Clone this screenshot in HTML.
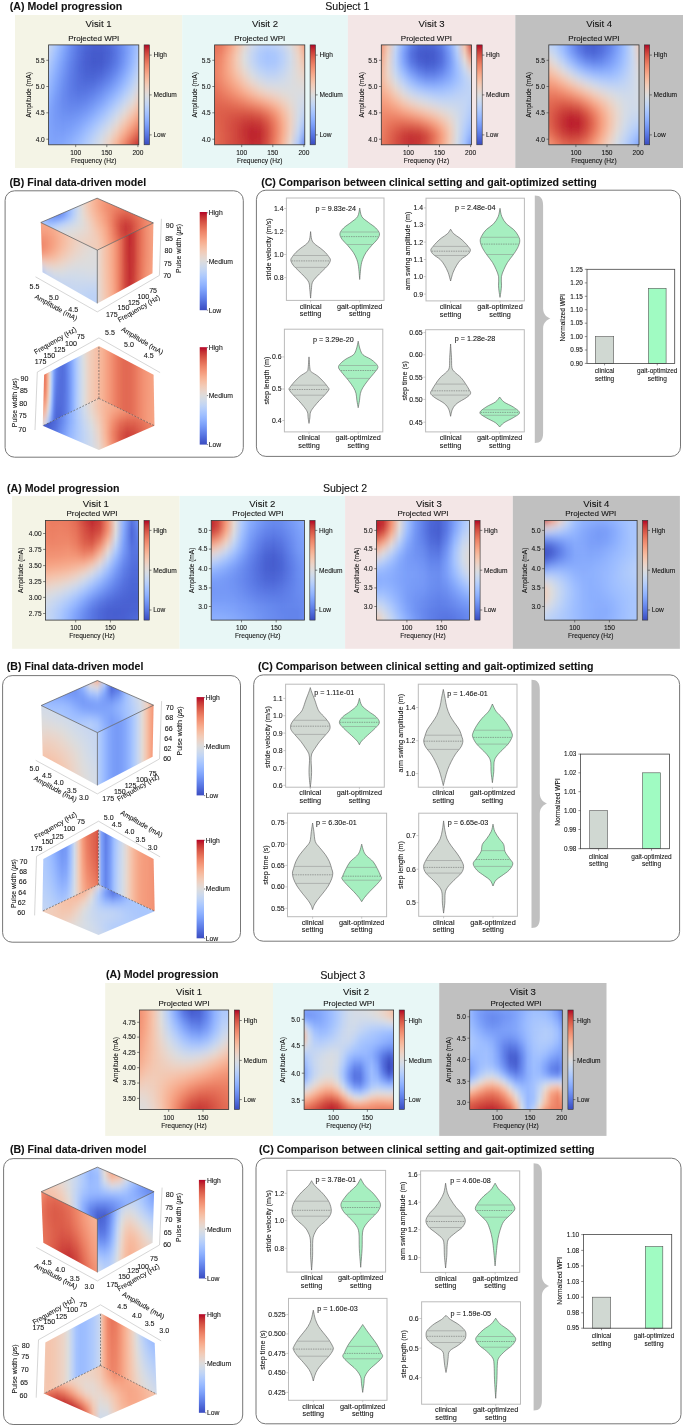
<!DOCTYPE html>
<html><head><meta charset="utf-8"><style>html,body{margin:0;padding:0;background:#fff;width:685px;height:1427px;overflow:hidden}svg{display:block;filter:blur(0.3px)}text{fill:#111;stroke:#111;stroke-width:0.08px}</style></head>
<body><svg width="685" height="1427" viewBox="0 0 685 1427" font-family='"Liberation Sans", sans-serif'>
<defs><clipPath id="c1"><rect x="48.6" y="44.9" width="90.2" height="99.9"/></clipPath><filter id="f2" x="-5%" y="-20%" width="110%" height="140%"><feGaussianBlur stdDeviation="0 4.16"/></filter><linearGradient id="l3"><stop offset="0" stop-color="#cfdaea"/><stop offset=".083" stop-color="#afcafc"/><stop offset=".167" stop-color="#8db0fe"/><stop offset=".25" stop-color="#6e90f2"/><stop offset=".333" stop-color="#5977e3"/><stop offset=".417" stop-color="#4e68d8"/><stop offset=".5" stop-color="#4961d2"/><stop offset=".583" stop-color="#4961d2"/><stop offset=".667" stop-color="#4f69d9"/><stop offset=".75" stop-color="#5e7de7"/><stop offset=".833" stop-color="#7597f6"/><stop offset=".917" stop-color="#90b2fe"/><stop offset="1" stop-color="#afcafc"/></linearGradient><linearGradient id="l4"><stop offset="0" stop-color="#cfdaea"/><stop offset=".083" stop-color="#afcafc"/><stop offset=".167" stop-color="#8db0fe"/><stop offset=".25" stop-color="#6e90f2"/><stop offset=".333" stop-color="#5977e3"/><stop offset=".417" stop-color="#4e68d8"/><stop offset=".5" stop-color="#4961d2"/><stop offset=".583" stop-color="#4961d2"/><stop offset=".667" stop-color="#4f69d9"/><stop offset=".75" stop-color="#5e7de7"/><stop offset=".833" stop-color="#7597f6"/><stop offset=".917" stop-color="#90b2fe"/><stop offset="1" stop-color="#afcafc"/></linearGradient><linearGradient id="l5"><stop offset="0" stop-color="#c4d5f3"/><stop offset=".083" stop-color="#a2c1ff"/><stop offset=".167" stop-color="#82a6fb"/><stop offset=".25" stop-color="#688aef"/><stop offset=".333" stop-color="#5572df"/><stop offset=".417" stop-color="#4961d2"/><stop offset=".5" stop-color="#445acc"/><stop offset=".583" stop-color="#445acc"/><stop offset=".667" stop-color="#4a63d3"/><stop offset=".75" stop-color="#5977e3"/><stop offset=".833" stop-color="#7093f3"/><stop offset=".917" stop-color="#8fb1fe"/><stop offset="1" stop-color="#b2ccfb"/></linearGradient><linearGradient id="l6"><stop offset="0" stop-color="#bad0f8"/><stop offset=".083" stop-color="#98b9ff"/><stop offset=".167" stop-color="#7b9ff9"/><stop offset=".25" stop-color="#6384eb"/><stop offset=".333" stop-color="#536edd"/><stop offset=".417" stop-color="#485fd1"/><stop offset=".5" stop-color="#4358cb"/><stop offset=".583" stop-color="#445acc"/><stop offset=".667" stop-color="#4c66d6"/><stop offset=".75" stop-color="#5b7ae5"/><stop offset=".833" stop-color="#7597f6"/><stop offset=".917" stop-color="#94b6ff"/><stop offset="1" stop-color="#bad0f8"/></linearGradient><linearGradient id="l7"><stop offset="0" stop-color="#afcafc"/><stop offset=".083" stop-color="#90b2fe"/><stop offset=".167" stop-color="#7699f6"/><stop offset=".25" stop-color="#6180e9"/><stop offset=".333" stop-color="#516ddb"/><stop offset=".417" stop-color="#4961d2"/><stop offset=".5" stop-color="#465ecf"/><stop offset=".583" stop-color="#4961d2"/><stop offset=".667" stop-color="#5470de"/><stop offset=".75" stop-color="#6485ec"/><stop offset=".833" stop-color="#7ea1fa"/><stop offset=".917" stop-color="#9ebeff"/><stop offset="1" stop-color="#c4d5f3"/></linearGradient><linearGradient id="l8"><stop offset="0" stop-color="#a5c3fe"/><stop offset=".083" stop-color="#88abfd"/><stop offset=".167" stop-color="#7093f3"/><stop offset=".25" stop-color="#5e7de7"/><stop offset=".333" stop-color="#536edd"/><stop offset=".417" stop-color="#4c66d6"/><stop offset=".5" stop-color="#4c66d6"/><stop offset=".583" stop-color="#536edd"/><stop offset=".667" stop-color="#5f7fe8"/><stop offset=".75" stop-color="#7396f5"/><stop offset=".833" stop-color="#8db0fe"/><stop offset=".917" stop-color="#adc9fd"/><stop offset="1" stop-color="#cfdaea"/></linearGradient><linearGradient id="l9"><stop offset="0" stop-color="#9dbdff"/><stop offset=".083" stop-color="#82a6fb"/><stop offset=".167" stop-color="#6c8ff1"/><stop offset=".25" stop-color="#5d7ce6"/><stop offset=".333" stop-color="#5470de"/><stop offset=".417" stop-color="#536edd"/><stop offset=".5" stop-color="#5673e0"/><stop offset=".583" stop-color="#6180e9"/><stop offset=".667" stop-color="#6f92f3"/><stop offset=".75" stop-color="#84a7fc"/><stop offset=".833" stop-color="#9ebeff"/><stop offset=".917" stop-color="#bcd2f7"/><stop offset="1" stop-color="#dcdddd"/></linearGradient><linearGradient id="l10"><stop offset="0" stop-color="#94b6ff"/><stop offset=".083" stop-color="#7b9ff9"/><stop offset=".167" stop-color="#6a8bef"/><stop offset=".25" stop-color="#5e7de7"/><stop offset=".333" stop-color="#5977e3"/><stop offset=".417" stop-color="#5b7ae5"/><stop offset=".5" stop-color="#6384eb"/><stop offset=".583" stop-color="#7093f3"/><stop offset=".667" stop-color="#82a6fb"/><stop offset=".75" stop-color="#98b9ff"/><stop offset=".833" stop-color="#b3cdfb"/><stop offset=".917" stop-color="#cedaeb"/><stop offset="1" stop-color="#e9d5cb"/></linearGradient><linearGradient id="l11"><stop offset="0" stop-color="#8caffe"/><stop offset=".083" stop-color="#779af7"/><stop offset=".167" stop-color="#6a8bef"/><stop offset=".25" stop-color="#6384eb"/><stop offset=".333" stop-color="#6282ea"/><stop offset=".417" stop-color="#6788ee"/><stop offset=".5" stop-color="#7295f4"/><stop offset=".583" stop-color="#81a4fb"/><stop offset=".667" stop-color="#97b8ff"/><stop offset=".75" stop-color="#afcafc"/><stop offset=".833" stop-color="#c9d7f0"/><stop offset=".917" stop-color="#e0dbd8"/><stop offset="1" stop-color="#f3c8b2"/></linearGradient><linearGradient id="l12"><stop offset="0" stop-color="#85a8fc"/><stop offset=".083" stop-color="#7699f6"/><stop offset=".167" stop-color="#6c8ff1"/><stop offset=".25" stop-color="#6a8bef"/><stop offset=".333" stop-color="#6c8ff1"/><stop offset=".417" stop-color="#7597f6"/><stop offset=".5" stop-color="#82a6fb"/><stop offset=".583" stop-color="#96b7ff"/><stop offset=".667" stop-color="#adc9fd"/><stop offset=".75" stop-color="#c5d6f2"/><stop offset=".833" stop-color="#dddcdc"/><stop offset=".917" stop-color="#f0cdbb"/><stop offset="1" stop-color="#f7b396"/></linearGradient><linearGradient id="l13"><stop offset="0" stop-color="#82a6fb"/><stop offset=".083" stop-color="#779af7"/><stop offset=".167" stop-color="#7295f4"/><stop offset=".25" stop-color="#7396f5"/><stop offset=".333" stop-color="#799cf8"/><stop offset=".417" stop-color="#85a8fc"/><stop offset=".5" stop-color="#96b7ff"/><stop offset=".583" stop-color="#aac7fd"/><stop offset=".667" stop-color="#c1d4f4"/><stop offset=".75" stop-color="#d9dce1"/><stop offset=".833" stop-color="#eed0c0"/><stop offset=".917" stop-color="#f7b89c"/><stop offset="1" stop-color="#f39778"/></linearGradient><linearGradient id="l14"><stop offset="0" stop-color="#82a6fb"/><stop offset=".083" stop-color="#7a9df8"/><stop offset=".167" stop-color="#779af7"/><stop offset=".25" stop-color="#7b9ff9"/><stop offset=".333" stop-color="#85a8fc"/><stop offset=".417" stop-color="#96b7ff"/><stop offset=".5" stop-color="#a9c6fd"/><stop offset=".583" stop-color="#bfd3f6"/><stop offset=".667" stop-color="#d5dbe5"/><stop offset=".75" stop-color="#ead4c8"/><stop offset=".833" stop-color="#f6bda2"/><stop offset=".917" stop-color="#f59c7d"/><stop offset="1" stop-color="#e8765c"/></linearGradient><linearGradient id="l15"><stop offset="0" stop-color="#82a6fb"/><stop offset=".083" stop-color="#7da0f9"/><stop offset=".167" stop-color="#7ea1fa"/><stop offset=".25" stop-color="#85a8fc"/><stop offset=".333" stop-color="#92b4fe"/><stop offset=".417" stop-color="#a5c3fe"/><stop offset=".5" stop-color="#bad0f8"/><stop offset=".583" stop-color="#cfdaea"/><stop offset=".667" stop-color="#e4d9d2"/><stop offset=".75" stop-color="#f4c5ad"/><stop offset=".833" stop-color="#f6a385"/><stop offset=".917" stop-color="#e97a5f"/><stop offset="1" stop-color="#d55042"/></linearGradient><linearGradient id="l16"><stop offset="0" stop-color="#82a6fb"/><stop offset=".083" stop-color="#81a4fb"/><stop offset=".167" stop-color="#85a8fc"/><stop offset=".25" stop-color="#90b2fe"/><stop offset=".333" stop-color="#9ebeff"/><stop offset=".417" stop-color="#b1cbfc"/><stop offset=".5" stop-color="#c6d6f1"/><stop offset=".583" stop-color="#dbdcde"/><stop offset=".667" stop-color="#efcfbf"/><stop offset=".75" stop-color="#f7b194"/><stop offset=".833" stop-color="#ee8468"/><stop offset=".917" stop-color="#d65244"/><stop offset="1" stop-color="#be242e"/></linearGradient><linearGradient id="l17"><stop offset="0" stop-color="#82a6fb"/><stop offset=".083" stop-color="#81a4fb"/><stop offset=".167" stop-color="#85a8fc"/><stop offset=".25" stop-color="#90b2fe"/><stop offset=".333" stop-color="#9ebeff"/><stop offset=".417" stop-color="#b1cbfc"/><stop offset=".5" stop-color="#c6d6f1"/><stop offset=".583" stop-color="#dbdcde"/><stop offset=".667" stop-color="#efcfbf"/><stop offset=".75" stop-color="#f7b194"/><stop offset=".833" stop-color="#ee8468"/><stop offset=".917" stop-color="#d65244"/><stop offset="1" stop-color="#be242e"/></linearGradient><linearGradient id="cb18" x1="0" y1="0" x2="0" y2="1"><stop offset="0" stop-color="#b40426"/><stop offset="0.05" stop-color="#c53334"/><stop offset="0.1" stop-color="#d65244"/><stop offset="0.15" stop-color="#e36c55"/><stop offset="0.2" stop-color="#ee8468"/><stop offset="0.25" stop-color="#f4987a"/><stop offset="0.3" stop-color="#f7ac8e"/><stop offset="0.35" stop-color="#f6bda2"/><stop offset="0.4" stop-color="#f2cbb7"/><stop offset="0.45" stop-color="#e9d5cb"/><stop offset="0.5" stop-color="#dddcdc"/><stop offset="0.55" stop-color="#cfdaea"/><stop offset="0.6" stop-color="#c0d4f5"/><stop offset="0.65" stop-color="#afcafc"/><stop offset="0.7" stop-color="#9ebeff"/><stop offset="0.75" stop-color="#8db0fe"/><stop offset="0.8" stop-color="#7b9ff9"/><stop offset="0.85" stop-color="#6a8bef"/><stop offset="0.9" stop-color="#5977e3"/><stop offset="0.95" stop-color="#4961d2"/><stop offset="1" stop-color="#3b4cc0"/></linearGradient><clipPath id="c19"><rect x="214.6" y="44.9" width="90.2" height="99.9"/></clipPath><filter id="f20" x="-5%" y="-20%" width="110%" height="140%"><feGaussianBlur stdDeviation="0 4.16"/></filter><linearGradient id="l21"><stop offset="0" stop-color="#e36c55"/><stop offset=".083" stop-color="#e97a5f"/><stop offset=".167" stop-color="#f4987a"/><stop offset=".25" stop-color="#f7bca1"/><stop offset=".333" stop-color="#e9d5cb"/><stop offset=".417" stop-color="#d2dbe8"/><stop offset=".5" stop-color="#c0d4f5"/><stop offset=".583" stop-color="#bbd1f8"/><stop offset=".667" stop-color="#c0d4f5"/><stop offset=".75" stop-color="#cbd8ee"/><stop offset=".833" stop-color="#dddcdc"/><stop offset=".917" stop-color="#f2cbb7"/><stop offset="1" stop-color="#f4987a"/></linearGradient><linearGradient id="l22"><stop offset="0" stop-color="#e36c55"/><stop offset=".083" stop-color="#e97a5f"/><stop offset=".167" stop-color="#f4987a"/><stop offset=".25" stop-color="#f7bca1"/><stop offset=".333" stop-color="#e9d5cb"/><stop offset=".417" stop-color="#d2dbe8"/><stop offset=".5" stop-color="#c0d4f5"/><stop offset=".583" stop-color="#bbd1f8"/><stop offset=".667" stop-color="#c0d4f5"/><stop offset=".75" stop-color="#cbd8ee"/><stop offset=".833" stop-color="#dddcdc"/><stop offset=".917" stop-color="#f2cbb7"/><stop offset="1" stop-color="#f4987a"/></linearGradient><linearGradient id="l23"><stop offset="0" stop-color="#e8765c"/><stop offset=".083" stop-color="#ee8468"/><stop offset=".167" stop-color="#f7a688"/><stop offset=".25" stop-color="#f3c8b2"/><stop offset=".333" stop-color="#dddcdc"/><stop offset=".417" stop-color="#c4d5f3"/><stop offset=".5" stop-color="#afcafc"/><stop offset=".583" stop-color="#a6c4fe"/><stop offset=".667" stop-color="#aac7fd"/><stop offset=".75" stop-color="#bad0f8"/><stop offset=".833" stop-color="#d1dae9"/><stop offset=".917" stop-color="#ecd3c5"/><stop offset="1" stop-color="#f7ac8e"/></linearGradient><linearGradient id="l24"><stop offset="0" stop-color="#ea7b60"/><stop offset=".083" stop-color="#f18d6f"/><stop offset=".167" stop-color="#f7ac8e"/><stop offset=".25" stop-color="#f2cbb7"/><stop offset=".333" stop-color="#dcdddd"/><stop offset=".417" stop-color="#c4d5f3"/><stop offset=".5" stop-color="#afcafc"/><stop offset=".583" stop-color="#a6c4fe"/><stop offset=".667" stop-color="#a9c6fd"/><stop offset=".75" stop-color="#b9d0f9"/><stop offset=".833" stop-color="#cfdaea"/><stop offset=".917" stop-color="#e8d6cc"/><stop offset="1" stop-color="#f6bda2"/></linearGradient><linearGradient id="l25"><stop offset="0" stop-color="#eb7d62"/><stop offset=".083" stop-color="#f29072"/><stop offset=".167" stop-color="#f7ac8e"/><stop offset=".25" stop-color="#f3c7b1"/><stop offset=".333" stop-color="#e4d9d2"/><stop offset=".417" stop-color="#cedaeb"/><stop offset=".5" stop-color="#bcd2f7"/><stop offset=".583" stop-color="#b3cdfb"/><stop offset=".667" stop-color="#b5cdfa"/><stop offset=".75" stop-color="#c1d4f4"/><stop offset=".833" stop-color="#d3dbe7"/><stop offset=".917" stop-color="#e5d8d1"/><stop offset="1" stop-color="#f1ccb8"/></linearGradient><linearGradient id="l26"><stop offset="0" stop-color="#ea7b60"/><stop offset=".083" stop-color="#f18f71"/><stop offset=".167" stop-color="#f6a586"/><stop offset=".25" stop-color="#f7bca1"/><stop offset=".333" stop-color="#efcfbf"/><stop offset=".417" stop-color="#dedcdb"/><stop offset=".5" stop-color="#cfdaea"/><stop offset=".583" stop-color="#c6d6f1"/><stop offset=".667" stop-color="#c6d6f1"/><stop offset=".75" stop-color="#cdd9ec"/><stop offset=".833" stop-color="#d7dce3"/><stop offset=".917" stop-color="#e1dad6"/><stop offset="1" stop-color="#e9d5cb"/></linearGradient><linearGradient id="l27"><stop offset="0" stop-color="#e7745b"/><stop offset=".083" stop-color="#ee8468"/><stop offset=".167" stop-color="#f39778"/><stop offset=".25" stop-color="#f7aa8c"/><stop offset=".333" stop-color="#f6bfa6"/><stop offset=".417" stop-color="#efcfbf"/><stop offset=".5" stop-color="#e3d9d3"/><stop offset=".583" stop-color="#dadce0"/><stop offset=".667" stop-color="#d7dce3"/><stop offset=".75" stop-color="#d7dce3"/><stop offset=".833" stop-color="#d9dce1"/><stop offset=".917" stop-color="#dddcdc"/><stop offset="1" stop-color="#e0dbd8"/></linearGradient><linearGradient id="l28"><stop offset="0" stop-color="#e36c55"/><stop offset=".083" stop-color="#e8765c"/><stop offset=".167" stop-color="#ee8468"/><stop offset=".25" stop-color="#f39475"/><stop offset=".333" stop-color="#f6a586"/><stop offset=".417" stop-color="#f7b79b"/><stop offset=".5" stop-color="#f4c6af"/><stop offset=".583" stop-color="#efcfbf"/><stop offset=".667" stop-color="#e9d5cb"/><stop offset=".75" stop-color="#e2dad5"/><stop offset=".833" stop-color="#dddcdc"/><stop offset=".917" stop-color="#d9dce1"/><stop offset="1" stop-color="#d7dce3"/></linearGradient><linearGradient id="l29"><stop offset="0" stop-color="#e0654f"/><stop offset=".083" stop-color="#e26952"/><stop offset=".167" stop-color="#e46e56"/><stop offset=".25" stop-color="#e8765c"/><stop offset=".333" stop-color="#ec8165"/><stop offset=".417" stop-color="#f18f71"/><stop offset=".5" stop-color="#f59d7e"/><stop offset=".583" stop-color="#f7ad90"/><stop offset=".667" stop-color="#f6bea4"/><stop offset=".75" stop-color="#f0cdbb"/><stop offset=".833" stop-color="#e4d9d2"/><stop offset=".917" stop-color="#d7dce3"/><stop offset="1" stop-color="#cdd9ec"/></linearGradient><linearGradient id="l30"><stop offset="0" stop-color="#df634e"/><stop offset=".083" stop-color="#dd5f4b"/><stop offset=".167" stop-color="#dc5d4a"/><stop offset=".25" stop-color="#dc5d4a"/><stop offset=".333" stop-color="#dc5d4a"/><stop offset=".417" stop-color="#de614d"/><stop offset=".5" stop-color="#e36c55"/><stop offset=".583" stop-color="#ec8165"/><stop offset=".667" stop-color="#f59d7e"/><stop offset=".75" stop-color="#f7bca1"/><stop offset=".833" stop-color="#ebd3c6"/><stop offset=".917" stop-color="#d5dbe5"/><stop offset="1" stop-color="#c0d4f5"/></linearGradient><linearGradient id="l31"><stop offset="0" stop-color="#df634e"/><stop offset=".083" stop-color="#dc5d4a"/><stop offset=".167" stop-color="#d75445"/><stop offset=".25" stop-color="#d24b40"/><stop offset=".333" stop-color="#cd423b"/><stop offset=".417" stop-color="#cb3e38"/><stop offset=".5" stop-color="#cf453c"/><stop offset=".583" stop-color="#dd5f4b"/><stop offset=".667" stop-color="#ee8468"/><stop offset=".75" stop-color="#f7af91"/><stop offset=".833" stop-color="#efcfbf"/><stop offset=".917" stop-color="#d2dbe8"/><stop offset="1" stop-color="#aec9fc"/></linearGradient><linearGradient id="l32"><stop offset="0" stop-color="#e16751"/><stop offset=".083" stop-color="#dd5f4b"/><stop offset=".167" stop-color="#d65244"/><stop offset=".25" stop-color="#cf453c"/><stop offset=".333" stop-color="#c53334"/><stop offset=".417" stop-color="#c0282f"/><stop offset=".5" stop-color="#c32e31"/><stop offset=".583" stop-color="#d44e41"/><stop offset=".667" stop-color="#ea7b60"/><stop offset=".75" stop-color="#f7a98b"/><stop offset=".833" stop-color="#efcfbf"/><stop offset=".917" stop-color="#cbd8ee"/><stop offset="1" stop-color="#97b8ff"/></linearGradient><linearGradient id="l33"><stop offset="0" stop-color="#e36c55"/><stop offset=".083" stop-color="#de614d"/><stop offset=".167" stop-color="#d75445"/><stop offset=".25" stop-color="#cf453c"/><stop offset=".333" stop-color="#c53334"/><stop offset=".417" stop-color="#bd1f2d"/><stop offset=".5" stop-color="#c0282f"/><stop offset=".583" stop-color="#d24b40"/><stop offset=".667" stop-color="#ea7b60"/><stop offset=".75" stop-color="#f7ac8e"/><stop offset=".833" stop-color="#ebd3c6"/><stop offset=".917" stop-color="#bfd3f6"/><stop offset="1" stop-color="#7a9df8"/></linearGradient><linearGradient id="l34"><stop offset="0" stop-color="#e57058"/><stop offset=".083" stop-color="#de614d"/><stop offset=".167" stop-color="#d65244"/><stop offset=".25" stop-color="#d0473d"/><stop offset=".333" stop-color="#ca3b37"/><stop offset=".417" stop-color="#c32e31"/><stop offset=".5" stop-color="#c53334"/><stop offset=".583" stop-color="#d75445"/><stop offset=".667" stop-color="#ee8468"/><stop offset=".75" stop-color="#f7b599"/><stop offset=".833" stop-color="#e2dad5"/><stop offset=".917" stop-color="#a9c6fd"/><stop offset="1" stop-color="#5977e3"/></linearGradient><linearGradient id="l35"><stop offset="0" stop-color="#e57058"/><stop offset=".083" stop-color="#de614d"/><stop offset=".167" stop-color="#d65244"/><stop offset=".25" stop-color="#d0473d"/><stop offset=".333" stop-color="#ca3b37"/><stop offset=".417" stop-color="#c32e31"/><stop offset=".5" stop-color="#c53334"/><stop offset=".583" stop-color="#d75445"/><stop offset=".667" stop-color="#ee8468"/><stop offset=".75" stop-color="#f7b599"/><stop offset=".833" stop-color="#e2dad5"/><stop offset=".917" stop-color="#a9c6fd"/><stop offset="1" stop-color="#5977e3"/></linearGradient><linearGradient id="cb36" x1="0" y1="0" x2="0" y2="1"><stop offset="0" stop-color="#b40426"/><stop offset="0.05" stop-color="#c53334"/><stop offset="0.1" stop-color="#d65244"/><stop offset="0.15" stop-color="#e36c55"/><stop offset="0.2" stop-color="#ee8468"/><stop offset="0.25" stop-color="#f4987a"/><stop offset="0.3" stop-color="#f7ac8e"/><stop offset="0.35" stop-color="#f6bda2"/><stop offset="0.4" stop-color="#f2cbb7"/><stop offset="0.45" stop-color="#e9d5cb"/><stop offset="0.5" stop-color="#dddcdc"/><stop offset="0.55" stop-color="#cfdaea"/><stop offset="0.6" stop-color="#c0d4f5"/><stop offset="0.65" stop-color="#afcafc"/><stop offset="0.7" stop-color="#9ebeff"/><stop offset="0.75" stop-color="#8db0fe"/><stop offset="0.8" stop-color="#7b9ff9"/><stop offset="0.85" stop-color="#6a8bef"/><stop offset="0.9" stop-color="#5977e3"/><stop offset="0.95" stop-color="#4961d2"/><stop offset="1" stop-color="#3b4cc0"/></linearGradient><clipPath id="c37"><rect x="381.3" y="44.9" width="90.2" height="99.9"/></clipPath><filter id="f38" x="-5%" y="-20%" width="110%" height="140%"><feGaussianBlur stdDeviation="0 4.16"/></filter><linearGradient id="l39"><stop offset="0" stop-color="#f18d6f"/><stop offset=".083" stop-color="#f2c9b4"/><stop offset=".167" stop-color="#c6d6f1"/><stop offset=".25" stop-color="#8db0fe"/><stop offset=".333" stop-color="#6384eb"/><stop offset=".417" stop-color="#506bda"/><stop offset=".5" stop-color="#4c66d6"/><stop offset=".583" stop-color="#506bda"/><stop offset=".667" stop-color="#5f7fe8"/><stop offset=".75" stop-color="#85a8fc"/><stop offset=".833" stop-color="#c0d4f5"/><stop offset=".917" stop-color="#f5c0a7"/><stop offset="1" stop-color="#c53334"/></linearGradient><linearGradient id="l40"><stop offset="0" stop-color="#f18d6f"/><stop offset=".083" stop-color="#f2c9b4"/><stop offset=".167" stop-color="#c6d6f1"/><stop offset=".25" stop-color="#8db0fe"/><stop offset=".333" stop-color="#6384eb"/><stop offset=".417" stop-color="#506bda"/><stop offset=".5" stop-color="#4c66d6"/><stop offset=".583" stop-color="#506bda"/><stop offset=".667" stop-color="#5f7fe8"/><stop offset=".75" stop-color="#85a8fc"/><stop offset=".833" stop-color="#c0d4f5"/><stop offset=".917" stop-color="#f5c0a7"/><stop offset="1" stop-color="#c53334"/></linearGradient><linearGradient id="l41"><stop offset="0" stop-color="#f4987a"/><stop offset=".083" stop-color="#efcfbf"/><stop offset=".167" stop-color="#bbd1f8"/><stop offset=".25" stop-color="#7ea1fa"/><stop offset=".333" stop-color="#5470de"/><stop offset=".417" stop-color="#445acc"/><stop offset=".5" stop-color="#4257c9"/><stop offset=".583" stop-color="#445acc"/><stop offset=".667" stop-color="#536edd"/><stop offset=".75" stop-color="#7699f6"/><stop offset=".833" stop-color="#b2ccfb"/><stop offset=".917" stop-color="#f0cdbb"/><stop offset="1" stop-color="#e0654f"/></linearGradient><linearGradient id="l42"><stop offset="0" stop-color="#f6a586"/><stop offset=".083" stop-color="#ead4c8"/><stop offset=".167" stop-color="#bad0f8"/><stop offset=".25" stop-color="#81a4fb"/><stop offset=".333" stop-color="#5977e3"/><stop offset=".417" stop-color="#485fd1"/><stop offset=".5" stop-color="#4358cb"/><stop offset=".583" stop-color="#455cce"/><stop offset=".667" stop-color="#536edd"/><stop offset=".75" stop-color="#7295f4"/><stop offset=".833" stop-color="#a5c3fe"/><stop offset=".917" stop-color="#dedcdb"/><stop offset="1" stop-color="#f6a586"/></linearGradient><linearGradient id="l43"><stop offset="0" stop-color="#f7af91"/><stop offset=".083" stop-color="#e9d5cb"/><stop offset=".167" stop-color="#c0d4f5"/><stop offset=".25" stop-color="#93b5fe"/><stop offset=".333" stop-color="#6e90f2"/><stop offset=".417" stop-color="#5977e3"/><stop offset=".5" stop-color="#506bda"/><stop offset=".583" stop-color="#516ddb"/><stop offset=".667" stop-color="#5e7de7"/><stop offset=".75" stop-color="#799cf8"/><stop offset=".833" stop-color="#9ebeff"/><stop offset=".917" stop-color="#c7d7f0"/><stop offset="1" stop-color="#ecd3c5"/></linearGradient><linearGradient id="l44"><stop offset="0" stop-color="#f7b396"/><stop offset=".083" stop-color="#ecd3c5"/><stop offset=".167" stop-color="#cfdaea"/><stop offset=".25" stop-color="#adc9fd"/><stop offset=".333" stop-color="#8db0fe"/><stop offset=".417" stop-color="#7699f6"/><stop offset=".5" stop-color="#6a8bef"/><stop offset=".583" stop-color="#6a8bef"/><stop offset=".667" stop-color="#7597f6"/><stop offset=".75" stop-color="#86a9fc"/><stop offset=".833" stop-color="#9ebeff"/><stop offset=".917" stop-color="#b9d0f9"/><stop offset="1" stop-color="#cfdaea"/></linearGradient><linearGradient id="l45"><stop offset="0" stop-color="#f7af91"/><stop offset=".083" stop-color="#f3c7b1"/><stop offset=".167" stop-color="#e2dad5"/><stop offset=".25" stop-color="#c9d7f0"/><stop offset=".333" stop-color="#aec9fc"/><stop offset=".417" stop-color="#9bbcff"/><stop offset=".5" stop-color="#90b2fe"/><stop offset=".583" stop-color="#8db0fe"/><stop offset=".667" stop-color="#92b4fe"/><stop offset=".75" stop-color="#9bbcff"/><stop offset=".833" stop-color="#aac7fd"/><stop offset=".917" stop-color="#b9d0f9"/><stop offset="1" stop-color="#c3d5f4"/></linearGradient><linearGradient id="l46"><stop offset="0" stop-color="#f6a586"/><stop offset=".083" stop-color="#f7b599"/><stop offset=".167" stop-color="#f2cbb7"/><stop offset=".25" stop-color="#e1dad6"/><stop offset=".333" stop-color="#cfdaea"/><stop offset=".417" stop-color="#c3d5f4"/><stop offset=".5" stop-color="#bad0f8"/><stop offset=".583" stop-color="#b2ccfb"/><stop offset=".667" stop-color="#afcafc"/><stop offset=".75" stop-color="#b3cdfb"/><stop offset=".833" stop-color="#bad0f8"/><stop offset=".917" stop-color="#bfd3f6"/><stop offset="1" stop-color="#c0d4f5"/></linearGradient><linearGradient id="l47"><stop offset="0" stop-color="#f4987a"/><stop offset=".083" stop-color="#f6a283"/><stop offset=".167" stop-color="#f7b497"/><stop offset=".25" stop-color="#f4c6af"/><stop offset=".333" stop-color="#ebd3c6"/><stop offset=".417" stop-color="#e2dad5"/><stop offset=".5" stop-color="#d9dce1"/><stop offset=".583" stop-color="#d1dae9"/><stop offset=".667" stop-color="#cad8ef"/><stop offset=".75" stop-color="#c7d7f0"/><stop offset=".833" stop-color="#c6d6f1"/><stop offset=".917" stop-color="#c3d5f4"/><stop offset="1" stop-color="#bad0f8"/></linearGradient><linearGradient id="l48"><stop offset="0" stop-color="#f18d6f"/><stop offset=".083" stop-color="#f29072"/><stop offset=".167" stop-color="#f4987a"/><stop offset=".25" stop-color="#f7a688"/><stop offset=".333" stop-color="#f7b396"/><stop offset=".417" stop-color="#f5c0a7"/><stop offset=".5" stop-color="#f2cbb7"/><stop offset=".583" stop-color="#ebd3c6"/><stop offset=".667" stop-color="#e2dad5"/><stop offset=".75" stop-color="#d9dce1"/><stop offset=".833" stop-color="#cfdaea"/><stop offset=".917" stop-color="#c3d5f4"/><stop offset="1" stop-color="#afcafc"/></linearGradient><linearGradient id="l49"><stop offset="0" stop-color="#ee8669"/><stop offset=".083" stop-color="#ec7f63"/><stop offset=".167" stop-color="#ea7b60"/><stop offset=".25" stop-color="#eb7d62"/><stop offset=".333" stop-color="#ee8468"/><stop offset=".417" stop-color="#f29072"/><stop offset=".5" stop-color="#f6a283"/><stop offset=".583" stop-color="#f7b497"/><stop offset=".667" stop-color="#f3c7b1"/><stop offset=".75" stop-color="#e8d6cc"/><stop offset=".833" stop-color="#d5dbe5"/><stop offset=".917" stop-color="#bed2f6"/><stop offset="1" stop-color="#a5c3fe"/></linearGradient><linearGradient id="l50"><stop offset="0" stop-color="#ee8468"/><stop offset=".083" stop-color="#e67259"/><stop offset=".167" stop-color="#df634e"/><stop offset=".25" stop-color="#d85646"/><stop offset=".333" stop-color="#d65244"/><stop offset=".417" stop-color="#d95847"/><stop offset=".5" stop-color="#e36c55"/><stop offset=".583" stop-color="#f08a6c"/><stop offset=".667" stop-color="#f7ac8e"/><stop offset=".75" stop-color="#f1ccb8"/><stop offset=".833" stop-color="#d7dce3"/><stop offset=".917" stop-color="#b6cefa"/><stop offset="1" stop-color="#97b8ff"/></linearGradient><linearGradient id="l51"><stop offset="0" stop-color="#ec8165"/><stop offset=".083" stop-color="#e36b54"/><stop offset=".167" stop-color="#d65244"/><stop offset=".25" stop-color="#ca3b37"/><stop offset=".333" stop-color="#c32e31"/><stop offset=".417" stop-color="#c43032"/><stop offset=".5" stop-color="#d0473d"/><stop offset=".583" stop-color="#e36c55"/><stop offset=".667" stop-color="#f59c7d"/><stop offset=".75" stop-color="#f3c7b1"/><stop offset=".833" stop-color="#d7dce3"/><stop offset=".917" stop-color="#adc9fd"/><stop offset="1" stop-color="#85a8fc"/></linearGradient><linearGradient id="l52"><stop offset="0" stop-color="#ea7b60"/><stop offset=".083" stop-color="#e26952"/><stop offset=".167" stop-color="#d65244"/><stop offset=".25" stop-color="#cc403a"/><stop offset=".333" stop-color="#c53334"/><stop offset=".417" stop-color="#ca3b37"/><stop offset=".5" stop-color="#d65244"/><stop offset=".583" stop-color="#e97a5f"/><stop offset=".667" stop-color="#f6a586"/><stop offset=".75" stop-color="#f1ccb8"/><stop offset=".833" stop-color="#d2dbe8"/><stop offset=".917" stop-color="#a2c1ff"/><stop offset="1" stop-color="#6a8bef"/></linearGradient><linearGradient id="l53"><stop offset="0" stop-color="#ea7b60"/><stop offset=".083" stop-color="#e26952"/><stop offset=".167" stop-color="#d65244"/><stop offset=".25" stop-color="#cc403a"/><stop offset=".333" stop-color="#c53334"/><stop offset=".417" stop-color="#ca3b37"/><stop offset=".5" stop-color="#d65244"/><stop offset=".583" stop-color="#e97a5f"/><stop offset=".667" stop-color="#f6a586"/><stop offset=".75" stop-color="#f1ccb8"/><stop offset=".833" stop-color="#d2dbe8"/><stop offset=".917" stop-color="#a2c1ff"/><stop offset="1" stop-color="#6a8bef"/></linearGradient><linearGradient id="cb54" x1="0" y1="0" x2="0" y2="1"><stop offset="0" stop-color="#b40426"/><stop offset="0.05" stop-color="#c53334"/><stop offset="0.1" stop-color="#d65244"/><stop offset="0.15" stop-color="#e36c55"/><stop offset="0.2" stop-color="#ee8468"/><stop offset="0.25" stop-color="#f4987a"/><stop offset="0.3" stop-color="#f7ac8e"/><stop offset="0.35" stop-color="#f6bda2"/><stop offset="0.4" stop-color="#f2cbb7"/><stop offset="0.45" stop-color="#e9d5cb"/><stop offset="0.5" stop-color="#dddcdc"/><stop offset="0.55" stop-color="#cfdaea"/><stop offset="0.6" stop-color="#c0d4f5"/><stop offset="0.65" stop-color="#afcafc"/><stop offset="0.7" stop-color="#9ebeff"/><stop offset="0.75" stop-color="#8db0fe"/><stop offset="0.8" stop-color="#7b9ff9"/><stop offset="0.85" stop-color="#6a8bef"/><stop offset="0.9" stop-color="#5977e3"/><stop offset="0.95" stop-color="#4961d2"/><stop offset="1" stop-color="#3b4cc0"/></linearGradient><clipPath id="c55"><rect x="548.8" y="44.9" width="90.2" height="99.9"/></clipPath><filter id="f56" x="-5%" y="-20%" width="110%" height="140%"><feGaussianBlur stdDeviation="0 4.16"/></filter><linearGradient id="l57"><stop offset="0" stop-color="#c0d4f5"/><stop offset=".083" stop-color="#b3cdfb"/><stop offset=".167" stop-color="#97b8ff"/><stop offset=".25" stop-color="#7597f6"/><stop offset=".333" stop-color="#5977e3"/><stop offset=".417" stop-color="#4b64d5"/><stop offset=".5" stop-color="#4961d2"/><stop offset=".583" stop-color="#506bda"/><stop offset=".667" stop-color="#5f7fe8"/><stop offset=".75" stop-color="#7a9df8"/><stop offset=".833" stop-color="#9ebeff"/><stop offset=".917" stop-color="#cbd8ee"/><stop offset="1" stop-color="#f2cbb7"/></linearGradient><linearGradient id="l58"><stop offset="0" stop-color="#c0d4f5"/><stop offset=".083" stop-color="#b3cdfb"/><stop offset=".167" stop-color="#97b8ff"/><stop offset=".25" stop-color="#7597f6"/><stop offset=".333" stop-color="#5977e3"/><stop offset=".417" stop-color="#4b64d5"/><stop offset=".5" stop-color="#4961d2"/><stop offset=".583" stop-color="#506bda"/><stop offset=".667" stop-color="#5f7fe8"/><stop offset=".75" stop-color="#7a9df8"/><stop offset=".833" stop-color="#9ebeff"/><stop offset=".917" stop-color="#cbd8ee"/><stop offset="1" stop-color="#f2cbb7"/></linearGradient><linearGradient id="l59"><stop offset="0" stop-color="#d6dce4"/><stop offset=".083" stop-color="#c0d4f5"/><stop offset=".167" stop-color="#a1c0ff"/><stop offset=".25" stop-color="#7da0f9"/><stop offset=".333" stop-color="#6180e9"/><stop offset=".417" stop-color="#4f69d9"/><stop offset=".5" stop-color="#4b64d5"/><stop offset=".583" stop-color="#5470de"/><stop offset=".667" stop-color="#6687ed"/><stop offset=".75" stop-color="#80a3fa"/><stop offset=".833" stop-color="#9fbfff"/><stop offset=".917" stop-color="#c7d7f0"/><stop offset="1" stop-color="#eed0c0"/></linearGradient><linearGradient id="l60"><stop offset="0" stop-color="#e9d5cb"/><stop offset=".083" stop-color="#d6dce4"/><stop offset=".167" stop-color="#bad0f8"/><stop offset=".25" stop-color="#98b9ff"/><stop offset=".333" stop-color="#7b9ff9"/><stop offset=".417" stop-color="#6788ee"/><stop offset=".5" stop-color="#5f7fe8"/><stop offset=".583" stop-color="#6485ec"/><stop offset=".667" stop-color="#7597f6"/><stop offset=".75" stop-color="#89acfd"/><stop offset=".833" stop-color="#a5c3fe"/><stop offset=".917" stop-color="#c6d6f1"/><stop offset="1" stop-color="#e9d5cb"/></linearGradient><linearGradient id="l61"><stop offset="0" stop-color="#f5c4ac"/><stop offset=".083" stop-color="#edd2c3"/><stop offset=".167" stop-color="#d9dce1"/><stop offset=".25" stop-color="#bfd3f6"/><stop offset=".333" stop-color="#a3c2fe"/><stop offset=".417" stop-color="#8fb1fe"/><stop offset=".5" stop-color="#84a7fc"/><stop offset=".583" stop-color="#82a6fb"/><stop offset=".667" stop-color="#89acfd"/><stop offset=".75" stop-color="#98b9ff"/><stop offset=".833" stop-color="#aec9fc"/><stop offset=".917" stop-color="#c9d7f0"/><stop offset="1" stop-color="#e2dad5"/></linearGradient><linearGradient id="l62"><stop offset="0" stop-color="#f7ac8e"/><stop offset=".083" stop-color="#f7b99e"/><stop offset=".167" stop-color="#f2cbb7"/><stop offset=".25" stop-color="#e3d9d3"/><stop offset=".333" stop-color="#cfdaea"/><stop offset=".417" stop-color="#bed2f6"/><stop offset=".5" stop-color="#afcafc"/><stop offset=".583" stop-color="#a7c5fe"/><stop offset=".667" stop-color="#a5c3fe"/><stop offset=".75" stop-color="#abc8fd"/><stop offset=".833" stop-color="#bad0f8"/><stop offset=".917" stop-color="#cbd8ee"/><stop offset="1" stop-color="#dddcdc"/></linearGradient><linearGradient id="l63"><stop offset="0" stop-color="#f29274"/><stop offset=".083" stop-color="#f49a7b"/><stop offset=".167" stop-color="#f7aa8c"/><stop offset=".25" stop-color="#f6bda2"/><stop offset=".333" stop-color="#f0cdbb"/><stop offset=".417" stop-color="#e4d9d2"/><stop offset=".5" stop-color="#d7dce3"/><stop offset=".583" stop-color="#cbd8ee"/><stop offset=".667" stop-color="#c4d5f3"/><stop offset=".75" stop-color="#c1d4f4"/><stop offset=".833" stop-color="#c5d6f2"/><stop offset=".917" stop-color="#cdd9ec"/><stop offset="1" stop-color="#d9dce1"/></linearGradient><linearGradient id="l64"><stop offset="0" stop-color="#ea7b60"/><stop offset=".083" stop-color="#ea7b60"/><stop offset=".167" stop-color="#ee8468"/><stop offset=".25" stop-color="#f29274"/><stop offset=".333" stop-color="#f6a586"/><stop offset=".417" stop-color="#f7b99e"/><stop offset=".5" stop-color="#f2cbb7"/><stop offset=".583" stop-color="#e8d6cc"/><stop offset=".667" stop-color="#dddcdc"/><stop offset=".75" stop-color="#d4dbe6"/><stop offset=".833" stop-color="#cfdaea"/><stop offset=".917" stop-color="#cfdaea"/><stop offset="1" stop-color="#d7dce3"/></linearGradient><linearGradient id="l65"><stop offset="0" stop-color="#e36c55"/><stop offset=".083" stop-color="#e0654f"/><stop offset=".167" stop-color="#dd5f4b"/><stop offset=".25" stop-color="#df634e"/><stop offset=".333" stop-color="#e57058"/><stop offset=".417" stop-color="#f08b6e"/><stop offset=".5" stop-color="#f7a889"/><stop offset=".583" stop-color="#f6bfa6"/><stop offset=".667" stop-color="#edd1c2"/><stop offset=".75" stop-color="#e0dbd8"/><stop offset=".833" stop-color="#d5dbe5"/><stop offset=".917" stop-color="#d1dae9"/><stop offset="1" stop-color="#d5dbe5"/></linearGradient><linearGradient id="l66"><stop offset="0" stop-color="#e16751"/><stop offset=".083" stop-color="#d75445"/><stop offset=".167" stop-color="#cc403a"/><stop offset=".25" stop-color="#c83836"/><stop offset=".333" stop-color="#cc403a"/><stop offset=".417" stop-color="#dd5f4b"/><stop offset=".5" stop-color="#ee8468"/><stop offset=".583" stop-color="#f7a98b"/><stop offset=".667" stop-color="#f4c6af"/><stop offset=".75" stop-color="#e7d7ce"/><stop offset=".833" stop-color="#d7dce3"/><stop offset=".917" stop-color="#cedaeb"/><stop offset="1" stop-color="#cfdaea"/></linearGradient><linearGradient id="l67"><stop offset="0" stop-color="#e16751"/><stop offset=".083" stop-color="#d24b40"/><stop offset=".167" stop-color="#c43032"/><stop offset=".25" stop-color="#bb1b2c"/><stop offset=".333" stop-color="#be242e"/><stop offset=".417" stop-color="#cf453c"/><stop offset=".5" stop-color="#e57058"/><stop offset=".583" stop-color="#f59d7e"/><stop offset=".667" stop-color="#f5c0a7"/><stop offset=".75" stop-color="#e8d6cc"/><stop offset=".833" stop-color="#d5dbe5"/><stop offset=".917" stop-color="#c7d7f0"/><stop offset="1" stop-color="#c3d5f4"/></linearGradient><linearGradient id="l68"><stop offset="0" stop-color="#e36c55"/><stop offset=".083" stop-color="#d55042"/><stop offset=".167" stop-color="#c53334"/><stop offset=".25" stop-color="#bd1f2d"/><stop offset=".333" stop-color="#be242e"/><stop offset=".417" stop-color="#d0473d"/><stop offset=".5" stop-color="#e57058"/><stop offset=".583" stop-color="#f59f80"/><stop offset=".667" stop-color="#f5c2aa"/><stop offset=".75" stop-color="#e5d8d1"/><stop offset=".833" stop-color="#cfdaea"/><stop offset=".917" stop-color="#bcd2f7"/><stop offset="1" stop-color="#afcafc"/></linearGradient><linearGradient id="l69"><stop offset="0" stop-color="#ec7f63"/><stop offset=".083" stop-color="#df634e"/><stop offset=".167" stop-color="#d1493f"/><stop offset=".25" stop-color="#ca3b37"/><stop offset=".333" stop-color="#cc403a"/><stop offset=".417" stop-color="#da5a49"/><stop offset=".5" stop-color="#ed8366"/><stop offset=".583" stop-color="#f7aa8c"/><stop offset=".667" stop-color="#f2cbb7"/><stop offset=".75" stop-color="#dddcdc"/><stop offset=".833" stop-color="#c6d6f1"/><stop offset=".917" stop-color="#adc9fd"/><stop offset="1" stop-color="#97b8ff"/></linearGradient><linearGradient id="l70"><stop offset="0" stop-color="#f59d7e"/><stop offset=".083" stop-color="#ed8366"/><stop offset=".167" stop-color="#e36c55"/><stop offset=".25" stop-color="#df634e"/><stop offset=".333" stop-color="#e16751"/><stop offset=".417" stop-color="#eb7d62"/><stop offset=".5" stop-color="#f59d7e"/><stop offset=".583" stop-color="#f6bea4"/><stop offset=".667" stop-color="#e9d5cb"/><stop offset=".75" stop-color="#d3dbe7"/><stop offset=".833" stop-color="#bad0f8"/><stop offset=".917" stop-color="#9dbdff"/><stop offset="1" stop-color="#7b9ff9"/></linearGradient><linearGradient id="l71"><stop offset="0" stop-color="#f59d7e"/><stop offset=".083" stop-color="#ed8366"/><stop offset=".167" stop-color="#e36c55"/><stop offset=".25" stop-color="#df634e"/><stop offset=".333" stop-color="#e16751"/><stop offset=".417" stop-color="#eb7d62"/><stop offset=".5" stop-color="#f59d7e"/><stop offset=".583" stop-color="#f6bea4"/><stop offset=".667" stop-color="#e9d5cb"/><stop offset=".75" stop-color="#d3dbe7"/><stop offset=".833" stop-color="#bad0f8"/><stop offset=".917" stop-color="#9dbdff"/><stop offset="1" stop-color="#7b9ff9"/></linearGradient><linearGradient id="cb72" x1="0" y1="0" x2="0" y2="1"><stop offset="0" stop-color="#b40426"/><stop offset="0.05" stop-color="#c53334"/><stop offset="0.1" stop-color="#d65244"/><stop offset="0.15" stop-color="#e36c55"/><stop offset="0.2" stop-color="#ee8468"/><stop offset="0.25" stop-color="#f4987a"/><stop offset="0.3" stop-color="#f7ac8e"/><stop offset="0.35" stop-color="#f6bda2"/><stop offset="0.4" stop-color="#f2cbb7"/><stop offset="0.45" stop-color="#e9d5cb"/><stop offset="0.5" stop-color="#dddcdc"/><stop offset="0.55" stop-color="#cfdaea"/><stop offset="0.6" stop-color="#c0d4f5"/><stop offset="0.65" stop-color="#afcafc"/><stop offset="0.7" stop-color="#9ebeff"/><stop offset="0.75" stop-color="#8db0fe"/><stop offset="0.8" stop-color="#7b9ff9"/><stop offset="0.85" stop-color="#6a8bef"/><stop offset="0.9" stop-color="#5977e3"/><stop offset="0.95" stop-color="#4961d2"/><stop offset="1" stop-color="#3b4cc0"/></linearGradient><clipPath id="c73"><polygon points="40.8,222.5 97.1,198.2 153.4,222.9 97.3,250.1"/></clipPath><filter id="f74" x="-5%" y="-20%" width="110%" height="140%"><feGaussianBlur stdDeviation="0 2.16"/></filter><linearGradient id="l75"><stop offset="0" stop-color="#cfdaea"/><stop offset=".042" stop-color="#cbd8ee"/><stop offset=".083" stop-color="#c0d4f5"/><stop offset=".125" stop-color="#b5cdfa"/><stop offset=".167" stop-color="#afcafc"/><stop offset=".208" stop-color="#b5cdfa"/><stop offset=".25" stop-color="#c0d4f5"/><stop offset=".292" stop-color="#cedaeb"/><stop offset=".333" stop-color="#dddcdc"/><stop offset=".375" stop-color="#e9d5cb"/><stop offset=".417" stop-color="#f2cbb7"/><stop offset=".458" stop-color="#f7bca1"/><stop offset=".5" stop-color="#f7ac8e"/><stop offset=".542" stop-color="#f5a081"/><stop offset=".583" stop-color="#f4987a"/><stop offset=".625" stop-color="#f29274"/><stop offset=".667" stop-color="#f18d6f"/><stop offset=".708" stop-color="#ef886b"/><stop offset=".75" stop-color="#ee8468"/><stop offset=".792" stop-color="#ed8366"/><stop offset=".833" stop-color="#ee8468"/><stop offset=".875" stop-color="#ee8468"/><stop offset=".917" stop-color="#ee8468"/><stop offset=".958" stop-color="#ee8468"/><stop offset="1" stop-color="#ee8468"/></linearGradient><linearGradient id="l76"><stop offset="0" stop-color="#cfdaea"/><stop offset=".042" stop-color="#cbd8ee"/><stop offset=".083" stop-color="#c0d4f5"/><stop offset=".125" stop-color="#b5cdfa"/><stop offset=".167" stop-color="#afcafc"/><stop offset=".208" stop-color="#b5cdfa"/><stop offset=".25" stop-color="#c0d4f5"/><stop offset=".292" stop-color="#cedaeb"/><stop offset=".333" stop-color="#dddcdc"/><stop offset=".375" stop-color="#e9d5cb"/><stop offset=".417" stop-color="#f2cbb7"/><stop offset=".458" stop-color="#f7bca1"/><stop offset=".5" stop-color="#f7ac8e"/><stop offset=".542" stop-color="#f5a081"/><stop offset=".583" stop-color="#f4987a"/><stop offset=".625" stop-color="#f29274"/><stop offset=".667" stop-color="#f18d6f"/><stop offset=".708" stop-color="#ef886b"/><stop offset=".75" stop-color="#ee8468"/><stop offset=".792" stop-color="#ed8366"/><stop offset=".833" stop-color="#ee8468"/><stop offset=".875" stop-color="#ee8468"/><stop offset=".917" stop-color="#ee8468"/><stop offset=".958" stop-color="#ee8468"/><stop offset="1" stop-color="#ee8468"/></linearGradient><linearGradient id="l77"><stop offset="0" stop-color="#cad8ef"/><stop offset=".042" stop-color="#c6d6f1"/><stop offset=".083" stop-color="#b6cefa"/><stop offset=".125" stop-color="#a2c1ff"/><stop offset=".167" stop-color="#97b8ff"/><stop offset=".208" stop-color="#9fbfff"/><stop offset=".25" stop-color="#afcafc"/><stop offset=".292" stop-color="#c3d5f4"/><stop offset=".333" stop-color="#d4dbe6"/><stop offset=".375" stop-color="#e6d7cf"/><stop offset=".417" stop-color="#f2cab5"/><stop offset=".458" stop-color="#f7ba9f"/><stop offset=".5" stop-color="#f7aa8c"/><stop offset=".542" stop-color="#f59d7e"/><stop offset=".583" stop-color="#f39475"/><stop offset=".625" stop-color="#f18d6f"/><stop offset=".667" stop-color="#f08b6e"/><stop offset=".708" stop-color="#ef886b"/><stop offset=".75" stop-color="#ed8366"/><stop offset=".792" stop-color="#ec8165"/><stop offset=".833" stop-color="#ec8165"/><stop offset=".875" stop-color="#ec8165"/><stop offset=".917" stop-color="#ee8468"/><stop offset=".958" stop-color="#ee8468"/><stop offset="1" stop-color="#ed8366"/></linearGradient><linearGradient id="l78"><stop offset="0" stop-color="#c0d4f5"/><stop offset=".042" stop-color="#b6cefa"/><stop offset=".083" stop-color="#9ebeff"/><stop offset=".125" stop-color="#86a9fc"/><stop offset=".167" stop-color="#7b9ff9"/><stop offset=".208" stop-color="#86a9fc"/><stop offset=".25" stop-color="#9ebeff"/><stop offset=".292" stop-color="#b7cff9"/><stop offset=".333" stop-color="#cfdaea"/><stop offset=".375" stop-color="#e4d9d2"/><stop offset=".417" stop-color="#f2cbb7"/><stop offset=".458" stop-color="#f7bca1"/><stop offset=".5" stop-color="#f7ac8e"/><stop offset=".542" stop-color="#f59d7e"/><stop offset=".583" stop-color="#f29072"/><stop offset=".625" stop-color="#f08a6c"/><stop offset=".667" stop-color="#ee8468"/><stop offset=".708" stop-color="#ec7f63"/><stop offset=".75" stop-color="#ea7b60"/><stop offset=".792" stop-color="#e97a5f"/><stop offset=".833" stop-color="#ea7b60"/><stop offset=".875" stop-color="#ec7f63"/><stop offset=".917" stop-color="#ee8468"/><stop offset=".958" stop-color="#ee8669"/><stop offset="1" stop-color="#ee8468"/></linearGradient><linearGradient id="l79"><stop offset="0" stop-color="#b5cdfa"/><stop offset=".042" stop-color="#a2c1ff"/><stop offset=".083" stop-color="#86a9fc"/><stop offset=".125" stop-color="#6f92f3"/><stop offset=".167" stop-color="#6788ee"/><stop offset=".208" stop-color="#7699f6"/><stop offset=".25" stop-color="#93b5fe"/><stop offset=".292" stop-color="#b2ccfb"/><stop offset=".333" stop-color="#cdd9ec"/><stop offset=".375" stop-color="#e3d9d3"/><stop offset=".417" stop-color="#f1cdba"/><stop offset=".458" stop-color="#f6bea4"/><stop offset=".5" stop-color="#f7af91"/><stop offset=".542" stop-color="#f5a081"/><stop offset=".583" stop-color="#f29274"/><stop offset=".625" stop-color="#ee8669"/><stop offset=".667" stop-color="#e97a5f"/><stop offset=".708" stop-color="#e67259"/><stop offset=".75" stop-color="#e36c55"/><stop offset=".792" stop-color="#e46e56"/><stop offset=".833" stop-color="#e7745b"/><stop offset=".875" stop-color="#ea7b60"/><stop offset=".917" stop-color="#ee8468"/><stop offset=".958" stop-color="#ef886b"/><stop offset="1" stop-color="#ef886b"/></linearGradient><linearGradient id="l80"><stop offset="0" stop-color="#afcafc"/><stop offset=".042" stop-color="#94b6ff"/><stop offset=".083" stop-color="#7b9ff9"/><stop offset=".125" stop-color="#6b8df0"/><stop offset=".167" stop-color="#6a8bef"/><stop offset=".208" stop-color="#7a9df8"/><stop offset=".25" stop-color="#97b8ff"/><stop offset=".292" stop-color="#b6cefa"/><stop offset=".333" stop-color="#cfdaea"/><stop offset=".375" stop-color="#e2dad5"/><stop offset=".417" stop-color="#efcfbf"/><stop offset=".458" stop-color="#f5c1a9"/><stop offset=".5" stop-color="#f7b396"/><stop offset=".542" stop-color="#f6a586"/><stop offset=".583" stop-color="#f39577"/><stop offset=".625" stop-color="#ed8366"/><stop offset=".667" stop-color="#e57058"/><stop offset=".708" stop-color="#df634e"/><stop offset=".75" stop-color="#dc5d4a"/><stop offset=".792" stop-color="#de614d"/><stop offset=".833" stop-color="#e36c55"/><stop offset=".875" stop-color="#e97a5f"/><stop offset=".917" stop-color="#ee8468"/><stop offset=".958" stop-color="#f08b6e"/><stop offset="1" stop-color="#f18d6f"/></linearGradient><linearGradient id="l81"><stop offset="0" stop-color="#b3cdfb"/><stop offset=".042" stop-color="#97b8ff"/><stop offset=".083" stop-color="#85a8fc"/><stop offset=".125" stop-color="#81a4fb"/><stop offset=".167" stop-color="#88abfd"/><stop offset=".208" stop-color="#98b9ff"/><stop offset=".25" stop-color="#adc9fd"/><stop offset=".292" stop-color="#c1d4f4"/><stop offset=".333" stop-color="#d3dbe7"/><stop offset=".375" stop-color="#e0dbd8"/><stop offset=".417" stop-color="#ecd3c5"/><stop offset=".458" stop-color="#f3c7b1"/><stop offset=".5" stop-color="#f7b89c"/><stop offset=".542" stop-color="#f7a98b"/><stop offset=".583" stop-color="#f4987a"/><stop offset=".625" stop-color="#ed8366"/><stop offset=".667" stop-color="#e36b54"/><stop offset=".708" stop-color="#d85646"/><stop offset=".75" stop-color="#d44e41"/><stop offset=".792" stop-color="#d75445"/><stop offset=".833" stop-color="#e0654f"/><stop offset=".875" stop-color="#e7745b"/><stop offset=".917" stop-color="#ee8468"/><stop offset=".958" stop-color="#f18f71"/><stop offset="1" stop-color="#f29274"/></linearGradient><linearGradient id="l82"><stop offset="0" stop-color="#c0d4f5"/><stop offset=".042" stop-color="#a6c4fe"/><stop offset=".083" stop-color="#9ebeff"/><stop offset=".125" stop-color="#a3c2fe"/><stop offset=".167" stop-color="#afcafc"/><stop offset=".208" stop-color="#bbd1f8"/><stop offset=".25" stop-color="#c6d6f1"/><stop offset=".292" stop-color="#cfdaea"/><stop offset=".333" stop-color="#d7dce3"/><stop offset=".375" stop-color="#dfdbd9"/><stop offset=".417" stop-color="#e9d5cb"/><stop offset=".458" stop-color="#f2cbb7"/><stop offset=".5" stop-color="#f6bda2"/><stop offset=".542" stop-color="#f7af91"/><stop offset=".583" stop-color="#f59d7e"/><stop offset=".625" stop-color="#ee8468"/><stop offset=".667" stop-color="#e16751"/><stop offset=".708" stop-color="#d44e41"/><stop offset=".75" stop-color="#cc403a"/><stop offset=".792" stop-color="#d1493f"/><stop offset=".833" stop-color="#dc5d4a"/><stop offset=".875" stop-color="#e67259"/><stop offset=".917" stop-color="#ee8468"/><stop offset=".958" stop-color="#f29072"/><stop offset="1" stop-color="#f39577"/></linearGradient><linearGradient id="l83"><stop offset="0" stop-color="#cfdaea"/><stop offset=".042" stop-color="#bcd2f7"/><stop offset=".083" stop-color="#b9d0f9"/><stop offset=".125" stop-color="#c0d4f5"/><stop offset=".167" stop-color="#c9d7f0"/><stop offset=".208" stop-color="#cfdaea"/><stop offset=".25" stop-color="#d5dbe5"/><stop offset=".292" stop-color="#d9dce1"/><stop offset=".333" stop-color="#dddcdc"/><stop offset=".375" stop-color="#e1dad6"/><stop offset=".417" stop-color="#e8d6cc"/><stop offset=".458" stop-color="#f0cdbb"/><stop offset=".5" stop-color="#f5c1a9"/><stop offset=".542" stop-color="#f7b497"/><stop offset=".583" stop-color="#f6a283"/><stop offset=".625" stop-color="#ef886b"/><stop offset=".667" stop-color="#e26952"/><stop offset=".708" stop-color="#d1493f"/><stop offset=".75" stop-color="#c83836"/><stop offset=".792" stop-color="#cd423b"/><stop offset=".833" stop-color="#da5a49"/><stop offset=".875" stop-color="#e57058"/><stop offset=".917" stop-color="#ee8468"/><stop offset=".958" stop-color="#f29072"/><stop offset="1" stop-color="#f39577"/></linearGradient><linearGradient id="l84"><stop offset="0" stop-color="#dddcdc"/><stop offset=".042" stop-color="#d2dbe8"/><stop offset=".083" stop-color="#cfdaea"/><stop offset=".125" stop-color="#d3dbe7"/><stop offset=".167" stop-color="#d7dce3"/><stop offset=".208" stop-color="#dadce0"/><stop offset=".25" stop-color="#dddcdc"/><stop offset=".292" stop-color="#dfdbd9"/><stop offset=".333" stop-color="#e2dad5"/><stop offset=".375" stop-color="#e5d8d1"/><stop offset=".417" stop-color="#e9d5cb"/><stop offset=".458" stop-color="#efcfbf"/><stop offset=".5" stop-color="#f4c6af"/><stop offset=".542" stop-color="#f7b89c"/><stop offset=".583" stop-color="#f6a586"/><stop offset=".625" stop-color="#f08b6e"/><stop offset=".667" stop-color="#e36c55"/><stop offset=".708" stop-color="#d44e41"/><stop offset=".75" stop-color="#ca3b37"/><stop offset=".792" stop-color="#cf453c"/><stop offset=".833" stop-color="#dc5d4a"/><stop offset=".875" stop-color="#e67259"/><stop offset=".917" stop-color="#ee8468"/><stop offset=".958" stop-color="#f18f71"/><stop offset="1" stop-color="#f39577"/></linearGradient><linearGradient id="l85"><stop offset="0" stop-color="#e4d9d2"/><stop offset=".042" stop-color="#dfdbd9"/><stop offset=".083" stop-color="#dedcdb"/><stop offset=".125" stop-color="#e0dbd8"/><stop offset=".167" stop-color="#e1dad6"/><stop offset=".208" stop-color="#e2dad5"/><stop offset=".25" stop-color="#e3d9d3"/><stop offset=".292" stop-color="#e4d9d2"/><stop offset=".333" stop-color="#e6d7cf"/><stop offset=".375" stop-color="#e8d6cc"/><stop offset=".417" stop-color="#ebd3c6"/><stop offset=".458" stop-color="#efcfbf"/><stop offset=".5" stop-color="#f2c9b4"/><stop offset=".542" stop-color="#f7bca1"/><stop offset=".583" stop-color="#f7a98b"/><stop offset=".625" stop-color="#f29072"/><stop offset=".667" stop-color="#e7745b"/><stop offset=".708" stop-color="#d85646"/><stop offset=".75" stop-color="#cf453c"/><stop offset=".792" stop-color="#d55042"/><stop offset=".833" stop-color="#e0654f"/><stop offset=".875" stop-color="#e8765c"/><stop offset=".917" stop-color="#ee8468"/><stop offset=".958" stop-color="#f18d6f"/><stop offset="1" stop-color="#f39577"/></linearGradient><linearGradient id="l86"><stop offset="0" stop-color="#e9d5cb"/><stop offset=".042" stop-color="#e9d5cb"/><stop offset=".083" stop-color="#e9d5cb"/><stop offset=".125" stop-color="#e9d5cb"/><stop offset=".167" stop-color="#e9d5cb"/><stop offset=".208" stop-color="#e9d5cb"/><stop offset=".25" stop-color="#e9d5cb"/><stop offset=".292" stop-color="#e9d5cb"/><stop offset=".333" stop-color="#e9d5cb"/><stop offset=".375" stop-color="#ebd3c6"/><stop offset=".417" stop-color="#edd2c3"/><stop offset=".458" stop-color="#efcfbf"/><stop offset=".5" stop-color="#f2cbb7"/><stop offset=".542" stop-color="#f6bfa6"/><stop offset=".583" stop-color="#f7ac8e"/><stop offset=".625" stop-color="#f39577"/><stop offset=".667" stop-color="#ea7b60"/><stop offset=".708" stop-color="#de614d"/><stop offset=".75" stop-color="#d65244"/><stop offset=".792" stop-color="#da5a49"/><stop offset=".833" stop-color="#e36c55"/><stop offset=".875" stop-color="#e97a5f"/><stop offset=".917" stop-color="#ee8468"/><stop offset=".958" stop-color="#f18d6f"/><stop offset="1" stop-color="#f39577"/></linearGradient><linearGradient id="l87"><stop offset="0" stop-color="#edd2c3"/><stop offset=".042" stop-color="#efcfbf"/><stop offset=".083" stop-color="#efcfbf"/><stop offset=".125" stop-color="#efcfbf"/><stop offset=".167" stop-color="#eed0c0"/><stop offset=".208" stop-color="#eed0c0"/><stop offset=".25" stop-color="#eed0c0"/><stop offset=".292" stop-color="#edd2c3"/><stop offset=".333" stop-color="#ecd3c5"/><stop offset=".375" stop-color="#edd2c3"/><stop offset=".417" stop-color="#efcfbf"/><stop offset=".458" stop-color="#efcebd"/><stop offset=".5" stop-color="#f1ccb8"/><stop offset=".542" stop-color="#f5c1a9"/><stop offset=".583" stop-color="#f7b093"/><stop offset=".625" stop-color="#f49a7b"/><stop offset=".667" stop-color="#ec8165"/><stop offset=".708" stop-color="#e26952"/><stop offset=".75" stop-color="#dc5d4a"/><stop offset=".792" stop-color="#df634e"/><stop offset=".833" stop-color="#e57058"/><stop offset=".875" stop-color="#ea7b60"/><stop offset=".917" stop-color="#ee8468"/><stop offset=".958" stop-color="#f08b6e"/><stop offset="1" stop-color="#f39577"/></linearGradient><linearGradient id="l88"><stop offset="0" stop-color="#f2cbb7"/><stop offset=".042" stop-color="#f2cbb7"/><stop offset=".083" stop-color="#f2cbb7"/><stop offset=".125" stop-color="#f2cbb7"/><stop offset=".167" stop-color="#f2cbb7"/><stop offset=".208" stop-color="#f2cab5"/><stop offset=".25" stop-color="#f2cbb7"/><stop offset=".292" stop-color="#f1cdba"/><stop offset=".333" stop-color="#efcfbf"/><stop offset=".375" stop-color="#eed0c0"/><stop offset=".417" stop-color="#efcfbf"/><stop offset=".458" stop-color="#efcebd"/><stop offset=".5" stop-color="#f2cbb7"/><stop offset=".542" stop-color="#f5c2aa"/><stop offset=".583" stop-color="#f7b396"/><stop offset=".625" stop-color="#f59d7e"/><stop offset=".667" stop-color="#ee8468"/><stop offset=".708" stop-color="#e36b54"/><stop offset=".75" stop-color="#dc5d4a"/><stop offset=".792" stop-color="#de614d"/><stop offset=".833" stop-color="#e36c55"/><stop offset=".875" stop-color="#e97a5f"/><stop offset=".917" stop-color="#ee8468"/><stop offset=".958" stop-color="#f18d6f"/><stop offset="1" stop-color="#f39577"/></linearGradient><linearGradient id="l89"><stop offset="0" stop-color="#f2cbb7"/><stop offset=".042" stop-color="#f2cbb7"/><stop offset=".083" stop-color="#f2cbb7"/><stop offset=".125" stop-color="#f2cbb7"/><stop offset=".167" stop-color="#f2cbb7"/><stop offset=".208" stop-color="#f2cab5"/><stop offset=".25" stop-color="#f2cbb7"/><stop offset=".292" stop-color="#f1cdba"/><stop offset=".333" stop-color="#efcfbf"/><stop offset=".375" stop-color="#eed0c0"/><stop offset=".417" stop-color="#efcfbf"/><stop offset=".458" stop-color="#efcebd"/><stop offset=".5" stop-color="#f2cbb7"/><stop offset=".542" stop-color="#f5c2aa"/><stop offset=".583" stop-color="#f7b396"/><stop offset=".625" stop-color="#f59d7e"/><stop offset=".667" stop-color="#ee8468"/><stop offset=".708" stop-color="#e36b54"/><stop offset=".75" stop-color="#dc5d4a"/><stop offset=".792" stop-color="#de614d"/><stop offset=".833" stop-color="#e36c55"/><stop offset=".875" stop-color="#e97a5f"/><stop offset=".917" stop-color="#ee8468"/><stop offset=".958" stop-color="#f18d6f"/><stop offset="1" stop-color="#f39577"/></linearGradient><clipPath id="c90"><polygon points="40.8,222.5 97.3,250.1 97.3,303.4 42.5,272.2"/></clipPath><filter id="f91" x="-5%" y="-20%" width="110%" height="140%"><feGaussianBlur stdDeviation="0 4.04"/></filter><linearGradient id="l92"><stop offset="0" stop-color="#f6a586"/><stop offset=".125" stop-color="#f7a98b"/><stop offset=".25" stop-color="#f7b396"/><stop offset=".375" stop-color="#f5c0a7"/><stop offset=".5" stop-color="#f2cbb7"/><stop offset=".625" stop-color="#edd2c3"/><stop offset=".75" stop-color="#e9d5cb"/><stop offset=".875" stop-color="#e8d6cc"/><stop offset="1" stop-color="#e9d5cb"/></linearGradient><linearGradient id="l93"><stop offset="0" stop-color="#f6a586"/><stop offset=".125" stop-color="#f7a98b"/><stop offset=".25" stop-color="#f7b396"/><stop offset=".375" stop-color="#f5c0a7"/><stop offset=".5" stop-color="#f2cbb7"/><stop offset=".625" stop-color="#edd2c3"/><stop offset=".75" stop-color="#e9d5cb"/><stop offset=".875" stop-color="#e8d6cc"/><stop offset="1" stop-color="#e9d5cb"/></linearGradient><linearGradient id="l94"><stop offset="0" stop-color="#f6a385"/><stop offset=".125" stop-color="#f6a283"/><stop offset=".25" stop-color="#f7ac8e"/><stop offset=".375" stop-color="#f7ba9f"/><stop offset=".5" stop-color="#f3c7b1"/><stop offset=".625" stop-color="#efcfbf"/><stop offset=".75" stop-color="#ead4c8"/><stop offset=".875" stop-color="#e7d7ce"/><stop offset="1" stop-color="#e5d8d1"/></linearGradient><linearGradient id="l95"><stop offset="0" stop-color="#f18d6f"/><stop offset=".125" stop-color="#f39577"/><stop offset=".25" stop-color="#f6a586"/><stop offset=".375" stop-color="#f7b79b"/><stop offset=".5" stop-color="#f4c6af"/><stop offset=".625" stop-color="#efcfbf"/><stop offset=".75" stop-color="#e9d5cb"/><stop offset=".875" stop-color="#e4d9d2"/><stop offset="1" stop-color="#e2dad5"/></linearGradient><linearGradient id="l96"><stop offset="0" stop-color="#eb7d62"/><stop offset=".125" stop-color="#f29072"/><stop offset=".25" stop-color="#f6a586"/><stop offset=".375" stop-color="#f7b99e"/><stop offset=".5" stop-color="#f3c8b2"/><stop offset=".625" stop-color="#edd2c3"/><stop offset=".75" stop-color="#e6d7cf"/><stop offset=".875" stop-color="#e1dad6"/><stop offset="1" stop-color="#dfdbd9"/></linearGradient><linearGradient id="l97"><stop offset="0" stop-color="#f4987a"/><stop offset=".125" stop-color="#f6a385"/><stop offset=".25" stop-color="#f7b396"/><stop offset=".375" stop-color="#f5c4ac"/><stop offset=".5" stop-color="#efcfbf"/><stop offset=".625" stop-color="#e8d6cc"/><stop offset=".75" stop-color="#e2dad5"/><stop offset=".875" stop-color="#dedcdb"/><stop offset="1" stop-color="#dcdddd"/></linearGradient><linearGradient id="l98"><stop offset="0" stop-color="#ead5c9"/><stop offset=".125" stop-color="#f2cbb7"/><stop offset=".25" stop-color="#f1ccb8"/><stop offset=".375" stop-color="#ecd3c5"/><stop offset=".5" stop-color="#e5d8d1"/><stop offset=".625" stop-color="#dfdbd9"/><stop offset=".75" stop-color="#dddcdc"/><stop offset=".875" stop-color="#dcdddd"/><stop offset="1" stop-color="#dbdcde"/></linearGradient><linearGradient id="l99"><stop offset="0" stop-color="#afcafc"/><stop offset=".125" stop-color="#d3dbe7"/><stop offset=".25" stop-color="#dcdddd"/><stop offset=".375" stop-color="#dcdddd"/><stop offset=".5" stop-color="#d7dce3"/><stop offset=".625" stop-color="#d6dce4"/><stop offset=".75" stop-color="#d7dce3"/><stop offset=".875" stop-color="#d9dce1"/><stop offset="1" stop-color="#d7dce3"/></linearGradient><linearGradient id="l100"><stop offset="0" stop-color="#97b8ff"/><stop offset=".125" stop-color="#b9d0f9"/><stop offset=".25" stop-color="#c9d7f0"/><stop offset=".375" stop-color="#cdd9ec"/><stop offset=".5" stop-color="#cdd9ec"/><stop offset=".625" stop-color="#cedaeb"/><stop offset=".75" stop-color="#cfdaea"/><stop offset=".875" stop-color="#d1dae9"/><stop offset="1" stop-color="#cfdaea"/></linearGradient><linearGradient id="l101"><stop offset="0" stop-color="#9ebeff"/><stop offset=".125" stop-color="#aec9fc"/><stop offset=".25" stop-color="#bad0f8"/><stop offset=".375" stop-color="#c1d4f4"/><stop offset=".5" stop-color="#c6d6f1"/><stop offset=".625" stop-color="#c7d7f0"/><stop offset=".75" stop-color="#c6d6f1"/><stop offset=".875" stop-color="#c5d6f2"/><stop offset="1" stop-color="#c6d6f1"/></linearGradient><linearGradient id="l102"><stop offset="0" stop-color="#aac7fd"/><stop offset=".125" stop-color="#aac7fd"/><stop offset=".25" stop-color="#b2ccfb"/><stop offset=".375" stop-color="#bbd1f8"/><stop offset=".5" stop-color="#c3d5f4"/><stop offset=".625" stop-color="#c3d5f4"/><stop offset=".75" stop-color="#c0d4f5"/><stop offset=".875" stop-color="#bcd2f7"/><stop offset="1" stop-color="#bed2f6"/></linearGradient><linearGradient id="l103"><stop offset="0" stop-color="#9ebeff"/><stop offset=".125" stop-color="#a6c4fe"/><stop offset=".25" stop-color="#afcafc"/><stop offset=".375" stop-color="#bad0f8"/><stop offset=".5" stop-color="#c0d4f5"/><stop offset=".625" stop-color="#c1d4f4"/><stop offset=".75" stop-color="#c0d4f5"/><stop offset=".875" stop-color="#bcd2f7"/><stop offset="1" stop-color="#bad0f8"/></linearGradient><linearGradient id="l104"><stop offset="0" stop-color="#9ebeff"/><stop offset=".125" stop-color="#a6c4fe"/><stop offset=".25" stop-color="#afcafc"/><stop offset=".375" stop-color="#bad0f8"/><stop offset=".5" stop-color="#c0d4f5"/><stop offset=".625" stop-color="#c1d4f4"/><stop offset=".75" stop-color="#c0d4f5"/><stop offset=".875" stop-color="#bcd2f7"/><stop offset="1" stop-color="#bad0f8"/></linearGradient><clipPath id="c105"><polygon points="97.3,250.1 153.4,222.9 152.5,273.2 97.3,303.4"/></clipPath><filter id="f106" x="-5%" y="-20%" width="110%" height="140%"><feGaussianBlur stdDeviation="0 8.05"/></filter><linearGradient id="l107"><stop offset="0" stop-color="#dddcdc"/><stop offset=".071" stop-color="#ecd3c5"/><stop offset=".143" stop-color="#f4c6af"/><stop offset=".214" stop-color="#f7b79b"/><stop offset=".286" stop-color="#f6a586"/><stop offset=".357" stop-color="#f18d6f"/><stop offset=".429" stop-color="#e36c55"/><stop offset=".5" stop-color="#d0473d"/><stop offset=".571" stop-color="#c32e31"/><stop offset=".643" stop-color="#cb3e38"/><stop offset=".714" stop-color="#dc5d4a"/><stop offset=".786" stop-color="#e9785d"/><stop offset=".857" stop-color="#f18d6f"/><stop offset=".929" stop-color="#f59c7d"/><stop offset="1" stop-color="#f6a586"/></linearGradient><linearGradient id="l108"><stop offset="0" stop-color="#dddcdc"/><stop offset=".071" stop-color="#ecd3c5"/><stop offset=".143" stop-color="#f4c6af"/><stop offset=".214" stop-color="#f7b79b"/><stop offset=".286" stop-color="#f6a586"/><stop offset=".357" stop-color="#f18d6f"/><stop offset=".429" stop-color="#e36c55"/><stop offset=".5" stop-color="#d0473d"/><stop offset=".571" stop-color="#c32e31"/><stop offset=".643" stop-color="#cb3e38"/><stop offset=".714" stop-color="#dc5d4a"/><stop offset=".786" stop-color="#e9785d"/><stop offset=".857" stop-color="#f18d6f"/><stop offset=".929" stop-color="#f59c7d"/><stop offset="1" stop-color="#f6a586"/></linearGradient><linearGradient id="l109"><stop offset="0" stop-color="#dddcdc"/><stop offset=".071" stop-color="#edd2c3"/><stop offset=".143" stop-color="#f4c5ad"/><stop offset=".214" stop-color="#f7b79b"/><stop offset=".286" stop-color="#f6a586"/><stop offset=".357" stop-color="#f08b6e"/><stop offset=".429" stop-color="#e36c55"/><stop offset=".5" stop-color="#cf453c"/><stop offset=".571" stop-color="#c12b30"/><stop offset=".643" stop-color="#ca3b37"/><stop offset=".714" stop-color="#dc5d4a"/><stop offset=".786" stop-color="#e8765c"/><stop offset=".857" stop-color="#f08b6e"/><stop offset=".929" stop-color="#f49a7b"/><stop offset="1" stop-color="#f6a586"/></linearGradient><linearGradient id="l110"><stop offset="0" stop-color="#dddcdc"/><stop offset=".071" stop-color="#edd2c3"/><stop offset=".143" stop-color="#f4c5ad"/><stop offset=".214" stop-color="#f7b79b"/><stop offset=".286" stop-color="#f6a586"/><stop offset=".357" stop-color="#f18d6f"/><stop offset=".429" stop-color="#e36c55"/><stop offset=".5" stop-color="#cf453c"/><stop offset=".571" stop-color="#c32e31"/><stop offset=".643" stop-color="#ca3b37"/><stop offset=".714" stop-color="#dc5d4a"/><stop offset=".786" stop-color="#e9785d"/><stop offset=".857" stop-color="#f08b6e"/><stop offset=".929" stop-color="#f49a7b"/><stop offset="1" stop-color="#f6a586"/></linearGradient><linearGradient id="l111"><stop offset="0" stop-color="#dcdddd"/><stop offset=".071" stop-color="#ecd3c5"/><stop offset=".143" stop-color="#f4c6af"/><stop offset=".214" stop-color="#f7b89c"/><stop offset=".286" stop-color="#f7a688"/><stop offset=".357" stop-color="#f18d6f"/><stop offset=".429" stop-color="#e36c55"/><stop offset=".5" stop-color="#d0473d"/><stop offset=".571" stop-color="#c32e31"/><stop offset=".643" stop-color="#cb3e38"/><stop offset=".714" stop-color="#dd5f4b"/><stop offset=".786" stop-color="#e97a5f"/><stop offset=".857" stop-color="#f18f71"/><stop offset=".929" stop-color="#f59d7e"/><stop offset="1" stop-color="#f7a688"/></linearGradient><linearGradient id="l112"><stop offset="0" stop-color="#dadce0"/><stop offset=".071" stop-color="#ead4c8"/><stop offset=".143" stop-color="#f3c8b2"/><stop offset=".214" stop-color="#f7ba9f"/><stop offset=".286" stop-color="#f7a98b"/><stop offset=".357" stop-color="#f18f71"/><stop offset=".429" stop-color="#e36c55"/><stop offset=".5" stop-color="#d0473d"/><stop offset=".571" stop-color="#c43032"/><stop offset=".643" stop-color="#cd423b"/><stop offset=".714" stop-color="#df634e"/><stop offset=".786" stop-color="#eb7d62"/><stop offset=".857" stop-color="#f39475"/><stop offset=".929" stop-color="#f5a081"/><stop offset="1" stop-color="#f7a98b"/></linearGradient><linearGradient id="l113"><stop offset="0" stop-color="#d7dce3"/><stop offset=".071" stop-color="#e9d5cb"/><stop offset=".143" stop-color="#f2cbb7"/><stop offset=".214" stop-color="#f6bea4"/><stop offset=".286" stop-color="#f7ac8e"/><stop offset=".357" stop-color="#f29072"/><stop offset=".429" stop-color="#e36c55"/><stop offset=".5" stop-color="#d0473d"/><stop offset=".571" stop-color="#c53334"/><stop offset=".643" stop-color="#d0473d"/><stop offset=".714" stop-color="#e16751"/><stop offset=".786" stop-color="#ee8468"/><stop offset=".857" stop-color="#f4987a"/><stop offset=".929" stop-color="#f7a688"/><stop offset="1" stop-color="#f7ac8e"/></linearGradient><linearGradient id="l114"><stop offset="0" stop-color="#d7dce3"/><stop offset=".071" stop-color="#e9d5cb"/><stop offset=".143" stop-color="#f2cbb7"/><stop offset=".214" stop-color="#f6bea4"/><stop offset=".286" stop-color="#f7ac8e"/><stop offset=".357" stop-color="#f29072"/><stop offset=".429" stop-color="#e36c55"/><stop offset=".5" stop-color="#d0473d"/><stop offset=".571" stop-color="#c53334"/><stop offset=".643" stop-color="#d0473d"/><stop offset=".714" stop-color="#e16751"/><stop offset=".786" stop-color="#ee8468"/><stop offset=".857" stop-color="#f4987a"/><stop offset=".929" stop-color="#f7a688"/><stop offset="1" stop-color="#f7ac8e"/></linearGradient><clipPath id="c115"><polygon points="98.9,346.1 44.1,374.7 42.7,425.8 98.9,398.4"/></clipPath><filter id="f116" x="-5%" y="-20%" width="110%" height="140%"><feGaussianBlur stdDeviation="0 6.64"/></filter><linearGradient id="l117"><stop offset="0" stop-color="#f6bda2"/><stop offset=".036" stop-color="#f08b6e"/><stop offset=".071" stop-color="#f49a7b"/><stop offset=".107" stop-color="#f4c6af"/><stop offset=".143" stop-color="#cfdaea"/><stop offset=".179" stop-color="#9fbfff"/><stop offset=".214" stop-color="#7b9ff9"/><stop offset=".25" stop-color="#688aef"/><stop offset=".286" stop-color="#5f7fe8"/><stop offset=".321" stop-color="#5a78e4"/><stop offset=".357" stop-color="#5977e3"/><stop offset=".393" stop-color="#5f7fe8"/><stop offset=".429" stop-color="#6a8bef"/><stop offset=".464" stop-color="#7597f6"/><stop offset=".5" stop-color="#82a6fb"/><stop offset=".536" stop-color="#93b5fe"/><stop offset=".571" stop-color="#a5c3fe"/><stop offset=".607" stop-color="#b7cff9"/><stop offset=".643" stop-color="#c6d6f1"/><stop offset=".679" stop-color="#d3dbe7"/><stop offset=".714" stop-color="#dcdddd"/><stop offset=".75" stop-color="#e5d8d1"/><stop offset=".786" stop-color="#ebd3c6"/><stop offset=".821" stop-color="#efcfbf"/><stop offset=".857" stop-color="#f2cbb7"/><stop offset=".893" stop-color="#f3c7b1"/><stop offset=".929" stop-color="#f5c2aa"/><stop offset=".964" stop-color="#f6bfa6"/><stop offset="1" stop-color="#f7ba9f"/></linearGradient><linearGradient id="l118"><stop offset="0" stop-color="#f6bda2"/><stop offset=".036" stop-color="#f08b6e"/><stop offset=".071" stop-color="#f49a7b"/><stop offset=".107" stop-color="#f4c6af"/><stop offset=".143" stop-color="#cfdaea"/><stop offset=".179" stop-color="#9fbfff"/><stop offset=".214" stop-color="#7b9ff9"/><stop offset=".25" stop-color="#688aef"/><stop offset=".286" stop-color="#5f7fe8"/><stop offset=".321" stop-color="#5a78e4"/><stop offset=".357" stop-color="#5977e3"/><stop offset=".393" stop-color="#5f7fe8"/><stop offset=".429" stop-color="#6a8bef"/><stop offset=".464" stop-color="#7597f6"/><stop offset=".5" stop-color="#82a6fb"/><stop offset=".536" stop-color="#93b5fe"/><stop offset=".571" stop-color="#a5c3fe"/><stop offset=".607" stop-color="#b7cff9"/><stop offset=".643" stop-color="#c6d6f1"/><stop offset=".679" stop-color="#d3dbe7"/><stop offset=".714" stop-color="#dcdddd"/><stop offset=".75" stop-color="#e5d8d1"/><stop offset=".786" stop-color="#ebd3c6"/><stop offset=".821" stop-color="#efcfbf"/><stop offset=".857" stop-color="#f2cbb7"/><stop offset=".893" stop-color="#f3c7b1"/><stop offset=".929" stop-color="#f5c2aa"/><stop offset=".964" stop-color="#f6bfa6"/><stop offset="1" stop-color="#f7ba9f"/></linearGradient><linearGradient id="l119"><stop offset="0" stop-color="#f7b497"/><stop offset=".036" stop-color="#ed8366"/><stop offset=".071" stop-color="#f18f71"/><stop offset=".107" stop-color="#f6bea4"/><stop offset=".143" stop-color="#d8dce2"/><stop offset=".179" stop-color="#a7c5fe"/><stop offset=".214" stop-color="#7ea1fa"/><stop offset=".25" stop-color="#6788ee"/><stop offset=".286" stop-color="#5b7ae5"/><stop offset=".321" stop-color="#5673e0"/><stop offset=".357" stop-color="#5470de"/><stop offset=".393" stop-color="#5977e3"/><stop offset=".429" stop-color="#6384eb"/><stop offset=".464" stop-color="#6f92f3"/><stop offset=".5" stop-color="#7da0f9"/><stop offset=".536" stop-color="#8fb1fe"/><stop offset=".571" stop-color="#a1c0ff"/><stop offset=".607" stop-color="#b2ccfb"/><stop offset=".643" stop-color="#c1d4f4"/><stop offset=".679" stop-color="#cedaeb"/><stop offset=".714" stop-color="#d9dce1"/><stop offset=".75" stop-color="#e2dad5"/><stop offset=".786" stop-color="#ead5c9"/><stop offset=".821" stop-color="#efcfbf"/><stop offset=".857" stop-color="#f2cbb7"/><stop offset=".893" stop-color="#f3c7b1"/><stop offset=".929" stop-color="#f5c2aa"/><stop offset=".964" stop-color="#f6bfa6"/><stop offset="1" stop-color="#f7ba9f"/></linearGradient><linearGradient id="l120"><stop offset="0" stop-color="#f7ac8e"/><stop offset=".036" stop-color="#e9785d"/><stop offset=".071" stop-color="#ee8468"/><stop offset=".107" stop-color="#f7b599"/><stop offset=".143" stop-color="#dddcdc"/><stop offset=".179" stop-color="#a9c6fd"/><stop offset=".214" stop-color="#7b9ff9"/><stop offset=".25" stop-color="#6384eb"/><stop offset=".286" stop-color="#5977e3"/><stop offset=".321" stop-color="#5470de"/><stop offset=".357" stop-color="#536edd"/><stop offset=".393" stop-color="#5673e0"/><stop offset=".429" stop-color="#5f7fe8"/><stop offset=".464" stop-color="#6c8ff1"/><stop offset=".5" stop-color="#7b9ff9"/><stop offset=".536" stop-color="#8caffe"/><stop offset=".571" stop-color="#9ebeff"/><stop offset=".607" stop-color="#b1cbfc"/><stop offset=".643" stop-color="#c0d4f5"/><stop offset=".679" stop-color="#cdd9ec"/><stop offset=".714" stop-color="#d7dce3"/><stop offset=".75" stop-color="#e1dad6"/><stop offset=".786" stop-color="#e9d5cb"/><stop offset=".821" stop-color="#eed0c0"/><stop offset=".857" stop-color="#f2cbb7"/><stop offset=".893" stop-color="#f3c7b1"/><stop offset=".929" stop-color="#f5c2aa"/><stop offset=".964" stop-color="#f6bfa6"/><stop offset="1" stop-color="#f7ba9f"/></linearGradient><linearGradient id="l121"><stop offset="0" stop-color="#f7aa8c"/><stop offset=".036" stop-color="#e9785d"/><stop offset=".071" stop-color="#ee8468"/><stop offset=".107" stop-color="#f7b79b"/><stop offset=".143" stop-color="#dbdcde"/><stop offset=".179" stop-color="#a3c2fe"/><stop offset=".214" stop-color="#7396f5"/><stop offset=".25" stop-color="#5d7ce6"/><stop offset=".286" stop-color="#5673e0"/><stop offset=".321" stop-color="#536edd"/><stop offset=".357" stop-color="#536edd"/><stop offset=".393" stop-color="#5673e0"/><stop offset=".429" stop-color="#5f7fe8"/><stop offset=".464" stop-color="#6b8df0"/><stop offset=".5" stop-color="#7a9df8"/><stop offset=".536" stop-color="#8caffe"/><stop offset=".571" stop-color="#9ebeff"/><stop offset=".607" stop-color="#afcafc"/><stop offset=".643" stop-color="#c0d4f5"/><stop offset=".679" stop-color="#ccd9ed"/><stop offset=".714" stop-color="#d7dce3"/><stop offset=".75" stop-color="#e0dbd8"/><stop offset=".786" stop-color="#e9d5cb"/><stop offset=".821" stop-color="#eed0c0"/><stop offset=".857" stop-color="#f2cbb7"/><stop offset=".893" stop-color="#f3c7b1"/><stop offset=".929" stop-color="#f5c2aa"/><stop offset=".964" stop-color="#f6bfa6"/><stop offset="1" stop-color="#f7ba9f"/></linearGradient><linearGradient id="l122"><stop offset="0" stop-color="#f7b396"/><stop offset=".036" stop-color="#f08b6e"/><stop offset=".071" stop-color="#f4987a"/><stop offset=".107" stop-color="#f4c5ad"/><stop offset=".143" stop-color="#cfdaea"/><stop offset=".179" stop-color="#97b8ff"/><stop offset=".214" stop-color="#6a8bef"/><stop offset=".25" stop-color="#5673e0"/><stop offset=".286" stop-color="#536edd"/><stop offset=".321" stop-color="#516ddb"/><stop offset=".357" stop-color="#536edd"/><stop offset=".393" stop-color="#5875e1"/><stop offset=".429" stop-color="#5f7fe8"/><stop offset=".464" stop-color="#6b8df0"/><stop offset=".5" stop-color="#7b9ff9"/><stop offset=".536" stop-color="#8caffe"/><stop offset=".571" stop-color="#9ebeff"/><stop offset=".607" stop-color="#b1cbfc"/><stop offset=".643" stop-color="#c0d4f5"/><stop offset=".679" stop-color="#cdd9ec"/><stop offset=".714" stop-color="#d7dce3"/><stop offset=".75" stop-color="#e1dad6"/><stop offset=".786" stop-color="#e9d5cb"/><stop offset=".821" stop-color="#eed0c0"/><stop offset=".857" stop-color="#f2cbb7"/><stop offset=".893" stop-color="#f3c7b1"/><stop offset=".929" stop-color="#f5c2aa"/><stop offset=".964" stop-color="#f6bfa6"/><stop offset="1" stop-color="#f7ba9f"/></linearGradient><linearGradient id="l123"><stop offset="0" stop-color="#f3c7b1"/><stop offset=".036" stop-color="#f7b599"/><stop offset=".071" stop-color="#f5c4ac"/><stop offset=".107" stop-color="#dedcdb"/><stop offset=".143" stop-color="#b2ccfb"/><stop offset=".179" stop-color="#81a4fb"/><stop offset=".214" stop-color="#5e7de7"/><stop offset=".25" stop-color="#506bda"/><stop offset=".286" stop-color="#4f69d9"/><stop offset=".321" stop-color="#4f69d9"/><stop offset=".357" stop-color="#536edd"/><stop offset=".393" stop-color="#5875e1"/><stop offset=".429" stop-color="#6180e9"/><stop offset=".464" stop-color="#6c8ff1"/><stop offset=".5" stop-color="#7b9ff9"/><stop offset=".536" stop-color="#8caffe"/><stop offset=".571" stop-color="#9fbfff"/><stop offset=".607" stop-color="#b1cbfc"/><stop offset=".643" stop-color="#c0d4f5"/><stop offset=".679" stop-color="#cdd9ec"/><stop offset=".714" stop-color="#d8dce2"/><stop offset=".75" stop-color="#e1dad6"/><stop offset=".786" stop-color="#e9d5cb"/><stop offset=".821" stop-color="#efcfbf"/><stop offset=".857" stop-color="#f2cbb7"/><stop offset=".893" stop-color="#f3c7b1"/><stop offset=".929" stop-color="#f5c2aa"/><stop offset=".964" stop-color="#f6bfa6"/><stop offset="1" stop-color="#f7ba9f"/></linearGradient><linearGradient id="l124"><stop offset="0" stop-color="#dddcdc"/><stop offset=".036" stop-color="#d6dce4"/><stop offset=".071" stop-color="#c0d4f5"/><stop offset=".107" stop-color="#9ebeff"/><stop offset=".143" stop-color="#7b9ff9"/><stop offset=".179" stop-color="#6282ea"/><stop offset=".214" stop-color="#536edd"/><stop offset=".25" stop-color="#4b64d5"/><stop offset=".286" stop-color="#4961d2"/><stop offset=".321" stop-color="#4b64d5"/><stop offset=".357" stop-color="#4f69d9"/><stop offset=".393" stop-color="#5673e0"/><stop offset=".429" stop-color="#5f7fe8"/><stop offset=".464" stop-color="#6c8ff1"/><stop offset=".5" stop-color="#7b9ff9"/><stop offset=".536" stop-color="#8caffe"/><stop offset=".571" stop-color="#9ebeff"/><stop offset=".607" stop-color="#b1cbfc"/><stop offset=".643" stop-color="#c0d4f5"/><stop offset=".679" stop-color="#cdd9ec"/><stop offset=".714" stop-color="#d7dce3"/><stop offset=".75" stop-color="#e1dad6"/><stop offset=".786" stop-color="#e9d5cb"/><stop offset=".821" stop-color="#eed0c0"/><stop offset=".857" stop-color="#f2cbb7"/><stop offset=".893" stop-color="#f3c7b1"/><stop offset=".929" stop-color="#f5c2aa"/><stop offset=".964" stop-color="#f6bfa6"/><stop offset="1" stop-color="#f7ba9f"/></linearGradient><linearGradient id="l125"><stop offset="0" stop-color="#dddcdc"/><stop offset=".036" stop-color="#d6dce4"/><stop offset=".071" stop-color="#c0d4f5"/><stop offset=".107" stop-color="#9ebeff"/><stop offset=".143" stop-color="#7b9ff9"/><stop offset=".179" stop-color="#6282ea"/><stop offset=".214" stop-color="#536edd"/><stop offset=".25" stop-color="#4b64d5"/><stop offset=".286" stop-color="#4961d2"/><stop offset=".321" stop-color="#4b64d5"/><stop offset=".357" stop-color="#4f69d9"/><stop offset=".393" stop-color="#5673e0"/><stop offset=".429" stop-color="#5f7fe8"/><stop offset=".464" stop-color="#6c8ff1"/><stop offset=".5" stop-color="#7b9ff9"/><stop offset=".536" stop-color="#8caffe"/><stop offset=".571" stop-color="#9ebeff"/><stop offset=".607" stop-color="#b1cbfc"/><stop offset=".643" stop-color="#c0d4f5"/><stop offset=".679" stop-color="#cdd9ec"/><stop offset=".714" stop-color="#d7dce3"/><stop offset=".75" stop-color="#e1dad6"/><stop offset=".786" stop-color="#e9d5cb"/><stop offset=".821" stop-color="#eed0c0"/><stop offset=".857" stop-color="#f2cbb7"/><stop offset=".893" stop-color="#f3c7b1"/><stop offset=".929" stop-color="#f5c2aa"/><stop offset=".964" stop-color="#f6bfa6"/><stop offset="1" stop-color="#f7ba9f"/></linearGradient><clipPath id="c126"><polygon points="98.9,346.1 98.9,398.4 154.5,425.8 153.6,374.7"/></clipPath><filter id="f127" x="-5%" y="-20%" width="110%" height="140%"><feGaussianBlur stdDeviation="0 7.97"/></filter><linearGradient id="l128"><stop offset="0" stop-color="#f6bda2"/><stop offset=".071" stop-color="#f7b396"/><stop offset=".143" stop-color="#f6a586"/><stop offset=".214" stop-color="#f39577"/><stop offset=".286" stop-color="#ee8468"/><stop offset=".357" stop-color="#e8765c"/><stop offset=".429" stop-color="#e36c55"/><stop offset=".5" stop-color="#e26952"/><stop offset=".571" stop-color="#e36c55"/><stop offset=".643" stop-color="#e8765c"/><stop offset=".714" stop-color="#ee8468"/><stop offset=".786" stop-color="#f29072"/><stop offset=".857" stop-color="#f49a7b"/><stop offset=".929" stop-color="#f5a081"/><stop offset="1" stop-color="#f6a586"/></linearGradient><linearGradient id="l129"><stop offset="0" stop-color="#f6bda2"/><stop offset=".071" stop-color="#f7b396"/><stop offset=".143" stop-color="#f6a586"/><stop offset=".214" stop-color="#f39577"/><stop offset=".286" stop-color="#ee8468"/><stop offset=".357" stop-color="#e8765c"/><stop offset=".429" stop-color="#e36c55"/><stop offset=".5" stop-color="#e26952"/><stop offset=".571" stop-color="#e36c55"/><stop offset=".643" stop-color="#e8765c"/><stop offset=".714" stop-color="#ee8468"/><stop offset=".786" stop-color="#f29072"/><stop offset=".857" stop-color="#f49a7b"/><stop offset=".929" stop-color="#f5a081"/><stop offset="1" stop-color="#f6a586"/></linearGradient><linearGradient id="l130"><stop offset="0" stop-color="#f6bda2"/><stop offset=".071" stop-color="#f7b396"/><stop offset=".143" stop-color="#f6a586"/><stop offset=".214" stop-color="#f39577"/><stop offset=".286" stop-color="#ee8468"/><stop offset=".357" stop-color="#e8765c"/><stop offset=".429" stop-color="#e36c55"/><stop offset=".5" stop-color="#e26952"/><stop offset=".571" stop-color="#e36c55"/><stop offset=".643" stop-color="#e8765c"/><stop offset=".714" stop-color="#ee8468"/><stop offset=".786" stop-color="#f29072"/><stop offset=".857" stop-color="#f4987a"/><stop offset=".929" stop-color="#f5a081"/><stop offset="1" stop-color="#f6a586"/></linearGradient><linearGradient id="l131"><stop offset="0" stop-color="#f6bda2"/><stop offset=".071" stop-color="#f7b396"/><stop offset=".143" stop-color="#f6a586"/><stop offset=".214" stop-color="#f39577"/><stop offset=".286" stop-color="#ee8468"/><stop offset=".357" stop-color="#e8765c"/><stop offset=".429" stop-color="#e36c55"/><stop offset=".5" stop-color="#e26952"/><stop offset=".571" stop-color="#e36c55"/><stop offset=".643" stop-color="#e8765c"/><stop offset=".714" stop-color="#ee8468"/><stop offset=".786" stop-color="#f29072"/><stop offset=".857" stop-color="#f4987a"/><stop offset=".929" stop-color="#f5a081"/><stop offset="1" stop-color="#f6a586"/></linearGradient><linearGradient id="l132"><stop offset="0" stop-color="#f6bda2"/><stop offset=".071" stop-color="#f7b396"/><stop offset=".143" stop-color="#f6a586"/><stop offset=".214" stop-color="#f39577"/><stop offset=".286" stop-color="#ee8468"/><stop offset=".357" stop-color="#e8765c"/><stop offset=".429" stop-color="#e36c55"/><stop offset=".5" stop-color="#e26952"/><stop offset=".571" stop-color="#e36c55"/><stop offset=".643" stop-color="#e8765c"/><stop offset=".714" stop-color="#ee8468"/><stop offset=".786" stop-color="#f29072"/><stop offset=".857" stop-color="#f4987a"/><stop offset=".929" stop-color="#f5a081"/><stop offset="1" stop-color="#f6a586"/></linearGradient><linearGradient id="l133"><stop offset="0" stop-color="#f6bda2"/><stop offset=".071" stop-color="#f7b396"/><stop offset=".143" stop-color="#f6a586"/><stop offset=".214" stop-color="#f39577"/><stop offset=".286" stop-color="#ee8468"/><stop offset=".357" stop-color="#e8765c"/><stop offset=".429" stop-color="#e36c55"/><stop offset=".5" stop-color="#e26952"/><stop offset=".571" stop-color="#e36c55"/><stop offset=".643" stop-color="#e8765c"/><stop offset=".714" stop-color="#ee8468"/><stop offset=".786" stop-color="#f29072"/><stop offset=".857" stop-color="#f49a7b"/><stop offset=".929" stop-color="#f5a081"/><stop offset="1" stop-color="#f6a586"/></linearGradient><linearGradient id="l134"><stop offset="0" stop-color="#f6bda2"/><stop offset=".071" stop-color="#f7b396"/><stop offset=".143" stop-color="#f6a586"/><stop offset=".214" stop-color="#f39577"/><stop offset=".286" stop-color="#ee8468"/><stop offset=".357" stop-color="#e8765c"/><stop offset=".429" stop-color="#e36c55"/><stop offset=".5" stop-color="#e26952"/><stop offset=".571" stop-color="#e36c55"/><stop offset=".643" stop-color="#e8765c"/><stop offset=".714" stop-color="#ee8468"/><stop offset=".786" stop-color="#f29072"/><stop offset=".857" stop-color="#f49a7b"/><stop offset=".929" stop-color="#f5a081"/><stop offset="1" stop-color="#f6a586"/></linearGradient><linearGradient id="l135"><stop offset="0" stop-color="#f6bda2"/><stop offset=".071" stop-color="#f7b396"/><stop offset=".143" stop-color="#f6a586"/><stop offset=".214" stop-color="#f39577"/><stop offset=".286" stop-color="#ee8468"/><stop offset=".357" stop-color="#e8765c"/><stop offset=".429" stop-color="#e36c55"/><stop offset=".5" stop-color="#e26952"/><stop offset=".571" stop-color="#e36c55"/><stop offset=".643" stop-color="#e8765c"/><stop offset=".714" stop-color="#ee8468"/><stop offset=".786" stop-color="#f29072"/><stop offset=".857" stop-color="#f49a7b"/><stop offset=".929" stop-color="#f5a081"/><stop offset="1" stop-color="#f6a586"/></linearGradient><clipPath id="c136"><polygon points="98.9,398.4 42.7,425.8 98.9,450 154.5,425.8"/></clipPath><filter id="f137" x="-5%" y="-20%" width="110%" height="140%"><feGaussianBlur stdDeviation="0 3.23"/></filter><linearGradient id="l138"><stop offset="0" stop-color="#5977e3"/><stop offset=".062" stop-color="#516ddb"/><stop offset=".125" stop-color="#5977e3"/><stop offset=".188" stop-color="#6e90f2"/><stop offset=".25" stop-color="#8db0fe"/><stop offset=".312" stop-color="#afcafc"/><stop offset=".375" stop-color="#cfdaea"/><stop offset=".438" stop-color="#e8d6cc"/><stop offset=".5" stop-color="#f4c6af"/><stop offset=".562" stop-color="#f7b79b"/><stop offset=".625" stop-color="#f7ac8e"/><stop offset=".688" stop-color="#f7a889"/><stop offset=".75" stop-color="#f6a586"/><stop offset=".812" stop-color="#f6a586"/><stop offset=".875" stop-color="#f6a586"/><stop offset=".938" stop-color="#f6a586"/><stop offset="1" stop-color="#f6a586"/></linearGradient><linearGradient id="l139"><stop offset="0" stop-color="#5977e3"/><stop offset=".062" stop-color="#516ddb"/><stop offset=".125" stop-color="#5977e3"/><stop offset=".188" stop-color="#6e90f2"/><stop offset=".25" stop-color="#8db0fe"/><stop offset=".312" stop-color="#afcafc"/><stop offset=".375" stop-color="#cfdaea"/><stop offset=".438" stop-color="#e8d6cc"/><stop offset=".5" stop-color="#f4c6af"/><stop offset=".562" stop-color="#f7b79b"/><stop offset=".625" stop-color="#f7ac8e"/><stop offset=".688" stop-color="#f7a889"/><stop offset=".75" stop-color="#f6a586"/><stop offset=".812" stop-color="#f6a586"/><stop offset=".875" stop-color="#f6a586"/><stop offset=".938" stop-color="#f6a586"/><stop offset="1" stop-color="#f6a586"/></linearGradient><linearGradient id="l140"><stop offset="0" stop-color="#5977e3"/><stop offset=".062" stop-color="#4e68d8"/><stop offset=".125" stop-color="#5572df"/><stop offset=".188" stop-color="#6c8ff1"/><stop offset=".25" stop-color="#8db0fe"/><stop offset=".312" stop-color="#b1cbfc"/><stop offset=".375" stop-color="#d1dae9"/><stop offset=".438" stop-color="#ead5c9"/><stop offset=".5" stop-color="#f5c2aa"/><stop offset=".562" stop-color="#f7b599"/><stop offset=".625" stop-color="#f7ad90"/><stop offset=".688" stop-color="#f6a586"/><stop offset=".75" stop-color="#f59d7e"/><stop offset=".812" stop-color="#f59c7d"/><stop offset=".875" stop-color="#f59c7d"/><stop offset=".938" stop-color="#f59d7e"/><stop offset="1" stop-color="#f59f80"/></linearGradient><linearGradient id="l141"><stop offset="0" stop-color="#536edd"/><stop offset=".062" stop-color="#4961d2"/><stop offset=".125" stop-color="#536edd"/><stop offset=".188" stop-color="#6b8df0"/><stop offset=".25" stop-color="#8db0fe"/><stop offset=".312" stop-color="#afcafc"/><stop offset=".375" stop-color="#cfdaea"/><stop offset=".438" stop-color="#e7d7ce"/><stop offset=".5" stop-color="#f4c6af"/><stop offset=".562" stop-color="#f7b497"/><stop offset=".625" stop-color="#f6a586"/><stop offset=".688" stop-color="#f39778"/><stop offset=".75" stop-color="#f18d6f"/><stop offset=".812" stop-color="#f08a6c"/><stop offset=".875" stop-color="#f18d6f"/><stop offset=".938" stop-color="#f29274"/><stop offset="1" stop-color="#f49a7b"/></linearGradient><linearGradient id="l142"><stop offset="0" stop-color="#4c66d6"/><stop offset=".062" stop-color="#455cce"/><stop offset=".125" stop-color="#516ddb"/><stop offset=".188" stop-color="#6a8bef"/><stop offset=".25" stop-color="#8caffe"/><stop offset=".312" stop-color="#aec9fc"/><stop offset=".375" stop-color="#cbd8ee"/><stop offset=".438" stop-color="#e2dad5"/><stop offset=".5" stop-color="#f2cbb7"/><stop offset=".562" stop-color="#f7b396"/><stop offset=".625" stop-color="#f4987a"/><stop offset=".688" stop-color="#ed8366"/><stop offset=".75" stop-color="#e8765c"/><stop offset=".812" stop-color="#e7745b"/><stop offset=".875" stop-color="#ea7b60"/><stop offset=".938" stop-color="#ef886b"/><stop offset="1" stop-color="#f29274"/></linearGradient><linearGradient id="l143"><stop offset="0" stop-color="#4961d2"/><stop offset=".062" stop-color="#455cce"/><stop offset=".125" stop-color="#536edd"/><stop offset=".188" stop-color="#6c8ff1"/><stop offset=".25" stop-color="#8db0fe"/><stop offset=".312" stop-color="#abc8fd"/><stop offset=".375" stop-color="#c6d6f1"/><stop offset=".438" stop-color="#dbdcde"/><stop offset=".5" stop-color="#efcfbf"/><stop offset=".562" stop-color="#f7b396"/><stop offset=".625" stop-color="#f18d6f"/><stop offset=".688" stop-color="#e36c55"/><stop offset=".75" stop-color="#dc5d4a"/><stop offset=".812" stop-color="#dd5f4b"/><stop offset=".875" stop-color="#e36c55"/><stop offset=".938" stop-color="#eb7d62"/><stop offset="1" stop-color="#f18d6f"/></linearGradient><linearGradient id="l144"><stop offset="0" stop-color="#4e68d8"/><stop offset=".062" stop-color="#4961d2"/><stop offset=".125" stop-color="#5875e1"/><stop offset=".188" stop-color="#7295f4"/><stop offset=".25" stop-color="#92b4fe"/><stop offset=".312" stop-color="#abc8fd"/><stop offset=".375" stop-color="#c3d5f4"/><stop offset=".438" stop-color="#d6dce4"/><stop offset=".5" stop-color="#ecd3c5"/><stop offset=".562" stop-color="#f7b396"/><stop offset=".625" stop-color="#ee8468"/><stop offset=".688" stop-color="#dd5f4b"/><stop offset=".75" stop-color="#d1493f"/><stop offset=".812" stop-color="#d55042"/><stop offset=".875" stop-color="#df634e"/><stop offset=".938" stop-color="#e9785d"/><stop offset="1" stop-color="#ef886b"/></linearGradient><linearGradient id="l145"><stop offset="0" stop-color="#5977e3"/><stop offset=".062" stop-color="#516ddb"/><stop offset=".125" stop-color="#5f7fe8"/><stop offset=".188" stop-color="#7a9df8"/><stop offset=".25" stop-color="#97b8ff"/><stop offset=".312" stop-color="#aec9fc"/><stop offset=".375" stop-color="#c0d4f5"/><stop offset=".438" stop-color="#d3dbe7"/><stop offset=".5" stop-color="#e9d5cb"/><stop offset=".562" stop-color="#f7b599"/><stop offset=".625" stop-color="#ee8468"/><stop offset=".688" stop-color="#d95847"/><stop offset=".75" stop-color="#cc403a"/><stop offset=".812" stop-color="#d0473d"/><stop offset=".875" stop-color="#dc5d4a"/><stop offset=".938" stop-color="#e8765c"/><stop offset="1" stop-color="#ee8468"/></linearGradient><linearGradient id="l146"><stop offset="0" stop-color="#688aef"/><stop offset=".062" stop-color="#6180e9"/><stop offset=".125" stop-color="#6b8df0"/><stop offset=".188" stop-color="#82a6fb"/><stop offset=".25" stop-color="#9dbdff"/><stop offset=".312" stop-color="#b1cbfc"/><stop offset=".375" stop-color="#c1d4f4"/><stop offset=".438" stop-color="#d1dae9"/><stop offset=".5" stop-color="#e6d7cf"/><stop offset=".562" stop-color="#f7ba9f"/><stop offset=".625" stop-color="#f08b6e"/><stop offset=".688" stop-color="#dc5d4a"/><stop offset=".75" stop-color="#cd423b"/><stop offset=".812" stop-color="#d0473d"/><stop offset=".875" stop-color="#dc5d4a"/><stop offset=".938" stop-color="#e7745b"/><stop offset="1" stop-color="#ed8366"/></linearGradient><linearGradient id="l147"><stop offset="0" stop-color="#7b9ff9"/><stop offset=".062" stop-color="#7597f6"/><stop offset=".125" stop-color="#7b9ff9"/><stop offset=".188" stop-color="#89acfd"/><stop offset=".25" stop-color="#9ebeff"/><stop offset=".312" stop-color="#b5cdfa"/><stop offset=".375" stop-color="#c6d6f1"/><stop offset=".438" stop-color="#d2dbe8"/><stop offset=".5" stop-color="#e2dad5"/><stop offset=".562" stop-color="#f5c4ac"/><stop offset=".625" stop-color="#f49a7b"/><stop offset=".688" stop-color="#e46e56"/><stop offset=".75" stop-color="#d65244"/><stop offset=".812" stop-color="#d44e41"/><stop offset=".875" stop-color="#dc5d4a"/><stop offset=".938" stop-color="#e67259"/><stop offset="1" stop-color="#ee8468"/></linearGradient><linearGradient id="l148"><stop offset="0" stop-color="#7b9ff9"/><stop offset=".062" stop-color="#7597f6"/><stop offset=".125" stop-color="#7b9ff9"/><stop offset=".188" stop-color="#89acfd"/><stop offset=".25" stop-color="#9ebeff"/><stop offset=".312" stop-color="#b5cdfa"/><stop offset=".375" stop-color="#c6d6f1"/><stop offset=".438" stop-color="#d2dbe8"/><stop offset=".5" stop-color="#e2dad5"/><stop offset=".562" stop-color="#f5c4ac"/><stop offset=".625" stop-color="#f49a7b"/><stop offset=".688" stop-color="#e46e56"/><stop offset=".75" stop-color="#d65244"/><stop offset=".812" stop-color="#d44e41"/><stop offset=".875" stop-color="#dc5d4a"/><stop offset=".938" stop-color="#e67259"/><stop offset="1" stop-color="#ee8468"/></linearGradient><linearGradient id="cb149" x1="0" y1="0" x2="0" y2="1"><stop offset="0" stop-color="#b40426"/><stop offset="0.05" stop-color="#c53334"/><stop offset="0.1" stop-color="#d65244"/><stop offset="0.15" stop-color="#e36c55"/><stop offset="0.2" stop-color="#ee8468"/><stop offset="0.25" stop-color="#f4987a"/><stop offset="0.3" stop-color="#f7ac8e"/><stop offset="0.35" stop-color="#f6bda2"/><stop offset="0.4" stop-color="#f2cbb7"/><stop offset="0.45" stop-color="#e9d5cb"/><stop offset="0.5" stop-color="#dddcdc"/><stop offset="0.55" stop-color="#cfdaea"/><stop offset="0.6" stop-color="#c0d4f5"/><stop offset="0.65" stop-color="#afcafc"/><stop offset="0.7" stop-color="#9ebeff"/><stop offset="0.75" stop-color="#8db0fe"/><stop offset="0.8" stop-color="#7b9ff9"/><stop offset="0.85" stop-color="#6a8bef"/><stop offset="0.9" stop-color="#5977e3"/><stop offset="0.95" stop-color="#4961d2"/><stop offset="1" stop-color="#3b4cc0"/></linearGradient><linearGradient id="cb150" x1="0" y1="0" x2="0" y2="1"><stop offset="0" stop-color="#b40426"/><stop offset="0.05" stop-color="#c53334"/><stop offset="0.1" stop-color="#d65244"/><stop offset="0.15" stop-color="#e36c55"/><stop offset="0.2" stop-color="#ee8468"/><stop offset="0.25" stop-color="#f4987a"/><stop offset="0.3" stop-color="#f7ac8e"/><stop offset="0.35" stop-color="#f6bda2"/><stop offset="0.4" stop-color="#f2cbb7"/><stop offset="0.45" stop-color="#e9d5cb"/><stop offset="0.5" stop-color="#dddcdc"/><stop offset="0.55" stop-color="#cfdaea"/><stop offset="0.6" stop-color="#c0d4f5"/><stop offset="0.65" stop-color="#afcafc"/><stop offset="0.7" stop-color="#9ebeff"/><stop offset="0.75" stop-color="#8db0fe"/><stop offset="0.8" stop-color="#7b9ff9"/><stop offset="0.85" stop-color="#6a8bef"/><stop offset="0.9" stop-color="#5977e3"/><stop offset="0.95" stop-color="#4961d2"/><stop offset="1" stop-color="#3b4cc0"/></linearGradient><clipPath id="c151"><rect x="45.4" y="520.4" width="93.2" height="99.7"/></clipPath><filter id="f152" x="-5%" y="-20%" width="110%" height="140%"><feGaussianBlur stdDeviation="0 4.15"/></filter><linearGradient id="l153"><stop offset="0" stop-color="#ee8468"/><stop offset=".083" stop-color="#ea7b60"/><stop offset=".167" stop-color="#ea7b60"/><stop offset=".25" stop-color="#e9785d"/><stop offset=".333" stop-color="#e16751"/><stop offset=".417" stop-color="#cd423b"/><stop offset=".5" stop-color="#be242e"/><stop offset=".583" stop-color="#cc403a"/><stop offset=".667" stop-color="#f18d6f"/><stop offset=".75" stop-color="#e2dad5"/><stop offset=".833" stop-color="#8db0fe"/><stop offset=".917" stop-color="#5875e1"/><stop offset="1" stop-color="#7597f6"/></linearGradient><linearGradient id="l154"><stop offset="0" stop-color="#ee8468"/><stop offset=".083" stop-color="#ea7b60"/><stop offset=".167" stop-color="#ea7b60"/><stop offset=".25" stop-color="#e9785d"/><stop offset=".333" stop-color="#e16751"/><stop offset=".417" stop-color="#cd423b"/><stop offset=".5" stop-color="#be242e"/><stop offset=".583" stop-color="#cc403a"/><stop offset=".667" stop-color="#f18d6f"/><stop offset=".75" stop-color="#e2dad5"/><stop offset=".833" stop-color="#8db0fe"/><stop offset=".917" stop-color="#5875e1"/><stop offset="1" stop-color="#7597f6"/></linearGradient><linearGradient id="l155"><stop offset="0" stop-color="#ed8366"/><stop offset=".083" stop-color="#ec7f63"/><stop offset=".167" stop-color="#ec8165"/><stop offset=".25" stop-color="#eb7d62"/><stop offset=".333" stop-color="#e57058"/><stop offset=".417" stop-color="#d65244"/><stop offset=".5" stop-color="#c83836"/><stop offset=".583" stop-color="#d0473d"/><stop offset=".667" stop-color="#f08b6e"/><stop offset=".75" stop-color="#e1dad6"/><stop offset=".833" stop-color="#88abfd"/><stop offset=".917" stop-color="#4f69d9"/><stop offset="1" stop-color="#6b8df0"/></linearGradient><linearGradient id="l156"><stop offset="0" stop-color="#ee8468"/><stop offset=".083" stop-color="#ec8165"/><stop offset=".167" stop-color="#ee8468"/><stop offset=".25" stop-color="#ed8366"/><stop offset=".333" stop-color="#e8765c"/><stop offset=".417" stop-color="#d95847"/><stop offset=".5" stop-color="#d0473d"/><stop offset=".583" stop-color="#de614d"/><stop offset=".667" stop-color="#f6a586"/><stop offset=".75" stop-color="#d6dce4"/><stop offset=".833" stop-color="#82a6fb"/><stop offset=".917" stop-color="#4f69d9"/><stop offset="1" stop-color="#6384eb"/></linearGradient><linearGradient id="l157"><stop offset="0" stop-color="#f08a6c"/><stop offset=".083" stop-color="#ee8669"/><stop offset=".167" stop-color="#ef886b"/><stop offset=".25" stop-color="#f08a6c"/><stop offset=".333" stop-color="#eb7d62"/><stop offset=".417" stop-color="#e0654f"/><stop offset=".5" stop-color="#dc5d4a"/><stop offset=".583" stop-color="#ef886b"/><stop offset=".667" stop-color="#f3c7b1"/><stop offset=".75" stop-color="#c0d4f5"/><stop offset=".833" stop-color="#7b9ff9"/><stop offset=".917" stop-color="#5470de"/><stop offset="1" stop-color="#5b7ae5"/></linearGradient><linearGradient id="l158"><stop offset="0" stop-color="#f29072"/><stop offset=".083" stop-color="#f18f71"/><stop offset=".167" stop-color="#f29072"/><stop offset=".25" stop-color="#f39475"/><stop offset=".333" stop-color="#f18d6f"/><stop offset=".417" stop-color="#eb7d62"/><stop offset=".5" stop-color="#ee8468"/><stop offset=".583" stop-color="#f7b396"/><stop offset=".667" stop-color="#dddcdc"/><stop offset=".75" stop-color="#a6c4fe"/><stop offset=".833" stop-color="#7597f6"/><stop offset=".917" stop-color="#5875e1"/><stop offset="1" stop-color="#5673e0"/></linearGradient><linearGradient id="l159"><stop offset="0" stop-color="#f59c7d"/><stop offset=".083" stop-color="#f59c7d"/><stop offset=".167" stop-color="#f59f80"/><stop offset=".25" stop-color="#f6a283"/><stop offset=".333" stop-color="#f6a586"/><stop offset=".417" stop-color="#f7a688"/><stop offset=".5" stop-color="#f7b89c"/><stop offset=".583" stop-color="#e8d6cc"/><stop offset=".667" stop-color="#bed2f6"/><stop offset=".75" stop-color="#8db0fe"/><stop offset=".833" stop-color="#6a8bef"/><stop offset=".917" stop-color="#5572df"/><stop offset="1" stop-color="#516ddb"/></linearGradient><linearGradient id="l160"><stop offset="0" stop-color="#f7ac8e"/><stop offset=".083" stop-color="#f7b093"/><stop offset=".167" stop-color="#f7b396"/><stop offset=".25" stop-color="#f7b89c"/><stop offset=".333" stop-color="#f5c0a7"/><stop offset=".417" stop-color="#f1ccb8"/><stop offset=".5" stop-color="#e2dad5"/><stop offset=".583" stop-color="#c5d6f2"/><stop offset=".667" stop-color="#9ebeff"/><stop offset=".75" stop-color="#7a9df8"/><stop offset=".833" stop-color="#5f7fe8"/><stop offset=".917" stop-color="#516ddb"/><stop offset="1" stop-color="#4f69d9"/></linearGradient><linearGradient id="l161"><stop offset="0" stop-color="#f5c1a9"/><stop offset=".083" stop-color="#f4c6af"/><stop offset=".167" stop-color="#f2cab5"/><stop offset=".25" stop-color="#efcfbf"/><stop offset=".333" stop-color="#e7d7ce"/><stop offset=".417" stop-color="#d7dce3"/><stop offset=".5" stop-color="#c0d4f5"/><stop offset=".583" stop-color="#a3c2fe"/><stop offset=".667" stop-color="#85a8fc"/><stop offset=".75" stop-color="#6b8df0"/><stop offset=".833" stop-color="#5977e3"/><stop offset=".917" stop-color="#4e68d8"/><stop offset="1" stop-color="#4e68d8"/></linearGradient><linearGradient id="l162"><stop offset="0" stop-color="#ebd3c6"/><stop offset=".083" stop-color="#e7d7ce"/><stop offset=".167" stop-color="#e2dad5"/><stop offset=".25" stop-color="#d9dce1"/><stop offset=".333" stop-color="#ccd9ed"/><stop offset=".417" stop-color="#b7cff9"/><stop offset=".5" stop-color="#9ebeff"/><stop offset=".583" stop-color="#86a9fc"/><stop offset=".667" stop-color="#7093f3"/><stop offset=".75" stop-color="#5f7fe8"/><stop offset=".833" stop-color="#536edd"/><stop offset=".917" stop-color="#4c66d6"/><stop offset="1" stop-color="#4c66d6"/></linearGradient><linearGradient id="l163"><stop offset="0" stop-color="#dddcdc"/><stop offset=".083" stop-color="#d6dce4"/><stop offset=".167" stop-color="#cdd9ec"/><stop offset=".25" stop-color="#c0d4f5"/><stop offset=".333" stop-color="#aec9fc"/><stop offset=".417" stop-color="#97b8ff"/><stop offset=".5" stop-color="#80a3fa"/><stop offset=".583" stop-color="#6c8ff1"/><stop offset=".667" stop-color="#5e7de7"/><stop offset=".75" stop-color="#5470de"/><stop offset=".833" stop-color="#4e68d8"/><stop offset=".917" stop-color="#4a63d3"/><stop offset="1" stop-color="#4a63d3"/></linearGradient><linearGradient id="l164"><stop offset="0" stop-color="#d2dbe8"/><stop offset=".083" stop-color="#c7d7f0"/><stop offset=".167" stop-color="#bad0f8"/><stop offset=".25" stop-color="#a9c6fd"/><stop offset=".333" stop-color="#94b6ff"/><stop offset=".417" stop-color="#7b9ff9"/><stop offset=".5" stop-color="#6687ed"/><stop offset=".583" stop-color="#5875e1"/><stop offset=".667" stop-color="#4f69d9"/><stop offset=".75" stop-color="#4b64d5"/><stop offset=".833" stop-color="#4961d2"/><stop offset=".917" stop-color="#4961d2"/><stop offset="1" stop-color="#4961d2"/></linearGradient><linearGradient id="l165"><stop offset="0" stop-color="#cbd8ee"/><stop offset=".083" stop-color="#bed2f6"/><stop offset=".167" stop-color="#adc9fd"/><stop offset=".25" stop-color="#98b9ff"/><stop offset=".333" stop-color="#81a4fb"/><stop offset=".417" stop-color="#6b8df0"/><stop offset=".5" stop-color="#5977e3"/><stop offset=".583" stop-color="#4e68d8"/><stop offset=".667" stop-color="#485fd1"/><stop offset=".75" stop-color="#465ecf"/><stop offset=".833" stop-color="#485fd1"/><stop offset=".917" stop-color="#4a63d3"/><stop offset="1" stop-color="#4b64d5"/></linearGradient><linearGradient id="l166"><stop offset="0" stop-color="#cad8ef"/><stop offset=".083" stop-color="#bcd2f7"/><stop offset=".167" stop-color="#a9c6fd"/><stop offset=".25" stop-color="#92b4fe"/><stop offset=".333" stop-color="#7b9ff9"/><stop offset=".417" stop-color="#6788ee"/><stop offset=".5" stop-color="#5977e3"/><stop offset=".583" stop-color="#4f69d9"/><stop offset=".667" stop-color="#4961d2"/><stop offset=".75" stop-color="#485fd1"/><stop offset=".833" stop-color="#4961d2"/><stop offset=".917" stop-color="#4e68d8"/><stop offset="1" stop-color="#536edd"/></linearGradient><linearGradient id="l167"><stop offset="0" stop-color="#cad8ef"/><stop offset=".083" stop-color="#bcd2f7"/><stop offset=".167" stop-color="#a9c6fd"/><stop offset=".25" stop-color="#92b4fe"/><stop offset=".333" stop-color="#7b9ff9"/><stop offset=".417" stop-color="#6788ee"/><stop offset=".5" stop-color="#5977e3"/><stop offset=".583" stop-color="#4f69d9"/><stop offset=".667" stop-color="#4961d2"/><stop offset=".75" stop-color="#485fd1"/><stop offset=".833" stop-color="#4961d2"/><stop offset=".917" stop-color="#4e68d8"/><stop offset="1" stop-color="#536edd"/></linearGradient><linearGradient id="cb168" x1="0" y1="0" x2="0" y2="1"><stop offset="0" stop-color="#b40426"/><stop offset="0.05" stop-color="#c53334"/><stop offset="0.1" stop-color="#d65244"/><stop offset="0.15" stop-color="#e36c55"/><stop offset="0.2" stop-color="#ee8468"/><stop offset="0.25" stop-color="#f4987a"/><stop offset="0.3" stop-color="#f7ac8e"/><stop offset="0.35" stop-color="#f6bda2"/><stop offset="0.4" stop-color="#f2cbb7"/><stop offset="0.45" stop-color="#e9d5cb"/><stop offset="0.5" stop-color="#dddcdc"/><stop offset="0.55" stop-color="#cfdaea"/><stop offset="0.6" stop-color="#c0d4f5"/><stop offset="0.65" stop-color="#afcafc"/><stop offset="0.7" stop-color="#9ebeff"/><stop offset="0.75" stop-color="#8db0fe"/><stop offset="0.8" stop-color="#7b9ff9"/><stop offset="0.85" stop-color="#6a8bef"/><stop offset="0.9" stop-color="#5977e3"/><stop offset="0.95" stop-color="#4961d2"/><stop offset="1" stop-color="#3b4cc0"/></linearGradient><clipPath id="c169"><rect x="211.2" y="520.4" width="93.2" height="99.7"/></clipPath><filter id="f170" x="-5%" y="-20%" width="110%" height="140%"><feGaussianBlur stdDeviation="0 4.15"/></filter><linearGradient id="l171"><stop offset="0" stop-color="#be242e"/><stop offset=".083" stop-color="#d0473d"/><stop offset=".167" stop-color="#f4987a"/><stop offset=".25" stop-color="#e6d7cf"/><stop offset=".333" stop-color="#afcafc"/><stop offset=".417" stop-color="#8caffe"/><stop offset=".5" stop-color="#7b9ff9"/><stop offset=".583" stop-color="#6f92f3"/><stop offset=".667" stop-color="#6a8bef"/><stop offset=".75" stop-color="#6b8df0"/><stop offset=".833" stop-color="#7597f6"/><stop offset=".917" stop-color="#80a3fa"/><stop offset="1" stop-color="#8db0fe"/></linearGradient><linearGradient id="l172"><stop offset="0" stop-color="#be242e"/><stop offset=".083" stop-color="#d0473d"/><stop offset=".167" stop-color="#f4987a"/><stop offset=".25" stop-color="#e6d7cf"/><stop offset=".333" stop-color="#afcafc"/><stop offset=".417" stop-color="#8caffe"/><stop offset=".5" stop-color="#7b9ff9"/><stop offset=".583" stop-color="#6f92f3"/><stop offset=".667" stop-color="#6a8bef"/><stop offset=".75" stop-color="#6b8df0"/><stop offset=".833" stop-color="#7597f6"/><stop offset=".917" stop-color="#80a3fa"/><stop offset="1" stop-color="#8db0fe"/></linearGradient><linearGradient id="l173"><stop offset="0" stop-color="#bd1f2d"/><stop offset=".083" stop-color="#d24b40"/><stop offset=".167" stop-color="#f5a081"/><stop offset=".25" stop-color="#e1dad6"/><stop offset=".333" stop-color="#a9c6fd"/><stop offset=".417" stop-color="#85a8fc"/><stop offset=".5" stop-color="#7396f5"/><stop offset=".583" stop-color="#6788ee"/><stop offset=".667" stop-color="#6282ea"/><stop offset=".75" stop-color="#6687ed"/><stop offset=".833" stop-color="#6f92f3"/><stop offset=".917" stop-color="#7b9ff9"/><stop offset="1" stop-color="#86a9fc"/></linearGradient><linearGradient id="l174"><stop offset="0" stop-color="#dc5d4a"/><stop offset=".083" stop-color="#ec8165"/><stop offset=".167" stop-color="#f6bda2"/><stop offset=".25" stop-color="#d3dbe7"/><stop offset=".333" stop-color="#9ebeff"/><stop offset=".417" stop-color="#7b9ff9"/><stop offset=".5" stop-color="#6a8bef"/><stop offset=".583" stop-color="#5e7de7"/><stop offset=".667" stop-color="#5977e3"/><stop offset=".75" stop-color="#5e7de7"/><stop offset=".833" stop-color="#6a8bef"/><stop offset=".917" stop-color="#779af7"/><stop offset="1" stop-color="#82a6fb"/></linearGradient><linearGradient id="l175"><stop offset="0" stop-color="#f6a385"/><stop offset=".083" stop-color="#f6bda2"/><stop offset=".167" stop-color="#e4d9d2"/><stop offset=".25" stop-color="#bcd2f7"/><stop offset=".333" stop-color="#92b4fe"/><stop offset=".417" stop-color="#7396f5"/><stop offset=".5" stop-color="#6180e9"/><stop offset=".583" stop-color="#5470de"/><stop offset=".667" stop-color="#506bda"/><stop offset=".75" stop-color="#5673e0"/><stop offset=".833" stop-color="#6485ec"/><stop offset=".917" stop-color="#7597f6"/><stop offset="1" stop-color="#7ea1fa"/></linearGradient><linearGradient id="l176"><stop offset="0" stop-color="#e9d5cb"/><stop offset=".083" stop-color="#d9dce1"/><stop offset=".167" stop-color="#c0d4f5"/><stop offset=".25" stop-color="#a1c0ff"/><stop offset=".333" stop-color="#82a6fb"/><stop offset=".417" stop-color="#6a8bef"/><stop offset=".5" stop-color="#5977e3"/><stop offset=".583" stop-color="#4c66d6"/><stop offset=".667" stop-color="#4961d2"/><stop offset=".75" stop-color="#506bda"/><stop offset=".833" stop-color="#5f7fe8"/><stop offset=".917" stop-color="#7093f3"/><stop offset="1" stop-color="#7b9ff9"/></linearGradient><linearGradient id="l177"><stop offset="0" stop-color="#bfd3f6"/><stop offset=".083" stop-color="#afcafc"/><stop offset=".167" stop-color="#9bbcff"/><stop offset=".25" stop-color="#88abfd"/><stop offset=".333" stop-color="#7396f5"/><stop offset=".417" stop-color="#6282ea"/><stop offset=".5" stop-color="#5470de"/><stop offset=".583" stop-color="#4961d2"/><stop offset=".667" stop-color="#455cce"/><stop offset=".75" stop-color="#4c66d6"/><stop offset=".833" stop-color="#5b7ae5"/><stop offset=".917" stop-color="#6b8df0"/><stop offset="1" stop-color="#779af7"/></linearGradient><linearGradient id="l178"><stop offset="0" stop-color="#97b8ff"/><stop offset=".083" stop-color="#8db0fe"/><stop offset=".167" stop-color="#82a6fb"/><stop offset=".25" stop-color="#7699f6"/><stop offset=".333" stop-color="#6a8bef"/><stop offset=".417" stop-color="#5e7de7"/><stop offset=".5" stop-color="#536edd"/><stop offset=".583" stop-color="#4961d2"/><stop offset=".667" stop-color="#465ecf"/><stop offset=".75" stop-color="#4c66d6"/><stop offset=".833" stop-color="#5977e3"/><stop offset=".917" stop-color="#688aef"/><stop offset="1" stop-color="#7597f6"/></linearGradient><linearGradient id="l179"><stop offset="0" stop-color="#7ea1fa"/><stop offset=".083" stop-color="#7b9ff9"/><stop offset=".167" stop-color="#7699f6"/><stop offset=".25" stop-color="#6f92f3"/><stop offset=".333" stop-color="#6788ee"/><stop offset=".417" stop-color="#5e7de7"/><stop offset=".5" stop-color="#5470de"/><stop offset=".583" stop-color="#4c66d6"/><stop offset=".667" stop-color="#4b64d5"/><stop offset=".75" stop-color="#506bda"/><stop offset=".833" stop-color="#5b7ae5"/><stop offset=".917" stop-color="#688aef"/><stop offset="1" stop-color="#7295f4"/></linearGradient><linearGradient id="l180"><stop offset="0" stop-color="#7597f6"/><stop offset=".083" stop-color="#7699f6"/><stop offset=".167" stop-color="#7597f6"/><stop offset=".25" stop-color="#7093f3"/><stop offset=".333" stop-color="#6a8bef"/><stop offset=".417" stop-color="#6180e9"/><stop offset=".5" stop-color="#5977e3"/><stop offset=".583" stop-color="#5470de"/><stop offset=".667" stop-color="#536edd"/><stop offset=".75" stop-color="#5875e1"/><stop offset=".833" stop-color="#5f7fe8"/><stop offset=".917" stop-color="#688aef"/><stop offset="1" stop-color="#7093f3"/></linearGradient><linearGradient id="l181"><stop offset="0" stop-color="#7597f6"/><stop offset=".083" stop-color="#7699f6"/><stop offset=".167" stop-color="#7699f6"/><stop offset=".25" stop-color="#7396f5"/><stop offset=".333" stop-color="#6e90f2"/><stop offset=".417" stop-color="#6788ee"/><stop offset=".5" stop-color="#6180e9"/><stop offset=".583" stop-color="#5d7ce6"/><stop offset=".667" stop-color="#5b7ae5"/><stop offset=".75" stop-color="#5d7ce6"/><stop offset=".833" stop-color="#6282ea"/><stop offset=".917" stop-color="#688aef"/><stop offset="1" stop-color="#6e90f2"/></linearGradient><linearGradient id="l182"><stop offset="0" stop-color="#7b9ff9"/><stop offset=".083" stop-color="#7b9ff9"/><stop offset=".167" stop-color="#7b9ff9"/><stop offset=".25" stop-color="#799cf8"/><stop offset=".333" stop-color="#7597f6"/><stop offset=".417" stop-color="#6f92f3"/><stop offset=".5" stop-color="#6a8bef"/><stop offset=".583" stop-color="#6687ed"/><stop offset=".667" stop-color="#6384eb"/><stop offset=".75" stop-color="#6282ea"/><stop offset=".833" stop-color="#6384eb"/><stop offset=".917" stop-color="#6687ed"/><stop offset="1" stop-color="#6a8bef"/></linearGradient><linearGradient id="l183"><stop offset="0" stop-color="#85a8fc"/><stop offset=".083" stop-color="#85a8fc"/><stop offset=".167" stop-color="#82a6fb"/><stop offset=".25" stop-color="#80a3fa"/><stop offset=".333" stop-color="#7a9df8"/><stop offset=".417" stop-color="#7699f6"/><stop offset=".5" stop-color="#7093f3"/><stop offset=".583" stop-color="#6c8ff1"/><stop offset=".667" stop-color="#688aef"/><stop offset=".75" stop-color="#6485ec"/><stop offset=".833" stop-color="#6384eb"/><stop offset=".917" stop-color="#6384eb"/><stop offset="1" stop-color="#688aef"/></linearGradient><linearGradient id="l184"><stop offset="0" stop-color="#8db0fe"/><stop offset=".083" stop-color="#8fb1fe"/><stop offset=".167" stop-color="#8db0fe"/><stop offset=".25" stop-color="#88abfd"/><stop offset=".333" stop-color="#82a6fb"/><stop offset=".417" stop-color="#7b9ff9"/><stop offset=".5" stop-color="#7597f6"/><stop offset=".583" stop-color="#6e90f2"/><stop offset=".667" stop-color="#6a8bef"/><stop offset=".75" stop-color="#6687ed"/><stop offset=".833" stop-color="#6384eb"/><stop offset=".917" stop-color="#6384eb"/><stop offset="1" stop-color="#6a8bef"/></linearGradient><linearGradient id="l185"><stop offset="0" stop-color="#8db0fe"/><stop offset=".083" stop-color="#8fb1fe"/><stop offset=".167" stop-color="#8db0fe"/><stop offset=".25" stop-color="#88abfd"/><stop offset=".333" stop-color="#82a6fb"/><stop offset=".417" stop-color="#7b9ff9"/><stop offset=".5" stop-color="#7597f6"/><stop offset=".583" stop-color="#6e90f2"/><stop offset=".667" stop-color="#6a8bef"/><stop offset=".75" stop-color="#6687ed"/><stop offset=".833" stop-color="#6384eb"/><stop offset=".917" stop-color="#6384eb"/><stop offset="1" stop-color="#6a8bef"/></linearGradient><linearGradient id="cb186" x1="0" y1="0" x2="0" y2="1"><stop offset="0" stop-color="#b40426"/><stop offset="0.05" stop-color="#c53334"/><stop offset="0.1" stop-color="#d65244"/><stop offset="0.15" stop-color="#e36c55"/><stop offset="0.2" stop-color="#ee8468"/><stop offset="0.25" stop-color="#f4987a"/><stop offset="0.3" stop-color="#f7ac8e"/><stop offset="0.35" stop-color="#f6bda2"/><stop offset="0.4" stop-color="#f2cbb7"/><stop offset="0.45" stop-color="#e9d5cb"/><stop offset="0.5" stop-color="#dddcdc"/><stop offset="0.55" stop-color="#cfdaea"/><stop offset="0.6" stop-color="#c0d4f5"/><stop offset="0.65" stop-color="#afcafc"/><stop offset="0.7" stop-color="#9ebeff"/><stop offset="0.75" stop-color="#8db0fe"/><stop offset="0.8" stop-color="#7b9ff9"/><stop offset="0.85" stop-color="#6a8bef"/><stop offset="0.9" stop-color="#5977e3"/><stop offset="0.95" stop-color="#4961d2"/><stop offset="1" stop-color="#3b4cc0"/></linearGradient><clipPath id="c187"><rect x="376.6" y="520.4" width="92.8" height="99.7"/></clipPath><filter id="f188" x="-5%" y="-20%" width="110%" height="140%"><feGaussianBlur stdDeviation="0 4.15"/></filter><linearGradient id="l189"><stop offset="0" stop-color="#be242e"/><stop offset=".083" stop-color="#c43032"/><stop offset=".167" stop-color="#f18d6f"/><stop offset=".25" stop-color="#e6d7cf"/><stop offset=".333" stop-color="#a5c3fe"/><stop offset=".417" stop-color="#779af7"/><stop offset=".5" stop-color="#5f7fe8"/><stop offset=".583" stop-color="#4e68d8"/><stop offset=".667" stop-color="#4961d2"/><stop offset=".75" stop-color="#5a78e4"/><stop offset=".833" stop-color="#7b9ff9"/><stop offset=".917" stop-color="#a2c1ff"/><stop offset="1" stop-color="#c0d4f5"/></linearGradient><linearGradient id="l190"><stop offset="0" stop-color="#be242e"/><stop offset=".083" stop-color="#c43032"/><stop offset=".167" stop-color="#f18d6f"/><stop offset=".25" stop-color="#e6d7cf"/><stop offset=".333" stop-color="#a5c3fe"/><stop offset=".417" stop-color="#779af7"/><stop offset=".5" stop-color="#5f7fe8"/><stop offset=".583" stop-color="#4e68d8"/><stop offset=".667" stop-color="#4961d2"/><stop offset=".75" stop-color="#5a78e4"/><stop offset=".833" stop-color="#7b9ff9"/><stop offset=".917" stop-color="#a2c1ff"/><stop offset="1" stop-color="#c0d4f5"/></linearGradient><linearGradient id="l191"><stop offset="0" stop-color="#b40426"/><stop offset=".083" stop-color="#c83836"/><stop offset=".167" stop-color="#f39778"/><stop offset=".25" stop-color="#e0dbd8"/><stop offset=".333" stop-color="#a1c0ff"/><stop offset=".417" stop-color="#7699f6"/><stop offset=".5" stop-color="#5e7de7"/><stop offset=".583" stop-color="#4b64d5"/><stop offset=".667" stop-color="#465ecf"/><stop offset=".75" stop-color="#5a78e4"/><stop offset=".833" stop-color="#80a3fa"/><stop offset=".917" stop-color="#a9c6fd"/><stop offset="1" stop-color="#c5d6f2"/></linearGradient><linearGradient id="l192"><stop offset="0" stop-color="#d0473d"/><stop offset=".083" stop-color="#e8765c"/><stop offset=".167" stop-color="#f6bda2"/><stop offset=".25" stop-color="#cdd9ec"/><stop offset=".333" stop-color="#94b6ff"/><stop offset=".417" stop-color="#7295f4"/><stop offset=".5" stop-color="#5f7fe8"/><stop offset=".583" stop-color="#4e68d8"/><stop offset=".667" stop-color="#4961d2"/><stop offset=".75" stop-color="#6180e9"/><stop offset=".833" stop-color="#8db0fe"/><stop offset=".917" stop-color="#b9d0f9"/><stop offset="1" stop-color="#cfdaea"/></linearGradient><linearGradient id="l193"><stop offset="0" stop-color="#f18f71"/><stop offset=".083" stop-color="#f7b89c"/><stop offset=".167" stop-color="#dfdbd9"/><stop offset=".25" stop-color="#afcafc"/><stop offset=".333" stop-color="#85a8fc"/><stop offset=".417" stop-color="#7093f3"/><stop offset=".5" stop-color="#6485ec"/><stop offset=".583" stop-color="#5470de"/><stop offset=".667" stop-color="#506bda"/><stop offset=".75" stop-color="#6b8df0"/><stop offset=".833" stop-color="#9bbcff"/><stop offset=".917" stop-color="#c7d7f0"/><stop offset="1" stop-color="#dadce0"/></linearGradient><linearGradient id="l194"><stop offset="0" stop-color="#f2cbb7"/><stop offset=".083" stop-color="#dcdddd"/><stop offset=".167" stop-color="#bad0f8"/><stop offset=".25" stop-color="#94b6ff"/><stop offset=".333" stop-color="#7b9ff9"/><stop offset=".417" stop-color="#7093f3"/><stop offset=".5" stop-color="#6a8bef"/><stop offset=".583" stop-color="#5b7ae5"/><stop offset=".667" stop-color="#5977e3"/><stop offset=".75" stop-color="#7597f6"/><stop offset=".833" stop-color="#a5c3fe"/><stop offset=".917" stop-color="#cfdaea"/><stop offset="1" stop-color="#e2dad5"/></linearGradient><linearGradient id="l195"><stop offset="0" stop-color="#c9d7f0"/><stop offset=".083" stop-color="#b5cdfa"/><stop offset=".167" stop-color="#9dbdff"/><stop offset=".25" stop-color="#86a9fc"/><stop offset=".333" stop-color="#799cf8"/><stop offset=".417" stop-color="#7597f6"/><stop offset=".5" stop-color="#6f92f3"/><stop offset=".583" stop-color="#6485ec"/><stop offset=".667" stop-color="#6384eb"/><stop offset=".75" stop-color="#7b9ff9"/><stop offset=".833" stop-color="#a6c4fe"/><stop offset=".917" stop-color="#cedaeb"/><stop offset="1" stop-color="#e3d9d3"/></linearGradient><linearGradient id="l196"><stop offset="0" stop-color="#9ebeff"/><stop offset=".083" stop-color="#97b8ff"/><stop offset=".167" stop-color="#8db0fe"/><stop offset=".25" stop-color="#82a6fb"/><stop offset=".333" stop-color="#7b9ff9"/><stop offset=".417" stop-color="#799cf8"/><stop offset=".5" stop-color="#7597f6"/><stop offset=".583" stop-color="#6b8df0"/><stop offset=".667" stop-color="#6a8bef"/><stop offset=".75" stop-color="#7da0f9"/><stop offset=".833" stop-color="#9ebeff"/><stop offset=".917" stop-color="#c3d5f4"/><stop offset="1" stop-color="#dddcdc"/></linearGradient><linearGradient id="l197"><stop offset="0" stop-color="#89acfd"/><stop offset=".083" stop-color="#8caffe"/><stop offset=".167" stop-color="#88abfd"/><stop offset=".25" stop-color="#81a4fb"/><stop offset=".333" stop-color="#7b9ff9"/><stop offset=".417" stop-color="#799cf8"/><stop offset=".5" stop-color="#7699f6"/><stop offset=".583" stop-color="#6e90f2"/><stop offset=".667" stop-color="#6b8df0"/><stop offset=".75" stop-color="#799cf8"/><stop offset=".833" stop-color="#92b4fe"/><stop offset=".917" stop-color="#afcafc"/><stop offset="1" stop-color="#cbd8ee"/></linearGradient><linearGradient id="l198"><stop offset="0" stop-color="#8db0fe"/><stop offset=".083" stop-color="#92b4fe"/><stop offset=".167" stop-color="#8db0fe"/><stop offset=".25" stop-color="#84a7fc"/><stop offset=".333" stop-color="#7b9ff9"/><stop offset=".417" stop-color="#779af7"/><stop offset=".5" stop-color="#7597f6"/><stop offset=".583" stop-color="#6c8ff1"/><stop offset=".667" stop-color="#6a8bef"/><stop offset=".75" stop-color="#7093f3"/><stop offset=".833" stop-color="#82a6fb"/><stop offset=".917" stop-color="#98b9ff"/><stop offset="1" stop-color="#afcafc"/></linearGradient><linearGradient id="l199"><stop offset="0" stop-color="#a5c3fe"/><stop offset=".083" stop-color="#a3c2fe"/><stop offset=".167" stop-color="#97b8ff"/><stop offset=".25" stop-color="#88abfd"/><stop offset=".333" stop-color="#7a9df8"/><stop offset=".417" stop-color="#7396f5"/><stop offset=".5" stop-color="#6f92f3"/><stop offset=".583" stop-color="#688aef"/><stop offset=".667" stop-color="#6485ec"/><stop offset=".75" stop-color="#6a8bef"/><stop offset=".833" stop-color="#7597f6"/><stop offset=".917" stop-color="#84a7fc"/><stop offset="1" stop-color="#93b5fe"/></linearGradient><linearGradient id="l200"><stop offset="0" stop-color="#c6d6f1"/><stop offset=".083" stop-color="#bad0f8"/><stop offset=".167" stop-color="#a5c3fe"/><stop offset=".25" stop-color="#8fb1fe"/><stop offset=".333" stop-color="#7b9ff9"/><stop offset=".417" stop-color="#7093f3"/><stop offset=".5" stop-color="#6a8bef"/><stop offset=".583" stop-color="#6384eb"/><stop offset=".667" stop-color="#5f7fe8"/><stop offset=".75" stop-color="#6282ea"/><stop offset=".833" stop-color="#6a8bef"/><stop offset=".917" stop-color="#7396f5"/><stop offset="1" stop-color="#7b9ff9"/></linearGradient><linearGradient id="l201"><stop offset="0" stop-color="#e4d9d2"/><stop offset=".083" stop-color="#d1dae9"/><stop offset=".167" stop-color="#b6cefa"/><stop offset=".25" stop-color="#98b9ff"/><stop offset=".333" stop-color="#81a4fb"/><stop offset=".417" stop-color="#7093f3"/><stop offset=".5" stop-color="#6788ee"/><stop offset=".583" stop-color="#5f7fe8"/><stop offset=".667" stop-color="#5b7ae5"/><stop offset=".75" stop-color="#5b7ae5"/><stop offset=".833" stop-color="#6180e9"/><stop offset=".917" stop-color="#6788ee"/><stop offset="1" stop-color="#6c8ff1"/></linearGradient><linearGradient id="l202"><stop offset="0" stop-color="#f4c6af"/><stop offset=".083" stop-color="#e2dad5"/><stop offset=".167" stop-color="#c6d6f1"/><stop offset=".25" stop-color="#a7c5fe"/><stop offset=".333" stop-color="#8db0fe"/><stop offset=".417" stop-color="#799cf8"/><stop offset=".5" stop-color="#6a8bef"/><stop offset=".583" stop-color="#5f7fe8"/><stop offset=".667" stop-color="#5977e3"/><stop offset=".75" stop-color="#5673e0"/><stop offset=".833" stop-color="#5977e3"/><stop offset=".917" stop-color="#5f7fe8"/><stop offset="1" stop-color="#6a8bef"/></linearGradient><linearGradient id="l203"><stop offset="0" stop-color="#f4c6af"/><stop offset=".083" stop-color="#e2dad5"/><stop offset=".167" stop-color="#c6d6f1"/><stop offset=".25" stop-color="#a7c5fe"/><stop offset=".333" stop-color="#8db0fe"/><stop offset=".417" stop-color="#799cf8"/><stop offset=".5" stop-color="#6a8bef"/><stop offset=".583" stop-color="#5f7fe8"/><stop offset=".667" stop-color="#5977e3"/><stop offset=".75" stop-color="#5673e0"/><stop offset=".833" stop-color="#5977e3"/><stop offset=".917" stop-color="#5f7fe8"/><stop offset="1" stop-color="#6a8bef"/></linearGradient><linearGradient id="cb204" x1="0" y1="0" x2="0" y2="1"><stop offset="0" stop-color="#b40426"/><stop offset="0.05" stop-color="#c53334"/><stop offset="0.1" stop-color="#d65244"/><stop offset="0.15" stop-color="#e36c55"/><stop offset="0.2" stop-color="#ee8468"/><stop offset="0.25" stop-color="#f4987a"/><stop offset="0.3" stop-color="#f7ac8e"/><stop offset="0.35" stop-color="#f6bda2"/><stop offset="0.4" stop-color="#f2cbb7"/><stop offset="0.45" stop-color="#e9d5cb"/><stop offset="0.5" stop-color="#dddcdc"/><stop offset="0.55" stop-color="#cfdaea"/><stop offset="0.6" stop-color="#c0d4f5"/><stop offset="0.65" stop-color="#afcafc"/><stop offset="0.7" stop-color="#9ebeff"/><stop offset="0.75" stop-color="#8db0fe"/><stop offset="0.8" stop-color="#7b9ff9"/><stop offset="0.85" stop-color="#6a8bef"/><stop offset="0.9" stop-color="#5977e3"/><stop offset="0.95" stop-color="#4961d2"/><stop offset="1" stop-color="#3b4cc0"/></linearGradient><clipPath id="c205"><rect x="544.4" y="520.4" width="92.7" height="99.7"/></clipPath><filter id="f206" x="-5%" y="-20%" width="110%" height="140%"><feGaussianBlur stdDeviation="0 4.15"/></filter><linearGradient id="l207"><stop offset="0" stop-color="#be242e"/><stop offset=".083" stop-color="#f08a6c"/><stop offset=".167" stop-color="#f2cbb7"/><stop offset=".25" stop-color="#cbd8ee"/><stop offset=".333" stop-color="#a5c3fe"/><stop offset=".417" stop-color="#93b5fe"/><stop offset=".5" stop-color="#8db0fe"/><stop offset=".583" stop-color="#8badfd"/><stop offset=".667" stop-color="#8db0fe"/><stop offset=".75" stop-color="#94b6ff"/><stop offset=".833" stop-color="#9ebeff"/><stop offset=".917" stop-color="#a6c4fe"/><stop offset="1" stop-color="#a9c6fd"/></linearGradient><linearGradient id="l208"><stop offset="0" stop-color="#be242e"/><stop offset=".083" stop-color="#f08a6c"/><stop offset=".167" stop-color="#f2cbb7"/><stop offset=".25" stop-color="#cbd8ee"/><stop offset=".333" stop-color="#a5c3fe"/><stop offset=".417" stop-color="#93b5fe"/><stop offset=".5" stop-color="#8db0fe"/><stop offset=".583" stop-color="#8badfd"/><stop offset=".667" stop-color="#8db0fe"/><stop offset=".75" stop-color="#94b6ff"/><stop offset=".833" stop-color="#9ebeff"/><stop offset=".917" stop-color="#a6c4fe"/><stop offset="1" stop-color="#a9c6fd"/></linearGradient><linearGradient id="l209"><stop offset="0" stop-color="#e3d9d3"/><stop offset=".083" stop-color="#d8dce2"/><stop offset=".167" stop-color="#c5d6f2"/><stop offset=".25" stop-color="#aec9fc"/><stop offset=".333" stop-color="#98b9ff"/><stop offset=".417" stop-color="#89acfd"/><stop offset=".5" stop-color="#80a3fa"/><stop offset=".583" stop-color="#7a9df8"/><stop offset=".667" stop-color="#7da0f9"/><stop offset=".75" stop-color="#88abfd"/><stop offset=".833" stop-color="#98b9ff"/><stop offset=".917" stop-color="#a6c4fe"/><stop offset="1" stop-color="#a9c6fd"/></linearGradient><linearGradient id="l210"><stop offset="0" stop-color="#82a6fb"/><stop offset=".083" stop-color="#88abfd"/><stop offset=".167" stop-color="#8db0fe"/><stop offset=".25" stop-color="#8fb1fe"/><stop offset=".333" stop-color="#8db0fe"/><stop offset=".417" stop-color="#84a7fc"/><stop offset=".5" stop-color="#7b9ff9"/><stop offset=".583" stop-color="#779af7"/><stop offset=".667" stop-color="#7b9ff9"/><stop offset=".75" stop-color="#88abfd"/><stop offset=".833" stop-color="#97b8ff"/><stop offset=".917" stop-color="#a5c3fe"/><stop offset="1" stop-color="#a9c6fd"/></linearGradient><linearGradient id="l211"><stop offset="0" stop-color="#4961d2"/><stop offset=".083" stop-color="#516ddb"/><stop offset=".167" stop-color="#6384eb"/><stop offset=".25" stop-color="#799cf8"/><stop offset=".333" stop-color="#85a8fc"/><stop offset=".417" stop-color="#84a7fc"/><stop offset=".5" stop-color="#7da0f9"/><stop offset=".583" stop-color="#7da0f9"/><stop offset=".667" stop-color="#82a6fb"/><stop offset=".75" stop-color="#8db0fe"/><stop offset=".833" stop-color="#9abbff"/><stop offset=".917" stop-color="#a5c3fe"/><stop offset="1" stop-color="#abc8fd"/></linearGradient><linearGradient id="l212"><stop offset="0" stop-color="#3b4cc0"/><stop offset=".083" stop-color="#445acc"/><stop offset=".167" stop-color="#5977e3"/><stop offset=".25" stop-color="#7093f3"/><stop offset=".333" stop-color="#82a6fb"/><stop offset=".417" stop-color="#85a8fc"/><stop offset=".5" stop-color="#82a6fb"/><stop offset=".583" stop-color="#85a8fc"/><stop offset=".667" stop-color="#8db0fe"/><stop offset=".75" stop-color="#96b7ff"/><stop offset=".833" stop-color="#9ebeff"/><stop offset=".917" stop-color="#a7c5fe"/><stop offset="1" stop-color="#afcafc"/></linearGradient><linearGradient id="l213"><stop offset="0" stop-color="#4e68d8"/><stop offset=".083" stop-color="#5f7fe8"/><stop offset=".167" stop-color="#7093f3"/><stop offset=".25" stop-color="#7da0f9"/><stop offset=".333" stop-color="#85a8fc"/><stop offset=".417" stop-color="#88abfd"/><stop offset=".5" stop-color="#88abfd"/><stop offset=".583" stop-color="#8caffe"/><stop offset=".667" stop-color="#93b5fe"/><stop offset=".75" stop-color="#9bbcff"/><stop offset=".833" stop-color="#a5c3fe"/><stop offset=".917" stop-color="#adc9fd"/><stop offset="1" stop-color="#b6cefa"/></linearGradient><linearGradient id="l214"><stop offset="0" stop-color="#82a6fb"/><stop offset=".083" stop-color="#94b6ff"/><stop offset=".167" stop-color="#97b8ff"/><stop offset=".25" stop-color="#93b5fe"/><stop offset=".333" stop-color="#8db0fe"/><stop offset=".417" stop-color="#8badfd"/><stop offset=".5" stop-color="#8db0fe"/><stop offset=".583" stop-color="#92b4fe"/><stop offset=".667" stop-color="#97b8ff"/><stop offset=".75" stop-color="#9fbfff"/><stop offset=".833" stop-color="#a9c6fd"/><stop offset=".917" stop-color="#b2ccfb"/><stop offset="1" stop-color="#bad0f8"/></linearGradient><linearGradient id="l215"><stop offset="0" stop-color="#c7d7f0"/><stop offset=".083" stop-color="#c4d5f3"/><stop offset=".167" stop-color="#b6cefa"/><stop offset=".25" stop-color="#a6c4fe"/><stop offset=".333" stop-color="#97b8ff"/><stop offset=".417" stop-color="#8fb1fe"/><stop offset=".5" stop-color="#8db0fe"/><stop offset=".583" stop-color="#92b4fe"/><stop offset=".667" stop-color="#98b9ff"/><stop offset=".75" stop-color="#a1c0ff"/><stop offset=".833" stop-color="#a9c6fd"/><stop offset=".917" stop-color="#afcafc"/><stop offset="1" stop-color="#b6cefa"/></linearGradient><linearGradient id="l216"><stop offset="0" stop-color="#efcfbf"/><stop offset=".083" stop-color="#dcdddd"/><stop offset=".167" stop-color="#c6d6f1"/><stop offset=".25" stop-color="#b1cbfc"/><stop offset=".333" stop-color="#9ebeff"/><stop offset=".417" stop-color="#92b4fe"/><stop offset=".5" stop-color="#8db0fe"/><stop offset=".583" stop-color="#90b2fe"/><stop offset=".667" stop-color="#97b8ff"/><stop offset=".75" stop-color="#9fbfff"/><stop offset=".833" stop-color="#a5c3fe"/><stop offset=".917" stop-color="#abc8fd"/><stop offset="1" stop-color="#afcafc"/></linearGradient><linearGradient id="l217"><stop offset="0" stop-color="#f3c8b2"/><stop offset=".083" stop-color="#dfdbd9"/><stop offset=".167" stop-color="#c7d7f0"/><stop offset=".25" stop-color="#b2ccfb"/><stop offset=".333" stop-color="#a1c0ff"/><stop offset=".417" stop-color="#93b5fe"/><stop offset=".5" stop-color="#8caffe"/><stop offset=".583" stop-color="#8db0fe"/><stop offset=".667" stop-color="#93b5fe"/><stop offset=".75" stop-color="#9abbff"/><stop offset=".833" stop-color="#a2c1ff"/><stop offset=".917" stop-color="#a7c5fe"/><stop offset="1" stop-color="#abc8fd"/></linearGradient><linearGradient id="l218"><stop offset="0" stop-color="#e9d5cb"/><stop offset=".083" stop-color="#d5dbe5"/><stop offset=".167" stop-color="#c0d4f5"/><stop offset=".25" stop-color="#adc9fd"/><stop offset=".333" stop-color="#9ebeff"/><stop offset=".417" stop-color="#93b5fe"/><stop offset=".5" stop-color="#8db0fe"/><stop offset=".583" stop-color="#8badfd"/><stop offset=".667" stop-color="#8db0fe"/><stop offset=".75" stop-color="#94b6ff"/><stop offset=".833" stop-color="#9ebeff"/><stop offset=".917" stop-color="#a6c4fe"/><stop offset="1" stop-color="#a9c6fd"/></linearGradient><linearGradient id="l219"><stop offset="0" stop-color="#d2dbe8"/><stop offset=".083" stop-color="#c4d5f3"/><stop offset=".167" stop-color="#b6cefa"/><stop offset=".25" stop-color="#a9c6fd"/><stop offset=".333" stop-color="#9dbdff"/><stop offset=".417" stop-color="#93b5fe"/><stop offset=".5" stop-color="#8db0fe"/><stop offset=".583" stop-color="#89acfd"/><stop offset=".667" stop-color="#89acfd"/><stop offset=".75" stop-color="#92b4fe"/><stop offset=".833" stop-color="#9dbdff"/><stop offset=".917" stop-color="#a6c4fe"/><stop offset="1" stop-color="#a9c6fd"/></linearGradient><linearGradient id="l220"><stop offset="0" stop-color="#c0d4f5"/><stop offset=".083" stop-color="#b7cff9"/><stop offset=".167" stop-color="#afcafc"/><stop offset=".25" stop-color="#a7c5fe"/><stop offset=".333" stop-color="#9ebeff"/><stop offset=".417" stop-color="#94b6ff"/><stop offset=".5" stop-color="#8db0fe"/><stop offset=".583" stop-color="#89acfd"/><stop offset=".667" stop-color="#8db0fe"/><stop offset=".75" stop-color="#94b6ff"/><stop offset=".833" stop-color="#9ebeff"/><stop offset=".917" stop-color="#a6c4fe"/><stop offset="1" stop-color="#a9c6fd"/></linearGradient><linearGradient id="l221"><stop offset="0" stop-color="#c0d4f5"/><stop offset=".083" stop-color="#b7cff9"/><stop offset=".167" stop-color="#afcafc"/><stop offset=".25" stop-color="#a7c5fe"/><stop offset=".333" stop-color="#9ebeff"/><stop offset=".417" stop-color="#94b6ff"/><stop offset=".5" stop-color="#8db0fe"/><stop offset=".583" stop-color="#89acfd"/><stop offset=".667" stop-color="#8db0fe"/><stop offset=".75" stop-color="#94b6ff"/><stop offset=".833" stop-color="#9ebeff"/><stop offset=".917" stop-color="#a6c4fe"/><stop offset="1" stop-color="#a9c6fd"/></linearGradient><linearGradient id="cb222" x1="0" y1="0" x2="0" y2="1"><stop offset="0" stop-color="#b40426"/><stop offset="0.05" stop-color="#c53334"/><stop offset="0.1" stop-color="#d65244"/><stop offset="0.15" stop-color="#e36c55"/><stop offset="0.2" stop-color="#ee8468"/><stop offset="0.25" stop-color="#f4987a"/><stop offset="0.3" stop-color="#f7ac8e"/><stop offset="0.35" stop-color="#f6bda2"/><stop offset="0.4" stop-color="#f2cbb7"/><stop offset="0.45" stop-color="#e9d5cb"/><stop offset="0.5" stop-color="#dddcdc"/><stop offset="0.55" stop-color="#cfdaea"/><stop offset="0.6" stop-color="#c0d4f5"/><stop offset="0.65" stop-color="#afcafc"/><stop offset="0.7" stop-color="#9ebeff"/><stop offset="0.75" stop-color="#8db0fe"/><stop offset="0.8" stop-color="#7b9ff9"/><stop offset="0.85" stop-color="#6a8bef"/><stop offset="0.9" stop-color="#5977e3"/><stop offset="0.95" stop-color="#4961d2"/><stop offset="1" stop-color="#3b4cc0"/></linearGradient><clipPath id="c223"><polygon points="41.2,705.5 97.4,680.5 153.6,705.2 97.4,732.6"/></clipPath><filter id="f224" x="-5%" y="-20%" width="110%" height="140%"><feGaussianBlur stdDeviation="0 3.26"/></filter><linearGradient id="l225"><stop offset="0" stop-color="#9ebeff"/><stop offset=".062" stop-color="#97b8ff"/><stop offset=".125" stop-color="#8db0fe"/><stop offset=".188" stop-color="#82a6fb"/><stop offset=".25" stop-color="#7b9ff9"/><stop offset=".312" stop-color="#81a4fb"/><stop offset=".375" stop-color="#afcafc"/><stop offset=".438" stop-color="#f3c7b1"/><stop offset=".5" stop-color="#f6a586"/><stop offset=".562" stop-color="#ccd9ed"/><stop offset=".625" stop-color="#5f7fe8"/><stop offset=".688" stop-color="#5f7fe8"/><stop offset=".75" stop-color="#9ebeff"/><stop offset=".812" stop-color="#cedaeb"/><stop offset=".875" stop-color="#e9d5cb"/><stop offset=".938" stop-color="#f5c0a7"/><stop offset="1" stop-color="#f4987a"/></linearGradient><linearGradient id="l226"><stop offset="0" stop-color="#9ebeff"/><stop offset=".062" stop-color="#97b8ff"/><stop offset=".125" stop-color="#8db0fe"/><stop offset=".188" stop-color="#82a6fb"/><stop offset=".25" stop-color="#7b9ff9"/><stop offset=".312" stop-color="#81a4fb"/><stop offset=".375" stop-color="#afcafc"/><stop offset=".438" stop-color="#f3c7b1"/><stop offset=".5" stop-color="#f6a586"/><stop offset=".562" stop-color="#ccd9ed"/><stop offset=".625" stop-color="#5f7fe8"/><stop offset=".688" stop-color="#5f7fe8"/><stop offset=".75" stop-color="#9ebeff"/><stop offset=".812" stop-color="#cedaeb"/><stop offset=".875" stop-color="#e9d5cb"/><stop offset=".938" stop-color="#f5c0a7"/><stop offset="1" stop-color="#f4987a"/></linearGradient><linearGradient id="l227"><stop offset="0" stop-color="#96b7ff"/><stop offset=".062" stop-color="#8caffe"/><stop offset=".125" stop-color="#7ea1fa"/><stop offset=".188" stop-color="#7396f5"/><stop offset=".25" stop-color="#6c8ff1"/><stop offset=".312" stop-color="#7396f5"/><stop offset=".375" stop-color="#96b7ff"/><stop offset=".438" stop-color="#d2dbe8"/><stop offset=".5" stop-color="#e0dbd8"/><stop offset=".562" stop-color="#9dbdff"/><stop offset=".625" stop-color="#4f69d9"/><stop offset=".688" stop-color="#5b7ae5"/><stop offset=".75" stop-color="#9bbcff"/><stop offset=".812" stop-color="#cbd8ee"/><stop offset=".875" stop-color="#e4d9d2"/><stop offset=".938" stop-color="#f4c6af"/><stop offset="1" stop-color="#f59d7e"/></linearGradient><linearGradient id="l228"><stop offset="0" stop-color="#97b8ff"/><stop offset=".062" stop-color="#8caffe"/><stop offset=".125" stop-color="#82a6fb"/><stop offset=".188" stop-color="#7a9df8"/><stop offset=".25" stop-color="#7597f6"/><stop offset=".312" stop-color="#7396f5"/><stop offset=".375" stop-color="#82a6fb"/><stop offset=".438" stop-color="#a5c3fe"/><stop offset=".5" stop-color="#afcafc"/><stop offset=".562" stop-color="#82a6fb"/><stop offset=".625" stop-color="#5977e3"/><stop offset=".688" stop-color="#6b8df0"/><stop offset=".75" stop-color="#9ebeff"/><stop offset=".812" stop-color="#c4d5f3"/><stop offset=".875" stop-color="#dcdddd"/><stop offset=".938" stop-color="#f2cbb7"/><stop offset="1" stop-color="#f4987a"/></linearGradient><linearGradient id="l229"><stop offset="0" stop-color="#9ebeff"/><stop offset=".062" stop-color="#94b6ff"/><stop offset=".125" stop-color="#8fb1fe"/><stop offset=".188" stop-color="#8caffe"/><stop offset=".25" stop-color="#85a8fc"/><stop offset=".312" stop-color="#7b9ff9"/><stop offset=".375" stop-color="#779af7"/><stop offset=".438" stop-color="#82a6fb"/><stop offset=".5" stop-color="#89acfd"/><stop offset=".562" stop-color="#7a9df8"/><stop offset=".625" stop-color="#6f92f3"/><stop offset=".688" stop-color="#82a6fb"/><stop offset=".75" stop-color="#a3c2fe"/><stop offset=".812" stop-color="#bed2f6"/><stop offset=".875" stop-color="#d5dbe5"/><stop offset=".938" stop-color="#efcebd"/><stop offset="1" stop-color="#f29274"/></linearGradient><linearGradient id="l230"><stop offset="0" stop-color="#a5c3fe"/><stop offset=".062" stop-color="#9fbfff"/><stop offset=".125" stop-color="#9ebeff"/><stop offset=".188" stop-color="#9ebeff"/><stop offset=".25" stop-color="#97b8ff"/><stop offset=".312" stop-color="#88abfd"/><stop offset=".375" stop-color="#7b9ff9"/><stop offset=".438" stop-color="#799cf8"/><stop offset=".5" stop-color="#7b9ff9"/><stop offset=".562" stop-color="#7da0f9"/><stop offset=".625" stop-color="#82a6fb"/><stop offset=".688" stop-color="#92b4fe"/><stop offset=".75" stop-color="#a5c3fe"/><stop offset=".812" stop-color="#b9d0f9"/><stop offset=".875" stop-color="#cfdaea"/><stop offset=".938" stop-color="#eed0c0"/><stop offset="1" stop-color="#f18d6f"/></linearGradient><linearGradient id="l231"><stop offset="0" stop-color="#abc8fd"/><stop offset=".062" stop-color="#a9c6fd"/><stop offset=".125" stop-color="#a9c6fd"/><stop offset=".188" stop-color="#a6c4fe"/><stop offset=".25" stop-color="#a1c0ff"/><stop offset=".312" stop-color="#97b8ff"/><stop offset=".375" stop-color="#8db0fe"/><stop offset=".438" stop-color="#89acfd"/><stop offset=".5" stop-color="#86a9fc"/><stop offset=".562" stop-color="#82a6fb"/><stop offset=".625" stop-color="#82a6fb"/><stop offset=".688" stop-color="#90b2fe"/><stop offset=".75" stop-color="#a3c2fe"/><stop offset=".812" stop-color="#b6cefa"/><stop offset=".875" stop-color="#cdd9ec"/><stop offset=".938" stop-color="#edd1c2"/><stop offset="1" stop-color="#f08b6e"/></linearGradient><linearGradient id="l232"><stop offset="0" stop-color="#afcafc"/><stop offset=".062" stop-color="#b2ccfb"/><stop offset=".125" stop-color="#afcafc"/><stop offset=".188" stop-color="#aac7fd"/><stop offset=".25" stop-color="#a5c3fe"/><stop offset=".312" stop-color="#a3c2fe"/><stop offset=".375" stop-color="#a5c3fe"/><stop offset=".438" stop-color="#a6c4fe"/><stop offset=".5" stop-color="#9ebeff"/><stop offset=".562" stop-color="#89acfd"/><stop offset=".625" stop-color="#7b9ff9"/><stop offset=".688" stop-color="#86a9fc"/><stop offset=".75" stop-color="#9ebeff"/><stop offset=".812" stop-color="#b6cefa"/><stop offset=".875" stop-color="#cfdaea"/><stop offset=".938" stop-color="#eed0c0"/><stop offset="1" stop-color="#f18d6f"/></linearGradient><linearGradient id="l233"><stop offset="0" stop-color="#b6cefa"/><stop offset=".062" stop-color="#bad0f8"/><stop offset=".125" stop-color="#b6cefa"/><stop offset=".188" stop-color="#afcafc"/><stop offset=".25" stop-color="#abc8fd"/><stop offset=".312" stop-color="#aec9fc"/><stop offset=".375" stop-color="#b5cdfa"/><stop offset=".438" stop-color="#b9d0f9"/><stop offset=".5" stop-color="#aec9fc"/><stop offset=".562" stop-color="#90b2fe"/><stop offset=".625" stop-color="#7a9df8"/><stop offset=".688" stop-color="#81a4fb"/><stop offset=".75" stop-color="#9bbcff"/><stop offset=".812" stop-color="#b5cdfa"/><stop offset=".875" stop-color="#d1dae9"/><stop offset=".938" stop-color="#efcebd"/><stop offset="1" stop-color="#f18f71"/></linearGradient><linearGradient id="l234"><stop offset="0" stop-color="#c0d4f5"/><stop offset=".062" stop-color="#c1d4f4"/><stop offset=".125" stop-color="#c0d4f5"/><stop offset=".188" stop-color="#bed2f6"/><stop offset=".25" stop-color="#bad0f8"/><stop offset=".312" stop-color="#b5cdfa"/><stop offset=".375" stop-color="#afcafc"/><stop offset=".438" stop-color="#adc9fd"/><stop offset=".5" stop-color="#a5c3fe"/><stop offset=".562" stop-color="#97b8ff"/><stop offset=".625" stop-color="#8caffe"/><stop offset=".688" stop-color="#90b2fe"/><stop offset=".75" stop-color="#9ebeff"/><stop offset=".812" stop-color="#b3cdfb"/><stop offset=".875" stop-color="#cfdaea"/><stop offset=".938" stop-color="#efcebd"/><stop offset="1" stop-color="#f18d6f"/></linearGradient><linearGradient id="l235"><stop offset="0" stop-color="#c0d4f5"/><stop offset=".062" stop-color="#c1d4f4"/><stop offset=".125" stop-color="#c0d4f5"/><stop offset=".188" stop-color="#bed2f6"/><stop offset=".25" stop-color="#bad0f8"/><stop offset=".312" stop-color="#b5cdfa"/><stop offset=".375" stop-color="#afcafc"/><stop offset=".438" stop-color="#adc9fd"/><stop offset=".5" stop-color="#a5c3fe"/><stop offset=".562" stop-color="#97b8ff"/><stop offset=".625" stop-color="#8caffe"/><stop offset=".688" stop-color="#90b2fe"/><stop offset=".75" stop-color="#9ebeff"/><stop offset=".812" stop-color="#b3cdfb"/><stop offset=".875" stop-color="#cfdaea"/><stop offset=".938" stop-color="#efcebd"/><stop offset="1" stop-color="#f18d6f"/></linearGradient><clipPath id="c236"><polygon points="41.2,705.5 97.4,732.6 97.4,785.4 42.7,755.7"/></clipPath><filter id="f237" x="-5%" y="-20%" width="110%" height="140%"><feGaussianBlur stdDeviation="0 3.99"/></filter><linearGradient id="l238"><stop offset="0" stop-color="#cfdaea"/><stop offset=".125" stop-color="#d1dae9"/><stop offset=".25" stop-color="#cfdaea"/><stop offset=".375" stop-color="#cbd8ee"/><stop offset=".5" stop-color="#c6d6f1"/><stop offset=".625" stop-color="#c3d5f4"/><stop offset=".75" stop-color="#c0d4f5"/><stop offset=".875" stop-color="#bfd3f6"/><stop offset="1" stop-color="#c0d4f5"/></linearGradient><linearGradient id="l239"><stop offset="0" stop-color="#cfdaea"/><stop offset=".125" stop-color="#d1dae9"/><stop offset=".25" stop-color="#cfdaea"/><stop offset=".375" stop-color="#cbd8ee"/><stop offset=".5" stop-color="#c6d6f1"/><stop offset=".625" stop-color="#c3d5f4"/><stop offset=".75" stop-color="#c0d4f5"/><stop offset=".875" stop-color="#bfd3f6"/><stop offset="1" stop-color="#c0d4f5"/></linearGradient><linearGradient id="l240"><stop offset="0" stop-color="#d7dce3"/><stop offset=".125" stop-color="#d4dbe6"/><stop offset=".25" stop-color="#d1dae9"/><stop offset=".375" stop-color="#cdd9ec"/><stop offset=".5" stop-color="#cad8ef"/><stop offset=".625" stop-color="#c6d6f1"/><stop offset=".75" stop-color="#c3d5f4"/><stop offset=".875" stop-color="#c0d4f5"/><stop offset="1" stop-color="#bed2f6"/></linearGradient><linearGradient id="l241"><stop offset="0" stop-color="#dddcdc"/><stop offset=".125" stop-color="#dadce0"/><stop offset=".25" stop-color="#d7dce3"/><stop offset=".375" stop-color="#d4dbe6"/><stop offset=".5" stop-color="#cfdaea"/><stop offset=".625" stop-color="#cbd8ee"/><stop offset=".75" stop-color="#c6d6f1"/><stop offset=".875" stop-color="#c3d5f4"/><stop offset="1" stop-color="#c0d4f5"/></linearGradient><linearGradient id="l242"><stop offset="0" stop-color="#e2dad5"/><stop offset=".125" stop-color="#e3d9d3"/><stop offset=".25" stop-color="#e0dbd8"/><stop offset=".375" stop-color="#dcdddd"/><stop offset=".5" stop-color="#d6dce4"/><stop offset=".625" stop-color="#cfdaea"/><stop offset=".75" stop-color="#cbd8ee"/><stop offset=".875" stop-color="#c6d6f1"/><stop offset="1" stop-color="#c4d5f3"/></linearGradient><linearGradient id="l243"><stop offset="0" stop-color="#e9d5cb"/><stop offset=".125" stop-color="#ebd3c6"/><stop offset=".25" stop-color="#e9d5cb"/><stop offset=".375" stop-color="#e4d9d2"/><stop offset=".5" stop-color="#dcdddd"/><stop offset=".625" stop-color="#d6dce4"/><stop offset=".75" stop-color="#cfdaea"/><stop offset=".875" stop-color="#cad8ef"/><stop offset="1" stop-color="#c6d6f1"/></linearGradient><linearGradient id="l244"><stop offset="0" stop-color="#f0cdbb"/><stop offset=".125" stop-color="#f0cdbb"/><stop offset=".25" stop-color="#eed0c0"/><stop offset=".375" stop-color="#ead5c9"/><stop offset=".5" stop-color="#e3d9d3"/><stop offset=".625" stop-color="#dbdcde"/><stop offset=".75" stop-color="#d4dbe6"/><stop offset=".875" stop-color="#ccd9ed"/><stop offset="1" stop-color="#c6d6f1"/></linearGradient><linearGradient id="l245"><stop offset="0" stop-color="#f4c6af"/><stop offset=".125" stop-color="#f3c7b1"/><stop offset=".25" stop-color="#f2cbb7"/><stop offset=".375" stop-color="#efcfbf"/><stop offset=".5" stop-color="#e9d5cb"/><stop offset=".625" stop-color="#e1dad6"/><stop offset=".75" stop-color="#d7dce3"/><stop offset=".875" stop-color="#cedaeb"/><stop offset="1" stop-color="#c6d6f1"/></linearGradient><linearGradient id="l246"><stop offset="0" stop-color="#f6bfa6"/><stop offset=".125" stop-color="#f6bfa6"/><stop offset=".25" stop-color="#f5c4ac"/><stop offset=".375" stop-color="#f2cbb7"/><stop offset=".5" stop-color="#edd2c3"/><stop offset=".625" stop-color="#e4d9d2"/><stop offset=".75" stop-color="#dadce0"/><stop offset=".875" stop-color="#d2dbe8"/><stop offset="1" stop-color="#cad8ef"/></linearGradient><linearGradient id="l247"><stop offset="0" stop-color="#f6bda2"/><stop offset=".125" stop-color="#f7b99e"/><stop offset=".25" stop-color="#f6bda2"/><stop offset=".375" stop-color="#f4c6af"/><stop offset=".5" stop-color="#efcfbf"/><stop offset=".625" stop-color="#e6d7cf"/><stop offset=".75" stop-color="#dddcdc"/><stop offset=".875" stop-color="#d5dbe5"/><stop offset="1" stop-color="#cfdaea"/></linearGradient><linearGradient id="l248"><stop offset="0" stop-color="#f6bda2"/><stop offset=".125" stop-color="#f7b79b"/><stop offset=".25" stop-color="#f7b99e"/><stop offset=".375" stop-color="#f5c2aa"/><stop offset=".5" stop-color="#f1cdba"/><stop offset=".625" stop-color="#e9d5cb"/><stop offset=".75" stop-color="#dfdbd9"/><stop offset=".875" stop-color="#d7dce3"/><stop offset="1" stop-color="#d2dbe8"/></linearGradient><linearGradient id="l249"><stop offset="0" stop-color="#f6bda2"/><stop offset=".125" stop-color="#f7ba9f"/><stop offset=".25" stop-color="#f6bda2"/><stop offset=".375" stop-color="#f5c2aa"/><stop offset=".5" stop-color="#f2cbb7"/><stop offset=".625" stop-color="#ebd3c6"/><stop offset=".75" stop-color="#e2dad5"/><stop offset=".875" stop-color="#d8dce2"/><stop offset="1" stop-color="#cfdaea"/></linearGradient><linearGradient id="l250"><stop offset="0" stop-color="#f6bda2"/><stop offset=".125" stop-color="#f7ba9f"/><stop offset=".25" stop-color="#f6bda2"/><stop offset=".375" stop-color="#f5c2aa"/><stop offset=".5" stop-color="#f2cbb7"/><stop offset=".625" stop-color="#ebd3c6"/><stop offset=".75" stop-color="#e2dad5"/><stop offset=".875" stop-color="#d8dce2"/><stop offset="1" stop-color="#cfdaea"/></linearGradient><clipPath id="c251"><polygon points="97.4,732.6 153.6,705.2 152.6,756.7 97.4,785.4"/></clipPath><filter id="f252" x="-5%" y="-20%" width="110%" height="140%"><feGaussianBlur stdDeviation="0 8.02"/></filter><linearGradient id="l253"><stop offset="0" stop-color="#bad0f8"/><stop offset=".071" stop-color="#aac7fd"/><stop offset=".143" stop-color="#97b8ff"/><stop offset=".214" stop-color="#86a9fc"/><stop offset=".286" stop-color="#7b9ff9"/><stop offset=".357" stop-color="#779af7"/><stop offset=".429" stop-color="#7b9ff9"/><stop offset=".5" stop-color="#86a9fc"/><stop offset=".571" stop-color="#97b8ff"/><stop offset=".643" stop-color="#adc9fd"/><stop offset=".714" stop-color="#c6d6f1"/><stop offset=".786" stop-color="#e1dad6"/><stop offset=".857" stop-color="#f4c6af"/><stop offset=".929" stop-color="#f7a889"/><stop offset="1" stop-color="#f18d6f"/></linearGradient><linearGradient id="l254"><stop offset="0" stop-color="#bad0f8"/><stop offset=".071" stop-color="#aac7fd"/><stop offset=".143" stop-color="#97b8ff"/><stop offset=".214" stop-color="#86a9fc"/><stop offset=".286" stop-color="#7b9ff9"/><stop offset=".357" stop-color="#779af7"/><stop offset=".429" stop-color="#7b9ff9"/><stop offset=".5" stop-color="#86a9fc"/><stop offset=".571" stop-color="#97b8ff"/><stop offset=".643" stop-color="#adc9fd"/><stop offset=".714" stop-color="#c6d6f1"/><stop offset=".786" stop-color="#e1dad6"/><stop offset=".857" stop-color="#f4c6af"/><stop offset=".929" stop-color="#f7a889"/><stop offset="1" stop-color="#f18d6f"/></linearGradient><linearGradient id="l255"><stop offset="0" stop-color="#bad0f8"/><stop offset=".071" stop-color="#aac7fd"/><stop offset=".143" stop-color="#97b8ff"/><stop offset=".214" stop-color="#86a9fc"/><stop offset=".286" stop-color="#7b9ff9"/><stop offset=".357" stop-color="#779af7"/><stop offset=".429" stop-color="#7b9ff9"/><stop offset=".5" stop-color="#86a9fc"/><stop offset=".571" stop-color="#97b8ff"/><stop offset=".643" stop-color="#adc9fd"/><stop offset=".714" stop-color="#c6d6f1"/><stop offset=".786" stop-color="#e1dad6"/><stop offset=".857" stop-color="#f4c6af"/><stop offset=".929" stop-color="#f7a889"/><stop offset="1" stop-color="#f18d6f"/></linearGradient><linearGradient id="l256"><stop offset="0" stop-color="#bad0f8"/><stop offset=".071" stop-color="#aac7fd"/><stop offset=".143" stop-color="#97b8ff"/><stop offset=".214" stop-color="#86a9fc"/><stop offset=".286" stop-color="#7b9ff9"/><stop offset=".357" stop-color="#779af7"/><stop offset=".429" stop-color="#7b9ff9"/><stop offset=".5" stop-color="#86a9fc"/><stop offset=".571" stop-color="#97b8ff"/><stop offset=".643" stop-color="#adc9fd"/><stop offset=".714" stop-color="#c6d6f1"/><stop offset=".786" stop-color="#e1dad6"/><stop offset=".857" stop-color="#f4c6af"/><stop offset=".929" stop-color="#f7a889"/><stop offset="1" stop-color="#f18d6f"/></linearGradient><linearGradient id="l257"><stop offset="0" stop-color="#bad0f8"/><stop offset=".071" stop-color="#aac7fd"/><stop offset=".143" stop-color="#97b8ff"/><stop offset=".214" stop-color="#86a9fc"/><stop offset=".286" stop-color="#7b9ff9"/><stop offset=".357" stop-color="#779af7"/><stop offset=".429" stop-color="#7b9ff9"/><stop offset=".5" stop-color="#86a9fc"/><stop offset=".571" stop-color="#97b8ff"/><stop offset=".643" stop-color="#adc9fd"/><stop offset=".714" stop-color="#c6d6f1"/><stop offset=".786" stop-color="#e1dad6"/><stop offset=".857" stop-color="#f4c6af"/><stop offset=".929" stop-color="#f7a889"/><stop offset="1" stop-color="#f18d6f"/></linearGradient><linearGradient id="l258"><stop offset="0" stop-color="#bad0f8"/><stop offset=".071" stop-color="#aac7fd"/><stop offset=".143" stop-color="#97b8ff"/><stop offset=".214" stop-color="#86a9fc"/><stop offset=".286" stop-color="#7b9ff9"/><stop offset=".357" stop-color="#779af7"/><stop offset=".429" stop-color="#7b9ff9"/><stop offset=".5" stop-color="#86a9fc"/><stop offset=".571" stop-color="#97b8ff"/><stop offset=".643" stop-color="#adc9fd"/><stop offset=".714" stop-color="#c6d6f1"/><stop offset=".786" stop-color="#e1dad6"/><stop offset=".857" stop-color="#f4c6af"/><stop offset=".929" stop-color="#f7a889"/><stop offset="1" stop-color="#f18d6f"/></linearGradient><linearGradient id="l259"><stop offset="0" stop-color="#bad0f8"/><stop offset=".071" stop-color="#aac7fd"/><stop offset=".143" stop-color="#97b8ff"/><stop offset=".214" stop-color="#86a9fc"/><stop offset=".286" stop-color="#7b9ff9"/><stop offset=".357" stop-color="#779af7"/><stop offset=".429" stop-color="#7b9ff9"/><stop offset=".5" stop-color="#86a9fc"/><stop offset=".571" stop-color="#97b8ff"/><stop offset=".643" stop-color="#adc9fd"/><stop offset=".714" stop-color="#c6d6f1"/><stop offset=".786" stop-color="#e1dad6"/><stop offset=".857" stop-color="#f4c6af"/><stop offset=".929" stop-color="#f7a889"/><stop offset="1" stop-color="#f18d6f"/></linearGradient><linearGradient id="l260"><stop offset="0" stop-color="#bad0f8"/><stop offset=".071" stop-color="#aac7fd"/><stop offset=".143" stop-color="#97b8ff"/><stop offset=".214" stop-color="#86a9fc"/><stop offset=".286" stop-color="#7b9ff9"/><stop offset=".357" stop-color="#779af7"/><stop offset=".429" stop-color="#7b9ff9"/><stop offset=".5" stop-color="#86a9fc"/><stop offset=".571" stop-color="#97b8ff"/><stop offset=".643" stop-color="#adc9fd"/><stop offset=".714" stop-color="#c6d6f1"/><stop offset=".786" stop-color="#e1dad6"/><stop offset=".857" stop-color="#f4c6af"/><stop offset=".929" stop-color="#f7a889"/><stop offset="1" stop-color="#f18d6f"/></linearGradient><clipPath id="c261"><polygon points="98.5,829.4 43.3,859 42.3,911.2 98.5,884.6"/></clipPath><filter id="f262" x="-5%" y="-20%" width="110%" height="140%"><feGaussianBlur stdDeviation="0 8.18"/></filter><linearGradient id="l263"><stop offset="0" stop-color="#afcafc"/><stop offset=".071" stop-color="#abc8fd"/><stop offset=".143" stop-color="#9ebeff"/><stop offset=".214" stop-color="#8caffe"/><stop offset=".286" stop-color="#7b9ff9"/><stop offset=".357" stop-color="#7295f4"/><stop offset=".429" stop-color="#7b9ff9"/><stop offset=".5" stop-color="#9ebeff"/><stop offset=".571" stop-color="#cfdaea"/><stop offset=".643" stop-color="#f3c7b1"/><stop offset=".714" stop-color="#f49a7b"/><stop offset=".786" stop-color="#e97a5f"/><stop offset=".857" stop-color="#e36c55"/><stop offset=".929" stop-color="#de614d"/><stop offset="1" stop-color="#d0473d"/></linearGradient><linearGradient id="l264"><stop offset="0" stop-color="#afcafc"/><stop offset=".071" stop-color="#abc8fd"/><stop offset=".143" stop-color="#9ebeff"/><stop offset=".214" stop-color="#8caffe"/><stop offset=".286" stop-color="#7b9ff9"/><stop offset=".357" stop-color="#7295f4"/><stop offset=".429" stop-color="#7b9ff9"/><stop offset=".5" stop-color="#9ebeff"/><stop offset=".571" stop-color="#cfdaea"/><stop offset=".643" stop-color="#f3c7b1"/><stop offset=".714" stop-color="#f49a7b"/><stop offset=".786" stop-color="#e97a5f"/><stop offset=".857" stop-color="#e36c55"/><stop offset=".929" stop-color="#de614d"/><stop offset="1" stop-color="#d0473d"/></linearGradient><linearGradient id="l265"><stop offset="0" stop-color="#adc9fd"/><stop offset=".071" stop-color="#aac7fd"/><stop offset=".143" stop-color="#9fbfff"/><stop offset=".214" stop-color="#8db0fe"/><stop offset=".286" stop-color="#7da0f9"/><stop offset=".357" stop-color="#7093f3"/><stop offset=".429" stop-color="#779af7"/><stop offset=".5" stop-color="#9bbcff"/><stop offset=".571" stop-color="#cdd9ec"/><stop offset=".643" stop-color="#f2c9b4"/><stop offset=".714" stop-color="#f59c7d"/><stop offset=".786" stop-color="#eb7d62"/><stop offset=".857" stop-color="#e36c55"/><stop offset=".929" stop-color="#dd5f4b"/><stop offset="1" stop-color="#cc403a"/></linearGradient><linearGradient id="l266"><stop offset="0" stop-color="#aec9fc"/><stop offset=".071" stop-color="#abc8fd"/><stop offset=".143" stop-color="#a2c1ff"/><stop offset=".214" stop-color="#94b6ff"/><stop offset=".286" stop-color="#84a7fc"/><stop offset=".357" stop-color="#779af7"/><stop offset=".429" stop-color="#7da0f9"/><stop offset=".5" stop-color="#9ebeff"/><stop offset=".571" stop-color="#cedaeb"/><stop offset=".643" stop-color="#f2cab5"/><stop offset=".714" stop-color="#f6a283"/><stop offset=".786" stop-color="#ee8468"/><stop offset=".857" stop-color="#e7745b"/><stop offset=".929" stop-color="#e16751"/><stop offset="1" stop-color="#d1493f"/></linearGradient><linearGradient id="l267"><stop offset="0" stop-color="#b2ccfb"/><stop offset=".071" stop-color="#b1cbfc"/><stop offset=".143" stop-color="#a9c6fd"/><stop offset=".214" stop-color="#9ebeff"/><stop offset=".286" stop-color="#90b2fe"/><stop offset=".357" stop-color="#85a8fc"/><stop offset=".429" stop-color="#8badfd"/><stop offset=".5" stop-color="#a7c5fe"/><stop offset=".571" stop-color="#d1dae9"/><stop offset=".643" stop-color="#f1ccb8"/><stop offset=".714" stop-color="#f7a98b"/><stop offset=".786" stop-color="#f29072"/><stop offset=".857" stop-color="#ed8366"/><stop offset=".929" stop-color="#e8765c"/><stop offset="1" stop-color="#dd5f4b"/></linearGradient><linearGradient id="l268"><stop offset="0" stop-color="#bbd1f8"/><stop offset=".071" stop-color="#b9d0f9"/><stop offset=".143" stop-color="#b3cdfb"/><stop offset=".214" stop-color="#abc8fd"/><stop offset=".286" stop-color="#a2c1ff"/><stop offset=".357" stop-color="#9dbdff"/><stop offset=".429" stop-color="#a2c1ff"/><stop offset=".5" stop-color="#b7cff9"/><stop offset=".571" stop-color="#d6dce4"/><stop offset=".643" stop-color="#f0cdbb"/><stop offset=".714" stop-color="#f7b396"/><stop offset=".786" stop-color="#f59f80"/><stop offset=".857" stop-color="#f39577"/><stop offset=".929" stop-color="#f18f71"/><stop offset="1" stop-color="#ec7f63"/></linearGradient><linearGradient id="l269"><stop offset="0" stop-color="#c6d6f1"/><stop offset=".071" stop-color="#c4d5f3"/><stop offset=".143" stop-color="#c0d4f5"/><stop offset=".214" stop-color="#bcd2f7"/><stop offset=".286" stop-color="#bad0f8"/><stop offset=".357" stop-color="#bad0f8"/><stop offset=".429" stop-color="#c0d4f5"/><stop offset=".5" stop-color="#ccd9ed"/><stop offset=".571" stop-color="#dddcdc"/><stop offset=".643" stop-color="#efcfbf"/><stop offset=".714" stop-color="#f6bda2"/><stop offset=".786" stop-color="#f7b194"/><stop offset=".857" stop-color="#f7ac8e"/><stop offset=".929" stop-color="#f7aa8c"/><stop offset="1" stop-color="#f6a586"/></linearGradient><linearGradient id="l270"><stop offset="0" stop-color="#c6d6f1"/><stop offset=".071" stop-color="#c4d5f3"/><stop offset=".143" stop-color="#c0d4f5"/><stop offset=".214" stop-color="#bcd2f7"/><stop offset=".286" stop-color="#bad0f8"/><stop offset=".357" stop-color="#bad0f8"/><stop offset=".429" stop-color="#c0d4f5"/><stop offset=".5" stop-color="#ccd9ed"/><stop offset=".571" stop-color="#dddcdc"/><stop offset=".643" stop-color="#efcfbf"/><stop offset=".714" stop-color="#f6bda2"/><stop offset=".786" stop-color="#f7b194"/><stop offset=".857" stop-color="#f7ac8e"/><stop offset=".929" stop-color="#f7aa8c"/><stop offset="1" stop-color="#f6a586"/></linearGradient><clipPath id="c271"><polygon points="98.5,829.4 98.5,884.6 154.7,911.2 153.6,859"/></clipPath><filter id="f272" x="-5%" y="-20%" width="110%" height="140%"><feGaussianBlur stdDeviation="0 8.18"/></filter><linearGradient id="l273"><stop offset="0" stop-color="#e9d5cb"/><stop offset=".071" stop-color="#7da0f9"/><stop offset=".143" stop-color="#5f7fe8"/><stop offset=".214" stop-color="#7699f6"/><stop offset=".286" stop-color="#9ebeff"/><stop offset=".357" stop-color="#bad0f8"/><stop offset=".429" stop-color="#cfdaea"/><stop offset=".5" stop-color="#e5d8d1"/><stop offset=".571" stop-color="#f4c6af"/><stop offset=".643" stop-color="#f7b396"/><stop offset=".714" stop-color="#f6a586"/><stop offset=".786" stop-color="#f59d7e"/><stop offset=".857" stop-color="#f49a7b"/><stop offset=".929" stop-color="#f39577"/><stop offset="1" stop-color="#f18d6f"/></linearGradient><linearGradient id="l274"><stop offset="0" stop-color="#e9d5cb"/><stop offset=".071" stop-color="#7da0f9"/><stop offset=".143" stop-color="#5f7fe8"/><stop offset=".214" stop-color="#7699f6"/><stop offset=".286" stop-color="#9ebeff"/><stop offset=".357" stop-color="#bad0f8"/><stop offset=".429" stop-color="#cfdaea"/><stop offset=".5" stop-color="#e5d8d1"/><stop offset=".571" stop-color="#f4c6af"/><stop offset=".643" stop-color="#f7b396"/><stop offset=".714" stop-color="#f6a586"/><stop offset=".786" stop-color="#f59d7e"/><stop offset=".857" stop-color="#f49a7b"/><stop offset=".929" stop-color="#f39577"/><stop offset="1" stop-color="#f18d6f"/></linearGradient><linearGradient id="l275"><stop offset="0" stop-color="#e9d5cb"/><stop offset=".071" stop-color="#7ea1fa"/><stop offset=".143" stop-color="#6180e9"/><stop offset=".214" stop-color="#779af7"/><stop offset=".286" stop-color="#9fbfff"/><stop offset=".357" stop-color="#bbd1f8"/><stop offset=".429" stop-color="#d1dae9"/><stop offset=".5" stop-color="#e6d7cf"/><stop offset=".571" stop-color="#f4c6af"/><stop offset=".643" stop-color="#f7b396"/><stop offset=".714" stop-color="#f6a586"/><stop offset=".786" stop-color="#f59d7e"/><stop offset=".857" stop-color="#f49a7b"/><stop offset=".929" stop-color="#f39577"/><stop offset="1" stop-color="#f18d6f"/></linearGradient><linearGradient id="l276"><stop offset="0" stop-color="#e9d5cb"/><stop offset=".071" stop-color="#80a3fa"/><stop offset=".143" stop-color="#6282ea"/><stop offset=".214" stop-color="#799cf8"/><stop offset=".286" stop-color="#a1c0ff"/><stop offset=".357" stop-color="#bed2f6"/><stop offset=".429" stop-color="#d2dbe8"/><stop offset=".5" stop-color="#e6d7cf"/><stop offset=".571" stop-color="#f4c6af"/><stop offset=".643" stop-color="#f7b396"/><stop offset=".714" stop-color="#f6a586"/><stop offset=".786" stop-color="#f59d7e"/><stop offset=".857" stop-color="#f49a7b"/><stop offset=".929" stop-color="#f39577"/><stop offset="1" stop-color="#f18d6f"/></linearGradient><linearGradient id="l277"><stop offset="0" stop-color="#e9d5cb"/><stop offset=".071" stop-color="#81a4fb"/><stop offset=".143" stop-color="#6384eb"/><stop offset=".214" stop-color="#7a9df8"/><stop offset=".286" stop-color="#a2c1ff"/><stop offset=".357" stop-color="#bfd3f6"/><stop offset=".429" stop-color="#d3dbe7"/><stop offset=".5" stop-color="#e7d7ce"/><stop offset=".571" stop-color="#f4c6af"/><stop offset=".643" stop-color="#f7b396"/><stop offset=".714" stop-color="#f6a586"/><stop offset=".786" stop-color="#f59d7e"/><stop offset=".857" stop-color="#f49a7b"/><stop offset=".929" stop-color="#f39577"/><stop offset="1" stop-color="#f18d6f"/></linearGradient><linearGradient id="l278"><stop offset="0" stop-color="#e9d5cb"/><stop offset=".071" stop-color="#81a4fb"/><stop offset=".143" stop-color="#6485ec"/><stop offset=".214" stop-color="#7b9ff9"/><stop offset=".286" stop-color="#a3c2fe"/><stop offset=".357" stop-color="#c0d4f5"/><stop offset=".429" stop-color="#d4dbe6"/><stop offset=".5" stop-color="#e8d6cc"/><stop offset=".571" stop-color="#f4c6af"/><stop offset=".643" stop-color="#f7b396"/><stop offset=".714" stop-color="#f6a586"/><stop offset=".786" stop-color="#f59d7e"/><stop offset=".857" stop-color="#f4987a"/><stop offset=".929" stop-color="#f39577"/><stop offset="1" stop-color="#f18d6f"/></linearGradient><linearGradient id="l279"><stop offset="0" stop-color="#e9d5cb"/><stop offset=".071" stop-color="#82a6fb"/><stop offset=".143" stop-color="#6687ed"/><stop offset=".214" stop-color="#7da0f9"/><stop offset=".286" stop-color="#a5c3fe"/><stop offset=".357" stop-color="#c1d4f4"/><stop offset=".429" stop-color="#d5dbe5"/><stop offset=".5" stop-color="#e8d6cc"/><stop offset=".571" stop-color="#f4c6af"/><stop offset=".643" stop-color="#f7b396"/><stop offset=".714" stop-color="#f6a586"/><stop offset=".786" stop-color="#f59d7e"/><stop offset=".857" stop-color="#f49a7b"/><stop offset=".929" stop-color="#f39577"/><stop offset="1" stop-color="#f18d6f"/></linearGradient><linearGradient id="l280"><stop offset="0" stop-color="#e9d5cb"/><stop offset=".071" stop-color="#82a6fb"/><stop offset=".143" stop-color="#6687ed"/><stop offset=".214" stop-color="#7da0f9"/><stop offset=".286" stop-color="#a5c3fe"/><stop offset=".357" stop-color="#c1d4f4"/><stop offset=".429" stop-color="#d5dbe5"/><stop offset=".5" stop-color="#e8d6cc"/><stop offset=".571" stop-color="#f4c6af"/><stop offset=".643" stop-color="#f7b396"/><stop offset=".714" stop-color="#f6a586"/><stop offset=".786" stop-color="#f59d7e"/><stop offset=".857" stop-color="#f49a7b"/><stop offset=".929" stop-color="#f39577"/><stop offset="1" stop-color="#f18d6f"/></linearGradient><clipPath id="c281"><polygon points="98.5,884.6 42.3,911.2 98.5,935.1 154.7,911.2"/></clipPath><filter id="f282" x="-5%" y="-20%" width="110%" height="140%"><feGaussianBlur stdDeviation="0 3.16"/></filter><linearGradient id="l283"><stop offset="0" stop-color="#f2cbb7"/><stop offset=".062" stop-color="#f2cab5"/><stop offset=".125" stop-color="#f4c6af"/><stop offset=".188" stop-color="#f6bea4"/><stop offset=".25" stop-color="#f7b396"/><stop offset=".312" stop-color="#f7a98b"/><stop offset=".375" stop-color="#f6a586"/><stop offset=".438" stop-color="#f7b396"/><stop offset=".5" stop-color="#e9d5cb"/><stop offset=".562" stop-color="#a6c4fe"/><stop offset=".625" stop-color="#6a8bef"/><stop offset=".688" stop-color="#7093f3"/><stop offset=".75" stop-color="#97b8ff"/><stop offset=".812" stop-color="#b1cbfc"/><stop offset=".875" stop-color="#bad0f8"/><stop offset=".938" stop-color="#bcd2f7"/><stop offset="1" stop-color="#c0d4f5"/></linearGradient><linearGradient id="l284"><stop offset="0" stop-color="#f2cbb7"/><stop offset=".062" stop-color="#f2cab5"/><stop offset=".125" stop-color="#f4c6af"/><stop offset=".188" stop-color="#f6bea4"/><stop offset=".25" stop-color="#f7b396"/><stop offset=".312" stop-color="#f7a98b"/><stop offset=".375" stop-color="#f6a586"/><stop offset=".438" stop-color="#f7b396"/><stop offset=".5" stop-color="#e9d5cb"/><stop offset=".562" stop-color="#a6c4fe"/><stop offset=".625" stop-color="#6a8bef"/><stop offset=".688" stop-color="#7093f3"/><stop offset=".75" stop-color="#97b8ff"/><stop offset=".812" stop-color="#b1cbfc"/><stop offset=".875" stop-color="#bad0f8"/><stop offset=".938" stop-color="#bcd2f7"/><stop offset="1" stop-color="#c0d4f5"/></linearGradient><linearGradient id="l285"><stop offset="0" stop-color="#f2cbb7"/><stop offset=".062" stop-color="#f4c6af"/><stop offset=".125" stop-color="#f5c4ac"/><stop offset=".188" stop-color="#f5c0a7"/><stop offset=".25" stop-color="#f7b99e"/><stop offset=".312" stop-color="#f7af91"/><stop offset=".375" stop-color="#f7b396"/><stop offset=".438" stop-color="#eed0c0"/><stop offset=".5" stop-color="#bfd3f6"/><stop offset=".562" stop-color="#799cf8"/><stop offset=".625" stop-color="#536edd"/><stop offset=".688" stop-color="#6485ec"/><stop offset=".75" stop-color="#90b2fe"/><stop offset=".812" stop-color="#adc9fd"/><stop offset=".875" stop-color="#b9d0f9"/><stop offset=".938" stop-color="#bcd2f7"/><stop offset="1" stop-color="#bfd3f6"/></linearGradient><linearGradient id="l286"><stop offset="0" stop-color="#f2cbb7"/><stop offset=".062" stop-color="#f2c9b4"/><stop offset=".125" stop-color="#f4c6af"/><stop offset=".188" stop-color="#f5c1a9"/><stop offset=".25" stop-color="#f6bda2"/><stop offset=".312" stop-color="#f7ba9f"/><stop offset=".375" stop-color="#f4c6af"/><stop offset=".438" stop-color="#dedcdb"/><stop offset=".5" stop-color="#afcafc"/><stop offset=".562" stop-color="#80a3fa"/><stop offset=".625" stop-color="#6a8bef"/><stop offset=".688" stop-color="#799cf8"/><stop offset=".75" stop-color="#97b8ff"/><stop offset=".812" stop-color="#aac7fd"/><stop offset=".875" stop-color="#b3cdfb"/><stop offset=".938" stop-color="#b6cefa"/><stop offset="1" stop-color="#bad0f8"/></linearGradient><linearGradient id="l287"><stop offset="0" stop-color="#f2cbb7"/><stop offset=".062" stop-color="#f1cdba"/><stop offset=".125" stop-color="#f2c9b4"/><stop offset=".188" stop-color="#f5c2aa"/><stop offset=".25" stop-color="#f5c0a7"/><stop offset=".312" stop-color="#f3c7b1"/><stop offset=".375" stop-color="#ead5c9"/><stop offset=".438" stop-color="#d2dbe8"/><stop offset=".5" stop-color="#b5cdfa"/><stop offset=".562" stop-color="#9fbfff"/><stop offset=".625" stop-color="#96b7ff"/><stop offset=".688" stop-color="#9bbcff"/><stop offset=".75" stop-color="#a5c3fe"/><stop offset=".812" stop-color="#aac7fd"/><stop offset=".875" stop-color="#adc9fd"/><stop offset=".938" stop-color="#aec9fc"/><stop offset="1" stop-color="#b3cdfb"/></linearGradient><linearGradient id="l288"><stop offset="0" stop-color="#f2cbb7"/><stop offset=".062" stop-color="#efcfbf"/><stop offset=".125" stop-color="#f2cbb7"/><stop offset=".188" stop-color="#f4c5ad"/><stop offset=".25" stop-color="#f4c6af"/><stop offset=".312" stop-color="#edd1c2"/><stop offset=".375" stop-color="#dddcdc"/><stop offset=".438" stop-color="#ccd9ed"/><stop offset=".5" stop-color="#c0d4f5"/><stop offset=".562" stop-color="#bbd1f8"/><stop offset=".625" stop-color="#bad0f8"/><stop offset=".688" stop-color="#b5cdfa"/><stop offset=".75" stop-color="#afcafc"/><stop offset=".812" stop-color="#abc8fd"/><stop offset=".875" stop-color="#a9c6fd"/><stop offset=".938" stop-color="#aac7fd"/><stop offset="1" stop-color="#afcafc"/></linearGradient><linearGradient id="l289"><stop offset="0" stop-color="#f2cbb7"/><stop offset=".062" stop-color="#f1cdba"/><stop offset=".125" stop-color="#f2cbb7"/><stop offset=".188" stop-color="#f2cab5"/><stop offset=".25" stop-color="#f0cdbb"/><stop offset=".312" stop-color="#e6d7cf"/><stop offset=".375" stop-color="#d7dce3"/><stop offset=".438" stop-color="#ccd9ed"/><stop offset=".5" stop-color="#c5d6f2"/><stop offset=".562" stop-color="#c4d5f3"/><stop offset=".625" stop-color="#c1d4f4"/><stop offset=".688" stop-color="#bbd1f8"/><stop offset=".75" stop-color="#b3cdfb"/><stop offset=".812" stop-color="#aec9fc"/><stop offset=".875" stop-color="#aac7fd"/><stop offset=".938" stop-color="#abc8fd"/><stop offset="1" stop-color="#aec9fc"/></linearGradient><linearGradient id="l290"><stop offset="0" stop-color="#f2cbb7"/><stop offset=".062" stop-color="#f2c9b4"/><stop offset=".125" stop-color="#f2cbb7"/><stop offset=".188" stop-color="#efcfbf"/><stop offset=".25" stop-color="#e9d5cb"/><stop offset=".312" stop-color="#e0dbd8"/><stop offset=".375" stop-color="#d7dce3"/><stop offset=".438" stop-color="#cedaeb"/><stop offset=".5" stop-color="#c6d6f1"/><stop offset=".562" stop-color="#bfd3f6"/><stop offset=".625" stop-color="#bad0f8"/><stop offset=".688" stop-color="#b6cefa"/><stop offset=".75" stop-color="#b3cdfb"/><stop offset=".812" stop-color="#b1cbfc"/><stop offset=".875" stop-color="#afcafc"/><stop offset=".938" stop-color="#afcafc"/><stop offset="1" stop-color="#afcafc"/></linearGradient><linearGradient id="l291"><stop offset="0" stop-color="#f1ccb8"/><stop offset=".062" stop-color="#f2c9b4"/><stop offset=".125" stop-color="#f0cdbb"/><stop offset=".188" stop-color="#ead5c9"/><stop offset=".25" stop-color="#e1dad6"/><stop offset=".312" stop-color="#dbdcde"/><stop offset=".375" stop-color="#d7dce3"/><stop offset=".438" stop-color="#d2dbe8"/><stop offset=".5" stop-color="#c9d7f0"/><stop offset=".562" stop-color="#bcd2f7"/><stop offset=".625" stop-color="#b3cdfb"/><stop offset=".688" stop-color="#b2ccfb"/><stop offset=".75" stop-color="#b3cdfb"/><stop offset=".812" stop-color="#b5cdfa"/><stop offset=".875" stop-color="#b3cdfb"/><stop offset=".938" stop-color="#b2ccfb"/><stop offset="1" stop-color="#b2ccfb"/></linearGradient><linearGradient id="l292"><stop offset="0" stop-color="#efcfbf"/><stop offset=".062" stop-color="#edd2c3"/><stop offset=".125" stop-color="#e9d5cb"/><stop offset=".188" stop-color="#e3d9d3"/><stop offset=".25" stop-color="#dddcdc"/><stop offset=".312" stop-color="#d6dce4"/><stop offset=".375" stop-color="#d2dbe8"/><stop offset=".438" stop-color="#d1dae9"/><stop offset=".5" stop-color="#cfdaea"/><stop offset=".562" stop-color="#c9d7f0"/><stop offset=".625" stop-color="#c0d4f5"/><stop offset=".688" stop-color="#bcd2f7"/><stop offset=".75" stop-color="#bad0f8"/><stop offset=".812" stop-color="#b6cefa"/><stop offset=".875" stop-color="#b3cdfb"/><stop offset=".938" stop-color="#b1cbfc"/><stop offset="1" stop-color="#b3cdfb"/></linearGradient><linearGradient id="l293"><stop offset="0" stop-color="#efcfbf"/><stop offset=".062" stop-color="#edd2c3"/><stop offset=".125" stop-color="#e9d5cb"/><stop offset=".188" stop-color="#e3d9d3"/><stop offset=".25" stop-color="#dddcdc"/><stop offset=".312" stop-color="#d6dce4"/><stop offset=".375" stop-color="#d2dbe8"/><stop offset=".438" stop-color="#d1dae9"/><stop offset=".5" stop-color="#cfdaea"/><stop offset=".562" stop-color="#c9d7f0"/><stop offset=".625" stop-color="#c0d4f5"/><stop offset=".688" stop-color="#bcd2f7"/><stop offset=".75" stop-color="#bad0f8"/><stop offset=".812" stop-color="#b6cefa"/><stop offset=".875" stop-color="#b3cdfb"/><stop offset=".938" stop-color="#b1cbfc"/><stop offset="1" stop-color="#b3cdfb"/></linearGradient><linearGradient id="cb294" x1="0" y1="0" x2="0" y2="1"><stop offset="0" stop-color="#b40426"/><stop offset="0.05" stop-color="#c53334"/><stop offset="0.1" stop-color="#d65244"/><stop offset="0.15" stop-color="#e36c55"/><stop offset="0.2" stop-color="#ee8468"/><stop offset="0.25" stop-color="#f4987a"/><stop offset="0.3" stop-color="#f7ac8e"/><stop offset="0.35" stop-color="#f6bda2"/><stop offset="0.4" stop-color="#f2cbb7"/><stop offset="0.45" stop-color="#e9d5cb"/><stop offset="0.5" stop-color="#dddcdc"/><stop offset="0.55" stop-color="#cfdaea"/><stop offset="0.6" stop-color="#c0d4f5"/><stop offset="0.65" stop-color="#afcafc"/><stop offset="0.7" stop-color="#9ebeff"/><stop offset="0.75" stop-color="#8db0fe"/><stop offset="0.8" stop-color="#7b9ff9"/><stop offset="0.85" stop-color="#6a8bef"/><stop offset="0.9" stop-color="#5977e3"/><stop offset="0.95" stop-color="#4961d2"/><stop offset="1" stop-color="#3b4cc0"/></linearGradient><linearGradient id="cb295" x1="0" y1="0" x2="0" y2="1"><stop offset="0" stop-color="#b40426"/><stop offset="0.05" stop-color="#c53334"/><stop offset="0.1" stop-color="#d65244"/><stop offset="0.15" stop-color="#e36c55"/><stop offset="0.2" stop-color="#ee8468"/><stop offset="0.25" stop-color="#f4987a"/><stop offset="0.3" stop-color="#f7ac8e"/><stop offset="0.35" stop-color="#f6bda2"/><stop offset="0.4" stop-color="#f2cbb7"/><stop offset="0.45" stop-color="#e9d5cb"/><stop offset="0.5" stop-color="#dddcdc"/><stop offset="0.55" stop-color="#cfdaea"/><stop offset="0.6" stop-color="#c0d4f5"/><stop offset="0.65" stop-color="#afcafc"/><stop offset="0.7" stop-color="#9ebeff"/><stop offset="0.75" stop-color="#8db0fe"/><stop offset="0.8" stop-color="#7b9ff9"/><stop offset="0.85" stop-color="#6a8bef"/><stop offset="0.9" stop-color="#5977e3"/><stop offset="0.95" stop-color="#4961d2"/><stop offset="1" stop-color="#3b4cc0"/></linearGradient><clipPath id="c296"><rect x="139.4" y="1010" width="89.3" height="99.5"/></clipPath><filter id="f297" x="-5%" y="-20%" width="110%" height="140%"><feGaussianBlur stdDeviation="0 4.15"/></filter><linearGradient id="l298"><stop offset="0" stop-color="#f18d6f"/><stop offset=".083" stop-color="#f7a688"/><stop offset=".167" stop-color="#f4c6af"/><stop offset=".25" stop-color="#dbdcde"/><stop offset=".333" stop-color="#afcafc"/><stop offset=".417" stop-color="#7b9ff9"/><stop offset=".5" stop-color="#536edd"/><stop offset=".583" stop-color="#4358cb"/><stop offset=".667" stop-color="#4961d2"/><stop offset=".75" stop-color="#6687ed"/><stop offset=".833" stop-color="#8db0fe"/><stop offset=".917" stop-color="#abc8fd"/><stop offset="1" stop-color="#afcafc"/></linearGradient><linearGradient id="l299"><stop offset="0" stop-color="#f18d6f"/><stop offset=".083" stop-color="#f7a688"/><stop offset=".167" stop-color="#f4c6af"/><stop offset=".25" stop-color="#dbdcde"/><stop offset=".333" stop-color="#afcafc"/><stop offset=".417" stop-color="#7b9ff9"/><stop offset=".5" stop-color="#536edd"/><stop offset=".583" stop-color="#4358cb"/><stop offset=".667" stop-color="#4961d2"/><stop offset=".75" stop-color="#6687ed"/><stop offset=".833" stop-color="#8db0fe"/><stop offset=".917" stop-color="#abc8fd"/><stop offset="1" stop-color="#afcafc"/></linearGradient><linearGradient id="l300"><stop offset="0" stop-color="#f08a6c"/><stop offset=".083" stop-color="#f6a586"/><stop offset=".167" stop-color="#f4c6af"/><stop offset=".25" stop-color="#dcdddd"/><stop offset=".333" stop-color="#b6cefa"/><stop offset=".417" stop-color="#89acfd"/><stop offset=".5" stop-color="#6485ec"/><stop offset=".583" stop-color="#4f69d9"/><stop offset=".667" stop-color="#4f69d9"/><stop offset=".75" stop-color="#6788ee"/><stop offset=".833" stop-color="#8fb1fe"/><stop offset=".917" stop-color="#afcafc"/><stop offset="1" stop-color="#b7cff9"/></linearGradient><linearGradient id="l301"><stop offset="0" stop-color="#f18d6f"/><stop offset=".083" stop-color="#f7a889"/><stop offset=".167" stop-color="#f4c6af"/><stop offset=".25" stop-color="#e0dbd8"/><stop offset=".333" stop-color="#c0d4f5"/><stop offset=".417" stop-color="#9dbdff"/><stop offset=".5" stop-color="#7b9ff9"/><stop offset=".583" stop-color="#6485ec"/><stop offset=".667" stop-color="#5f7fe8"/><stop offset=".75" stop-color="#7597f6"/><stop offset=".833" stop-color="#97b8ff"/><stop offset=".917" stop-color="#b9d0f9"/><stop offset="1" stop-color="#c6d6f1"/></linearGradient><linearGradient id="l302"><stop offset="0" stop-color="#f39475"/><stop offset=".083" stop-color="#f7ac8e"/><stop offset=".167" stop-color="#f4c6af"/><stop offset=".25" stop-color="#e4d9d2"/><stop offset=".333" stop-color="#ccd9ed"/><stop offset=".417" stop-color="#b1cbfc"/><stop offset=".5" stop-color="#96b7ff"/><stop offset=".583" stop-color="#81a4fb"/><stop offset=".667" stop-color="#7b9ff9"/><stop offset=".75" stop-color="#8badfd"/><stop offset=".833" stop-color="#a7c5fe"/><stop offset=".917" stop-color="#c5d6f2"/><stop offset="1" stop-color="#d8dce2"/></linearGradient><linearGradient id="l303"><stop offset="0" stop-color="#f4987a"/><stop offset=".083" stop-color="#f7b194"/><stop offset=".167" stop-color="#f4c6af"/><stop offset=".25" stop-color="#e9d5cb"/><stop offset=".333" stop-color="#d7dce3"/><stop offset=".417" stop-color="#c4d5f3"/><stop offset=".5" stop-color="#afcafc"/><stop offset=".583" stop-color="#a1c0ff"/><stop offset=".667" stop-color="#9ebeff"/><stop offset=".75" stop-color="#aac7fd"/><stop offset=".833" stop-color="#c0d4f5"/><stop offset=".917" stop-color="#d7dce3"/><stop offset="1" stop-color="#e9d5cb"/></linearGradient><linearGradient id="l304"><stop offset="0" stop-color="#f59f80"/><stop offset=".083" stop-color="#f7b497"/><stop offset=".167" stop-color="#f4c5ad"/><stop offset=".25" stop-color="#edd2c3"/><stop offset=".333" stop-color="#e1dad6"/><stop offset=".417" stop-color="#d4dbe6"/><stop offset=".5" stop-color="#c7d7f0"/><stop offset=".583" stop-color="#c1d4f4"/><stop offset=".667" stop-color="#c4d5f3"/><stop offset=".75" stop-color="#cdd9ec"/><stop offset=".833" stop-color="#dcdddd"/><stop offset=".917" stop-color="#ebd3c6"/><stop offset="1" stop-color="#f3c7b1"/></linearGradient><linearGradient id="l305"><stop offset="0" stop-color="#f6a586"/><stop offset=".083" stop-color="#f7b89c"/><stop offset=".167" stop-color="#f4c6af"/><stop offset=".25" stop-color="#efcebd"/><stop offset=".333" stop-color="#e9d5cb"/><stop offset=".417" stop-color="#e1dad6"/><stop offset=".5" stop-color="#dddcdc"/><stop offset=".583" stop-color="#dddcdc"/><stop offset=".667" stop-color="#e2dad5"/><stop offset=".75" stop-color="#ead4c8"/><stop offset=".833" stop-color="#f2cbb7"/><stop offset=".917" stop-color="#f6bfa6"/><stop offset="1" stop-color="#f7b396"/></linearGradient><linearGradient id="l306"><stop offset="0" stop-color="#f7b093"/><stop offset=".083" stop-color="#f6bfa6"/><stop offset=".167" stop-color="#f3c8b2"/><stop offset=".25" stop-color="#f1ccb8"/><stop offset=".333" stop-color="#efcebd"/><stop offset=".417" stop-color="#eed0c0"/><stop offset=".5" stop-color="#eed0c0"/><stop offset=".583" stop-color="#f0cdbb"/><stop offset=".667" stop-color="#f3c7b1"/><stop offset=".75" stop-color="#f6bea4"/><stop offset=".833" stop-color="#f7b396"/><stop offset=".917" stop-color="#f7a889"/><stop offset="1" stop-color="#f59f80"/></linearGradient><linearGradient id="l307"><stop offset="0" stop-color="#f6bda2"/><stop offset=".083" stop-color="#f3c8b2"/><stop offset=".167" stop-color="#f2cbb7"/><stop offset=".25" stop-color="#f2c9b4"/><stop offset=".333" stop-color="#f4c6af"/><stop offset=".417" stop-color="#f5c1a9"/><stop offset=".5" stop-color="#f6bda2"/><stop offset=".583" stop-color="#f7b599"/><stop offset=".667" stop-color="#f7ac8e"/><stop offset=".75" stop-color="#f6a385"/><stop offset=".833" stop-color="#f4987a"/><stop offset=".917" stop-color="#f29274"/><stop offset="1" stop-color="#f18d6f"/></linearGradient><linearGradient id="l308"><stop offset="0" stop-color="#f2cbb7"/><stop offset=".083" stop-color="#efcfbf"/><stop offset=".167" stop-color="#f1cdba"/><stop offset=".25" stop-color="#f4c6af"/><stop offset=".333" stop-color="#f7bca1"/><stop offset=".417" stop-color="#f7b194"/><stop offset=".5" stop-color="#f7a688"/><stop offset=".583" stop-color="#f4987a"/><stop offset=".667" stop-color="#f18d6f"/><stop offset=".75" stop-color="#ee8468"/><stop offset=".833" stop-color="#ec8165"/><stop offset=".917" stop-color="#ec8165"/><stop offset="1" stop-color="#ec8165"/></linearGradient><linearGradient id="l309"><stop offset="0" stop-color="#e9d5cb"/><stop offset=".083" stop-color="#ead5c9"/><stop offset=".167" stop-color="#efcfbf"/><stop offset=".25" stop-color="#f5c4ac"/><stop offset=".333" stop-color="#f7b396"/><stop offset=".417" stop-color="#f5a081"/><stop offset=".5" stop-color="#f18d6f"/><stop offset=".583" stop-color="#e97a5f"/><stop offset=".667" stop-color="#e36c55"/><stop offset=".75" stop-color="#e26952"/><stop offset=".833" stop-color="#e36c55"/><stop offset=".917" stop-color="#e7745b"/><stop offset="1" stop-color="#ea7b60"/></linearGradient><linearGradient id="l310"><stop offset="0" stop-color="#e0dbd8"/><stop offset=".083" stop-color="#e3d9d3"/><stop offset=".167" stop-color="#edd2c3"/><stop offset=".25" stop-color="#f5c4ac"/><stop offset=".333" stop-color="#f7ad90"/><stop offset=".417" stop-color="#f29274"/><stop offset=".5" stop-color="#e7745b"/><stop offset=".583" stop-color="#da5a49"/><stop offset=".667" stop-color="#d44e41"/><stop offset=".75" stop-color="#d55042"/><stop offset=".833" stop-color="#dc5d4a"/><stop offset=".917" stop-color="#e36b54"/><stop offset="1" stop-color="#e8765c"/></linearGradient><linearGradient id="l311"><stop offset="0" stop-color="#dddcdc"/><stop offset=".083" stop-color="#dfdbd9"/><stop offset=".167" stop-color="#e9d5cb"/><stop offset=".25" stop-color="#f3c7b1"/><stop offset=".333" stop-color="#f7ac8e"/><stop offset=".417" stop-color="#ee8669"/><stop offset=".5" stop-color="#dc5d4a"/><stop offset=".583" stop-color="#cc403a"/><stop offset=".667" stop-color="#c53334"/><stop offset=".75" stop-color="#cb3e38"/><stop offset=".833" stop-color="#d65244"/><stop offset=".917" stop-color="#e0654f"/><stop offset="1" stop-color="#e36c55"/></linearGradient><linearGradient id="l312"><stop offset="0" stop-color="#dddcdc"/><stop offset=".083" stop-color="#dfdbd9"/><stop offset=".167" stop-color="#e9d5cb"/><stop offset=".25" stop-color="#f3c7b1"/><stop offset=".333" stop-color="#f7ac8e"/><stop offset=".417" stop-color="#ee8669"/><stop offset=".5" stop-color="#dc5d4a"/><stop offset=".583" stop-color="#cc403a"/><stop offset=".667" stop-color="#c53334"/><stop offset=".75" stop-color="#cb3e38"/><stop offset=".833" stop-color="#d65244"/><stop offset=".917" stop-color="#e0654f"/><stop offset="1" stop-color="#e36c55"/></linearGradient><linearGradient id="cb313" x1="0" y1="0" x2="0" y2="1"><stop offset="0" stop-color="#b40426"/><stop offset="0.05" stop-color="#c53334"/><stop offset="0.1" stop-color="#d65244"/><stop offset="0.15" stop-color="#e36c55"/><stop offset="0.2" stop-color="#ee8468"/><stop offset="0.25" stop-color="#f4987a"/><stop offset="0.3" stop-color="#f7ac8e"/><stop offset="0.35" stop-color="#f6bda2"/><stop offset="0.4" stop-color="#f2cbb7"/><stop offset="0.45" stop-color="#e9d5cb"/><stop offset="0.5" stop-color="#dddcdc"/><stop offset="0.55" stop-color="#cfdaea"/><stop offset="0.6" stop-color="#c0d4f5"/><stop offset="0.65" stop-color="#afcafc"/><stop offset="0.7" stop-color="#9ebeff"/><stop offset="0.75" stop-color="#8db0fe"/><stop offset="0.8" stop-color="#7b9ff9"/><stop offset="0.85" stop-color="#6a8bef"/><stop offset="0.9" stop-color="#5977e3"/><stop offset="0.95" stop-color="#4961d2"/><stop offset="1" stop-color="#3b4cc0"/></linearGradient><clipPath id="c314"><rect x="304.1" y="1010" width="89.5" height="99.5"/></clipPath><filter id="f315" x="-5%" y="-20%" width="110%" height="140%"><feGaussianBlur stdDeviation="0 2.76"/></filter><linearGradient id="l316"><stop offset="0" stop-color="#82a6fb"/><stop offset=".062" stop-color="#81a4fb"/><stop offset=".125" stop-color="#82a6fb"/><stop offset=".188" stop-color="#86a9fc"/><stop offset=".25" stop-color="#90b2fe"/><stop offset=".312" stop-color="#9ebeff"/><stop offset=".375" stop-color="#afcafc"/><stop offset=".438" stop-color="#c1d4f4"/><stop offset=".5" stop-color="#cfdaea"/><stop offset=".562" stop-color="#d5dbe5"/><stop offset=".625" stop-color="#d7dce3"/><stop offset=".688" stop-color="#d9dce1"/><stop offset=".75" stop-color="#dddcdc"/><stop offset=".812" stop-color="#e2dad5"/><stop offset=".875" stop-color="#e9d5cb"/><stop offset=".938" stop-color="#f0cdbb"/><stop offset="1" stop-color="#f5c0a7"/></linearGradient><linearGradient id="l317"><stop offset="0" stop-color="#82a6fb"/><stop offset=".062" stop-color="#81a4fb"/><stop offset=".125" stop-color="#82a6fb"/><stop offset=".188" stop-color="#86a9fc"/><stop offset=".25" stop-color="#90b2fe"/><stop offset=".312" stop-color="#9ebeff"/><stop offset=".375" stop-color="#afcafc"/><stop offset=".438" stop-color="#c1d4f4"/><stop offset=".5" stop-color="#cfdaea"/><stop offset=".562" stop-color="#d5dbe5"/><stop offset=".625" stop-color="#d7dce3"/><stop offset=".688" stop-color="#d9dce1"/><stop offset=".75" stop-color="#dddcdc"/><stop offset=".812" stop-color="#e2dad5"/><stop offset=".875" stop-color="#e9d5cb"/><stop offset=".938" stop-color="#f0cdbb"/><stop offset="1" stop-color="#f5c0a7"/></linearGradient><linearGradient id="l318"><stop offset="0" stop-color="#7699f6"/><stop offset=".062" stop-color="#7597f6"/><stop offset=".125" stop-color="#7a9df8"/><stop offset=".188" stop-color="#82a6fb"/><stop offset=".25" stop-color="#8fb1fe"/><stop offset=".312" stop-color="#9dbdff"/><stop offset=".375" stop-color="#aec9fc"/><stop offset=".438" stop-color="#c1d4f4"/><stop offset=".5" stop-color="#cedaeb"/><stop offset=".562" stop-color="#d3dbe7"/><stop offset=".625" stop-color="#d4dbe6"/><stop offset=".688" stop-color="#d6dce4"/><stop offset=".75" stop-color="#dadce0"/><stop offset=".812" stop-color="#e0dbd8"/><stop offset=".875" stop-color="#e8d6cc"/><stop offset=".938" stop-color="#f0cdbb"/><stop offset="1" stop-color="#f6bea4"/></linearGradient><linearGradient id="l319"><stop offset="0" stop-color="#9ebeff"/><stop offset=".062" stop-color="#89acfd"/><stop offset=".125" stop-color="#82a6fb"/><stop offset=".188" stop-color="#85a8fc"/><stop offset=".25" stop-color="#90b2fe"/><stop offset=".312" stop-color="#9ebeff"/><stop offset=".375" stop-color="#afcafc"/><stop offset=".438" stop-color="#c3d5f4"/><stop offset=".5" stop-color="#cfdaea"/><stop offset=".562" stop-color="#d2dbe8"/><stop offset=".625" stop-color="#cfdaea"/><stop offset=".688" stop-color="#cedaeb"/><stop offset=".75" stop-color="#cfdaea"/><stop offset=".812" stop-color="#d2dbe8"/><stop offset=".875" stop-color="#d7dce3"/><stop offset=".938" stop-color="#dfdbd9"/><stop offset="1" stop-color="#e9d5cb"/></linearGradient><linearGradient id="l320"><stop offset="0" stop-color="#d6dce4"/><stop offset=".062" stop-color="#abc8fd"/><stop offset=".125" stop-color="#93b5fe"/><stop offset=".188" stop-color="#8fb1fe"/><stop offset=".25" stop-color="#96b7ff"/><stop offset=".312" stop-color="#a3c2fe"/><stop offset=".375" stop-color="#b3cdfb"/><stop offset=".438" stop-color="#c5d6f2"/><stop offset=".5" stop-color="#cfdaea"/><stop offset=".562" stop-color="#cfdaea"/><stop offset=".625" stop-color="#c9d7f0"/><stop offset=".688" stop-color="#c3d5f4"/><stop offset=".75" stop-color="#bfd3f6"/><stop offset=".812" stop-color="#bed2f6"/><stop offset=".875" stop-color="#bed2f6"/><stop offset=".938" stop-color="#c0d4f5"/><stop offset="1" stop-color="#c4d5f3"/></linearGradient><linearGradient id="l321"><stop offset="0" stop-color="#f4c6af"/><stop offset=".062" stop-color="#c7d7f0"/><stop offset=".125" stop-color="#a5c3fe"/><stop offset=".188" stop-color="#9abbff"/><stop offset=".25" stop-color="#9ebeff"/><stop offset=".312" stop-color="#aac7fd"/><stop offset=".375" stop-color="#bad0f8"/><stop offset=".438" stop-color="#c9d7f0"/><stop offset=".5" stop-color="#cfdaea"/><stop offset=".562" stop-color="#cbd8ee"/><stop offset=".625" stop-color="#c0d4f5"/><stop offset=".688" stop-color="#b7cff9"/><stop offset=".75" stop-color="#afcafc"/><stop offset=".812" stop-color="#aac7fd"/><stop offset=".875" stop-color="#a5c3fe"/><stop offset=".938" stop-color="#a2c1ff"/><stop offset="1" stop-color="#9ebeff"/></linearGradient><linearGradient id="l322"><stop offset="0" stop-color="#f7ba9f"/><stop offset=".062" stop-color="#d1dae9"/><stop offset=".125" stop-color="#b1cbfc"/><stop offset=".188" stop-color="#a7c5fe"/><stop offset=".25" stop-color="#abc8fd"/><stop offset=".312" stop-color="#b5cdfa"/><stop offset=".375" stop-color="#c0d4f5"/><stop offset=".438" stop-color="#cad8ef"/><stop offset=".5" stop-color="#cdd9ec"/><stop offset=".562" stop-color="#c3d5f4"/><stop offset=".625" stop-color="#b3cdfb"/><stop offset=".688" stop-color="#abc8fd"/><stop offset=".75" stop-color="#a6c4fe"/><stop offset=".812" stop-color="#9fbfff"/><stop offset=".875" stop-color="#98b9ff"/><stop offset=".938" stop-color="#92b4fe"/><stop offset="1" stop-color="#8caffe"/></linearGradient><linearGradient id="l323"><stop offset="0" stop-color="#f2cbb7"/><stop offset=".062" stop-color="#cfdaea"/><stop offset=".125" stop-color="#bad0f8"/><stop offset=".188" stop-color="#b5cdfa"/><stop offset=".25" stop-color="#bad0f8"/><stop offset=".312" stop-color="#c0d4f5"/><stop offset=".375" stop-color="#c6d6f1"/><stop offset=".438" stop-color="#cad8ef"/><stop offset=".5" stop-color="#c6d6f1"/><stop offset=".562" stop-color="#b9d0f9"/><stop offset=".625" stop-color="#a9c6fd"/><stop offset=".688" stop-color="#a2c1ff"/><stop offset=".75" stop-color="#9ebeff"/><stop offset=".812" stop-color="#97b8ff"/><stop offset=".875" stop-color="#8db0fe"/><stop offset=".938" stop-color="#85a8fc"/><stop offset="1" stop-color="#82a6fb"/></linearGradient><linearGradient id="l324"><stop offset="0" stop-color="#d7dce3"/><stop offset=".062" stop-color="#c7d7f0"/><stop offset=".125" stop-color="#c1d4f4"/><stop offset=".188" stop-color="#c3d5f4"/><stop offset=".25" stop-color="#c7d7f0"/><stop offset=".312" stop-color="#cdd9ec"/><stop offset=".375" stop-color="#cdd9ec"/><stop offset=".438" stop-color="#c6d6f1"/><stop offset=".5" stop-color="#bad0f8"/><stop offset=".562" stop-color="#abc8fd"/><stop offset=".625" stop-color="#a2c1ff"/><stop offset=".688" stop-color="#9bbcff"/><stop offset=".75" stop-color="#94b6ff"/><stop offset=".812" stop-color="#85a8fc"/><stop offset=".875" stop-color="#7699f6"/><stop offset=".938" stop-color="#6c8ff1"/><stop offset="1" stop-color="#6e90f2"/></linearGradient><linearGradient id="l325"><stop offset="0" stop-color="#b3cdfb"/><stop offset=".062" stop-color="#bed2f6"/><stop offset=".125" stop-color="#c6d6f1"/><stop offset=".188" stop-color="#ccd9ed"/><stop offset=".25" stop-color="#d2dbe8"/><stop offset=".312" stop-color="#d6dce4"/><stop offset=".375" stop-color="#d2dbe8"/><stop offset=".438" stop-color="#c0d4f5"/><stop offset=".5" stop-color="#a9c6fd"/><stop offset=".562" stop-color="#9bbcff"/><stop offset=".625" stop-color="#97b8ff"/><stop offset=".688" stop-color="#96b7ff"/><stop offset=".75" stop-color="#8caffe"/><stop offset=".812" stop-color="#779af7"/><stop offset=".875" stop-color="#5f7fe8"/><stop offset=".938" stop-color="#516ddb"/><stop offset="1" stop-color="#5977e3"/></linearGradient><linearGradient id="l326"><stop offset="0" stop-color="#9bbcff"/><stop offset=".062" stop-color="#b7cff9"/><stop offset=".125" stop-color="#c7d7f0"/><stop offset=".188" stop-color="#d1dae9"/><stop offset=".25" stop-color="#d7dce3"/><stop offset=".312" stop-color="#d9dce1"/><stop offset=".375" stop-color="#d2dbe8"/><stop offset=".438" stop-color="#b9d0f9"/><stop offset=".5" stop-color="#98b9ff"/><stop offset=".562" stop-color="#85a8fc"/><stop offset=".625" stop-color="#84a7fc"/><stop offset=".688" stop-color="#8db0fe"/><stop offset=".75" stop-color="#90b2fe"/><stop offset=".812" stop-color="#7699f6"/><stop offset=".875" stop-color="#5470de"/><stop offset=".938" stop-color="#4055c8"/><stop offset="1" stop-color="#4c66d6"/></linearGradient><linearGradient id="l327"><stop offset="0" stop-color="#8db0fe"/><stop offset=".062" stop-color="#b1cbfc"/><stop offset=".125" stop-color="#c6d6f1"/><stop offset=".188" stop-color="#d2dbe8"/><stop offset=".25" stop-color="#d7dce3"/><stop offset=".312" stop-color="#d9dce1"/><stop offset=".375" stop-color="#cfdaea"/><stop offset=".438" stop-color="#b1cbfc"/><stop offset=".5" stop-color="#89acfd"/><stop offset=".562" stop-color="#6e90f2"/><stop offset=".625" stop-color="#6c8ff1"/><stop offset=".688" stop-color="#86a9fc"/><stop offset=".75" stop-color="#97b8ff"/><stop offset=".812" stop-color="#7ea1fa"/><stop offset=".875" stop-color="#536edd"/><stop offset=".938" stop-color="#3b4cc0"/><stop offset="1" stop-color="#4961d2"/></linearGradient><linearGradient id="l328"><stop offset="0" stop-color="#7da0f9"/><stop offset=".062" stop-color="#a9c6fd"/><stop offset=".125" stop-color="#c4d5f3"/><stop offset=".188" stop-color="#d1dae9"/><stop offset=".25" stop-color="#d7dce3"/><stop offset=".312" stop-color="#d8dce2"/><stop offset=".375" stop-color="#ccd9ed"/><stop offset=".438" stop-color="#a7c5fe"/><stop offset=".5" stop-color="#7a9df8"/><stop offset=".562" stop-color="#5d7ce6"/><stop offset=".625" stop-color="#5f7fe8"/><stop offset=".688" stop-color="#82a6fb"/><stop offset=".75" stop-color="#9dbdff"/><stop offset=".812" stop-color="#86a9fc"/><stop offset=".875" stop-color="#5977e3"/><stop offset=".938" stop-color="#3c4ec2"/><stop offset="1" stop-color="#4e68d8"/></linearGradient><linearGradient id="l329"><stop offset="0" stop-color="#7b9ff9"/><stop offset=".062" stop-color="#aac7fd"/><stop offset=".125" stop-color="#c6d6f1"/><stop offset=".188" stop-color="#d6dce4"/><stop offset=".25" stop-color="#dddcdc"/><stop offset=".312" stop-color="#dddcdc"/><stop offset=".375" stop-color="#cfdaea"/><stop offset=".438" stop-color="#a6c4fe"/><stop offset=".5" stop-color="#7597f6"/><stop offset=".562" stop-color="#5673e0"/><stop offset=".625" stop-color="#5977e3"/><stop offset=".688" stop-color="#7ea1fa"/><stop offset=".75" stop-color="#9ebeff"/><stop offset=".812" stop-color="#90b2fe"/><stop offset=".875" stop-color="#6a8bef"/><stop offset=".938" stop-color="#4f69d9"/><stop offset="1" stop-color="#5f7fe8"/></linearGradient><linearGradient id="l330"><stop offset="0" stop-color="#96b7ff"/><stop offset=".062" stop-color="#bbd1f8"/><stop offset=".125" stop-color="#d5dbe5"/><stop offset=".188" stop-color="#e4d9d2"/><stop offset=".25" stop-color="#ebd3c6"/><stop offset=".312" stop-color="#ead4c8"/><stop offset=".375" stop-color="#dbdcde"/><stop offset=".438" stop-color="#b3cdfb"/><stop offset=".5" stop-color="#80a3fa"/><stop offset=".562" stop-color="#5e7de7"/><stop offset=".625" stop-color="#5d7ce6"/><stop offset=".688" stop-color="#80a3fa"/><stop offset=".75" stop-color="#a1c0ff"/><stop offset=".812" stop-color="#9fbfff"/><stop offset=".875" stop-color="#88abfd"/><stop offset=".938" stop-color="#7597f6"/><stop offset="1" stop-color="#82a6fb"/></linearGradient><linearGradient id="l331"><stop offset="0" stop-color="#c0d4f5"/><stop offset=".062" stop-color="#d6dce4"/><stop offset=".125" stop-color="#e9d5cb"/><stop offset=".188" stop-color="#f3c8b2"/><stop offset=".25" stop-color="#f6bda2"/><stop offset=".312" stop-color="#f6bea4"/><stop offset=".375" stop-color="#efcfbf"/><stop offset=".438" stop-color="#cedaeb"/><stop offset=".5" stop-color="#9ebeff"/><stop offset=".562" stop-color="#7a9df8"/><stop offset=".625" stop-color="#7597f6"/><stop offset=".688" stop-color="#90b2fe"/><stop offset=".75" stop-color="#afcafc"/><stop offset=".812" stop-color="#b7cff9"/><stop offset=".875" stop-color="#afcafc"/><stop offset=".938" stop-color="#a7c5fe"/><stop offset="1" stop-color="#afcafc"/></linearGradient><linearGradient id="l332"><stop offset="0" stop-color="#e4d9d2"/><stop offset=".062" stop-color="#efcfbf"/><stop offset=".125" stop-color="#f6bda2"/><stop offset=".188" stop-color="#f7a889"/><stop offset=".25" stop-color="#f4987a"/><stop offset=".312" stop-color="#f39778"/><stop offset=".375" stop-color="#f7ad90"/><stop offset=".438" stop-color="#eed0c0"/><stop offset=".5" stop-color="#ccd9ed"/><stop offset=".562" stop-color="#adc9fd"/><stop offset=".625" stop-color="#a5c3fe"/><stop offset=".688" stop-color="#bad0f8"/><stop offset=".75" stop-color="#d2dbe8"/><stop offset=".812" stop-color="#dadce0"/><stop offset=".875" stop-color="#d8dce2"/><stop offset=".938" stop-color="#d6dce4"/><stop offset="1" stop-color="#dadce0"/></linearGradient><linearGradient id="l333"><stop offset="0" stop-color="#f6bda2"/><stop offset=".062" stop-color="#f7af91"/><stop offset=".125" stop-color="#f4987a"/><stop offset=".188" stop-color="#ec8165"/><stop offset=".25" stop-color="#e36c55"/><stop offset=".312" stop-color="#e16751"/><stop offset=".375" stop-color="#ea7b60"/><stop offset=".438" stop-color="#f7a688"/><stop offset=".5" stop-color="#f2cbb7"/><stop offset=".562" stop-color="#e2dad5"/><stop offset=".625" stop-color="#dcdddd"/><stop offset=".688" stop-color="#e8d6cc"/><stop offset=".75" stop-color="#f2cbb7"/><stop offset=".812" stop-color="#f4c5ad"/><stop offset=".875" stop-color="#f4c6af"/><stop offset=".938" stop-color="#f3c8b2"/><stop offset="1" stop-color="#f4c6af"/></linearGradient><linearGradient id="l334"><stop offset="0" stop-color="#f39577"/><stop offset=".062" stop-color="#ef886b"/><stop offset=".125" stop-color="#e67259"/><stop offset=".188" stop-color="#da5a49"/><stop offset=".25" stop-color="#cf453c"/><stop offset=".312" stop-color="#c83836"/><stop offset=".375" stop-color="#d0473d"/><stop offset=".438" stop-color="#e67259"/><stop offset=".5" stop-color="#f49a7b"/><stop offset=".562" stop-color="#f7b093"/><stop offset=".625" stop-color="#f7b599"/><stop offset=".688" stop-color="#f7ad90"/><stop offset=".75" stop-color="#f6a283"/><stop offset=".812" stop-color="#f59d7e"/><stop offset=".875" stop-color="#f59d7e"/><stop offset=".938" stop-color="#f6a283"/><stop offset="1" stop-color="#f6a283"/></linearGradient><linearGradient id="l335"><stop offset="0" stop-color="#e36c55"/><stop offset=".062" stop-color="#df634e"/><stop offset=".125" stop-color="#d65244"/><stop offset=".188" stop-color="#cc403a"/><stop offset=".25" stop-color="#c32e31"/><stop offset=".312" stop-color="#bd1f2d"/><stop offset=".375" stop-color="#c32e31"/><stop offset=".438" stop-color="#d44e41"/><stop offset=".5" stop-color="#e36c55"/><stop offset=".562" stop-color="#eb7d62"/><stop offset=".625" stop-color="#ee8468"/><stop offset=".688" stop-color="#ee8669"/><stop offset=".75" stop-color="#ee8468"/><stop offset=".812" stop-color="#ec7f63"/><stop offset=".875" stop-color="#ea7b60"/><stop offset=".938" stop-color="#ea7b60"/><stop offset="1" stop-color="#ee8468"/></linearGradient><linearGradient id="l336"><stop offset="0" stop-color="#e36c55"/><stop offset=".062" stop-color="#df634e"/><stop offset=".125" stop-color="#d65244"/><stop offset=".188" stop-color="#cc403a"/><stop offset=".25" stop-color="#c32e31"/><stop offset=".312" stop-color="#bd1f2d"/><stop offset=".375" stop-color="#c32e31"/><stop offset=".438" stop-color="#d44e41"/><stop offset=".5" stop-color="#e36c55"/><stop offset=".562" stop-color="#eb7d62"/><stop offset=".625" stop-color="#ee8468"/><stop offset=".688" stop-color="#ee8669"/><stop offset=".75" stop-color="#ee8468"/><stop offset=".812" stop-color="#ec7f63"/><stop offset=".875" stop-color="#ea7b60"/><stop offset=".938" stop-color="#ea7b60"/><stop offset="1" stop-color="#ee8468"/></linearGradient><linearGradient id="cb337" x1="0" y1="0" x2="0" y2="1"><stop offset="0" stop-color="#b40426"/><stop offset="0.05" stop-color="#c53334"/><stop offset="0.1" stop-color="#d65244"/><stop offset="0.15" stop-color="#e36c55"/><stop offset="0.2" stop-color="#ee8468"/><stop offset="0.25" stop-color="#f4987a"/><stop offset="0.3" stop-color="#f7ac8e"/><stop offset="0.35" stop-color="#f6bda2"/><stop offset="0.4" stop-color="#f2cbb7"/><stop offset="0.45" stop-color="#e9d5cb"/><stop offset="0.5" stop-color="#dddcdc"/><stop offset="0.55" stop-color="#cfdaea"/><stop offset="0.6" stop-color="#c0d4f5"/><stop offset="0.65" stop-color="#afcafc"/><stop offset="0.7" stop-color="#9ebeff"/><stop offset="0.75" stop-color="#8db0fe"/><stop offset="0.8" stop-color="#7b9ff9"/><stop offset="0.85" stop-color="#6a8bef"/><stop offset="0.9" stop-color="#5977e3"/><stop offset="0.95" stop-color="#4961d2"/><stop offset="1" stop-color="#3b4cc0"/></linearGradient><clipPath id="c338"><rect x="469.7" y="1010" width="92.6" height="99.5"/></clipPath><filter id="f339" x="-5%" y="-20%" width="110%" height="140%"><feGaussianBlur stdDeviation="0 2.76"/></filter><linearGradient id="l340"><stop offset="0" stop-color="#9ebeff"/><stop offset=".062" stop-color="#88abfd"/><stop offset=".125" stop-color="#7b9ff9"/><stop offset=".188" stop-color="#7597f6"/><stop offset=".25" stop-color="#7597f6"/><stop offset=".312" stop-color="#779af7"/><stop offset=".375" stop-color="#7b9ff9"/><stop offset=".438" stop-color="#7da0f9"/><stop offset=".5" stop-color="#82a6fb"/><stop offset=".562" stop-color="#8caffe"/><stop offset=".625" stop-color="#97b8ff"/><stop offset=".688" stop-color="#9ebeff"/><stop offset=".75" stop-color="#9ebeff"/><stop offset=".812" stop-color="#9abbff"/><stop offset=".875" stop-color="#8db0fe"/><stop offset=".938" stop-color="#779af7"/><stop offset="1" stop-color="#5977e3"/></linearGradient><linearGradient id="l341"><stop offset="0" stop-color="#9ebeff"/><stop offset=".062" stop-color="#88abfd"/><stop offset=".125" stop-color="#7b9ff9"/><stop offset=".188" stop-color="#7597f6"/><stop offset=".25" stop-color="#7597f6"/><stop offset=".312" stop-color="#779af7"/><stop offset=".375" stop-color="#7b9ff9"/><stop offset=".438" stop-color="#7da0f9"/><stop offset=".5" stop-color="#82a6fb"/><stop offset=".562" stop-color="#8caffe"/><stop offset=".625" stop-color="#97b8ff"/><stop offset=".688" stop-color="#9ebeff"/><stop offset=".75" stop-color="#9ebeff"/><stop offset=".812" stop-color="#9abbff"/><stop offset=".875" stop-color="#8db0fe"/><stop offset=".938" stop-color="#779af7"/><stop offset="1" stop-color="#5977e3"/></linearGradient><linearGradient id="l342"><stop offset="0" stop-color="#9dbdff"/><stop offset=".062" stop-color="#88abfd"/><stop offset=".125" stop-color="#779af7"/><stop offset=".188" stop-color="#6e90f2"/><stop offset=".25" stop-color="#6a8bef"/><stop offset=".312" stop-color="#6c8ff1"/><stop offset=".375" stop-color="#7295f4"/><stop offset=".438" stop-color="#779af7"/><stop offset=".5" stop-color="#80a3fa"/><stop offset=".562" stop-color="#8db0fe"/><stop offset=".625" stop-color="#9bbcff"/><stop offset=".688" stop-color="#a3c2fe"/><stop offset=".75" stop-color="#a3c2fe"/><stop offset=".812" stop-color="#9fbfff"/><stop offset=".875" stop-color="#93b5fe"/><stop offset=".938" stop-color="#7ea1fa"/><stop offset="1" stop-color="#5e7de7"/></linearGradient><linearGradient id="l343"><stop offset="0" stop-color="#9ebeff"/><stop offset=".062" stop-color="#8caffe"/><stop offset=".125" stop-color="#7b9ff9"/><stop offset=".188" stop-color="#6f92f3"/><stop offset=".25" stop-color="#6a8bef"/><stop offset=".312" stop-color="#6c8ff1"/><stop offset=".375" stop-color="#7597f6"/><stop offset=".438" stop-color="#7a9df8"/><stop offset=".5" stop-color="#82a6fb"/><stop offset=".562" stop-color="#90b2fe"/><stop offset=".625" stop-color="#9ebeff"/><stop offset=".688" stop-color="#a6c4fe"/><stop offset=".75" stop-color="#a9c6fd"/><stop offset=".812" stop-color="#a7c5fe"/><stop offset=".875" stop-color="#9ebeff"/><stop offset=".938" stop-color="#8badfd"/><stop offset="1" stop-color="#6a8bef"/></linearGradient><linearGradient id="l344"><stop offset="0" stop-color="#a3c2fe"/><stop offset=".062" stop-color="#93b5fe"/><stop offset=".125" stop-color="#82a6fb"/><stop offset=".188" stop-color="#7699f6"/><stop offset=".25" stop-color="#7093f3"/><stop offset=".312" stop-color="#7396f5"/><stop offset=".375" stop-color="#7a9df8"/><stop offset=".438" stop-color="#7ea1fa"/><stop offset=".5" stop-color="#84a7fc"/><stop offset=".562" stop-color="#92b4fe"/><stop offset=".625" stop-color="#9fbfff"/><stop offset=".688" stop-color="#a9c6fd"/><stop offset=".75" stop-color="#adc9fd"/><stop offset=".812" stop-color="#aec9fc"/><stop offset=".875" stop-color="#a9c6fd"/><stop offset=".938" stop-color="#98b9ff"/><stop offset="1" stop-color="#779af7"/></linearGradient><linearGradient id="l345"><stop offset="0" stop-color="#a9c6fd"/><stop offset=".062" stop-color="#9abbff"/><stop offset=".125" stop-color="#8db0fe"/><stop offset=".188" stop-color="#81a4fb"/><stop offset=".25" stop-color="#7b9ff9"/><stop offset=".312" stop-color="#7a9df8"/><stop offset=".375" stop-color="#7b9ff9"/><stop offset=".438" stop-color="#7da0f9"/><stop offset=".5" stop-color="#82a6fb"/><stop offset=".562" stop-color="#8fb1fe"/><stop offset=".625" stop-color="#9ebeff"/><stop offset=".688" stop-color="#a9c6fd"/><stop offset=".75" stop-color="#afcafc"/><stop offset=".812" stop-color="#b3cdfb"/><stop offset=".875" stop-color="#afcafc"/><stop offset=".938" stop-color="#a1c0ff"/><stop offset="1" stop-color="#82a6fb"/></linearGradient><linearGradient id="l346"><stop offset="0" stop-color="#aec9fc"/><stop offset=".062" stop-color="#a2c1ff"/><stop offset=".125" stop-color="#97b8ff"/><stop offset=".188" stop-color="#8db0fe"/><stop offset=".25" stop-color="#85a8fc"/><stop offset=".312" stop-color="#7b9ff9"/><stop offset=".375" stop-color="#7597f6"/><stop offset=".438" stop-color="#7295f4"/><stop offset=".5" stop-color="#799cf8"/><stop offset=".562" stop-color="#89acfd"/><stop offset=".625" stop-color="#9bbcff"/><stop offset=".688" stop-color="#a9c6fd"/><stop offset=".75" stop-color="#b1cbfc"/><stop offset=".812" stop-color="#b3cdfb"/><stop offset=".875" stop-color="#afcafc"/><stop offset=".938" stop-color="#a1c0ff"/><stop offset="1" stop-color="#85a8fc"/></linearGradient><linearGradient id="l347"><stop offset="0" stop-color="#afcafc"/><stop offset=".062" stop-color="#a5c3fe"/><stop offset=".125" stop-color="#9ebeff"/><stop offset=".188" stop-color="#98b9ff"/><stop offset=".25" stop-color="#8db0fe"/><stop offset=".312" stop-color="#7a9df8"/><stop offset=".375" stop-color="#6a8bef"/><stop offset=".438" stop-color="#6384eb"/><stop offset=".5" stop-color="#6a8bef"/><stop offset=".562" stop-color="#7ea1fa"/><stop offset=".625" stop-color="#97b8ff"/><stop offset=".688" stop-color="#a7c5fe"/><stop offset=".75" stop-color="#afcafc"/><stop offset=".812" stop-color="#afcafc"/><stop offset=".875" stop-color="#a9c6fd"/><stop offset=".938" stop-color="#9abbff"/><stop offset="1" stop-color="#82a6fb"/></linearGradient><linearGradient id="l348"><stop offset="0" stop-color="#aac7fd"/><stop offset=".062" stop-color="#a2c1ff"/><stop offset=".125" stop-color="#9fbfff"/><stop offset=".188" stop-color="#9ebeff"/><stop offset=".25" stop-color="#93b5fe"/><stop offset=".312" stop-color="#7b9ff9"/><stop offset=".375" stop-color="#6282ea"/><stop offset=".438" stop-color="#5572df"/><stop offset=".5" stop-color="#5977e3"/><stop offset=".562" stop-color="#7295f4"/><stop offset=".625" stop-color="#92b4fe"/><stop offset=".688" stop-color="#a5c3fe"/><stop offset=".75" stop-color="#abc8fd"/><stop offset=".812" stop-color="#a7c5fe"/><stop offset=".875" stop-color="#9dbdff"/><stop offset=".938" stop-color="#8db0fe"/><stop offset="1" stop-color="#7ea1fa"/></linearGradient><linearGradient id="l349"><stop offset="0" stop-color="#9ebeff"/><stop offset=".062" stop-color="#9bbcff"/><stop offset=".125" stop-color="#9ebeff"/><stop offset=".188" stop-color="#a1c0ff"/><stop offset=".25" stop-color="#97b8ff"/><stop offset=".312" stop-color="#7ea1fa"/><stop offset=".375" stop-color="#5f7fe8"/><stop offset=".438" stop-color="#4b64d5"/><stop offset=".5" stop-color="#4c66d6"/><stop offset=".562" stop-color="#688aef"/><stop offset=".625" stop-color="#8caffe"/><stop offset=".688" stop-color="#a2c1ff"/><stop offset=".75" stop-color="#a5c3fe"/><stop offset=".812" stop-color="#9dbdff"/><stop offset=".875" stop-color="#8caffe"/><stop offset=".938" stop-color="#80a3fa"/><stop offset="1" stop-color="#7b9ff9"/></linearGradient><linearGradient id="l350"><stop offset="0" stop-color="#8caffe"/><stop offset=".062" stop-color="#94b6ff"/><stop offset=".125" stop-color="#9ebeff"/><stop offset=".188" stop-color="#a1c0ff"/><stop offset=".25" stop-color="#98b9ff"/><stop offset=".312" stop-color="#81a4fb"/><stop offset=".375" stop-color="#6282ea"/><stop offset=".438" stop-color="#4961d2"/><stop offset=".5" stop-color="#465ecf"/><stop offset=".562" stop-color="#6485ec"/><stop offset=".625" stop-color="#8caffe"/><stop offset=".688" stop-color="#9fbfff"/><stop offset=".75" stop-color="#9ebeff"/><stop offset=".812" stop-color="#8db0fe"/><stop offset=".875" stop-color="#7a9df8"/><stop offset=".938" stop-color="#6f92f3"/><stop offset="1" stop-color="#779af7"/></linearGradient><linearGradient id="l351"><stop offset="0" stop-color="#7b9ff9"/><stop offset=".062" stop-color="#8fb1fe"/><stop offset=".125" stop-color="#9ebeff"/><stop offset=".188" stop-color="#a5c3fe"/><stop offset=".25" stop-color="#9ebeff"/><stop offset=".312" stop-color="#88abfd"/><stop offset=".375" stop-color="#6a8bef"/><stop offset=".438" stop-color="#4f69d9"/><stop offset=".5" stop-color="#4961d2"/><stop offset=".562" stop-color="#6687ed"/><stop offset=".625" stop-color="#8caffe"/><stop offset=".688" stop-color="#9ebeff"/><stop offset=".75" stop-color="#97b8ff"/><stop offset=".812" stop-color="#81a4fb"/><stop offset=".875" stop-color="#6a8bef"/><stop offset=".938" stop-color="#6180e9"/><stop offset="1" stop-color="#7597f6"/></linearGradient><linearGradient id="l352"><stop offset="0" stop-color="#7597f6"/><stop offset=".062" stop-color="#8db0fe"/><stop offset=".125" stop-color="#a5c3fe"/><stop offset=".188" stop-color="#b2ccfb"/><stop offset=".25" stop-color="#b1cbfc"/><stop offset=".312" stop-color="#9dbdff"/><stop offset=".375" stop-color="#7b9ff9"/><stop offset=".438" stop-color="#5e7de7"/><stop offset=".5" stop-color="#5470de"/><stop offset=".562" stop-color="#6a8bef"/><stop offset=".625" stop-color="#8caffe"/><stop offset=".688" stop-color="#9dbdff"/><stop offset=".75" stop-color="#97b8ff"/><stop offset=".812" stop-color="#7ea1fa"/><stop offset=".875" stop-color="#6384eb"/><stop offset=".938" stop-color="#5a78e4"/><stop offset="1" stop-color="#7699f6"/></linearGradient><linearGradient id="l353"><stop offset="0" stop-color="#82a6fb"/><stop offset=".062" stop-color="#9ebeff"/><stop offset=".125" stop-color="#bad0f8"/><stop offset=".188" stop-color="#ccd9ed"/><stop offset=".25" stop-color="#cfdaea"/><stop offset=".312" stop-color="#bfd3f6"/><stop offset=".375" stop-color="#9ebeff"/><stop offset=".438" stop-color="#7b9ff9"/><stop offset=".5" stop-color="#6a8bef"/><stop offset=".562" stop-color="#7597f6"/><stop offset=".625" stop-color="#8caffe"/><stop offset=".688" stop-color="#9ebeff"/><stop offset=".75" stop-color="#9ebeff"/><stop offset=".812" stop-color="#8fb1fe"/><stop offset=".875" stop-color="#7b9ff9"/><stop offset=".938" stop-color="#7597f6"/><stop offset="1" stop-color="#8caffe"/></linearGradient><linearGradient id="l354"><stop offset="0" stop-color="#abc8fd"/><stop offset=".062" stop-color="#c6d6f1"/><stop offset=".125" stop-color="#dedcdb"/><stop offset=".188" stop-color="#edd2c3"/><stop offset=".25" stop-color="#efcebd"/><stop offset=".312" stop-color="#e7d7ce"/><stop offset=".375" stop-color="#cedaeb"/><stop offset=".438" stop-color="#a9c6fd"/><stop offset=".5" stop-color="#8badfd"/><stop offset=".562" stop-color="#85a8fc"/><stop offset=".625" stop-color="#92b4fe"/><stop offset=".688" stop-color="#a2c1ff"/><stop offset=".75" stop-color="#afcafc"/><stop offset=".812" stop-color="#b9d0f9"/><stop offset=".875" stop-color="#bed2f6"/><stop offset=".938" stop-color="#bfd3f6"/><stop offset="1" stop-color="#bed2f6"/></linearGradient><linearGradient id="l355"><stop offset="0" stop-color="#dddcdc"/><stop offset=".062" stop-color="#eed0c0"/><stop offset=".125" stop-color="#f6bda2"/><stop offset=".188" stop-color="#f7aa8c"/><stop offset=".25" stop-color="#f6a586"/><stop offset=".312" stop-color="#f7b194"/><stop offset=".375" stop-color="#f2cbb7"/><stop offset=".438" stop-color="#d5dbe5"/><stop offset=".5" stop-color="#afcafc"/><stop offset=".562" stop-color="#9abbff"/><stop offset=".625" stop-color="#97b8ff"/><stop offset=".688" stop-color="#a5c3fe"/><stop offset=".75" stop-color="#c0d4f5"/><stop offset=".812" stop-color="#dedcdb"/><stop offset=".875" stop-color="#f2cbb7"/><stop offset=".938" stop-color="#f5c2aa"/><stop offset="1" stop-color="#e9d5cb"/></linearGradient><linearGradient id="l356"><stop offset="0" stop-color="#f7bca1"/><stop offset=".062" stop-color="#f7a889"/><stop offset=".125" stop-color="#f29274"/><stop offset=".188" stop-color="#ec8165"/><stop offset=".25" stop-color="#ea7b60"/><stop offset=".312" stop-color="#ef886b"/><stop offset=".375" stop-color="#f7a688"/><stop offset=".438" stop-color="#f1cdba"/><stop offset=".5" stop-color="#d1dae9"/><stop offset=".562" stop-color="#abc8fd"/><stop offset=".625" stop-color="#98b9ff"/><stop offset=".688" stop-color="#a5c3fe"/><stop offset=".75" stop-color="#c9d7f0"/><stop offset=".812" stop-color="#efcfbf"/><stop offset=".875" stop-color="#f7a889"/><stop offset=".938" stop-color="#f39577"/><stop offset="1" stop-color="#f7ba9f"/></linearGradient><linearGradient id="l357"><stop offset="0" stop-color="#f18d6f"/><stop offset=".062" stop-color="#eb7d62"/><stop offset=".125" stop-color="#e36c55"/><stop offset=".188" stop-color="#de614d"/><stop offset=".25" stop-color="#dc5d4a"/><stop offset=".312" stop-color="#e26952"/><stop offset=".375" stop-color="#ee8468"/><stop offset=".438" stop-color="#f7ad90"/><stop offset=".5" stop-color="#e9d5cb"/><stop offset=".562" stop-color="#bad0f8"/><stop offset=".625" stop-color="#97b8ff"/><stop offset=".688" stop-color="#a3c2fe"/><stop offset=".75" stop-color="#cfdaea"/><stop offset=".812" stop-color="#f3c7b1"/><stop offset=".875" stop-color="#f4987a"/><stop offset=".938" stop-color="#ed8366"/><stop offset="1" stop-color="#f6a586"/></linearGradient><linearGradient id="l358"><stop offset="0" stop-color="#e0654f"/><stop offset=".062" stop-color="#d95847"/><stop offset=".125" stop-color="#d44e41"/><stop offset=".188" stop-color="#cf453c"/><stop offset=".25" stop-color="#cd423b"/><stop offset=".312" stop-color="#d44e41"/><stop offset=".375" stop-color="#e16751"/><stop offset=".438" stop-color="#f08b6e"/><stop offset=".5" stop-color="#f5c0a7"/><stop offset=".562" stop-color="#c7d7f0"/><stop offset=".625" stop-color="#98b9ff"/><stop offset=".688" stop-color="#aac7fd"/><stop offset=".75" stop-color="#dcdddd"/><stop offset=".812" stop-color="#f7bca1"/><stop offset=".875" stop-color="#f39475"/><stop offset=".938" stop-color="#ec8165"/><stop offset="1" stop-color="#f29274"/></linearGradient><linearGradient id="l359"><stop offset="0" stop-color="#d65244"/><stop offset=".062" stop-color="#cf453c"/><stop offset=".125" stop-color="#c53334"/><stop offset=".188" stop-color="#c0282f"/><stop offset=".25" stop-color="#be242e"/><stop offset=".312" stop-color="#c53334"/><stop offset=".375" stop-color="#d0473d"/><stop offset=".438" stop-color="#e0654f"/><stop offset=".5" stop-color="#f6a586"/><stop offset=".562" stop-color="#d4dbe6"/><stop offset=".625" stop-color="#9ebeff"/><stop offset=".688" stop-color="#bed2f6"/><stop offset=".75" stop-color="#f2cbb7"/><stop offset=".812" stop-color="#f59d7e"/><stop offset=".875" stop-color="#ee8468"/><stop offset=".938" stop-color="#eb7d62"/><stop offset="1" stop-color="#ea7b60"/></linearGradient><linearGradient id="l360"><stop offset="0" stop-color="#d65244"/><stop offset=".062" stop-color="#cf453c"/><stop offset=".125" stop-color="#c53334"/><stop offset=".188" stop-color="#c0282f"/><stop offset=".25" stop-color="#be242e"/><stop offset=".312" stop-color="#c53334"/><stop offset=".375" stop-color="#d0473d"/><stop offset=".438" stop-color="#e0654f"/><stop offset=".5" stop-color="#f6a586"/><stop offset=".562" stop-color="#d4dbe6"/><stop offset=".625" stop-color="#9ebeff"/><stop offset=".688" stop-color="#bed2f6"/><stop offset=".75" stop-color="#f2cbb7"/><stop offset=".812" stop-color="#f59d7e"/><stop offset=".875" stop-color="#ee8468"/><stop offset=".938" stop-color="#eb7d62"/><stop offset="1" stop-color="#ea7b60"/></linearGradient><linearGradient id="cb361" x1="0" y1="0" x2="0" y2="1"><stop offset="0" stop-color="#b40426"/><stop offset="0.05" stop-color="#c53334"/><stop offset="0.1" stop-color="#d65244"/><stop offset="0.15" stop-color="#e36c55"/><stop offset="0.2" stop-color="#ee8468"/><stop offset="0.25" stop-color="#f4987a"/><stop offset="0.3" stop-color="#f7ac8e"/><stop offset="0.35" stop-color="#f6bda2"/><stop offset="0.4" stop-color="#f2cbb7"/><stop offset="0.45" stop-color="#e9d5cb"/><stop offset="0.5" stop-color="#dddcdc"/><stop offset="0.55" stop-color="#cfdaea"/><stop offset="0.6" stop-color="#c0d4f5"/><stop offset="0.65" stop-color="#afcafc"/><stop offset="0.7" stop-color="#9ebeff"/><stop offset="0.75" stop-color="#8db0fe"/><stop offset="0.8" stop-color="#7b9ff9"/><stop offset="0.85" stop-color="#6a8bef"/><stop offset="0.9" stop-color="#5977e3"/><stop offset="0.95" stop-color="#4961d2"/><stop offset="1" stop-color="#3b4cc0"/></linearGradient><clipPath id="c362"><polygon points="41.2,1191.7 97.4,1167.2 154.1,1191.7 97.4,1219.3"/></clipPath><filter id="f363" x="-5%" y="-20%" width="110%" height="140%"><feGaussianBlur stdDeviation="0 3.26"/></filter><linearGradient id="l364"><stop offset="0" stop-color="#e9d5cb"/><stop offset=".062" stop-color="#e5d8d1"/><stop offset=".125" stop-color="#dddcdc"/><stop offset=".188" stop-color="#d2dbe8"/><stop offset=".25" stop-color="#c6d6f1"/><stop offset=".312" stop-color="#bcd2f7"/><stop offset=".375" stop-color="#afcafc"/><stop offset=".438" stop-color="#a1c0ff"/><stop offset=".5" stop-color="#afcafc"/><stop offset=".562" stop-color="#e4d9d2"/><stop offset=".625" stop-color="#f7ac8e"/><stop offset=".688" stop-color="#f7aa8c"/><stop offset=".75" stop-color="#f2cbb7"/><stop offset=".812" stop-color="#d5dbe5"/><stop offset=".875" stop-color="#afcafc"/><stop offset=".938" stop-color="#8fb1fe"/><stop offset="1" stop-color="#7b9ff9"/></linearGradient><linearGradient id="l365"><stop offset="0" stop-color="#e9d5cb"/><stop offset=".062" stop-color="#e5d8d1"/><stop offset=".125" stop-color="#dddcdc"/><stop offset=".188" stop-color="#d2dbe8"/><stop offset=".25" stop-color="#c6d6f1"/><stop offset=".312" stop-color="#bcd2f7"/><stop offset=".375" stop-color="#afcafc"/><stop offset=".438" stop-color="#a1c0ff"/><stop offset=".5" stop-color="#afcafc"/><stop offset=".562" stop-color="#e4d9d2"/><stop offset=".625" stop-color="#f7ac8e"/><stop offset=".688" stop-color="#f7aa8c"/><stop offset=".75" stop-color="#f2cbb7"/><stop offset=".812" stop-color="#d5dbe5"/><stop offset=".875" stop-color="#afcafc"/><stop offset=".938" stop-color="#8fb1fe"/><stop offset="1" stop-color="#7b9ff9"/></linearGradient><linearGradient id="l366"><stop offset="0" stop-color="#efcebd"/><stop offset=".062" stop-color="#e8d6cc"/><stop offset=".125" stop-color="#e1dad6"/><stop offset=".188" stop-color="#dadce0"/><stop offset=".25" stop-color="#d2dbe8"/><stop offset=".312" stop-color="#c5d6f2"/><stop offset=".375" stop-color="#afcafc"/><stop offset=".438" stop-color="#94b6ff"/><stop offset=".5" stop-color="#9fbfff"/><stop offset=".562" stop-color="#e2dad5"/><stop offset=".625" stop-color="#f7a688"/><stop offset=".688" stop-color="#f7b194"/><stop offset=".75" stop-color="#e5d8d1"/><stop offset=".812" stop-color="#c0d4f5"/><stop offset=".875" stop-color="#a1c0ff"/><stop offset=".938" stop-color="#86a9fc"/><stop offset="1" stop-color="#7295f4"/></linearGradient><linearGradient id="l367"><stop offset="0" stop-color="#f2cbb7"/><stop offset=".062" stop-color="#eed0c0"/><stop offset=".125" stop-color="#e9d5cb"/><stop offset=".188" stop-color="#e2dad5"/><stop offset=".25" stop-color="#d7dce3"/><stop offset=".312" stop-color="#c7d7f0"/><stop offset=".375" stop-color="#afcafc"/><stop offset=".438" stop-color="#97b8ff"/><stop offset=".5" stop-color="#9ebeff"/><stop offset=".562" stop-color="#d5dbe5"/><stop offset=".625" stop-color="#f4c6af"/><stop offset=".688" stop-color="#efcebd"/><stop offset=".75" stop-color="#cfdaea"/><stop offset=".812" stop-color="#aac7fd"/><stop offset=".875" stop-color="#8caffe"/><stop offset=".938" stop-color="#799cf8"/><stop offset="1" stop-color="#6a8bef"/></linearGradient><linearGradient id="l368"><stop offset="0" stop-color="#f2c9b4"/><stop offset=".062" stop-color="#f2c9b4"/><stop offset=".125" stop-color="#f0cdbb"/><stop offset=".188" stop-color="#e9d5cb"/><stop offset=".25" stop-color="#dadce0"/><stop offset=".312" stop-color="#c5d6f2"/><stop offset=".375" stop-color="#adc9fd"/><stop offset=".438" stop-color="#9bbcff"/><stop offset=".5" stop-color="#9fbfff"/><stop offset=".562" stop-color="#bed2f6"/><stop offset=".625" stop-color="#d5dbe5"/><stop offset=".688" stop-color="#cedaeb"/><stop offset=".75" stop-color="#b5cdfa"/><stop offset=".812" stop-color="#97b8ff"/><stop offset=".875" stop-color="#7ea1fa"/><stop offset=".938" stop-color="#6c8ff1"/><stop offset="1" stop-color="#6687ed"/></linearGradient><linearGradient id="l369"><stop offset="0" stop-color="#f4c6af"/><stop offset=".062" stop-color="#f5c1a9"/><stop offset=".125" stop-color="#f4c6af"/><stop offset=".188" stop-color="#eed0c0"/><stop offset=".25" stop-color="#dddcdc"/><stop offset=".312" stop-color="#c1d4f4"/><stop offset=".375" stop-color="#a5c3fe"/><stop offset=".438" stop-color="#97b8ff"/><stop offset=".5" stop-color="#97b8ff"/><stop offset=".562" stop-color="#9ebeff"/><stop offset=".625" stop-color="#a5c3fe"/><stop offset=".688" stop-color="#a6c4fe"/><stop offset=".75" stop-color="#9ebeff"/><stop offset=".812" stop-color="#8db0fe"/><stop offset=".875" stop-color="#7b9ff9"/><stop offset=".938" stop-color="#6c8ff1"/><stop offset="1" stop-color="#6a8bef"/></linearGradient><linearGradient id="l370"><stop offset="0" stop-color="#f6bea4"/><stop offset=".062" stop-color="#f6bea4"/><stop offset=".125" stop-color="#f5c0a7"/><stop offset=".188" stop-color="#f2cbb7"/><stop offset=".25" stop-color="#e2dad5"/><stop offset=".312" stop-color="#bfd3f6"/><stop offset=".375" stop-color="#98b9ff"/><stop offset=".438" stop-color="#84a7fc"/><stop offset=".5" stop-color="#7ea1fa"/><stop offset=".562" stop-color="#7da0f9"/><stop offset=".625" stop-color="#80a3fa"/><stop offset=".688" stop-color="#89acfd"/><stop offset=".75" stop-color="#92b4fe"/><stop offset=".812" stop-color="#90b2fe"/><stop offset=".875" stop-color="#89acfd"/><stop offset=".938" stop-color="#7ea1fa"/><stop offset="1" stop-color="#7597f6"/></linearGradient><linearGradient id="l371"><stop offset="0" stop-color="#f7b396"/><stop offset=".062" stop-color="#f7bca1"/><stop offset=".125" stop-color="#f6bda2"/><stop offset=".188" stop-color="#f5c4ac"/><stop offset=".25" stop-color="#e9d5cb"/><stop offset=".312" stop-color="#c1d4f4"/><stop offset=".375" stop-color="#8caffe"/><stop offset=".438" stop-color="#6c8ff1"/><stop offset=".5" stop-color="#5f7fe8"/><stop offset=".562" stop-color="#5f7fe8"/><stop offset=".625" stop-color="#6a8bef"/><stop offset=".688" stop-color="#7a9df8"/><stop offset=".75" stop-color="#8caffe"/><stop offset=".812" stop-color="#9abbff"/><stop offset=".875" stop-color="#9ebeff"/><stop offset=".938" stop-color="#97b8ff"/><stop offset="1" stop-color="#82a6fb"/></linearGradient><linearGradient id="l372"><stop offset="0" stop-color="#f7a98b"/><stop offset=".062" stop-color="#f7b79b"/><stop offset=".125" stop-color="#f7b89c"/><stop offset=".188" stop-color="#f6bda2"/><stop offset=".25" stop-color="#efcfbf"/><stop offset=".312" stop-color="#c7d7f0"/><stop offset=".375" stop-color="#8caffe"/><stop offset=".438" stop-color="#5e7de7"/><stop offset=".5" stop-color="#4a63d3"/><stop offset=".562" stop-color="#4b64d5"/><stop offset=".625" stop-color="#5d7ce6"/><stop offset=".688" stop-color="#7699f6"/><stop offset=".75" stop-color="#90b2fe"/><stop offset=".812" stop-color="#a3c2fe"/><stop offset=".875" stop-color="#abc8fd"/><stop offset=".938" stop-color="#a6c4fe"/><stop offset="1" stop-color="#8caffe"/></linearGradient><linearGradient id="l373"><stop offset="0" stop-color="#f6a586"/><stop offset=".062" stop-color="#f7aa8c"/><stop offset=".125" stop-color="#f7ac8e"/><stop offset=".188" stop-color="#f7b599"/><stop offset=".25" stop-color="#f2cbb7"/><stop offset=".312" stop-color="#d3dbe7"/><stop offset=".375" stop-color="#9ebeff"/><stop offset=".438" stop-color="#6a8bef"/><stop offset=".5" stop-color="#4961d2"/><stop offset=".562" stop-color="#4358cb"/><stop offset=".625" stop-color="#536edd"/><stop offset=".688" stop-color="#7597f6"/><stop offset=".75" stop-color="#97b8ff"/><stop offset=".812" stop-color="#a6c4fe"/><stop offset=".875" stop-color="#a5c3fe"/><stop offset=".938" stop-color="#9abbff"/><stop offset="1" stop-color="#8db0fe"/></linearGradient><linearGradient id="l374"><stop offset="0" stop-color="#f6a586"/><stop offset=".062" stop-color="#f7aa8c"/><stop offset=".125" stop-color="#f7ac8e"/><stop offset=".188" stop-color="#f7b599"/><stop offset=".25" stop-color="#f2cbb7"/><stop offset=".312" stop-color="#d3dbe7"/><stop offset=".375" stop-color="#9ebeff"/><stop offset=".438" stop-color="#6a8bef"/><stop offset=".5" stop-color="#4961d2"/><stop offset=".562" stop-color="#4358cb"/><stop offset=".625" stop-color="#536edd"/><stop offset=".688" stop-color="#7597f6"/><stop offset=".75" stop-color="#97b8ff"/><stop offset=".812" stop-color="#a6c4fe"/><stop offset=".875" stop-color="#a5c3fe"/><stop offset=".938" stop-color="#9abbff"/><stop offset="1" stop-color="#8db0fe"/></linearGradient><clipPath id="c375"><polygon points="41.2,1191.7 97.4,1219.3 97.4,1272.4 43.3,1242.8"/></clipPath><filter id="f376" x="-5%" y="-20%" width="110%" height="140%"><feGaussianBlur stdDeviation="0 4.04"/></filter><linearGradient id="l377"><stop offset="0" stop-color="#f39577"/><stop offset=".125" stop-color="#eb7d62"/><stop offset=".25" stop-color="#ea7b60"/><stop offset=".375" stop-color="#ee8669"/><stop offset=".5" stop-color="#f39577"/><stop offset=".625" stop-color="#f6a283"/><stop offset=".75" stop-color="#f7ac8e"/><stop offset=".875" stop-color="#f7b599"/><stop offset="1" stop-color="#f5c0a7"/></linearGradient><linearGradient id="l378"><stop offset="0" stop-color="#f39577"/><stop offset=".125" stop-color="#eb7d62"/><stop offset=".25" stop-color="#ea7b60"/><stop offset=".375" stop-color="#ee8669"/><stop offset=".5" stop-color="#f39577"/><stop offset=".625" stop-color="#f6a283"/><stop offset=".75" stop-color="#f7ac8e"/><stop offset=".875" stop-color="#f7b599"/><stop offset="1" stop-color="#f5c0a7"/></linearGradient><linearGradient id="l379"><stop offset="0" stop-color="#ee8468"/><stop offset=".125" stop-color="#e36c55"/><stop offset=".25" stop-color="#e16751"/><stop offset=".375" stop-color="#e46e56"/><stop offset=".5" stop-color="#eb7d62"/><stop offset=".625" stop-color="#f29072"/><stop offset=".75" stop-color="#f6a385"/><stop offset=".875" stop-color="#f7b194"/><stop offset="1" stop-color="#f6bda2"/></linearGradient><linearGradient id="l380"><stop offset="0" stop-color="#ea7b60"/><stop offset=".125" stop-color="#e0654f"/><stop offset=".25" stop-color="#dc5d4a"/><stop offset=".375" stop-color="#df634e"/><stop offset=".5" stop-color="#e57058"/><stop offset=".625" stop-color="#ee8669"/><stop offset=".75" stop-color="#f59d7e"/><stop offset=".875" stop-color="#f7af91"/><stop offset="1" stop-color="#f7ba9f"/></linearGradient><linearGradient id="l381"><stop offset="0" stop-color="#e8765c"/><stop offset=".125" stop-color="#e0654f"/><stop offset=".25" stop-color="#da5a49"/><stop offset=".375" stop-color="#dd5f4b"/><stop offset=".5" stop-color="#e36c55"/><stop offset=".625" stop-color="#ed8366"/><stop offset=".75" stop-color="#f49a7b"/><stop offset=".875" stop-color="#f7ac8e"/><stop offset="1" stop-color="#f7b79b"/></linearGradient><linearGradient id="l382"><stop offset="0" stop-color="#e8765c"/><stop offset=".125" stop-color="#e16751"/><stop offset=".25" stop-color="#dc5d4a"/><stop offset=".375" stop-color="#dc5d4a"/><stop offset=".5" stop-color="#e16751"/><stop offset=".625" stop-color="#eb7d62"/><stop offset=".75" stop-color="#f39577"/><stop offset=".875" stop-color="#f7a98b"/><stop offset="1" stop-color="#f7b396"/></linearGradient><linearGradient id="l383"><stop offset="0" stop-color="#e8765c"/><stop offset=".125" stop-color="#e36b54"/><stop offset=".25" stop-color="#dd5f4b"/><stop offset=".375" stop-color="#d95847"/><stop offset=".5" stop-color="#dd5f4b"/><stop offset=".625" stop-color="#e7745b"/><stop offset=".75" stop-color="#f18d6f"/><stop offset=".875" stop-color="#f6a385"/><stop offset="1" stop-color="#f7b093"/></linearGradient><linearGradient id="l384"><stop offset="0" stop-color="#e8765c"/><stop offset=".125" stop-color="#e36c55"/><stop offset=".25" stop-color="#dc5d4a"/><stop offset=".375" stop-color="#d55042"/><stop offset=".5" stop-color="#d65244"/><stop offset=".625" stop-color="#e16751"/><stop offset=".75" stop-color="#ee8468"/><stop offset=".875" stop-color="#f59d7e"/><stop offset="1" stop-color="#f7ac8e"/></linearGradient><linearGradient id="l385"><stop offset="0" stop-color="#e8765c"/><stop offset=".125" stop-color="#e36c55"/><stop offset=".25" stop-color="#d95847"/><stop offset=".375" stop-color="#cf453c"/><stop offset=".5" stop-color="#cd423b"/><stop offset=".625" stop-color="#d95847"/><stop offset=".75" stop-color="#e97a5f"/><stop offset=".875" stop-color="#f4987a"/><stop offset="1" stop-color="#f7a98b"/></linearGradient><linearGradient id="l386"><stop offset="0" stop-color="#e8765c"/><stop offset=".125" stop-color="#e36b54"/><stop offset=".25" stop-color="#d65244"/><stop offset=".375" stop-color="#ca3b37"/><stop offset=".5" stop-color="#c53334"/><stop offset=".625" stop-color="#d24b40"/><stop offset=".75" stop-color="#e57058"/><stop offset=".875" stop-color="#f29274"/><stop offset="1" stop-color="#f6a586"/></linearGradient><linearGradient id="l387"><stop offset="0" stop-color="#e8765c"/><stop offset=".125" stop-color="#e26952"/><stop offset=".25" stop-color="#d55042"/><stop offset=".375" stop-color="#c53334"/><stop offset=".5" stop-color="#c12b30"/><stop offset=".625" stop-color="#cd423b"/><stop offset=".75" stop-color="#e16751"/><stop offset=".875" stop-color="#f08a6c"/><stop offset="1" stop-color="#f5a081"/></linearGradient><linearGradient id="l388"><stop offset="0" stop-color="#e8765c"/><stop offset=".125" stop-color="#e36b54"/><stop offset=".25" stop-color="#d65244"/><stop offset=".375" stop-color="#c83836"/><stop offset=".5" stop-color="#c32e31"/><stop offset=".625" stop-color="#cb3e38"/><stop offset=".75" stop-color="#dc5d4a"/><stop offset=".875" stop-color="#ec7f63"/><stop offset="1" stop-color="#f4987a"/></linearGradient><linearGradient id="l389"><stop offset="0" stop-color="#e8765c"/><stop offset=".125" stop-color="#e36b54"/><stop offset=".25" stop-color="#d65244"/><stop offset=".375" stop-color="#c83836"/><stop offset=".5" stop-color="#c32e31"/><stop offset=".625" stop-color="#cb3e38"/><stop offset=".75" stop-color="#dc5d4a"/><stop offset=".875" stop-color="#ec7f63"/><stop offset="1" stop-color="#f4987a"/></linearGradient><clipPath id="c390"><polygon points="97.4,1219.3 154.1,1191.7 152.6,1242.8 97.4,1272.4"/></clipPath><filter id="f391" x="-5%" y="-20%" width="110%" height="140%"><feGaussianBlur stdDeviation="0 4.04"/></filter><linearGradient id="l392"><stop offset="0" stop-color="#5977e3"/><stop offset=".071" stop-color="#5977e3"/><stop offset=".143" stop-color="#5f7fe8"/><stop offset=".214" stop-color="#6b8df0"/><stop offset=".286" stop-color="#7b9ff9"/><stop offset=".357" stop-color="#8db0fe"/><stop offset=".429" stop-color="#9ebeff"/><stop offset=".5" stop-color="#a9c6fd"/><stop offset=".571" stop-color="#afcafc"/><stop offset=".643" stop-color="#b2ccfb"/><stop offset=".714" stop-color="#afcafc"/><stop offset=".786" stop-color="#a6c4fe"/><stop offset=".857" stop-color="#97b8ff"/><stop offset=".929" stop-color="#88abfd"/><stop offset="1" stop-color="#7b9ff9"/></linearGradient><linearGradient id="l393"><stop offset="0" stop-color="#5977e3"/><stop offset=".071" stop-color="#5977e3"/><stop offset=".143" stop-color="#5f7fe8"/><stop offset=".214" stop-color="#6b8df0"/><stop offset=".286" stop-color="#7b9ff9"/><stop offset=".357" stop-color="#8db0fe"/><stop offset=".429" stop-color="#9ebeff"/><stop offset=".5" stop-color="#a9c6fd"/><stop offset=".571" stop-color="#afcafc"/><stop offset=".643" stop-color="#b2ccfb"/><stop offset=".714" stop-color="#afcafc"/><stop offset=".786" stop-color="#a6c4fe"/><stop offset=".857" stop-color="#97b8ff"/><stop offset=".929" stop-color="#88abfd"/><stop offset="1" stop-color="#7b9ff9"/></linearGradient><linearGradient id="l394"><stop offset="0" stop-color="#5572df"/><stop offset=".071" stop-color="#4e68d8"/><stop offset=".143" stop-color="#516ddb"/><stop offset=".214" stop-color="#5f7fe8"/><stop offset=".286" stop-color="#779af7"/><stop offset=".357" stop-color="#94b6ff"/><stop offset=".429" stop-color="#aec9fc"/><stop offset=".5" stop-color="#bad0f8"/><stop offset=".571" stop-color="#bcd2f7"/><stop offset=".643" stop-color="#bbd1f8"/><stop offset=".714" stop-color="#b3cdfb"/><stop offset=".786" stop-color="#a6c4fe"/><stop offset=".857" stop-color="#97b8ff"/><stop offset=".929" stop-color="#88abfd"/><stop offset="1" stop-color="#7da0f9"/></linearGradient><linearGradient id="l395"><stop offset="0" stop-color="#536edd"/><stop offset=".071" stop-color="#485fd1"/><stop offset=".143" stop-color="#4c66d6"/><stop offset=".214" stop-color="#5d7ce6"/><stop offset=".286" stop-color="#7b9ff9"/><stop offset=".357" stop-color="#a1c0ff"/><stop offset=".429" stop-color="#c0d4f5"/><stop offset=".5" stop-color="#cdd9ec"/><stop offset=".571" stop-color="#cfdaea"/><stop offset=".643" stop-color="#cad8ef"/><stop offset=".714" stop-color="#c0d4f5"/><stop offset=".786" stop-color="#b3cdfb"/><stop offset=".857" stop-color="#a5c3fe"/><stop offset=".929" stop-color="#98b9ff"/><stop offset="1" stop-color="#8db0fe"/></linearGradient><linearGradient id="l396"><stop offset="0" stop-color="#536edd"/><stop offset=".071" stop-color="#4961d2"/><stop offset=".143" stop-color="#4e68d8"/><stop offset=".214" stop-color="#6180e9"/><stop offset=".286" stop-color="#84a7fc"/><stop offset=".357" stop-color="#aec9fc"/><stop offset=".429" stop-color="#d1dae9"/><stop offset=".5" stop-color="#dfdbd9"/><stop offset=".571" stop-color="#e1dad6"/><stop offset=".643" stop-color="#dbdcde"/><stop offset=".714" stop-color="#d1dae9"/><stop offset=".786" stop-color="#c6d6f1"/><stop offset=".857" stop-color="#bbd1f8"/><stop offset=".929" stop-color="#afcafc"/><stop offset="1" stop-color="#a3c2fe"/></linearGradient><linearGradient id="l397"><stop offset="0" stop-color="#5977e3"/><stop offset=".071" stop-color="#4e68d8"/><stop offset=".143" stop-color="#536edd"/><stop offset=".214" stop-color="#688aef"/><stop offset=".286" stop-color="#8caffe"/><stop offset=".357" stop-color="#bad0f8"/><stop offset=".429" stop-color="#dcdddd"/><stop offset=".5" stop-color="#ecd3c5"/><stop offset=".571" stop-color="#efcfbf"/><stop offset=".643" stop-color="#ead4c8"/><stop offset=".714" stop-color="#e2dad5"/><stop offset=".786" stop-color="#d8dce2"/><stop offset=".857" stop-color="#cfdaea"/><stop offset=".929" stop-color="#c5d6f2"/><stop offset="1" stop-color="#bad0f8"/></linearGradient><linearGradient id="l398"><stop offset="0" stop-color="#6788ee"/><stop offset=".071" stop-color="#5875e1"/><stop offset=".143" stop-color="#5a78e4"/><stop offset=".214" stop-color="#6f92f3"/><stop offset=".286" stop-color="#94b6ff"/><stop offset=".357" stop-color="#c3d5f4"/><stop offset=".429" stop-color="#e4d9d2"/><stop offset=".5" stop-color="#f2cab5"/><stop offset=".571" stop-color="#f5c4ac"/><stop offset=".643" stop-color="#f3c8b2"/><stop offset=".714" stop-color="#efcfbf"/><stop offset=".786" stop-color="#e7d7ce"/><stop offset=".857" stop-color="#dedcdb"/><stop offset=".929" stop-color="#d5dbe5"/><stop offset="1" stop-color="#cbd8ee"/></linearGradient><linearGradient id="l399"><stop offset="0" stop-color="#7b9ff9"/><stop offset=".071" stop-color="#688aef"/><stop offset=".143" stop-color="#6a8bef"/><stop offset=".214" stop-color="#7b9ff9"/><stop offset=".286" stop-color="#9ebeff"/><stop offset=".357" stop-color="#c9d7f0"/><stop offset=".429" stop-color="#e9d5cb"/><stop offset=".5" stop-color="#f5c4ac"/><stop offset=".571" stop-color="#f7ba9f"/><stop offset=".643" stop-color="#f6bda2"/><stop offset=".714" stop-color="#f4c6af"/><stop offset=".786" stop-color="#efcebd"/><stop offset=".857" stop-color="#e9d5cb"/><stop offset=".929" stop-color="#e0dbd8"/><stop offset="1" stop-color="#d7dce3"/></linearGradient><linearGradient id="l400"><stop offset="0" stop-color="#94b6ff"/><stop offset=".071" stop-color="#84a7fc"/><stop offset=".143" stop-color="#82a6fb"/><stop offset=".214" stop-color="#90b2fe"/><stop offset=".286" stop-color="#abc8fd"/><stop offset=".357" stop-color="#cfdaea"/><stop offset=".429" stop-color="#ecd3c5"/><stop offset=".5" stop-color="#f6bfa6"/><stop offset=".571" stop-color="#f7b599"/><stop offset=".643" stop-color="#f7b89c"/><stop offset=".714" stop-color="#f5c0a7"/><stop offset=".786" stop-color="#f2c9b4"/><stop offset=".857" stop-color="#efcfbf"/><stop offset=".929" stop-color="#ead5c9"/><stop offset="1" stop-color="#e1dad6"/></linearGradient><linearGradient id="l401"><stop offset="0" stop-color="#afcafc"/><stop offset=".071" stop-color="#a2c1ff"/><stop offset=".143" stop-color="#9ebeff"/><stop offset=".214" stop-color="#a5c3fe"/><stop offset=".286" stop-color="#bad0f8"/><stop offset=".357" stop-color="#d7dce3"/><stop offset=".429" stop-color="#efcfbf"/><stop offset=".5" stop-color="#f6bda2"/><stop offset=".571" stop-color="#f7b396"/><stop offset=".643" stop-color="#f7b79b"/><stop offset=".714" stop-color="#f5c0a7"/><stop offset=".786" stop-color="#f4c6af"/><stop offset=".857" stop-color="#f2cbb7"/><stop offset=".929" stop-color="#efcfbf"/><stop offset="1" stop-color="#e9d5cb"/></linearGradient><linearGradient id="l402"><stop offset="0" stop-color="#c9d7f0"/><stop offset=".071" stop-color="#bbd1f8"/><stop offset=".143" stop-color="#b3cdfb"/><stop offset=".214" stop-color="#b5cdfa"/><stop offset=".286" stop-color="#c4d5f3"/><stop offset=".357" stop-color="#dcdddd"/><stop offset=".429" stop-color="#f1cdba"/><stop offset=".5" stop-color="#f7bca1"/><stop offset=".571" stop-color="#f7b497"/><stop offset=".643" stop-color="#f7b89c"/><stop offset=".714" stop-color="#f5c0a7"/><stop offset=".786" stop-color="#f4c6af"/><stop offset=".857" stop-color="#f2c9b4"/><stop offset=".929" stop-color="#f1cdba"/><stop offset="1" stop-color="#edd1c2"/></linearGradient><linearGradient id="l403"><stop offset="0" stop-color="#dddcdc"/><stop offset=".071" stop-color="#c7d7f0"/><stop offset=".143" stop-color="#bad0f8"/><stop offset=".214" stop-color="#b9d0f9"/><stop offset=".286" stop-color="#c6d6f1"/><stop offset=".357" stop-color="#dedcdb"/><stop offset=".429" stop-color="#f2cbb7"/><stop offset=".5" stop-color="#f7ba9f"/><stop offset=".571" stop-color="#f7b396"/><stop offset=".643" stop-color="#f7b599"/><stop offset=".714" stop-color="#f6bda2"/><stop offset=".786" stop-color="#f4c5ad"/><stop offset=".857" stop-color="#f2cbb7"/><stop offset=".929" stop-color="#efcebd"/><stop offset="1" stop-color="#efcfbf"/></linearGradient><linearGradient id="l404"><stop offset="0" stop-color="#dddcdc"/><stop offset=".071" stop-color="#c7d7f0"/><stop offset=".143" stop-color="#bad0f8"/><stop offset=".214" stop-color="#b9d0f9"/><stop offset=".286" stop-color="#c6d6f1"/><stop offset=".357" stop-color="#dedcdb"/><stop offset=".429" stop-color="#f2cbb7"/><stop offset=".5" stop-color="#f7ba9f"/><stop offset=".571" stop-color="#f7b396"/><stop offset=".643" stop-color="#f7b599"/><stop offset=".714" stop-color="#f6bda2"/><stop offset=".786" stop-color="#f4c5ad"/><stop offset=".857" stop-color="#f2cbb7"/><stop offset=".929" stop-color="#efcebd"/><stop offset="1" stop-color="#efcfbf"/></linearGradient><clipPath id="c405"><polygon points="100.5,1313 45.3,1342.4 43.9,1393.5 100.5,1365.5"/></clipPath><filter id="f406" x="-5%" y="-20%" width="110%" height="140%"><feGaussianBlur stdDeviation="0 8.05"/></filter><linearGradient id="l407"><stop offset="0" stop-color="#f2cbb7"/><stop offset=".071" stop-color="#f4c5ad"/><stop offset=".143" stop-color="#f4c6af"/><stop offset=".214" stop-color="#f2cab5"/><stop offset=".286" stop-color="#efcfbf"/><stop offset=".357" stop-color="#ead5c9"/><stop offset=".429" stop-color="#dcdddd"/><stop offset=".5" stop-color="#c1d4f4"/><stop offset=".571" stop-color="#a5c3fe"/><stop offset=".643" stop-color="#9bbcff"/><stop offset=".714" stop-color="#9ebeff"/><stop offset=".786" stop-color="#a6c4fe"/><stop offset=".857" stop-color="#afcafc"/><stop offset=".929" stop-color="#bed2f6"/><stop offset="1" stop-color="#cfdaea"/></linearGradient><linearGradient id="l408"><stop offset="0" stop-color="#f2cbb7"/><stop offset=".071" stop-color="#f4c5ad"/><stop offset=".143" stop-color="#f4c6af"/><stop offset=".214" stop-color="#f2cab5"/><stop offset=".286" stop-color="#efcfbf"/><stop offset=".357" stop-color="#ead5c9"/><stop offset=".429" stop-color="#dcdddd"/><stop offset=".5" stop-color="#c1d4f4"/><stop offset=".571" stop-color="#a5c3fe"/><stop offset=".643" stop-color="#9bbcff"/><stop offset=".714" stop-color="#9ebeff"/><stop offset=".786" stop-color="#a6c4fe"/><stop offset=".857" stop-color="#afcafc"/><stop offset=".929" stop-color="#bed2f6"/><stop offset="1" stop-color="#cfdaea"/></linearGradient><linearGradient id="l409"><stop offset="0" stop-color="#f2cbb7"/><stop offset=".071" stop-color="#f4c5ad"/><stop offset=".143" stop-color="#f4c6af"/><stop offset=".214" stop-color="#f2cab5"/><stop offset=".286" stop-color="#efcfbf"/><stop offset=".357" stop-color="#ead5c9"/><stop offset=".429" stop-color="#dcdddd"/><stop offset=".5" stop-color="#c1d4f4"/><stop offset=".571" stop-color="#a5c3fe"/><stop offset=".643" stop-color="#9bbcff"/><stop offset=".714" stop-color="#9ebeff"/><stop offset=".786" stop-color="#a6c4fe"/><stop offset=".857" stop-color="#afcafc"/><stop offset=".929" stop-color="#bed2f6"/><stop offset="1" stop-color="#cfdaea"/></linearGradient><linearGradient id="l410"><stop offset="0" stop-color="#f2cbb7"/><stop offset=".071" stop-color="#f4c5ad"/><stop offset=".143" stop-color="#f4c6af"/><stop offset=".214" stop-color="#f2cab5"/><stop offset=".286" stop-color="#efcfbf"/><stop offset=".357" stop-color="#ead5c9"/><stop offset=".429" stop-color="#dcdddd"/><stop offset=".5" stop-color="#c1d4f4"/><stop offset=".571" stop-color="#a5c3fe"/><stop offset=".643" stop-color="#9bbcff"/><stop offset=".714" stop-color="#9ebeff"/><stop offset=".786" stop-color="#a6c4fe"/><stop offset=".857" stop-color="#afcafc"/><stop offset=".929" stop-color="#bed2f6"/><stop offset="1" stop-color="#cfdaea"/></linearGradient><linearGradient id="l411"><stop offset="0" stop-color="#f2cbb7"/><stop offset=".071" stop-color="#f4c5ad"/><stop offset=".143" stop-color="#f4c6af"/><stop offset=".214" stop-color="#f2cab5"/><stop offset=".286" stop-color="#efcfbf"/><stop offset=".357" stop-color="#ead5c9"/><stop offset=".429" stop-color="#dcdddd"/><stop offset=".5" stop-color="#c1d4f4"/><stop offset=".571" stop-color="#a5c3fe"/><stop offset=".643" stop-color="#9bbcff"/><stop offset=".714" stop-color="#9ebeff"/><stop offset=".786" stop-color="#a6c4fe"/><stop offset=".857" stop-color="#afcafc"/><stop offset=".929" stop-color="#bed2f6"/><stop offset="1" stop-color="#cfdaea"/></linearGradient><linearGradient id="l412"><stop offset="0" stop-color="#f2cbb7"/><stop offset=".071" stop-color="#f4c5ad"/><stop offset=".143" stop-color="#f4c6af"/><stop offset=".214" stop-color="#f2cab5"/><stop offset=".286" stop-color="#efcfbf"/><stop offset=".357" stop-color="#ead5c9"/><stop offset=".429" stop-color="#dcdddd"/><stop offset=".5" stop-color="#c1d4f4"/><stop offset=".571" stop-color="#a5c3fe"/><stop offset=".643" stop-color="#9bbcff"/><stop offset=".714" stop-color="#9ebeff"/><stop offset=".786" stop-color="#a6c4fe"/><stop offset=".857" stop-color="#afcafc"/><stop offset=".929" stop-color="#bed2f6"/><stop offset="1" stop-color="#cfdaea"/></linearGradient><linearGradient id="l413"><stop offset="0" stop-color="#f2cbb7"/><stop offset=".071" stop-color="#f4c5ad"/><stop offset=".143" stop-color="#f4c6af"/><stop offset=".214" stop-color="#f2cab5"/><stop offset=".286" stop-color="#efcfbf"/><stop offset=".357" stop-color="#ead5c9"/><stop offset=".429" stop-color="#dcdddd"/><stop offset=".5" stop-color="#c1d4f4"/><stop offset=".571" stop-color="#a5c3fe"/><stop offset=".643" stop-color="#9bbcff"/><stop offset=".714" stop-color="#9ebeff"/><stop offset=".786" stop-color="#a6c4fe"/><stop offset=".857" stop-color="#afcafc"/><stop offset=".929" stop-color="#bed2f6"/><stop offset="1" stop-color="#cfdaea"/></linearGradient><linearGradient id="l414"><stop offset="0" stop-color="#f2cbb7"/><stop offset=".071" stop-color="#f4c5ad"/><stop offset=".143" stop-color="#f4c6af"/><stop offset=".214" stop-color="#f2cab5"/><stop offset=".286" stop-color="#efcfbf"/><stop offset=".357" stop-color="#ead5c9"/><stop offset=".429" stop-color="#dcdddd"/><stop offset=".5" stop-color="#c1d4f4"/><stop offset=".571" stop-color="#a5c3fe"/><stop offset=".643" stop-color="#9bbcff"/><stop offset=".714" stop-color="#9ebeff"/><stop offset=".786" stop-color="#a6c4fe"/><stop offset=".857" stop-color="#afcafc"/><stop offset=".929" stop-color="#bed2f6"/><stop offset="1" stop-color="#cfdaea"/></linearGradient><clipPath id="c415"><polygon points="100.5,1313 100.5,1365.5 156.7,1394.1 154.7,1343"/></clipPath><filter id="f416" x="-5%" y="-20%" width="110%" height="140%"><feGaussianBlur stdDeviation="0 8.11"/></filter><linearGradient id="l417"><stop offset="0" stop-color="#dddcdc"/><stop offset=".071" stop-color="#f7af91"/><stop offset=".143" stop-color="#ee8468"/><stop offset=".214" stop-color="#e67259"/><stop offset=".286" stop-color="#ea7b60"/><stop offset=".357" stop-color="#f29274"/><stop offset=".429" stop-color="#f7ac8e"/><stop offset=".5" stop-color="#f5c2aa"/><stop offset=".571" stop-color="#e9d5cb"/><stop offset=".643" stop-color="#cfdaea"/><stop offset=".714" stop-color="#afcafc"/><stop offset=".786" stop-color="#94b6ff"/><stop offset=".857" stop-color="#82a6fb"/><stop offset=".929" stop-color="#779af7"/><stop offset="1" stop-color="#7597f6"/></linearGradient><linearGradient id="l418"><stop offset="0" stop-color="#dddcdc"/><stop offset=".071" stop-color="#f7af91"/><stop offset=".143" stop-color="#ee8468"/><stop offset=".214" stop-color="#e67259"/><stop offset=".286" stop-color="#ea7b60"/><stop offset=".357" stop-color="#f29274"/><stop offset=".429" stop-color="#f7ac8e"/><stop offset=".5" stop-color="#f5c2aa"/><stop offset=".571" stop-color="#e9d5cb"/><stop offset=".643" stop-color="#cfdaea"/><stop offset=".714" stop-color="#afcafc"/><stop offset=".786" stop-color="#94b6ff"/><stop offset=".857" stop-color="#82a6fb"/><stop offset=".929" stop-color="#779af7"/><stop offset="1" stop-color="#7597f6"/></linearGradient><linearGradient id="l419"><stop offset="0" stop-color="#dfdbd9"/><stop offset=".071" stop-color="#f7b093"/><stop offset=".143" stop-color="#ef886b"/><stop offset=".214" stop-color="#e9785d"/><stop offset=".286" stop-color="#ec7f63"/><stop offset=".357" stop-color="#f39475"/><stop offset=".429" stop-color="#f7ac8e"/><stop offset=".5" stop-color="#f5c1a9"/><stop offset=".571" stop-color="#ecd3c5"/><stop offset=".643" stop-color="#d6dce4"/><stop offset=".714" stop-color="#bcd2f7"/><stop offset=".786" stop-color="#a6c4fe"/><stop offset=".857" stop-color="#96b7ff"/><stop offset=".929" stop-color="#8caffe"/><stop offset="1" stop-color="#86a9fc"/></linearGradient><linearGradient id="l420"><stop offset="0" stop-color="#e2dad5"/><stop offset=".071" stop-color="#f7b194"/><stop offset=".143" stop-color="#f18d6f"/><stop offset=".214" stop-color="#eb7d62"/><stop offset=".286" stop-color="#ed8366"/><stop offset=".357" stop-color="#f39577"/><stop offset=".429" stop-color="#f7ac8e"/><stop offset=".5" stop-color="#f6bfa6"/><stop offset=".571" stop-color="#eed0c0"/><stop offset=".643" stop-color="#dddcdc"/><stop offset=".714" stop-color="#cad8ef"/><stop offset=".786" stop-color="#b7cff9"/><stop offset=".857" stop-color="#a9c6fd"/><stop offset=".929" stop-color="#a1c0ff"/><stop offset="1" stop-color="#9abbff"/></linearGradient><linearGradient id="l421"><stop offset="0" stop-color="#e4d9d2"/><stop offset=".071" stop-color="#f7b396"/><stop offset=".143" stop-color="#f29072"/><stop offset=".214" stop-color="#ec8165"/><stop offset=".286" stop-color="#ee8669"/><stop offset=".357" stop-color="#f39778"/><stop offset=".429" stop-color="#f7ac8e"/><stop offset=".5" stop-color="#f6bea4"/><stop offset=".571" stop-color="#f1cdba"/><stop offset=".643" stop-color="#e4d9d2"/><stop offset=".714" stop-color="#d5dbe5"/><stop offset=".786" stop-color="#c7d7f0"/><stop offset=".857" stop-color="#bcd2f7"/><stop offset=".929" stop-color="#b3cdfb"/><stop offset="1" stop-color="#adc9fd"/></linearGradient><linearGradient id="l422"><stop offset="0" stop-color="#e7d7ce"/><stop offset=".071" stop-color="#f7b497"/><stop offset=".143" stop-color="#f39577"/><stop offset=".214" stop-color="#ee8669"/><stop offset=".286" stop-color="#f08a6c"/><stop offset=".357" stop-color="#f4987a"/><stop offset=".429" stop-color="#f7ac8e"/><stop offset=".5" stop-color="#f7bca1"/><stop offset=".571" stop-color="#f2c9b4"/><stop offset=".643" stop-color="#ead4c8"/><stop offset=".714" stop-color="#dfdbd9"/><stop offset=".786" stop-color="#d6dce4"/><stop offset=".857" stop-color="#cdd9ec"/><stop offset=".929" stop-color="#c6d6f1"/><stop offset="1" stop-color="#bfd3f6"/></linearGradient><linearGradient id="l423"><stop offset="0" stop-color="#e9d5cb"/><stop offset=".071" stop-color="#f7b599"/><stop offset=".143" stop-color="#f4987a"/><stop offset=".214" stop-color="#f08b6e"/><stop offset=".286" stop-color="#f18d6f"/><stop offset=".357" stop-color="#f49a7b"/><stop offset=".429" stop-color="#f7ac8e"/><stop offset=".5" stop-color="#f7ba9f"/><stop offset=".571" stop-color="#f4c6af"/><stop offset=".643" stop-color="#efcebd"/><stop offset=".714" stop-color="#e9d5cb"/><stop offset=".786" stop-color="#e2dad5"/><stop offset=".857" stop-color="#dddcdc"/><stop offset=".929" stop-color="#d7dce3"/><stop offset="1" stop-color="#cfdaea"/></linearGradient><linearGradient id="l424"><stop offset="0" stop-color="#e9d5cb"/><stop offset=".071" stop-color="#f7b599"/><stop offset=".143" stop-color="#f4987a"/><stop offset=".214" stop-color="#f08b6e"/><stop offset=".286" stop-color="#f18d6f"/><stop offset=".357" stop-color="#f49a7b"/><stop offset=".429" stop-color="#f7ac8e"/><stop offset=".5" stop-color="#f7ba9f"/><stop offset=".571" stop-color="#f4c6af"/><stop offset=".643" stop-color="#efcebd"/><stop offset=".714" stop-color="#e9d5cb"/><stop offset=".786" stop-color="#e2dad5"/><stop offset=".857" stop-color="#dddcdc"/><stop offset=".929" stop-color="#d7dce3"/><stop offset="1" stop-color="#cfdaea"/></linearGradient><clipPath id="c425"><polygon points="100.5,1365.5 43.9,1393.5 100.5,1418.6 156.7,1394.1"/></clipPath><filter id="f426" x="-5%" y="-20%" width="110%" height="140%"><feGaussianBlur stdDeviation="0 3.32"/></filter><linearGradient id="l427"><stop offset="0" stop-color="#e9d5cb"/><stop offset=".062" stop-color="#e9d5cb"/><stop offset=".125" stop-color="#e9d5cb"/><stop offset=".188" stop-color="#e9d5cb"/><stop offset=".25" stop-color="#e9d5cb"/><stop offset=".312" stop-color="#e9d5cb"/><stop offset=".375" stop-color="#e9d5cb"/><stop offset=".438" stop-color="#ecd3c5"/><stop offset=".5" stop-color="#f4c6af"/><stop offset=".562" stop-color="#f6a385"/><stop offset=".625" stop-color="#ee8468"/><stop offset=".688" stop-color="#f08b6e"/><stop offset=".75" stop-color="#f6a586"/><stop offset=".812" stop-color="#f7b599"/><stop offset=".875" stop-color="#f6bda2"/><stop offset=".938" stop-color="#f5c2aa"/><stop offset="1" stop-color="#f2cbb7"/></linearGradient><linearGradient id="l428"><stop offset="0" stop-color="#e9d5cb"/><stop offset=".062" stop-color="#e9d5cb"/><stop offset=".125" stop-color="#e9d5cb"/><stop offset=".188" stop-color="#e9d5cb"/><stop offset=".25" stop-color="#e9d5cb"/><stop offset=".312" stop-color="#e9d5cb"/><stop offset=".375" stop-color="#e9d5cb"/><stop offset=".438" stop-color="#ecd3c5"/><stop offset=".5" stop-color="#f4c6af"/><stop offset=".562" stop-color="#f6a385"/><stop offset=".625" stop-color="#ee8468"/><stop offset=".688" stop-color="#f08b6e"/><stop offset=".75" stop-color="#f6a586"/><stop offset=".812" stop-color="#f7b599"/><stop offset=".875" stop-color="#f6bda2"/><stop offset=".938" stop-color="#f5c2aa"/><stop offset="1" stop-color="#f2cbb7"/></linearGradient><linearGradient id="l429"><stop offset="0" stop-color="#dddcdc"/><stop offset=".062" stop-color="#d5dbe5"/><stop offset=".125" stop-color="#d5dbe5"/><stop offset=".188" stop-color="#dbdcde"/><stop offset=".25" stop-color="#e3d9d3"/><stop offset=".312" stop-color="#ead5c9"/><stop offset=".375" stop-color="#edd2c3"/><stop offset=".438" stop-color="#eed0c0"/><stop offset=".5" stop-color="#f3c7b1"/><stop offset=".562" stop-color="#f7a889"/><stop offset=".625" stop-color="#ef886b"/><stop offset=".688" stop-color="#f29274"/><stop offset=".75" stop-color="#f7ad90"/><stop offset=".812" stop-color="#f7bca1"/><stop offset=".875" stop-color="#f5c2aa"/><stop offset=".938" stop-color="#f4c6af"/><stop offset="1" stop-color="#f1ccb8"/></linearGradient><linearGradient id="l430"><stop offset="0" stop-color="#e9d5cb"/><stop offset=".062" stop-color="#e9d5cb"/><stop offset=".125" stop-color="#e9d5cb"/><stop offset=".188" stop-color="#e9d5cb"/><stop offset=".25" stop-color="#e9d5cb"/><stop offset=".312" stop-color="#e9d5cb"/><stop offset=".375" stop-color="#e9d5cb"/><stop offset=".438" stop-color="#ebd3c6"/><stop offset=".5" stop-color="#f2cbb7"/><stop offset=".562" stop-color="#f7b194"/><stop offset=".625" stop-color="#f49a7b"/><stop offset=".688" stop-color="#f59c7d"/><stop offset=".75" stop-color="#f7ac8e"/><stop offset=".812" stop-color="#f7b89c"/><stop offset=".875" stop-color="#f5c0a7"/><stop offset=".938" stop-color="#f4c6af"/><stop offset="1" stop-color="#f2cbb7"/></linearGradient><linearGradient id="l431"><stop offset="0" stop-color="#f6bda2"/><stop offset=".062" stop-color="#f7ac8e"/><stop offset=".125" stop-color="#f7aa8c"/><stop offset=".188" stop-color="#f7b79b"/><stop offset=".25" stop-color="#f4c6af"/><stop offset=".312" stop-color="#ecd3c5"/><stop offset=".375" stop-color="#e4d9d2"/><stop offset=".438" stop-color="#e5d8d1"/><stop offset=".5" stop-color="#eed0c0"/><stop offset=".562" stop-color="#f6bfa6"/><stop offset=".625" stop-color="#f7ad90"/><stop offset=".688" stop-color="#f6a586"/><stop offset=".75" stop-color="#f7a889"/><stop offset=".812" stop-color="#f7b093"/><stop offset=".875" stop-color="#f7b99e"/><stop offset=".938" stop-color="#f5c2aa"/><stop offset="1" stop-color="#f3c8b2"/></linearGradient><linearGradient id="l432"><stop offset="0" stop-color="#f4987a"/><stop offset=".062" stop-color="#e67259"/><stop offset=".125" stop-color="#e36c55"/><stop offset=".188" stop-color="#ed8366"/><stop offset=".25" stop-color="#f6a586"/><stop offset=".312" stop-color="#f4c5ad"/><stop offset=".375" stop-color="#e9d5cb"/><stop offset=".438" stop-color="#e4d9d2"/><stop offset=".5" stop-color="#e9d5cb"/><stop offset=".562" stop-color="#f1ccb8"/><stop offset=".625" stop-color="#f6bda2"/><stop offset=".688" stop-color="#f7ad90"/><stop offset=".75" stop-color="#f6a586"/><stop offset=".812" stop-color="#f7a98b"/><stop offset=".875" stop-color="#f7b396"/><stop offset=".938" stop-color="#f6bfa6"/><stop offset="1" stop-color="#f4c6af"/></linearGradient><linearGradient id="l433"><stop offset="0" stop-color="#ea7b60"/><stop offset=".062" stop-color="#d65244"/><stop offset=".125" stop-color="#cd423b"/><stop offset=".188" stop-color="#d44e41"/><stop offset=".25" stop-color="#e57058"/><stop offset=".312" stop-color="#f59c7d"/><stop offset=".375" stop-color="#f5c1a9"/><stop offset=".438" stop-color="#ead4c8"/><stop offset=".5" stop-color="#e3d9d3"/><stop offset=".562" stop-color="#ead4c8"/><stop offset=".625" stop-color="#f4c6af"/><stop offset=".688" stop-color="#f7b396"/><stop offset=".75" stop-color="#f7a688"/><stop offset=".812" stop-color="#f7a889"/><stop offset=".875" stop-color="#f7b194"/><stop offset=".938" stop-color="#f6bda2"/><stop offset="1" stop-color="#f4c5ad"/></linearGradient><linearGradient id="l434"><stop offset="0" stop-color="#e36c55"/><stop offset=".062" stop-color="#d55042"/><stop offset=".125" stop-color="#c53334"/><stop offset=".188" stop-color="#be242e"/><stop offset=".25" stop-color="#c53334"/><stop offset=".312" stop-color="#de614d"/><stop offset=".375" stop-color="#f4987a"/><stop offset=".438" stop-color="#f2cbb7"/><stop offset=".5" stop-color="#dddcdc"/><stop offset=".562" stop-color="#e2dad5"/><stop offset=".625" stop-color="#f2cbb7"/><stop offset=".688" stop-color="#f7b89c"/><stop offset=".75" stop-color="#f7ac8e"/><stop offset=".812" stop-color="#f7ac8e"/><stop offset=".875" stop-color="#f7b396"/><stop offset=".938" stop-color="#f6bda2"/><stop offset="1" stop-color="#f4c6af"/></linearGradient><linearGradient id="l435"><stop offset="0" stop-color="#e26952"/><stop offset=".062" stop-color="#d75445"/><stop offset=".125" stop-color="#c73635"/><stop offset=".188" stop-color="#b8122a"/><stop offset=".25" stop-color="#b40426"/><stop offset=".312" stop-color="#c12b30"/><stop offset=".375" stop-color="#e67259"/><stop offset=".438" stop-color="#f5c2aa"/><stop offset=".5" stop-color="#d6dce4"/><stop offset=".562" stop-color="#d9dce1"/><stop offset=".625" stop-color="#efcfbf"/><stop offset=".688" stop-color="#f6bea4"/><stop offset=".75" stop-color="#f7b497"/><stop offset=".812" stop-color="#f7b396"/><stop offset=".875" stop-color="#f7b89c"/><stop offset=".938" stop-color="#f6bfa6"/><stop offset="1" stop-color="#f3c8b2"/></linearGradient><linearGradient id="l436"><stop offset="0" stop-color="#e36c55"/><stop offset=".062" stop-color="#cf453c"/><stop offset=".125" stop-color="#c53334"/><stop offset=".188" stop-color="#c53334"/><stop offset=".25" stop-color="#c53334"/><stop offset=".312" stop-color="#ca3b37"/><stop offset=".375" stop-color="#e36c55"/><stop offset=".438" stop-color="#f5c1a9"/><stop offset=".5" stop-color="#cfdaea"/><stop offset=".562" stop-color="#cfdaea"/><stop offset=".625" stop-color="#e9d5cb"/><stop offset=".688" stop-color="#f4c6af"/><stop offset=".75" stop-color="#f6bda2"/><stop offset=".812" stop-color="#f7ba9f"/><stop offset=".875" stop-color="#f6bda2"/><stop offset=".938" stop-color="#f5c2aa"/><stop offset="1" stop-color="#f2cbb7"/></linearGradient><linearGradient id="l437"><stop offset="0" stop-color="#e36c55"/><stop offset=".062" stop-color="#cf453c"/><stop offset=".125" stop-color="#c53334"/><stop offset=".188" stop-color="#c53334"/><stop offset=".25" stop-color="#c53334"/><stop offset=".312" stop-color="#ca3b37"/><stop offset=".375" stop-color="#e36c55"/><stop offset=".438" stop-color="#f5c1a9"/><stop offset=".5" stop-color="#cfdaea"/><stop offset=".562" stop-color="#cfdaea"/><stop offset=".625" stop-color="#e9d5cb"/><stop offset=".688" stop-color="#f4c6af"/><stop offset=".75" stop-color="#f6bda2"/><stop offset=".812" stop-color="#f7ba9f"/><stop offset=".875" stop-color="#f6bda2"/><stop offset=".938" stop-color="#f5c2aa"/><stop offset="1" stop-color="#f2cbb7"/></linearGradient><linearGradient id="cb438" x1="0" y1="0" x2="0" y2="1"><stop offset="0" stop-color="#b40426"/><stop offset="0.05" stop-color="#c53334"/><stop offset="0.1" stop-color="#d65244"/><stop offset="0.15" stop-color="#e36c55"/><stop offset="0.2" stop-color="#ee8468"/><stop offset="0.25" stop-color="#f4987a"/><stop offset="0.3" stop-color="#f7ac8e"/><stop offset="0.35" stop-color="#f6bda2"/><stop offset="0.4" stop-color="#f2cbb7"/><stop offset="0.45" stop-color="#e9d5cb"/><stop offset="0.5" stop-color="#dddcdc"/><stop offset="0.55" stop-color="#cfdaea"/><stop offset="0.6" stop-color="#c0d4f5"/><stop offset="0.65" stop-color="#afcafc"/><stop offset="0.7" stop-color="#9ebeff"/><stop offset="0.75" stop-color="#8db0fe"/><stop offset="0.8" stop-color="#7b9ff9"/><stop offset="0.85" stop-color="#6a8bef"/><stop offset="0.9" stop-color="#5977e3"/><stop offset="0.95" stop-color="#4961d2"/><stop offset="1" stop-color="#3b4cc0"/></linearGradient><linearGradient id="cb439" x1="0" y1="0" x2="0" y2="1"><stop offset="0" stop-color="#b40426"/><stop offset="0.05" stop-color="#c53334"/><stop offset="0.1" stop-color="#d65244"/><stop offset="0.15" stop-color="#e36c55"/><stop offset="0.2" stop-color="#ee8468"/><stop offset="0.25" stop-color="#f4987a"/><stop offset="0.3" stop-color="#f7ac8e"/><stop offset="0.35" stop-color="#f6bda2"/><stop offset="0.4" stop-color="#f2cbb7"/><stop offset="0.45" stop-color="#e9d5cb"/><stop offset="0.5" stop-color="#dddcdc"/><stop offset="0.55" stop-color="#cfdaea"/><stop offset="0.6" stop-color="#c0d4f5"/><stop offset="0.65" stop-color="#afcafc"/><stop offset="0.7" stop-color="#9ebeff"/><stop offset="0.75" stop-color="#8db0fe"/><stop offset="0.8" stop-color="#7b9ff9"/><stop offset="0.85" stop-color="#6a8bef"/><stop offset="0.9" stop-color="#5977e3"/><stop offset="0.95" stop-color="#4961d2"/><stop offset="1" stop-color="#3b4cc0"/></linearGradient></defs>
<rect width="685" height="1427" fill="#fff"/>
<text x="9.8" y="10.3" font-size="10.6" font-weight="bold">(A) Model progression</text><text x="347.3" y="9.9" font-size="10.6" text-anchor="middle">Subject 1</text><text x="9.6" y="185.8" font-size="10.6" font-weight="bold">(B) Final data-driven model</text><text x="261.2" y="185.8" font-size="10.6" font-weight="bold">(C) Comparison between clinical setting and gait-optimized setting</text><rect x="15" y="15" width="167.2" height="153" fill="#f4f4e6"/><text x="98.6" y="26.5" font-size="9.6" text-anchor="middle">Visit 1</text><text x="93.7" y="41.2" font-size="8" text-anchor="middle">Projected WPI</text><g clip-path="url(#c1)"><g filter="url(#f2)"><rect x="47.6" y="32.11" width="92.2" height="8.93" fill="url(#l3)"/><rect x="47.6" y="40.44" width="92.2" height="8.93" fill="url(#l4)"/><rect x="47.6" y="48.76" width="92.2" height="8.93" fill="url(#l5)"/><rect x="47.6" y="57.09" width="92.2" height="8.93" fill="url(#l6)"/><rect x="47.6" y="65.41" width="92.2" height="8.93" fill="url(#l7)"/><rect x="47.6" y="73.74" width="92.2" height="8.93" fill="url(#l8)"/><rect x="47.6" y="82.06" width="92.2" height="8.93" fill="url(#l9)"/><rect x="47.6" y="90.39" width="92.2" height="8.93" fill="url(#l10)"/><rect x="47.6" y="98.71" width="92.2" height="8.93" fill="url(#l11)"/><rect x="47.6" y="107.04" width="92.2" height="8.93" fill="url(#l12)"/><rect x="47.6" y="115.36" width="92.2" height="8.93" fill="url(#l13)"/><rect x="47.6" y="123.69" width="92.2" height="8.93" fill="url(#l14)"/><rect x="47.6" y="132.01" width="92.2" height="8.93" fill="url(#l15)"/><rect x="47.6" y="140.34" width="92.2" height="8.93" fill="url(#l16)"/><rect x="47.6" y="148.66" width="92.2" height="8.93" fill="url(#l17)"/></g></g><rect x="48.6" y="44.9" width="90.2" height="99.9" fill="none" stroke="#333" stroke-width="0.8"/><line x1="46.3" y1="60.3" x2="48.6" y2="60.3" stroke="#333" stroke-width="0.6"/><text x="44.8" y="62.6" font-size="6.6" text-anchor="end">5.5</text><line x1="46.3" y1="86.5" x2="48.6" y2="86.5" stroke="#333" stroke-width="0.6"/><text x="44.8" y="88.8" font-size="6.6" text-anchor="end">5.0</text><line x1="46.3" y1="112.8" x2="48.6" y2="112.8" stroke="#333" stroke-width="0.6"/><text x="44.8" y="115.1" font-size="6.6" text-anchor="end">4.5</text><line x1="46.3" y1="139.2" x2="48.6" y2="139.2" stroke="#333" stroke-width="0.6"/><text x="44.8" y="141.5" font-size="6.6" text-anchor="end">4.0</text><line x1="75.7" y1="144.8" x2="75.7" y2="147.1" stroke="#333" stroke-width="0.6"/><text x="75.7" y="154.6" font-size="6.6" text-anchor="middle">100</text><line x1="106.8" y1="144.8" x2="106.8" y2="147.1" stroke="#333" stroke-width="0.6"/><text x="106.8" y="154.6" font-size="6.6" text-anchor="middle">150</text><line x1="137.9" y1="144.8" x2="137.9" y2="147.1" stroke="#333" stroke-width="0.6"/><text x="137.9" y="154.6" font-size="6.6" text-anchor="middle">200</text><text x="93.7" y="163.2" font-size="6.6" text-anchor="middle">Frequency (Hz)</text><text x="31.3" y="94.85" font-size="6.6" text-anchor="middle" transform="rotate(-90 31.3 94.85)">Amplitude (mA)</text><rect x="144.1" y="44.9" width="5.4" height="99.9" fill="url(#cb18)" stroke="#333" stroke-width="0.6"/><line x1="149.5" y1="55.1" x2="151.7" y2="55.1" stroke="#333" stroke-width="0.6"/><text x="153.4" y="57.41" font-size="6.6">High</text><line x1="149.5" y1="94.9" x2="151.7" y2="94.9" stroke="#333" stroke-width="0.6"/><text x="153.4" y="97.21" font-size="6.6">Medium</text><line x1="149.5" y1="134.9" x2="151.7" y2="134.9" stroke="#333" stroke-width="0.6"/><text x="153.4" y="137.21" font-size="6.6">Low</text><rect x="182.2" y="15" width="165.7" height="153" fill="#e8f7f6"/><text x="265.05" y="26.5" font-size="9.6" text-anchor="middle">Visit 2</text><text x="259.7" y="41.2" font-size="8" text-anchor="middle">Projected WPI</text><g clip-path="url(#c19)"><g filter="url(#f20)"><rect x="213.6" y="32.11" width="92.2" height="8.93" fill="url(#l21)"/><rect x="213.6" y="40.44" width="92.2" height="8.93" fill="url(#l22)"/><rect x="213.6" y="48.76" width="92.2" height="8.93" fill="url(#l23)"/><rect x="213.6" y="57.09" width="92.2" height="8.93" fill="url(#l24)"/><rect x="213.6" y="65.41" width="92.2" height="8.93" fill="url(#l25)"/><rect x="213.6" y="73.74" width="92.2" height="8.93" fill="url(#l26)"/><rect x="213.6" y="82.06" width="92.2" height="8.93" fill="url(#l27)"/><rect x="213.6" y="90.39" width="92.2" height="8.93" fill="url(#l28)"/><rect x="213.6" y="98.71" width="92.2" height="8.93" fill="url(#l29)"/><rect x="213.6" y="107.04" width="92.2" height="8.93" fill="url(#l30)"/><rect x="213.6" y="115.36" width="92.2" height="8.93" fill="url(#l31)"/><rect x="213.6" y="123.69" width="92.2" height="8.93" fill="url(#l32)"/><rect x="213.6" y="132.01" width="92.2" height="8.93" fill="url(#l33)"/><rect x="213.6" y="140.34" width="92.2" height="8.93" fill="url(#l34)"/><rect x="213.6" y="148.66" width="92.2" height="8.93" fill="url(#l35)"/></g></g><rect x="214.6" y="44.9" width="90.2" height="99.9" fill="none" stroke="#333" stroke-width="0.8"/><line x1="212.3" y1="60.3" x2="214.6" y2="60.3" stroke="#333" stroke-width="0.6"/><text x="210.8" y="62.6" font-size="6.6" text-anchor="end">5.5</text><line x1="212.3" y1="86.5" x2="214.6" y2="86.5" stroke="#333" stroke-width="0.6"/><text x="210.8" y="88.8" font-size="6.6" text-anchor="end">5.0</text><line x1="212.3" y1="112.8" x2="214.6" y2="112.8" stroke="#333" stroke-width="0.6"/><text x="210.8" y="115.1" font-size="6.6" text-anchor="end">4.5</text><line x1="212.3" y1="139.2" x2="214.6" y2="139.2" stroke="#333" stroke-width="0.6"/><text x="210.8" y="141.5" font-size="6.6" text-anchor="end">4.0</text><line x1="241.7" y1="144.8" x2="241.7" y2="147.1" stroke="#333" stroke-width="0.6"/><text x="241.7" y="154.6" font-size="6.6" text-anchor="middle">100</text><line x1="272.8" y1="144.8" x2="272.8" y2="147.1" stroke="#333" stroke-width="0.6"/><text x="272.8" y="154.6" font-size="6.6" text-anchor="middle">150</text><line x1="303.9" y1="144.8" x2="303.9" y2="147.1" stroke="#333" stroke-width="0.6"/><text x="303.9" y="154.6" font-size="6.6" text-anchor="middle">200</text><text x="259.7" y="163.2" font-size="6.6" text-anchor="middle">Frequency (Hz)</text><text x="197.3" y="94.85" font-size="6.6" text-anchor="middle" transform="rotate(-90 197.3 94.85)">Amplitude (mA)</text><rect x="310.1" y="44.9" width="5.4" height="99.9" fill="url(#cb36)" stroke="#333" stroke-width="0.6"/><line x1="315.5" y1="55.1" x2="317.7" y2="55.1" stroke="#333" stroke-width="0.6"/><text x="319.4" y="57.41" font-size="6.6">High</text><line x1="315.5" y1="94.9" x2="317.7" y2="94.9" stroke="#333" stroke-width="0.6"/><text x="319.4" y="97.21" font-size="6.6">Medium</text><line x1="315.5" y1="134.9" x2="317.7" y2="134.9" stroke="#333" stroke-width="0.6"/><text x="319.4" y="137.21" font-size="6.6">Low</text><rect x="347.9" y="15" width="167.4" height="153" fill="#f3e6e6"/><text x="431.6" y="26.5" font-size="9.6" text-anchor="middle">Visit 3</text><text x="426.4" y="41.2" font-size="8" text-anchor="middle">Projected WPI</text><g clip-path="url(#c37)"><g filter="url(#f38)"><rect x="380.3" y="32.11" width="92.2" height="8.93" fill="url(#l39)"/><rect x="380.3" y="40.44" width="92.2" height="8.93" fill="url(#l40)"/><rect x="380.3" y="48.76" width="92.2" height="8.93" fill="url(#l41)"/><rect x="380.3" y="57.09" width="92.2" height="8.93" fill="url(#l42)"/><rect x="380.3" y="65.41" width="92.2" height="8.93" fill="url(#l43)"/><rect x="380.3" y="73.74" width="92.2" height="8.93" fill="url(#l44)"/><rect x="380.3" y="82.06" width="92.2" height="8.93" fill="url(#l45)"/><rect x="380.3" y="90.39" width="92.2" height="8.93" fill="url(#l46)"/><rect x="380.3" y="98.71" width="92.2" height="8.93" fill="url(#l47)"/><rect x="380.3" y="107.04" width="92.2" height="8.93" fill="url(#l48)"/><rect x="380.3" y="115.36" width="92.2" height="8.93" fill="url(#l49)"/><rect x="380.3" y="123.69" width="92.2" height="8.93" fill="url(#l50)"/><rect x="380.3" y="132.01" width="92.2" height="8.93" fill="url(#l51)"/><rect x="380.3" y="140.34" width="92.2" height="8.93" fill="url(#l52)"/><rect x="380.3" y="148.66" width="92.2" height="8.93" fill="url(#l53)"/></g></g><rect x="381.3" y="44.9" width="90.2" height="99.9" fill="none" stroke="#333" stroke-width="0.8"/><line x1="379" y1="60.3" x2="381.3" y2="60.3" stroke="#333" stroke-width="0.6"/><text x="377.5" y="62.6" font-size="6.6" text-anchor="end">5.5</text><line x1="379" y1="86.5" x2="381.3" y2="86.5" stroke="#333" stroke-width="0.6"/><text x="377.5" y="88.8" font-size="6.6" text-anchor="end">5.0</text><line x1="379" y1="112.8" x2="381.3" y2="112.8" stroke="#333" stroke-width="0.6"/><text x="377.5" y="115.1" font-size="6.6" text-anchor="end">4.5</text><line x1="379" y1="139.2" x2="381.3" y2="139.2" stroke="#333" stroke-width="0.6"/><text x="377.5" y="141.5" font-size="6.6" text-anchor="end">4.0</text><line x1="408.4" y1="144.8" x2="408.4" y2="147.1" stroke="#333" stroke-width="0.6"/><text x="408.4" y="154.6" font-size="6.6" text-anchor="middle">100</text><line x1="439.5" y1="144.8" x2="439.5" y2="147.1" stroke="#333" stroke-width="0.6"/><text x="439.5" y="154.6" font-size="6.6" text-anchor="middle">150</text><line x1="470.6" y1="144.8" x2="470.6" y2="147.1" stroke="#333" stroke-width="0.6"/><text x="470.6" y="154.6" font-size="6.6" text-anchor="middle">200</text><text x="426.4" y="163.2" font-size="6.6" text-anchor="middle">Frequency (Hz)</text><text x="364" y="94.85" font-size="6.6" text-anchor="middle" transform="rotate(-90 364 94.85)">Amplitude (mA)</text><rect x="476.8" y="44.9" width="5.4" height="99.9" fill="url(#cb54)" stroke="#333" stroke-width="0.6"/><line x1="482.2" y1="55.1" x2="484.4" y2="55.1" stroke="#333" stroke-width="0.6"/><text x="486.1" y="57.41" font-size="6.6">High</text><line x1="482.2" y1="94.9" x2="484.4" y2="94.9" stroke="#333" stroke-width="0.6"/><text x="486.1" y="97.21" font-size="6.6">Medium</text><line x1="482.2" y1="134.9" x2="484.4" y2="134.9" stroke="#333" stroke-width="0.6"/><text x="486.1" y="137.21" font-size="6.6">Low</text><rect x="515.3" y="15" width="167.7" height="153" fill="#c0c0c0"/><text x="599.15" y="26.5" font-size="9.6" text-anchor="middle">Visit 4</text><text x="593.9" y="41.2" font-size="8" text-anchor="middle">Projected WPI</text><g clip-path="url(#c55)"><g filter="url(#f56)"><rect x="547.8" y="32.11" width="92.2" height="8.93" fill="url(#l57)"/><rect x="547.8" y="40.44" width="92.2" height="8.93" fill="url(#l58)"/><rect x="547.8" y="48.76" width="92.2" height="8.93" fill="url(#l59)"/><rect x="547.8" y="57.09" width="92.2" height="8.93" fill="url(#l60)"/><rect x="547.8" y="65.41" width="92.2" height="8.93" fill="url(#l61)"/><rect x="547.8" y="73.74" width="92.2" height="8.93" fill="url(#l62)"/><rect x="547.8" y="82.06" width="92.2" height="8.93" fill="url(#l63)"/><rect x="547.8" y="90.39" width="92.2" height="8.93" fill="url(#l64)"/><rect x="547.8" y="98.71" width="92.2" height="8.93" fill="url(#l65)"/><rect x="547.8" y="107.04" width="92.2" height="8.93" fill="url(#l66)"/><rect x="547.8" y="115.36" width="92.2" height="8.93" fill="url(#l67)"/><rect x="547.8" y="123.69" width="92.2" height="8.93" fill="url(#l68)"/><rect x="547.8" y="132.01" width="92.2" height="8.93" fill="url(#l69)"/><rect x="547.8" y="140.34" width="92.2" height="8.93" fill="url(#l70)"/><rect x="547.8" y="148.66" width="92.2" height="8.93" fill="url(#l71)"/></g></g><rect x="548.8" y="44.9" width="90.2" height="99.9" fill="none" stroke="#333" stroke-width="0.8"/><line x1="546.5" y1="60.3" x2="548.8" y2="60.3" stroke="#333" stroke-width="0.6"/><text x="545" y="62.6" font-size="6.6" text-anchor="end">5.5</text><line x1="546.5" y1="86.5" x2="548.8" y2="86.5" stroke="#333" stroke-width="0.6"/><text x="545" y="88.8" font-size="6.6" text-anchor="end">5.0</text><line x1="546.5" y1="112.8" x2="548.8" y2="112.8" stroke="#333" stroke-width="0.6"/><text x="545" y="115.1" font-size="6.6" text-anchor="end">4.5</text><line x1="546.5" y1="139.2" x2="548.8" y2="139.2" stroke="#333" stroke-width="0.6"/><text x="545" y="141.5" font-size="6.6" text-anchor="end">4.0</text><line x1="575.9" y1="144.8" x2="575.9" y2="147.1" stroke="#333" stroke-width="0.6"/><text x="575.9" y="154.6" font-size="6.6" text-anchor="middle">100</text><line x1="607" y1="144.8" x2="607" y2="147.1" stroke="#333" stroke-width="0.6"/><text x="607" y="154.6" font-size="6.6" text-anchor="middle">150</text><line x1="638.1" y1="144.8" x2="638.1" y2="147.1" stroke="#333" stroke-width="0.6"/><text x="638.1" y="154.6" font-size="6.6" text-anchor="middle">200</text><text x="593.9" y="163.2" font-size="6.6" text-anchor="middle">Frequency (Hz)</text><text x="531.5" y="94.85" font-size="6.6" text-anchor="middle" transform="rotate(-90 531.5 94.85)">Amplitude (mA)</text><rect x="644.3" y="44.9" width="5.4" height="99.9" fill="url(#cb72)" stroke="#333" stroke-width="0.6"/><line x1="649.7" y1="55.1" x2="651.9" y2="55.1" stroke="#333" stroke-width="0.6"/><text x="653.6" y="57.41" font-size="6.6">High</text><line x1="649.7" y1="94.9" x2="651.9" y2="94.9" stroke="#333" stroke-width="0.6"/><text x="653.6" y="97.21" font-size="6.6">Medium</text><line x1="649.7" y1="134.9" x2="651.9" y2="134.9" stroke="#333" stroke-width="0.6"/><text x="653.6" y="137.21" font-size="6.6">Low</text><rect x="5.1" y="190.8" width="238.2" height="266.4" rx="9.5" fill="none" stroke="#777" stroke-width="1"/><rect x="256.4" y="190.2" width="424.1" height="266.2" rx="9.5" fill="none" stroke="#777" stroke-width="1"/><g clip-path="url(#c73)"><g filter="url(#f74)"><rect x="39.8" y="191.41" width="114.6" height="4.92" fill="url(#l75)"/><rect x="39.8" y="195.74" width="114.6" height="4.92" fill="url(#l76)"/><rect x="39.8" y="200.06" width="114.6" height="4.92" fill="url(#l77)"/><rect x="39.8" y="204.39" width="114.6" height="4.92" fill="url(#l78)"/><rect x="39.8" y="208.71" width="114.6" height="4.92" fill="url(#l79)"/><rect x="39.8" y="213.04" width="114.6" height="4.92" fill="url(#l80)"/><rect x="39.8" y="217.36" width="114.6" height="4.92" fill="url(#l81)"/><rect x="39.8" y="221.69" width="114.6" height="4.92" fill="url(#l82)"/><rect x="39.8" y="226.01" width="114.6" height="4.92" fill="url(#l83)"/><rect x="39.8" y="230.34" width="114.6" height="4.92" fill="url(#l84)"/><rect x="39.8" y="234.66" width="114.6" height="4.92" fill="url(#l85)"/><rect x="39.8" y="238.99" width="114.6" height="4.92" fill="url(#l86)"/><rect x="39.8" y="243.31" width="114.6" height="4.92" fill="url(#l87)"/><rect x="39.8" y="247.64" width="114.6" height="4.92" fill="url(#l88)"/><rect x="39.8" y="251.96" width="114.6" height="4.92" fill="url(#l89)"/></g></g><g clip-path="url(#c90)"><g filter="url(#f91)"><rect x="39.8" y="210.06" width="58.5" height="8.69" fill="url(#l92)"/><rect x="39.8" y="218.16" width="58.5" height="8.69" fill="url(#l93)"/><rect x="39.8" y="226.25" width="58.5" height="8.69" fill="url(#l94)"/><rect x="39.8" y="234.34" width="58.5" height="8.69" fill="url(#l95)"/><rect x="39.8" y="242.42" width="58.5" height="8.69" fill="url(#l96)"/><rect x="39.8" y="250.51" width="58.5" height="8.69" fill="url(#l97)"/><rect x="39.8" y="258.6" width="58.5" height="8.69" fill="url(#l98)"/><rect x="39.8" y="266.69" width="58.5" height="8.69" fill="url(#l99)"/><rect x="39.8" y="274.78" width="58.5" height="8.69" fill="url(#l100)"/><rect x="39.8" y="282.87" width="58.5" height="8.69" fill="url(#l101)"/><rect x="39.8" y="290.96" width="58.5" height="8.69" fill="url(#l102)"/><rect x="39.8" y="299.05" width="58.5" height="8.69" fill="url(#l103)"/><rect x="39.8" y="307.14" width="58.5" height="8.69" fill="url(#l104)"/></g></g><g clip-path="url(#c105)"><g filter="url(#f106)"><rect x="96.3" y="198.45" width="58.1" height="16.7" fill="url(#l107)"/><rect x="96.3" y="214.55" width="58.1" height="16.7" fill="url(#l108)"/><rect x="96.3" y="230.65" width="58.1" height="16.7" fill="url(#l109)"/><rect x="96.3" y="246.75" width="58.1" height="16.7" fill="url(#l110)"/><rect x="96.3" y="262.85" width="58.1" height="16.7" fill="url(#l111)"/><rect x="96.3" y="278.95" width="58.1" height="16.7" fill="url(#l112)"/><rect x="96.3" y="295.05" width="58.1" height="16.7" fill="url(#l113)"/><rect x="96.3" y="311.15" width="58.1" height="16.7" fill="url(#l114)"/></g></g><polygon points="40.8,222.5 97.1,198.2 153.4,222.9 97.3,250.1" fill="none" stroke="#555" stroke-width="0.7"/><polyline points="97.3,250.1 97.3,303.4" fill="none" stroke="#555" stroke-width="0.7"/><g clip-path="url(#c115)"><g filter="url(#f116)"><rect x="41.7" y="325.88" width="58.2" height="13.88" fill="url(#l117)"/><rect x="41.7" y="339.16" width="58.2" height="13.88" fill="url(#l118)"/><rect x="41.7" y="352.44" width="58.2" height="13.88" fill="url(#l119)"/><rect x="41.7" y="365.73" width="58.2" height="13.88" fill="url(#l120)"/><rect x="41.7" y="379.01" width="58.2" height="13.88" fill="url(#l121)"/><rect x="41.7" y="392.29" width="58.2" height="13.88" fill="url(#l122)"/><rect x="41.7" y="405.57" width="58.2" height="13.88" fill="url(#l123)"/><rect x="41.7" y="418.86" width="58.2" height="13.88" fill="url(#l124)"/><rect x="41.7" y="432.14" width="58.2" height="13.88" fill="url(#l125)"/></g></g><g clip-path="url(#c126)"><g filter="url(#f127)"><rect x="97.9" y="321.89" width="57.6" height="16.54" fill="url(#l128)"/><rect x="97.9" y="337.83" width="57.6" height="16.54" fill="url(#l129)"/><rect x="97.9" y="353.77" width="57.6" height="16.54" fill="url(#l130)"/><rect x="97.9" y="369.71" width="57.6" height="16.54" fill="url(#l131)"/><rect x="97.9" y="385.65" width="57.6" height="16.54" fill="url(#l132)"/><rect x="97.9" y="401.59" width="57.6" height="16.54" fill="url(#l133)"/><rect x="97.9" y="417.53" width="57.6" height="16.54" fill="url(#l134)"/><rect x="97.9" y="433.47" width="57.6" height="16.54" fill="url(#l135)"/></g></g><g clip-path="url(#c136)"><g filter="url(#f137)"><rect x="41.7" y="388.42" width="113.8" height="7.05" fill="url(#l138)"/><rect x="41.7" y="394.87" width="113.8" height="7.05" fill="url(#l139)"/><rect x="41.7" y="401.32" width="113.8" height="7.05" fill="url(#l140)"/><rect x="41.7" y="407.77" width="113.8" height="7.05" fill="url(#l141)"/><rect x="41.7" y="414.22" width="113.8" height="7.05" fill="url(#l142)"/><rect x="41.7" y="420.67" width="113.8" height="7.05" fill="url(#l143)"/><rect x="41.7" y="427.12" width="113.8" height="7.05" fill="url(#l144)"/><rect x="41.7" y="433.57" width="113.8" height="7.05" fill="url(#l145)"/><rect x="41.7" y="440.02" width="113.8" height="7.05" fill="url(#l146)"/><rect x="41.7" y="446.47" width="113.8" height="7.05" fill="url(#l147)"/><rect x="41.7" y="452.92" width="113.8" height="7.05" fill="url(#l148)"/></g></g><line x1="98.9" y1="398.4" x2="98.9" y2="346.1" stroke="#444" stroke-width="0.6" stroke-dasharray="2 1.3"/><line x1="98.9" y1="398.4" x2="42.7" y2="425.8" stroke="#444" stroke-width="0.6" stroke-dasharray="2 1.3"/><line x1="98.9" y1="398.4" x2="154.5" y2="425.8" stroke="#444" stroke-width="0.6" stroke-dasharray="2 1.3"/><polyline points="35.5,276.8 97.3,311.9 159.4,275.4 161.4,218.8" fill="none" stroke="#bbb" stroke-width="0.6"/><polyline points="35,430 37.3,372.1 98.9,337.9 160.1,372.6" fill="none" stroke="#bbb" stroke-width="0.6"/><text x="34.5" y="289.4" font-size="7.1" text-anchor="middle">5.5</text><text x="53.9" y="299.9" font-size="7.1" text-anchor="middle">5.0</text><text x="73.3" y="311.5" font-size="7.1" text-anchor="middle">4.5</text><text x="153.1" y="292.9" font-size="7.1" text-anchor="middle">75</text><text x="143.3" y="298.7" font-size="7.1" text-anchor="middle">100</text><text x="133.8" y="304.5" font-size="7.1" text-anchor="middle">125</text><text x="123.5" y="310.4" font-size="7.1" text-anchor="middle">150</text><text x="111.8" y="316.7" font-size="7.1" text-anchor="middle">175</text><text x="80.8" y="338.8" font-size="7.1" text-anchor="middle">75</text><text x="71" y="345.6" font-size="7.1" text-anchor="middle">100</text><text x="59.6" y="352.1" font-size="7.1" text-anchor="middle">125</text><text x="49.3" y="357.8" font-size="7.1" text-anchor="middle">150</text><text x="40.6" y="363.5" font-size="7.1" text-anchor="middle">175</text><text x="110" y="335.4" font-size="7.1" text-anchor="middle">5.5</text><text x="129" y="346.8" font-size="7.1" text-anchor="middle">5.0</text><text x="148.8" y="357.8" font-size="7.1" text-anchor="middle">4.5</text><text x="55" y="309.6" font-size="6.9" text-anchor="middle" transform="rotate(29 55 309.6)">Amplitude (mA)</text><text x="140" y="310.6" font-size="6.9" text-anchor="middle" transform="rotate(-30 140 310.6)">Frequency (Hz)</text><text x="56.4" y="342.7" font-size="6.9" text-anchor="middle" transform="rotate(-30 56.4 342.7)">Frequency (Hz)</text><text x="141" y="342.7" font-size="6.9" text-anchor="middle" transform="rotate(31 141 342.7)">Amplitude (mA)</text><text x="165.8" y="227.9" font-size="7.1">90</text><text x="165.13" y="240.7" font-size="7.1">85</text><text x="164.47" y="253.4" font-size="7.1">80</text><text x="163.82" y="266" font-size="7.1">75</text><text x="163.18" y="278.2" font-size="7.1">70</text><text x="24.4" y="380.5" font-size="7.1" text-anchor="middle">90</text><text x="23.86" y="393.1" font-size="7.1" text-anchor="middle">85</text><text x="23.32" y="405.6" font-size="7.1" text-anchor="middle">80</text><text x="22.8" y="417.7" font-size="7.1" text-anchor="middle">75</text><text x="22.19" y="431.8" font-size="7.1" text-anchor="middle">70</text><text x="181.5" y="248.4" font-size="6.9" text-anchor="middle" transform="rotate(-90 181.5 248.4)">Pulse width (<tspan font-style="italic">μ</tspan>s)</text><text x="17.5" y="402.7" font-size="6.9" text-anchor="middle" transform="rotate(-90 17.5 402.7)">Pulse width (<tspan font-style="italic">μ</tspan>s)</text><rect x="199.7" y="212" width="7.2" height="98.2" fill="url(#cb149)"/><line x1="206.9" y1="212.8" x2="208.1" y2="212.8" stroke="#333" stroke-width="0.6"/><text x="208.7" y="215.18" font-size="6.8">High</text><line x1="206.9" y1="261.7" x2="208.1" y2="261.7" stroke="#333" stroke-width="0.6"/><text x="208.7" y="264.08" font-size="6.8">Medium</text><line x1="206.9" y1="310.2" x2="208.1" y2="310.2" stroke="#333" stroke-width="0.6"/><text x="208.7" y="312.58" font-size="6.8">Low</text><rect x="199.7" y="347.2" width="7.2" height="97.4" fill="url(#cb150)"/><line x1="206.9" y1="347.6" x2="208.1" y2="347.6" stroke="#333" stroke-width="0.6"/><text x="208.7" y="349.98" font-size="6.8">High</text><line x1="206.9" y1="395.6" x2="208.1" y2="395.6" stroke="#333" stroke-width="0.6"/><text x="208.7" y="397.98" font-size="6.8">Medium</text><line x1="206.9" y1="444.6" x2="208.1" y2="444.6" stroke="#333" stroke-width="0.6"/><text x="208.7" y="446.98" font-size="6.8">Low</text><rect x="286.4" y="198" width="97.6" height="102.4" fill="#fff" stroke="#bbb" stroke-width="1"/><line x1="284.2" y1="208.5" x2="286.4" y2="208.5" stroke="#aaa" stroke-width="0.6"/><text x="283.5" y="210.95" font-size="6.9" text-anchor="end">1.4</text><line x1="284.2" y1="231.1" x2="286.4" y2="231.1" stroke="#aaa" stroke-width="0.6"/><text x="283.5" y="233.55" font-size="6.9" text-anchor="end">1.2</text><line x1="284.2" y1="254.5" x2="286.4" y2="254.5" stroke="#aaa" stroke-width="0.6"/><text x="283.5" y="256.95" font-size="6.9" text-anchor="end">1.0</text><line x1="284.2" y1="277.6" x2="286.4" y2="277.6" stroke="#aaa" stroke-width="0.6"/><text x="283.5" y="280.05" font-size="6.9" text-anchor="end">0.8</text><path d="M310.6,231.6 C310.78,232.92 311.05,237.47 311.7,239.5 C312.35,241.53 313.07,242.37 314.5,243.8 C315.93,245.23 318.5,246.67 320.3,248.1 C322.1,249.53 323.88,250.97 325.3,252.4 C326.72,253.83 327.95,255.4 328.8,256.7 C329.65,258 330.53,258.78 330.4,260.2 C330.27,261.62 329.33,263.4 328,265.2 C326.67,267 324.28,269.08 322.4,271 C320.52,272.92 318.37,274.8 316.7,276.7 C315.03,278.6 313.28,280.25 312.4,282.4 C311.52,284.55 311.7,286.98 311.4,289.6 C311.1,292.22 310.73,296.68 310.6,298.1 L310.6,298.1 C310.47,296.68 310.1,292.22 309.8,289.6 C309.5,286.98 309.68,284.55 308.8,282.4 C307.92,280.25 306.17,278.6 304.5,276.7 C302.83,274.8 300.68,272.92 298.8,271 C296.92,269.08 294.53,267 293.2,265.2 C291.87,263.4 290.93,261.62 290.8,260.2 C290.67,258.78 291.55,258 292.4,256.7 C293.25,255.4 294.48,253.83 295.9,252.4 C297.32,250.97 299.1,249.53 300.9,248.1 C302.7,246.67 305.27,245.23 306.7,243.8 C308.13,242.37 308.85,241.53 309.5,239.5 C310.15,237.47 310.42,232.92 310.6,231.6 Z" fill="#d1d8d2" stroke="#555" stroke-width="0.6"/><line x1="293.68" y1="255.5" x2="327.52" y2="255.5" stroke="#858585" stroke-width="0.45"/><line x1="291.44" y1="260.9" x2="329.76" y2="260.9" stroke="#666" stroke-width="0.55" stroke-dasharray="1.5 0.9"/><line x1="295.62" y1="267.4" x2="325.58" y2="267.4" stroke="#858585" stroke-width="0.45"/><path d="M359.7,208 C360.05,209.43 360.37,214.22 361.8,216.6 C363.23,218.98 365.97,220.4 368.3,222.3 C370.63,224.2 373.93,226.08 375.8,228 C377.67,229.92 379.27,231.88 379.5,233.8 C379.73,235.72 378.47,237.6 377.2,239.5 C375.93,241.4 373.75,243.05 371.9,245.2 C370.05,247.35 367.65,250.02 366.1,252.4 C364.55,254.78 363.47,257.12 362.6,259.5 C361.73,261.88 361.38,263.37 360.9,266.7 C360.42,270.03 359.9,277.37 359.7,279.5 L359.7,279.5 C359.5,277.37 358.98,270.03 358.5,266.7 C358.02,263.37 357.67,261.88 356.8,259.5 C355.93,257.12 354.85,254.78 353.3,252.4 C351.75,250.02 349.35,247.35 347.5,245.2 C345.65,243.05 343.47,241.4 342.2,239.5 C340.93,237.6 339.67,235.72 339.9,233.8 C340.13,231.88 341.73,229.92 343.6,228 C345.47,226.08 348.77,224.2 351.1,222.3 C353.43,220.4 356.17,218.98 357.6,216.6 C359.03,214.22 359.35,209.43 359.7,208 Z" fill="#a6efc0" stroke="#555" stroke-width="0.6"/><line x1="341.35" y1="232" x2="378.05" y2="232" stroke="#858585" stroke-width="0.45"/><line x1="341.33" y1="236.6" x2="378.07" y2="236.6" stroke="#666" stroke-width="0.55" stroke-dasharray="1.5 0.9"/><line x1="347.15" y1="244.5" x2="372.25" y2="244.5" stroke="#858585" stroke-width="0.45"/><line x1="310.6" y1="300.4" x2="310.6" y2="302.4" stroke="#aaa" stroke-width="0.6"/><text x="310.6" y="308.6" font-size="7.3" text-anchor="middle">clinical</text><text x="310.6" y="316" font-size="7.3" text-anchor="middle">setting</text><line x1="359.7" y1="300.4" x2="359.7" y2="302.4" stroke="#aaa" stroke-width="0.6"/><text x="359.7" y="308.6" font-size="7.3" text-anchor="middle">gait-optimized</text><text x="359.7" y="316" font-size="7.3" text-anchor="middle">setting</text><text x="335.8" y="210.6" font-size="7.2" text-anchor="middle">p = 9.83e-24</text><text x="271.3" y="249.2" font-size="7.2" text-anchor="middle" transform="rotate(-90 271.3 249.2)">stride velocity (m/s)</text><rect x="426" y="198.2" width="98.4" height="102.7" fill="#fff" stroke="#bbb" stroke-width="1"/><line x1="423.8" y1="207.9" x2="426" y2="207.9" stroke="#aaa" stroke-width="0.6"/><text x="423.1" y="210.35" font-size="6.9" text-anchor="end">1.4</text><line x1="423.8" y1="224.8" x2="426" y2="224.8" stroke="#aaa" stroke-width="0.6"/><text x="423.1" y="227.25" font-size="6.9" text-anchor="end">1.3</text><line x1="423.8" y1="242.1" x2="426" y2="242.1" stroke="#aaa" stroke-width="0.6"/><text x="423.1" y="244.55" font-size="6.9" text-anchor="end">1.2</text><line x1="423.8" y1="259.5" x2="426" y2="259.5" stroke="#aaa" stroke-width="0.6"/><text x="423.1" y="261.95" font-size="6.9" text-anchor="end">1.1</text><line x1="423.8" y1="276.6" x2="426" y2="276.6" stroke="#aaa" stroke-width="0.6"/><text x="423.1" y="279.05" font-size="6.9" text-anchor="end">1.0</text><line x1="423.8" y1="294.1" x2="426" y2="294.1" stroke="#aaa" stroke-width="0.6"/><text x="423.1" y="296.55" font-size="6.9" text-anchor="end">0.9</text><path d="M450.6,229.2 C451.13,229.97 452.25,232.32 453.8,233.8 C455.35,235.28 458.12,236.68 459.9,238.1 C461.68,239.52 463.1,240.88 464.5,242.3 C465.9,243.72 467.32,245.28 468.3,246.6 C469.28,247.92 470.48,248.88 470.4,250.2 C470.32,251.52 469.37,252.95 467.8,254.5 C466.23,256.05 462.85,257.72 461,259.5 C459.15,261.28 458.02,263.05 456.7,265.2 C455.38,267.35 454.12,269.77 453.1,272.4 C452.08,275.03 451.02,279.57 450.6,281 L450.6,281 C450.18,279.57 449.12,275.03 448.1,272.4 C447.08,269.77 445.82,267.35 444.5,265.2 C443.18,263.05 442.05,261.28 440.2,259.5 C438.35,257.72 434.97,256.05 433.4,254.5 C431.83,252.95 430.88,251.52 430.8,250.2 C430.72,248.88 431.92,247.92 432.9,246.6 C433.88,245.28 435.3,243.72 436.7,242.3 C438.1,240.88 439.52,239.52 441.3,238.1 C443.08,236.68 445.85,235.28 447.4,233.8 C448.95,232.32 450.07,229.97 450.6,229.2 Z" fill="#d1d8d2" stroke="#555" stroke-width="0.6"/><line x1="433.38" y1="246.4" x2="467.82" y2="246.4" stroke="#858585" stroke-width="0.45"/><line x1="431.7" y1="251.2" x2="469.5" y2="251.2" stroke="#666" stroke-width="0.55" stroke-dasharray="1.5 0.9"/><line x1="435.06" y1="255.5" x2="466.14" y2="255.5" stroke="#858585" stroke-width="0.45"/><path d="M500,208.3 C500.3,209.68 500.73,214.02 501.8,216.6 C502.87,219.18 504.43,221.65 506.4,223.8 C508.37,225.95 511.68,227.6 513.6,229.5 C515.52,231.4 516.87,233.3 517.9,235.2 C518.93,237.1 519.87,238.75 519.8,240.9 C519.73,243.05 518.65,245.72 517.5,248.1 C516.35,250.48 514.57,252.82 512.9,255.2 C511.23,257.58 509,260.02 507.5,262.4 C506,264.78 504.92,267.12 503.9,269.5 C502.88,271.88 501.8,274.07 501.4,276.7 C501,279.33 501.57,282.92 501.5,285.3 C501.43,287.68 501.25,288.98 501,291 C500.75,293.02 500.17,296.33 500,297.4 L500,297.4 C499.83,296.33 499.25,293.02 499,291 C498.75,288.98 498.57,287.68 498.5,285.3 C498.43,282.92 499,279.33 498.6,276.7 C498.2,274.07 497.12,271.88 496.1,269.5 C495.08,267.12 494,264.78 492.5,262.4 C491,260.02 488.77,257.58 487.1,255.2 C485.43,252.82 483.65,250.48 482.5,248.1 C481.35,245.72 480.27,243.05 480.2,240.9 C480.13,238.75 481.07,237.1 482.1,235.2 C483.13,233.3 484.48,231.4 486.4,229.5 C488.32,227.6 491.63,225.95 493.6,223.8 C495.57,221.65 497.13,219.18 498.2,216.6 C499.27,214.02 499.7,209.68 500,208.3 Z" fill="#a6efc0" stroke="#555" stroke-width="0.6"/><line x1="481.7" y1="237.3" x2="518.3" y2="237.3" stroke="#858585" stroke-width="0.45"/><line x1="481.52" y1="244.1" x2="518.48" y2="244.1" stroke="#666" stroke-width="0.55" stroke-dasharray="1.5 0.9"/><line x1="486.95" y1="254.5" x2="513.05" y2="254.5" stroke="#858585" stroke-width="0.45"/><line x1="450.6" y1="300.9" x2="450.6" y2="302.9" stroke="#aaa" stroke-width="0.6"/><text x="450.6" y="309.1" font-size="7.3" text-anchor="middle">clinical</text><text x="450.6" y="316.5" font-size="7.3" text-anchor="middle">setting</text><line x1="500" y1="300.9" x2="500" y2="302.9" stroke="#aaa" stroke-width="0.6"/><text x="500" y="309.1" font-size="7.3" text-anchor="middle">gait-optimized</text><text x="500" y="316.5" font-size="7.3" text-anchor="middle">setting</text><text x="475.2" y="210.3" font-size="7.2" text-anchor="middle">p = 2.48e-04</text><text x="410.2" y="251" font-size="7.2" text-anchor="middle" transform="rotate(-90 410.2 251)">arm swing amplitude (m)</text><rect x="284.4" y="329.2" width="98.4" height="102.7" fill="#fff" stroke="#bbb" stroke-width="1"/><line x1="282.2" y1="356.9" x2="284.4" y2="356.9" stroke="#aaa" stroke-width="0.6"/><text x="281.5" y="359.35" font-size="6.9" text-anchor="end">0.6</text><line x1="282.2" y1="389" x2="284.4" y2="389" stroke="#aaa" stroke-width="0.6"/><text x="281.5" y="391.45" font-size="6.9" text-anchor="end">0.5</text><line x1="282.2" y1="420.5" x2="284.4" y2="420.5" stroke="#aaa" stroke-width="0.6"/><text x="281.5" y="422.95" font-size="6.9" text-anchor="end">0.4</text><path d="M309,356.9 C309.17,358.93 309.6,366.6 310,369.1 C310.4,371.6 310.08,370.72 311.4,371.9 C312.72,373.08 315.85,374.53 317.9,376.2 C319.95,377.87 321.97,379.98 323.7,381.9 C325.43,383.82 327.45,386.38 328.3,387.7 C329.15,389.02 329.37,388.62 328.8,389.8 C328.23,390.98 326.47,393.02 324.9,394.8 C323.33,396.58 321.15,398.58 319.4,400.5 C317.65,402.42 315.87,404.38 314.4,406.3 C312.93,408.22 311.35,410.1 310.6,412 C309.85,413.9 310.17,415.8 309.9,417.7 C309.63,419.6 309.15,422.45 309,423.4 L309,423.4 C308.85,422.45 308.37,419.6 308.1,417.7 C307.83,415.8 308.15,413.9 307.4,412 C306.65,410.1 305.07,408.22 303.6,406.3 C302.13,404.38 300.35,402.42 298.6,400.5 C296.85,398.58 294.67,396.58 293.1,394.8 C291.53,393.02 289.77,390.98 289.2,389.8 C288.63,388.62 288.85,389.02 289.7,387.7 C290.55,386.38 292.57,383.82 294.3,381.9 C296.03,379.98 298.05,377.87 300.1,376.2 C302.15,374.53 305.28,373.08 306.6,371.9 C307.92,370.72 307.6,371.6 308,369.1 C308.4,366.6 308.83,358.93 309,356.9 Z" fill="#d1d8d2" stroke="#555" stroke-width="0.6"/><line x1="291.98" y1="385.2" x2="326.02" y2="385.2" stroke="#858585" stroke-width="0.45"/><line x1="289.57" y1="389.5" x2="328.43" y2="389.5" stroke="#666" stroke-width="0.55" stroke-dasharray="1.5 0.9"/><line x1="293.79" y1="395.2" x2="324.21" y2="395.2" stroke="#858585" stroke-width="0.45"/><path d="M358.2,341.2 C358.5,342.5 359.2,346.73 360,349 C360.8,351.27 361.27,353.13 363,354.8 C364.73,356.47 368.28,357.58 370.4,359 C372.52,360.42 374.45,361.87 375.7,363.3 C376.95,364.73 378.2,365.93 377.9,367.6 C377.6,369.27 375.57,371.15 373.9,373.3 C372.23,375.45 369.75,378.1 367.9,380.5 C366.05,382.9 364.05,385.55 362.8,387.7 C361.55,389.85 360.95,391.27 360.4,393.4 C359.85,395.53 359.87,398.12 359.5,400.5 C359.13,402.88 358.42,406.5 358.2,407.7 L358.2,407.7 C357.98,406.5 357.27,402.88 356.9,400.5 C356.53,398.12 356.55,395.53 356,393.4 C355.45,391.27 354.85,389.85 353.6,387.7 C352.35,385.55 350.35,382.9 348.5,380.5 C346.65,378.1 344.17,375.45 342.5,373.3 C340.83,371.15 338.8,369.27 338.5,367.6 C338.2,365.93 339.45,364.73 340.7,363.3 C341.95,361.87 343.88,360.42 346,359 C348.12,357.58 351.67,356.47 353.4,354.8 C355.13,353.13 355.6,351.27 356.4,349 C357.2,346.73 357.9,342.5 358.2,341.2 Z" fill="#a6efc0" stroke="#555" stroke-width="0.6"/><line x1="339.87" y1="365.5" x2="376.53" y2="365.5" stroke="#858585" stroke-width="0.45"/><line x1="340.84" y1="370.5" x2="375.56" y2="370.5" stroke="#666" stroke-width="0.55" stroke-dasharray="1.5 0.9"/><line x1="347.05" y1="378.4" x2="369.35" y2="378.4" stroke="#858585" stroke-width="0.45"/><line x1="309" y1="431.9" x2="309" y2="433.9" stroke="#aaa" stroke-width="0.6"/><text x="309" y="440.1" font-size="7.3" text-anchor="middle">clinical</text><text x="309" y="447.5" font-size="7.3" text-anchor="middle">setting</text><line x1="358.2" y1="431.9" x2="358.2" y2="433.9" stroke="#aaa" stroke-width="0.6"/><text x="358.2" y="440.1" font-size="7.3" text-anchor="middle">gait-optimized</text><text x="358.2" y="447.5" font-size="7.3" text-anchor="middle">setting</text><text x="333.4" y="341.6" font-size="7.2" text-anchor="middle">p = 3.29e-20</text><text x="269" y="380.6" font-size="7.2" text-anchor="middle" transform="rotate(-90 269 380.6)">step length (m)</text><rect x="425.6" y="329.7" width="98.7" height="102.2" fill="#fff" stroke="#bbb" stroke-width="1"/><line x1="423.4" y1="332.6" x2="425.6" y2="332.6" stroke="#aaa" stroke-width="0.6"/><text x="422.7" y="335.05" font-size="6.9" text-anchor="end">0.65</text><line x1="423.4" y1="354.8" x2="425.6" y2="354.8" stroke="#aaa" stroke-width="0.6"/><text x="422.7" y="357.25" font-size="6.9" text-anchor="end">0.60</text><line x1="423.4" y1="377.2" x2="425.6" y2="377.2" stroke="#aaa" stroke-width="0.6"/><text x="422.7" y="379.65" font-size="6.9" text-anchor="end">0.55</text><line x1="423.4" y1="399.4" x2="425.6" y2="399.4" stroke="#aaa" stroke-width="0.6"/><text x="422.7" y="401.85" font-size="6.9" text-anchor="end">0.50</text><line x1="423.4" y1="422.2" x2="425.6" y2="422.2" stroke="#aaa" stroke-width="0.6"/><text x="422.7" y="424.65" font-size="6.9" text-anchor="end">0.45</text><path d="M450.6,344 C450.75,346.27 451.28,353.67 451.5,357.6 C451.72,361.53 451.4,365.22 451.9,367.6 C452.4,369.98 452.98,370.23 454.5,371.9 C456.02,373.57 459.2,375.68 461,377.6 C462.8,379.52 464,381.48 465.3,383.4 C466.6,385.32 467.92,387.43 468.8,389.1 C469.68,390.77 471.02,391.97 470.6,393.4 C470.18,394.83 468.57,396.03 466.3,397.7 C464.03,399.37 459.3,401.5 457,403.4 C454.7,405.3 453.57,406.95 452.5,409.1 C451.43,411.25 450.92,415.1 450.6,416.3 L450.6,416.3 C450.28,415.1 449.77,411.25 448.7,409.1 C447.63,406.95 446.5,405.3 444.2,403.4 C441.9,401.5 437.17,399.37 434.9,397.7 C432.63,396.03 431.02,394.83 430.6,393.4 C430.18,391.97 431.52,390.77 432.4,389.1 C433.28,387.43 434.6,385.32 435.9,383.4 C437.2,381.48 438.4,379.52 440.2,377.6 C442,375.68 445.18,373.57 446.7,371.9 C448.22,370.23 448.8,369.98 449.3,367.6 C449.8,365.22 449.48,361.53 449.7,357.6 C449.92,353.67 450.45,346.27 450.6,344 Z" fill="#d1d8d2" stroke="#555" stroke-width="0.6"/><line x1="435.77" y1="384.1" x2="465.43" y2="384.1" stroke="#858585" stroke-width="0.45"/><line x1="431.99" y1="390.8" x2="469.21" y2="390.8" stroke="#666" stroke-width="0.55" stroke-dasharray="1.5 0.9"/><line x1="432.6" y1="395.1" x2="468.6" y2="395.1" stroke="#858585" stroke-width="0.45"/><path d="M499.7,397 C500.42,397.83 501.73,400.33 504,402 C506.27,403.67 510.72,405.22 513.3,407 C515.88,408.78 519.5,410.92 519.5,412.7 C519.5,414.48 515.88,416.03 513.3,417.7 C510.72,419.37 506.27,421.15 504,422.7 C501.73,424.25 500.42,426.28 499.7,427 L499.7,427 C498.98,426.28 497.67,424.25 495.4,422.7 C493.13,421.15 488.68,419.37 486.1,417.7 C483.52,416.03 479.9,414.48 479.9,412.7 C479.9,410.92 483.52,408.78 486.1,407 C488.68,405.22 493.13,403.67 495.4,402 C497.67,400.33 498.98,397.83 499.7,397 Z" fill="#a6efc0" stroke="#555" stroke-width="0.6"/><line x1="483.35" y1="409.8" x2="516.05" y2="409.8" stroke="#858585" stroke-width="0.45"/><line x1="480.53" y1="412.4" x2="518.87" y2="412.4" stroke="#666" stroke-width="0.55" stroke-dasharray="1.5 0.9"/><line x1="483.42" y1="415.3" x2="515.98" y2="415.3" stroke="#858585" stroke-width="0.45"/><line x1="450.6" y1="431.9" x2="450.6" y2="433.9" stroke="#aaa" stroke-width="0.6"/><text x="450.6" y="440.1" font-size="7.3" text-anchor="middle">clinical</text><text x="450.6" y="447.5" font-size="7.3" text-anchor="middle">setting</text><line x1="499.7" y1="431.9" x2="499.7" y2="433.9" stroke="#aaa" stroke-width="0.6"/><text x="499.7" y="440.1" font-size="7.3" text-anchor="middle">gait-optimized</text><text x="499.7" y="447.5" font-size="7.3" text-anchor="middle">setting</text><text x="475" y="341.1" font-size="7.2" text-anchor="middle">p = 1.28e-28</text><text x="407.2" y="380.8" font-size="7.2" text-anchor="middle" transform="rotate(-90 407.2 380.8)">step time (s)</text><path d="M534.8,195.4 C540.61,195.4 543.1,198.4 543.1,205.4 L543.1,308.5 C543.1,314.5 547.42,317.5 550.3,318.5 C547.42,319.5 543.1,322.5 543.1,328.5 L543.1,433 C543.1,440 540.61,443 534.8,443 Z" fill="#c0c0c0"/><rect x="595.4" y="336.6" width="18.3" height="26.8" fill="#d0d8d2" stroke="#555" stroke-width="0.6"/><rect x="648.4" y="288.3" width="17.7" height="75.1" fill="#a0fbc2" stroke="#555" stroke-width="0.6"/><rect x="587" y="269.3" width="87.7" height="94.1" fill="none" stroke="#444" stroke-width="0.8"/><line x1="584.8" y1="269.3" x2="587" y2="269.3" stroke="#444" stroke-width="0.6"/><text x="582.8" y="271.5" font-size="6.4" text-anchor="end">1.25</text><line x1="584.8" y1="282.9" x2="587" y2="282.9" stroke="#444" stroke-width="0.6"/><text x="582.8" y="285.1" font-size="6.4" text-anchor="end">1.20</text><line x1="584.8" y1="296.3" x2="587" y2="296.3" stroke="#444" stroke-width="0.6"/><text x="582.8" y="298.5" font-size="6.4" text-anchor="end">1.15</text><line x1="584.8" y1="309.7" x2="587" y2="309.7" stroke="#444" stroke-width="0.6"/><text x="582.8" y="311.9" font-size="6.4" text-anchor="end">1.10</text><line x1="584.8" y1="323.2" x2="587" y2="323.2" stroke="#444" stroke-width="0.6"/><text x="582.8" y="325.4" font-size="6.4" text-anchor="end">1.05</text><line x1="584.8" y1="336.6" x2="587" y2="336.6" stroke="#444" stroke-width="0.6"/><text x="582.8" y="338.8" font-size="6.4" text-anchor="end">1.00</text><line x1="584.8" y1="350" x2="587" y2="350" stroke="#444" stroke-width="0.6"/><text x="582.8" y="352.2" font-size="6.4" text-anchor="end">0.95</text><line x1="584.8" y1="363.4" x2="587" y2="363.4" stroke="#444" stroke-width="0.6"/><text x="582.8" y="365.6" font-size="6.4" text-anchor="end">0.90</text><line x1="604.55" y1="363.4" x2="604.55" y2="365.4" stroke="#444" stroke-width="0.6"/><text x="604.55" y="373.2" font-size="6.5" text-anchor="middle">clinical</text><text x="604.55" y="380.7" font-size="6.5" text-anchor="middle">setting</text><line x1="657.25" y1="363.4" x2="657.25" y2="365.4" stroke="#444" stroke-width="0.6"/><text x="657.25" y="373.2" font-size="6.5" text-anchor="middle">gait-optimized</text><text x="657.25" y="380.7" font-size="6.5" text-anchor="middle">setting</text><text x="565" y="317.6" font-size="6.6" text-anchor="middle" transform="rotate(-90 565 317.6)">Normalized WPI</text><text x="7" y="492.2" font-size="10.6" font-weight="bold">(A) Model progression</text><text x="345" y="491.6" font-size="10.6" text-anchor="middle">Subject 2</text><text x="6.8" y="669.7" font-size="10.6" font-weight="bold">(B) Final data-driven model</text><text x="258" y="669.9" font-size="10.6" font-weight="bold">(C) Comparison between clinical setting and gait-optimized setting</text><rect x="12.1" y="495.9" width="167.5" height="152.9" fill="#f4f4e6"/><text x="95.85" y="506.8" font-size="9.6" text-anchor="middle">Visit 1</text><text x="92" y="516.2" font-size="8" text-anchor="middle">Projected WPI</text><g clip-path="url(#c151)"><g filter="url(#f152)"><rect x="44.4" y="507.64" width="95.2" height="8.91" fill="url(#l153)"/><rect x="44.4" y="515.95" width="95.2" height="8.91" fill="url(#l154)"/><rect x="44.4" y="524.25" width="95.2" height="8.91" fill="url(#l155)"/><rect x="44.4" y="532.56" width="95.2" height="8.91" fill="url(#l156)"/><rect x="44.4" y="540.87" width="95.2" height="8.91" fill="url(#l157)"/><rect x="44.4" y="549.18" width="95.2" height="8.91" fill="url(#l158)"/><rect x="44.4" y="557.49" width="95.2" height="8.91" fill="url(#l159)"/><rect x="44.4" y="565.8" width="95.2" height="8.91" fill="url(#l160)"/><rect x="44.4" y="574.1" width="95.2" height="8.91" fill="url(#l161)"/><rect x="44.4" y="582.41" width="95.2" height="8.91" fill="url(#l162)"/><rect x="44.4" y="590.72" width="95.2" height="8.91" fill="url(#l163)"/><rect x="44.4" y="599.03" width="95.2" height="8.91" fill="url(#l164)"/><rect x="44.4" y="607.34" width="95.2" height="8.91" fill="url(#l165)"/><rect x="44.4" y="615.65" width="95.2" height="8.91" fill="url(#l166)"/><rect x="44.4" y="623.95" width="95.2" height="8.91" fill="url(#l167)"/></g></g><rect x="45.4" y="520.4" width="93.2" height="99.7" fill="none" stroke="#333" stroke-width="0.8"/><line x1="43.1" y1="533.5" x2="45.4" y2="533.5" stroke="#333" stroke-width="0.6"/><text x="41.6" y="535.8" font-size="6.6" text-anchor="end">4.00</text><line x1="43.1" y1="549.4" x2="45.4" y2="549.4" stroke="#333" stroke-width="0.6"/><text x="41.6" y="551.7" font-size="6.6" text-anchor="end">3.75</text><line x1="43.1" y1="565.6" x2="45.4" y2="565.6" stroke="#333" stroke-width="0.6"/><text x="41.6" y="567.9" font-size="6.6" text-anchor="end">3.50</text><line x1="43.1" y1="581.6" x2="45.4" y2="581.6" stroke="#333" stroke-width="0.6"/><text x="41.6" y="583.9" font-size="6.6" text-anchor="end">3.25</text><line x1="43.1" y1="597.4" x2="45.4" y2="597.4" stroke="#333" stroke-width="0.6"/><text x="41.6" y="599.7" font-size="6.6" text-anchor="end">3.00</text><line x1="43.1" y1="613.5" x2="45.4" y2="613.5" stroke="#333" stroke-width="0.6"/><text x="41.6" y="615.8" font-size="6.6" text-anchor="end">2.75</text><line x1="75.7" y1="620.1" x2="75.7" y2="622.4" stroke="#333" stroke-width="0.6"/><text x="75.7" y="629.6" font-size="6.6" text-anchor="middle">100</text><line x1="110.4" y1="620.1" x2="110.4" y2="622.4" stroke="#333" stroke-width="0.6"/><text x="110.4" y="629.6" font-size="6.6" text-anchor="middle">150</text><text x="92" y="638.3" font-size="6.6" text-anchor="middle">Frequency (Hz)</text><text x="23.4" y="570.25" font-size="6.6" text-anchor="middle" transform="rotate(-90 23.4 570.25)">Amplitude (mA)</text><rect x="144" y="520.4" width="5.3" height="99.7" fill="url(#cb168)" stroke="#333" stroke-width="0.6"/><line x1="149.3" y1="530.4" x2="151.5" y2="530.4" stroke="#333" stroke-width="0.6"/><text x="153.2" y="532.71" font-size="6.6">High</text><line x1="149.3" y1="570.2" x2="151.5" y2="570.2" stroke="#333" stroke-width="0.6"/><text x="153.2" y="572.51" font-size="6.6">Medium</text><line x1="149.3" y1="610" x2="151.5" y2="610" stroke="#333" stroke-width="0.6"/><text x="153.2" y="612.31" font-size="6.6">Low</text><rect x="179.6" y="495.9" width="165.5" height="152.9" fill="#e8f7f6"/><text x="262.35" y="506.8" font-size="9.6" text-anchor="middle">Visit 2</text><text x="257.8" y="516.2" font-size="8" text-anchor="middle">Projected WPI</text><g clip-path="url(#c169)"><g filter="url(#f170)"><rect x="210.2" y="507.64" width="95.2" height="8.91" fill="url(#l171)"/><rect x="210.2" y="515.95" width="95.2" height="8.91" fill="url(#l172)"/><rect x="210.2" y="524.25" width="95.2" height="8.91" fill="url(#l173)"/><rect x="210.2" y="532.56" width="95.2" height="8.91" fill="url(#l174)"/><rect x="210.2" y="540.87" width="95.2" height="8.91" fill="url(#l175)"/><rect x="210.2" y="549.18" width="95.2" height="8.91" fill="url(#l176)"/><rect x="210.2" y="557.49" width="95.2" height="8.91" fill="url(#l177)"/><rect x="210.2" y="565.8" width="95.2" height="8.91" fill="url(#l178)"/><rect x="210.2" y="574.1" width="95.2" height="8.91" fill="url(#l179)"/><rect x="210.2" y="582.41" width="95.2" height="8.91" fill="url(#l180)"/><rect x="210.2" y="590.72" width="95.2" height="8.91" fill="url(#l181)"/><rect x="210.2" y="599.03" width="95.2" height="8.91" fill="url(#l182)"/><rect x="210.2" y="607.34" width="95.2" height="8.91" fill="url(#l183)"/><rect x="210.2" y="615.65" width="95.2" height="8.91" fill="url(#l184)"/><rect x="210.2" y="623.95" width="95.2" height="8.91" fill="url(#l185)"/></g></g><rect x="211.2" y="520.4" width="93.2" height="99.7" fill="none" stroke="#333" stroke-width="0.8"/><line x1="208.9" y1="530.4" x2="211.2" y2="530.4" stroke="#333" stroke-width="0.6"/><text x="207.4" y="532.7" font-size="6.6" text-anchor="end">5.0</text><line x1="208.9" y1="549.1" x2="211.2" y2="549.1" stroke="#333" stroke-width="0.6"/><text x="207.4" y="551.4" font-size="6.6" text-anchor="end">4.5</text><line x1="208.9" y1="568.7" x2="211.2" y2="568.7" stroke="#333" stroke-width="0.6"/><text x="207.4" y="571" font-size="6.6" text-anchor="end">4.0</text><line x1="208.9" y1="587.9" x2="211.2" y2="587.9" stroke="#333" stroke-width="0.6"/><text x="207.4" y="590.2" font-size="6.6" text-anchor="end">3.5</text><line x1="208.9" y1="606.5" x2="211.2" y2="606.5" stroke="#333" stroke-width="0.6"/><text x="207.4" y="608.8" font-size="6.6" text-anchor="end">3.0</text><line x1="241.5" y1="620.1" x2="241.5" y2="622.4" stroke="#333" stroke-width="0.6"/><text x="241.5" y="629.6" font-size="6.6" text-anchor="middle">100</text><line x1="276.2" y1="620.1" x2="276.2" y2="622.4" stroke="#333" stroke-width="0.6"/><text x="276.2" y="629.6" font-size="6.6" text-anchor="middle">150</text><text x="257.8" y="638.3" font-size="6.6" text-anchor="middle">Frequency (Hz)</text><text x="193.9" y="570.25" font-size="6.6" text-anchor="middle" transform="rotate(-90 193.9 570.25)">Amplitude (mA)</text><rect x="309.8" y="520.4" width="5.3" height="99.7" fill="url(#cb186)" stroke="#333" stroke-width="0.6"/><line x1="315.1" y1="530.4" x2="317.3" y2="530.4" stroke="#333" stroke-width="0.6"/><text x="319" y="532.71" font-size="6.6">High</text><line x1="315.1" y1="570.2" x2="317.3" y2="570.2" stroke="#333" stroke-width="0.6"/><text x="319" y="572.51" font-size="6.6">Medium</text><line x1="315.1" y1="610" x2="317.3" y2="610" stroke="#333" stroke-width="0.6"/><text x="319" y="612.31" font-size="6.6">Low</text><rect x="345.1" y="495.9" width="167.7" height="152.9" fill="#f3e6e6"/><text x="428.95" y="506.8" font-size="9.6" text-anchor="middle">Visit 3</text><text x="423" y="516.2" font-size="8" text-anchor="middle">Projected WPI</text><g clip-path="url(#c187)"><g filter="url(#f188)"><rect x="375.6" y="507.64" width="94.8" height="8.91" fill="url(#l189)"/><rect x="375.6" y="515.95" width="94.8" height="8.91" fill="url(#l190)"/><rect x="375.6" y="524.25" width="94.8" height="8.91" fill="url(#l191)"/><rect x="375.6" y="532.56" width="94.8" height="8.91" fill="url(#l192)"/><rect x="375.6" y="540.87" width="94.8" height="8.91" fill="url(#l193)"/><rect x="375.6" y="549.18" width="94.8" height="8.91" fill="url(#l194)"/><rect x="375.6" y="557.49" width="94.8" height="8.91" fill="url(#l195)"/><rect x="375.6" y="565.8" width="94.8" height="8.91" fill="url(#l196)"/><rect x="375.6" y="574.1" width="94.8" height="8.91" fill="url(#l197)"/><rect x="375.6" y="582.41" width="94.8" height="8.91" fill="url(#l198)"/><rect x="375.6" y="590.72" width="94.8" height="8.91" fill="url(#l199)"/><rect x="375.6" y="599.03" width="94.8" height="8.91" fill="url(#l200)"/><rect x="375.6" y="607.34" width="94.8" height="8.91" fill="url(#l201)"/><rect x="375.6" y="615.65" width="94.8" height="8.91" fill="url(#l202)"/><rect x="375.6" y="623.95" width="94.8" height="8.91" fill="url(#l203)"/></g></g><rect x="376.6" y="520.4" width="92.8" height="99.7" fill="none" stroke="#333" stroke-width="0.8"/><line x1="374.3" y1="530.4" x2="376.6" y2="530.4" stroke="#333" stroke-width="0.6"/><text x="372.8" y="532.7" font-size="6.6" text-anchor="end">5.0</text><line x1="374.3" y1="549.1" x2="376.6" y2="549.1" stroke="#333" stroke-width="0.6"/><text x="372.8" y="551.4" font-size="6.6" text-anchor="end">4.5</text><line x1="374.3" y1="568.7" x2="376.6" y2="568.7" stroke="#333" stroke-width="0.6"/><text x="372.8" y="571" font-size="6.6" text-anchor="end">4.0</text><line x1="374.3" y1="587.9" x2="376.6" y2="587.9" stroke="#333" stroke-width="0.6"/><text x="372.8" y="590.2" font-size="6.6" text-anchor="end">3.5</text><line x1="374.3" y1="606.5" x2="376.6" y2="606.5" stroke="#333" stroke-width="0.6"/><text x="372.8" y="608.8" font-size="6.6" text-anchor="end">3.0</text><line x1="406.9" y1="620.1" x2="406.9" y2="622.4" stroke="#333" stroke-width="0.6"/><text x="406.9" y="629.6" font-size="6.6" text-anchor="middle">100</text><line x1="441.6" y1="620.1" x2="441.6" y2="622.4" stroke="#333" stroke-width="0.6"/><text x="441.6" y="629.6" font-size="6.6" text-anchor="middle">150</text><text x="423" y="638.3" font-size="6.6" text-anchor="middle">Frequency (Hz)</text><text x="359.3" y="570.25" font-size="6.6" text-anchor="middle" transform="rotate(-90 359.3 570.25)">Amplitude (mA)</text><rect x="474.8" y="520.4" width="5.3" height="99.7" fill="url(#cb204)" stroke="#333" stroke-width="0.6"/><line x1="480.1" y1="530.4" x2="482.3" y2="530.4" stroke="#333" stroke-width="0.6"/><text x="484" y="532.71" font-size="6.6">High</text><line x1="480.1" y1="570.2" x2="482.3" y2="570.2" stroke="#333" stroke-width="0.6"/><text x="484" y="572.51" font-size="6.6">Medium</text><line x1="480.1" y1="610" x2="482.3" y2="610" stroke="#333" stroke-width="0.6"/><text x="484" y="612.31" font-size="6.6">Low</text><rect x="512.8" y="495.9" width="167.1" height="152.9" fill="#c0c0c0"/><text x="596.35" y="506.8" font-size="9.6" text-anchor="middle">Visit 4</text><text x="590.75" y="516.2" font-size="8" text-anchor="middle">Projected WPI</text><g clip-path="url(#c205)"><g filter="url(#f206)"><rect x="543.4" y="507.64" width="94.7" height="8.91" fill="url(#l207)"/><rect x="543.4" y="515.95" width="94.7" height="8.91" fill="url(#l208)"/><rect x="543.4" y="524.25" width="94.7" height="8.91" fill="url(#l209)"/><rect x="543.4" y="532.56" width="94.7" height="8.91" fill="url(#l210)"/><rect x="543.4" y="540.87" width="94.7" height="8.91" fill="url(#l211)"/><rect x="543.4" y="549.18" width="94.7" height="8.91" fill="url(#l212)"/><rect x="543.4" y="557.49" width="94.7" height="8.91" fill="url(#l213)"/><rect x="543.4" y="565.8" width="94.7" height="8.91" fill="url(#l214)"/><rect x="543.4" y="574.1" width="94.7" height="8.91" fill="url(#l215)"/><rect x="543.4" y="582.41" width="94.7" height="8.91" fill="url(#l216)"/><rect x="543.4" y="590.72" width="94.7" height="8.91" fill="url(#l217)"/><rect x="543.4" y="599.03" width="94.7" height="8.91" fill="url(#l218)"/><rect x="543.4" y="607.34" width="94.7" height="8.91" fill="url(#l219)"/><rect x="543.4" y="615.65" width="94.7" height="8.91" fill="url(#l220)"/><rect x="543.4" y="623.95" width="94.7" height="8.91" fill="url(#l221)"/></g></g><rect x="544.4" y="520.4" width="92.7" height="99.7" fill="none" stroke="#333" stroke-width="0.8"/><line x1="542.1" y1="530.4" x2="544.4" y2="530.4" stroke="#333" stroke-width="0.6"/><text x="540.6" y="532.7" font-size="6.6" text-anchor="end">5.0</text><line x1="542.1" y1="549.1" x2="544.4" y2="549.1" stroke="#333" stroke-width="0.6"/><text x="540.6" y="551.4" font-size="6.6" text-anchor="end">4.5</text><line x1="542.1" y1="568.7" x2="544.4" y2="568.7" stroke="#333" stroke-width="0.6"/><text x="540.6" y="571" font-size="6.6" text-anchor="end">4.0</text><line x1="542.1" y1="587.9" x2="544.4" y2="587.9" stroke="#333" stroke-width="0.6"/><text x="540.6" y="590.2" font-size="6.6" text-anchor="end">3.5</text><line x1="542.1" y1="606.5" x2="544.4" y2="606.5" stroke="#333" stroke-width="0.6"/><text x="540.6" y="608.8" font-size="6.6" text-anchor="end">3.0</text><line x1="574.7" y1="620.1" x2="574.7" y2="622.4" stroke="#333" stroke-width="0.6"/><text x="574.7" y="629.6" font-size="6.6" text-anchor="middle">100</text><line x1="609.4" y1="620.1" x2="609.4" y2="622.4" stroke="#333" stroke-width="0.6"/><text x="609.4" y="629.6" font-size="6.6" text-anchor="middle">150</text><text x="590.75" y="638.3" font-size="6.6" text-anchor="middle">Frequency (Hz)</text><text x="527.1" y="570.25" font-size="6.6" text-anchor="middle" transform="rotate(-90 527.1 570.25)">Amplitude (mA)</text><rect x="642.5" y="520.4" width="5.3" height="99.7" fill="url(#cb222)" stroke="#333" stroke-width="0.6"/><line x1="647.8" y1="530.4" x2="650" y2="530.4" stroke="#333" stroke-width="0.6"/><text x="651.7" y="532.71" font-size="6.6">High</text><line x1="647.8" y1="570.2" x2="650" y2="570.2" stroke="#333" stroke-width="0.6"/><text x="651.7" y="572.51" font-size="6.6">Medium</text><line x1="647.8" y1="610" x2="650" y2="610" stroke="#333" stroke-width="0.6"/><text x="651.7" y="612.31" font-size="6.6">Low</text><rect x="2.6" y="675.6" width="237.9" height="266.6" rx="9.5" fill="none" stroke="#777" stroke-width="1"/><rect x="253.7" y="674.9" width="425.9" height="266.3" rx="9.5" fill="none" stroke="#777" stroke-width="1"/><g clip-path="url(#c223)"><g filter="url(#f224)"><rect x="40.2" y="670.43" width="114.4" height="7.11" fill="url(#l225)"/><rect x="40.2" y="676.94" width="114.4" height="7.11" fill="url(#l226)"/><rect x="40.2" y="683.46" width="114.4" height="7.11" fill="url(#l227)"/><rect x="40.2" y="689.97" width="114.4" height="7.11" fill="url(#l228)"/><rect x="40.2" y="696.48" width="114.4" height="7.11" fill="url(#l229)"/><rect x="40.2" y="702.99" width="114.4" height="7.11" fill="url(#l230)"/><rect x="40.2" y="709.51" width="114.4" height="7.11" fill="url(#l231)"/><rect x="40.2" y="716.02" width="114.4" height="7.11" fill="url(#l232)"/><rect x="40.2" y="722.53" width="114.4" height="7.11" fill="url(#l233)"/><rect x="40.2" y="729.04" width="114.4" height="7.11" fill="url(#l234)"/><rect x="40.2" y="735.56" width="114.4" height="7.11" fill="url(#l235)"/></g></g><g clip-path="url(#c236)"><g filter="url(#f237)"><rect x="40.2" y="693.22" width="58.2" height="8.59" fill="url(#l238)"/><rect x="40.2" y="701.21" width="58.2" height="8.59" fill="url(#l239)"/><rect x="40.2" y="709.2" width="58.2" height="8.59" fill="url(#l240)"/><rect x="40.2" y="717.19" width="58.2" height="8.59" fill="url(#l241)"/><rect x="40.2" y="725.18" width="58.2" height="8.59" fill="url(#l242)"/><rect x="40.2" y="733.17" width="58.2" height="8.59" fill="url(#l243)"/><rect x="40.2" y="741.16" width="58.2" height="8.59" fill="url(#l244)"/><rect x="40.2" y="749.14" width="58.2" height="8.59" fill="url(#l245)"/><rect x="40.2" y="757.13" width="58.2" height="8.59" fill="url(#l246)"/><rect x="40.2" y="765.12" width="58.2" height="8.59" fill="url(#l247)"/><rect x="40.2" y="773.12" width="58.2" height="8.59" fill="url(#l248)"/><rect x="40.2" y="781.11" width="58.2" height="8.59" fill="url(#l249)"/><rect x="40.2" y="789.1" width="58.2" height="8.59" fill="url(#l250)"/></g></g><g clip-path="url(#c251)"><g filter="url(#f252)"><rect x="96.4" y="680.84" width="58.2" height="16.64" fill="url(#l253)"/><rect x="96.4" y="696.88" width="58.2" height="16.64" fill="url(#l254)"/><rect x="96.4" y="712.92" width="58.2" height="16.64" fill="url(#l255)"/><rect x="96.4" y="728.96" width="58.2" height="16.64" fill="url(#l256)"/><rect x="96.4" y="745" width="58.2" height="16.64" fill="url(#l257)"/><rect x="96.4" y="761.04" width="58.2" height="16.64" fill="url(#l258)"/><rect x="96.4" y="777.08" width="58.2" height="16.64" fill="url(#l259)"/><rect x="96.4" y="793.12" width="58.2" height="16.64" fill="url(#l260)"/></g></g><polygon points="41.2,705.5 97.4,680.5 153.6,705.2 97.4,732.6" fill="none" stroke="#555" stroke-width="0.7"/><polyline points="97.4,732.6 97.4,785.4" fill="none" stroke="#555" stroke-width="0.7"/><g clip-path="url(#c261)"><g filter="url(#f262)"><rect x="41.3" y="804.56" width="58.2" height="16.96" fill="url(#l263)"/><rect x="41.3" y="820.92" width="58.2" height="16.96" fill="url(#l264)"/><rect x="41.3" y="837.28" width="58.2" height="16.96" fill="url(#l265)"/><rect x="41.3" y="853.64" width="58.2" height="16.96" fill="url(#l266)"/><rect x="41.3" y="870" width="58.2" height="16.96" fill="url(#l267)"/><rect x="41.3" y="886.36" width="58.2" height="16.96" fill="url(#l268)"/><rect x="41.3" y="902.72" width="58.2" height="16.96" fill="url(#l269)"/><rect x="41.3" y="919.08" width="58.2" height="16.96" fill="url(#l270)"/></g></g><g clip-path="url(#c271)"><g filter="url(#f272)"><rect x="97.5" y="804.56" width="58.2" height="16.96" fill="url(#l273)"/><rect x="97.5" y="820.92" width="58.2" height="16.96" fill="url(#l274)"/><rect x="97.5" y="837.28" width="58.2" height="16.96" fill="url(#l275)"/><rect x="97.5" y="853.64" width="58.2" height="16.96" fill="url(#l276)"/><rect x="97.5" y="870" width="58.2" height="16.96" fill="url(#l277)"/><rect x="97.5" y="886.36" width="58.2" height="16.96" fill="url(#l278)"/><rect x="97.5" y="902.72" width="58.2" height="16.96" fill="url(#l279)"/><rect x="97.5" y="919.08" width="58.2" height="16.96" fill="url(#l280)"/></g></g><g clip-path="url(#c281)"><g filter="url(#f282)"><rect x="41.3" y="874.83" width="114.4" height="6.91" fill="url(#l283)"/><rect x="41.3" y="881.14" width="114.4" height="6.91" fill="url(#l284)"/><rect x="41.3" y="887.46" width="114.4" height="6.91" fill="url(#l285)"/><rect x="41.3" y="893.77" width="114.4" height="6.91" fill="url(#l286)"/><rect x="41.3" y="900.08" width="114.4" height="6.91" fill="url(#l287)"/><rect x="41.3" y="906.39" width="114.4" height="6.91" fill="url(#l288)"/><rect x="41.3" y="912.71" width="114.4" height="6.91" fill="url(#l289)"/><rect x="41.3" y="919.02" width="114.4" height="6.91" fill="url(#l290)"/><rect x="41.3" y="925.33" width="114.4" height="6.91" fill="url(#l291)"/><rect x="41.3" y="931.64" width="114.4" height="6.91" fill="url(#l292)"/><rect x="41.3" y="937.96" width="114.4" height="6.91" fill="url(#l293)"/></g></g><line x1="98.5" y1="884.6" x2="98.5" y2="829.4" stroke="#444" stroke-width="0.6" stroke-dasharray="2 1.3"/><line x1="98.5" y1="884.6" x2="42.3" y2="911.2" stroke="#444" stroke-width="0.6" stroke-dasharray="2 1.3"/><line x1="98.5" y1="884.6" x2="154.7" y2="911.2" stroke="#444" stroke-width="0.6" stroke-dasharray="2 1.3"/><polyline points="35.7,760.3 97.4,793.9 159.5,758.9 161.6,701.1" fill="none" stroke="#bbb" stroke-width="0.6"/><polyline points="34.6,915.4 36.5,856.4 98.5,821.2 160.1,856.9" fill="none" stroke="#bbb" stroke-width="0.6"/><text x="34.4" y="771.4" font-size="7.1" text-anchor="middle">5.0</text><text x="46.9" y="778.4" font-size="7.1" text-anchor="middle">4.5</text><text x="58.7" y="785.2" font-size="7.1" text-anchor="middle">4.0</text><text x="71.7" y="792.5" font-size="7.1" text-anchor="middle">3.5</text><text x="83.9" y="799.8" font-size="7.1" text-anchor="middle">3.0</text><text x="152.7" y="775.5" font-size="7.1" text-anchor="middle">75</text><text x="141.9" y="781.7" font-size="7.1" text-anchor="middle">100</text><text x="130.6" y="787.9" font-size="7.1" text-anchor="middle">125</text><text x="119.8" y="794.3" font-size="7.1" text-anchor="middle">150</text><text x="108.2" y="801.4" font-size="7.1" text-anchor="middle">175</text><text x="81" y="824" font-size="7.1" text-anchor="middle">75</text><text x="69.3" y="831.3" font-size="7.1" text-anchor="middle">100</text><text x="57.7" y="838.6" font-size="7.1" text-anchor="middle">125</text><text x="47.4" y="844.1" font-size="7.1" text-anchor="middle">150</text><text x="36.5" y="851.4" font-size="7.1" text-anchor="middle">175</text><text x="108.8" y="819.7" font-size="7.1" text-anchor="middle">5.0</text><text x="116.8" y="827" font-size="7.1" text-anchor="middle">4.5</text><text x="129.6" y="833.9" font-size="7.1" text-anchor="middle">4.0</text><text x="140.5" y="842.3" font-size="7.1" text-anchor="middle">3.5</text><text x="152.6" y="849.6" font-size="7.1" text-anchor="middle">3.0</text><text x="54.2" y="791" font-size="6.9" text-anchor="middle" transform="rotate(28 54.2 791)">Amplitude (mA)</text><text x="139.2" y="789.7" font-size="6.9" text-anchor="middle" transform="rotate(-30 139.2 789.7)">Frequency (Hz)</text><text x="56.6" y="827.6" font-size="6.9" text-anchor="middle" transform="rotate(-30 56.6 827.6)">Frequency (Hz)</text><text x="140.5" y="825.8" font-size="6.9" text-anchor="middle" transform="rotate(30 140.5 825.8)">Amplitude (mA)</text><text x="165.8" y="710" font-size="7.1">70</text><text x="165.26" y="720.3" font-size="7.1">68</text><text x="164.71" y="730.9" font-size="7.1">66</text><text x="164.2" y="740.8" font-size="7.1">64</text><text x="163.68" y="750.7" font-size="7.1">62</text><text x="163.15" y="760.9" font-size="7.1">60</text><text x="23.5" y="864.2" font-size="7.1" text-anchor="middle">70</text><text x="23.08" y="874" font-size="7.1" text-anchor="middle">68</text><text x="22.64" y="884.3" font-size="7.1" text-anchor="middle">66</text><text x="22.2" y="894.5" font-size="7.1" text-anchor="middle">64</text><text x="21.74" y="905.1" font-size="7.1" text-anchor="middle">62</text><text x="21.3" y="915.3" font-size="7.1" text-anchor="middle">60</text><text x="182.2" y="730.9" font-size="6.9" text-anchor="middle" transform="rotate(-90 182.2 730.9)">Pulse width (<tspan font-style="italic">μ</tspan>s)</text><text x="16.2" y="883.6" font-size="6.9" text-anchor="middle" transform="rotate(-90 16.2 883.6)">Pulse width (<tspan font-style="italic">μ</tspan>s)</text><rect x="196.6" y="697.1" width="7.4" height="98.3" fill="url(#cb294)"/><line x1="204" y1="697.6" x2="205.2" y2="697.6" stroke="#333" stroke-width="0.6"/><text x="205.8" y="699.98" font-size="6.8">High</text><line x1="204" y1="746.6" x2="205.2" y2="746.6" stroke="#333" stroke-width="0.6"/><text x="205.8" y="748.98" font-size="6.8">Medium</text><line x1="204" y1="795.6" x2="205.2" y2="795.6" stroke="#333" stroke-width="0.6"/><text x="205.8" y="797.98" font-size="6.8">Low</text><rect x="196.6" y="839.8" width="7.4" height="98.5" fill="url(#cb295)"/><line x1="204" y1="840.3" x2="205.2" y2="840.3" stroke="#333" stroke-width="0.6"/><text x="205.8" y="842.68" font-size="6.8">High</text><line x1="204" y1="889" x2="205.2" y2="889" stroke="#333" stroke-width="0.6"/><text x="205.8" y="891.38" font-size="6.8">Medium</text><line x1="204" y1="938.3" x2="205.2" y2="938.3" stroke="#333" stroke-width="0.6"/><text x="205.8" y="940.68" font-size="6.8">Low</text><rect x="285.6" y="684.2" width="98.7" height="103" fill="#fff" stroke="#bbb" stroke-width="1"/><line x1="283.4" y1="698.4" x2="285.6" y2="698.4" stroke="#aaa" stroke-width="0.6"/><text x="282.7" y="700.85" font-size="6.9" text-anchor="end">1.1</text><line x1="283.4" y1="715.7" x2="285.6" y2="715.7" stroke="#aaa" stroke-width="0.6"/><text x="282.7" y="718.15" font-size="6.9" text-anchor="end">1.0</text><line x1="283.4" y1="733.1" x2="285.6" y2="733.1" stroke="#aaa" stroke-width="0.6"/><text x="282.7" y="735.55" font-size="6.9" text-anchor="end">0.9</text><line x1="283.4" y1="750.6" x2="285.6" y2="750.6" stroke="#aaa" stroke-width="0.6"/><text x="282.7" y="753.05" font-size="6.9" text-anchor="end">0.8</text><line x1="283.4" y1="768.3" x2="285.6" y2="768.3" stroke="#aaa" stroke-width="0.6"/><text x="282.7" y="770.75" font-size="6.9" text-anchor="end">0.7</text><line x1="283.4" y1="785.3" x2="285.6" y2="785.3" stroke="#aaa" stroke-width="0.6"/><text x="282.7" y="787.75" font-size="6.9" text-anchor="end">0.6</text><path d="M310.3,687.6 C310.53,688.33 310.95,689.92 311.7,692 C312.45,694.08 313.83,697.42 314.8,700.1 C315.77,702.78 316.68,706.1 317.5,708.1 C318.32,710.1 318.45,710.5 319.7,712.1 C320.95,713.7 323.48,715.95 325,717.7 C326.52,719.45 327.95,721.12 328.8,722.6 C329.65,724.08 330.05,725.27 330.1,726.6 C330.15,727.93 330.05,729 329.1,730.6 C328.15,732.2 326,734.33 324.4,736.2 C322.8,738.07 321.07,739.78 319.5,741.8 C317.93,743.82 316.3,746.28 315,748.3 C313.7,750.32 312.35,751.9 311.7,753.9 C311.05,755.9 311.15,758.28 311.1,760.3 C311.05,762.32 311.32,763.98 311.4,766 C311.48,768.02 311.65,770 311.6,772.4 C311.55,774.8 311.32,777.9 311.1,780.4 C310.88,782.9 310.43,786.23 310.3,787.4 L310.3,787.4 C310.17,786.23 309.72,782.9 309.5,780.4 C309.28,777.9 309.05,774.8 309,772.4 C308.95,770 309.12,768.02 309.2,766 C309.28,763.98 309.55,762.32 309.5,760.3 C309.45,758.28 309.55,755.9 308.9,753.9 C308.25,751.9 306.9,750.32 305.6,748.3 C304.3,746.28 302.67,743.82 301.1,741.8 C299.53,739.78 297.8,738.07 296.2,736.2 C294.6,734.33 292.45,732.2 291.5,730.6 C290.55,729 290.45,727.93 290.5,726.6 C290.55,725.27 290.95,724.08 291.8,722.6 C292.65,721.12 294.08,719.45 295.6,717.7 C297.12,715.95 299.65,713.7 300.9,712.1 C302.15,710.5 302.28,710.1 303.1,708.1 C303.92,706.1 304.83,702.78 305.8,700.1 C306.77,697.42 308.15,694.08 308.9,692 C309.65,689.92 310.07,688.33 310.3,687.6 Z" fill="#d1d8d2" stroke="#555" stroke-width="0.6"/><line x1="293.88" y1="720.3" x2="326.72" y2="720.3" stroke="#858585" stroke-width="0.45"/><line x1="290.93" y1="726.2" x2="329.67" y2="726.2" stroke="#666" stroke-width="0.55" stroke-dasharray="1.5 0.9"/><line x1="294.99" y1="734.4" x2="325.61" y2="734.4" stroke="#858585" stroke-width="0.45"/><path d="M359.4,698.3 C359.8,699.5 360.32,703.35 361.8,705.5 C363.28,707.65 365.9,709.3 368.3,711.2 C370.7,713.1 374.35,715 376.2,716.9 C378.05,718.8 379.58,720.7 379.4,722.6 C379.22,724.5 377.12,726.15 375.1,728.3 C373.08,730.45 369.57,733.35 367.3,735.5 C365.03,737.65 362.82,739.65 361.5,741.2 C360.18,742.75 359.75,744.2 359.4,744.8 L359.4,744.8 C359.05,744.2 358.62,742.75 357.3,741.2 C355.98,739.65 353.77,737.65 351.5,735.5 C349.23,733.35 345.72,730.45 343.7,728.3 C341.68,726.15 339.58,724.5 339.4,722.6 C339.22,720.7 340.75,718.8 342.6,716.9 C344.45,715 348.1,713.1 350.5,711.2 C352.9,709.3 355.52,707.65 357,705.5 C358.48,703.35 359,699.5 359.4,698.3 Z" fill="#a6efc0" stroke="#555" stroke-width="0.6"/><line x1="342.11" y1="718.3" x2="376.69" y2="718.3" stroke="#858585" stroke-width="0.45"/><line x1="339.87" y1="722.3" x2="378.93" y2="722.3" stroke="#666" stroke-width="0.55" stroke-dasharray="1.5 0.9"/><line x1="342.64" y1="726.5" x2="376.16" y2="726.5" stroke="#858585" stroke-width="0.45"/><line x1="310.3" y1="787.2" x2="310.3" y2="789.2" stroke="#aaa" stroke-width="0.6"/><text x="310.3" y="795.4" font-size="7.3" text-anchor="middle">clinical</text><text x="310.3" y="802.8" font-size="7.3" text-anchor="middle">setting</text><line x1="359.4" y1="787.2" x2="359.4" y2="789.2" stroke="#aaa" stroke-width="0.6"/><text x="359.4" y="795.4" font-size="7.3" text-anchor="middle">gait-optimized</text><text x="359.4" y="802.8" font-size="7.3" text-anchor="middle">setting</text><text x="334.2" y="695.4" font-size="7.2" text-anchor="middle">p = 1.11e-01</text><text x="270" y="737" font-size="7.2" text-anchor="middle" transform="rotate(-90 270 737)">stride velocity (m/s)</text><rect x="418.3" y="684.2" width="98.7" height="103" fill="#fff" stroke="#bbb" stroke-width="1"/><line x1="416.1" y1="707.5" x2="418.3" y2="707.5" stroke="#aaa" stroke-width="0.6"/><text x="415.4" y="709.95" font-size="6.9" text-anchor="end">1.4</text><line x1="416.1" y1="740.7" x2="418.3" y2="740.7" stroke="#aaa" stroke-width="0.6"/><text x="415.4" y="743.15" font-size="6.9" text-anchor="end">1.2</text><line x1="416.1" y1="773.6" x2="418.3" y2="773.6" stroke="#aaa" stroke-width="0.6"/><text x="415.4" y="776.05" font-size="6.9" text-anchor="end">1.0</text><path d="M443.3,689.4 C443.6,690.88 444.53,695.38 445.1,698.3 C445.67,701.22 445.9,704.03 446.7,706.9 C447.5,709.77 448.62,712.88 449.9,715.5 C451.18,718.12 452.82,720.22 454.4,722.6 C455.98,724.98 458.15,727.42 459.4,729.8 C460.65,732.18 461.32,735 461.9,736.9 C462.48,738.8 463.05,739.53 462.9,741.2 C462.75,742.87 462.23,744.75 461,746.9 C459.77,749.05 457.1,751.7 455.5,754.1 C453.9,756.5 452.72,758.68 451.4,761.3 C450.08,763.92 448.65,766.95 447.6,769.8 C446.55,772.65 445.82,775.77 445.1,778.4 C444.38,781.03 443.6,784.4 443.3,785.6 L443.3,785.6 C443,784.4 442.22,781.03 441.5,778.4 C440.78,775.77 440.05,772.65 439,769.8 C437.95,766.95 436.52,763.92 435.2,761.3 C433.88,758.68 432.7,756.5 431.1,754.1 C429.5,751.7 426.83,749.05 425.6,746.9 C424.37,744.75 423.85,742.87 423.7,741.2 C423.55,739.53 424.12,738.8 424.7,736.9 C425.28,735 425.95,732.18 427.2,729.8 C428.45,727.42 430.62,724.98 432.2,722.6 C433.78,720.22 435.42,718.12 436.7,715.5 C437.98,712.88 439.1,709.77 439.9,706.9 C440.7,704.03 440.93,701.22 441.5,698.3 C442.07,695.38 443,690.88 443.3,689.4 Z" fill="#d1d8d2" stroke="#555" stroke-width="0.6"/><line x1="425.6" y1="735.2" x2="461" y2="735.2" stroke="#858585" stroke-width="0.45"/><line x1="424" y1="741.2" x2="462.6" y2="741.2" stroke="#666" stroke-width="0.55" stroke-dasharray="1.5 0.9"/><line x1="427.81" y1="749.4" x2="458.79" y2="749.4" stroke="#858585" stroke-width="0.45"/><path d="M492.4,704 C493,705.2 494.27,708.82 496,711.2 C497.73,713.58 500.78,715.92 502.8,718.3 C504.82,720.68 506.62,723.12 508.1,725.5 C509.58,727.88 511.03,730.7 511.7,732.6 C512.37,734.5 512.7,734.98 512.1,736.9 C511.5,738.82 509.95,741.72 508.1,744.1 C506.25,746.48 503.02,749.05 501,751.2 C498.98,753.35 497.17,755.08 496,757 C494.83,758.92 494.37,760.32 494,762.7 C493.63,765.08 494.07,767.97 493.8,771.3 C493.53,774.63 492.63,780.8 492.4,782.7 L492.4,782.7 C492.17,780.8 491.27,774.63 491,771.3 C490.73,767.97 491.17,765.08 490.8,762.7 C490.43,760.32 489.97,758.92 488.8,757 C487.63,755.08 485.82,753.35 483.8,751.2 C481.78,749.05 478.55,746.48 476.7,744.1 C474.85,741.72 473.3,738.82 472.7,736.9 C472.1,734.98 472.43,734.5 473.1,732.6 C473.77,730.7 475.22,727.88 476.7,725.5 C478.18,723.12 479.98,720.68 482,718.3 C484.02,715.92 487.07,713.58 488.8,711.2 C490.53,708.82 491.8,705.2 492.4,704 Z" fill="#a6efc0" stroke="#555" stroke-width="0.6"/><line x1="474.62" y1="730.2" x2="510.18" y2="730.2" stroke="#858585" stroke-width="0.45"/><line x1="473.28" y1="737.4" x2="511.52" y2="737.4" stroke="#666" stroke-width="0.55" stroke-dasharray="1.5 0.9"/><line x1="477" y1="744.1" x2="507.8" y2="744.1" stroke="#858585" stroke-width="0.45"/><line x1="443.3" y1="787.2" x2="443.3" y2="789.2" stroke="#aaa" stroke-width="0.6"/><text x="443.3" y="795.4" font-size="7.3" text-anchor="middle">clinical</text><text x="443.3" y="802.8" font-size="7.3" text-anchor="middle">setting</text><line x1="492.4" y1="787.2" x2="492.4" y2="789.2" stroke="#aaa" stroke-width="0.6"/><text x="492.4" y="795.4" font-size="7.3" text-anchor="middle">gait-optimized</text><text x="492.4" y="802.8" font-size="7.3" text-anchor="middle">setting</text><text x="467.6" y="695.8" font-size="7.2" text-anchor="middle">p = 1.46e-01</text><text x="403.4" y="733.1" font-size="7.2" text-anchor="middle" transform="rotate(-90 403.4 733.1)">arm swing amplitude (m)</text><rect x="287.5" y="813.2" width="99.1" height="103.5" fill="#fff" stroke="#bbb" stroke-width="1"/><line x1="285.3" y1="822.9" x2="287.5" y2="822.9" stroke="#aaa" stroke-width="0.6"/><text x="284.6" y="825.35" font-size="6.9" text-anchor="end">0.75</text><line x1="285.3" y1="844.2" x2="287.5" y2="844.2" stroke="#aaa" stroke-width="0.6"/><text x="284.6" y="846.65" font-size="6.9" text-anchor="end">0.70</text><line x1="285.3" y1="865.4" x2="287.5" y2="865.4" stroke="#aaa" stroke-width="0.6"/><text x="284.6" y="867.85" font-size="6.9" text-anchor="end">0.65</text><line x1="285.3" y1="886.9" x2="287.5" y2="886.9" stroke="#aaa" stroke-width="0.6"/><text x="284.6" y="889.35" font-size="6.9" text-anchor="end">0.60</text><line x1="285.3" y1="908.3" x2="287.5" y2="908.3" stroke="#aaa" stroke-width="0.6"/><text x="284.6" y="910.75" font-size="6.9" text-anchor="end">0.55</text><path d="M312.6,823 C312.82,824.43 313.45,828.5 313.9,831.6 C314.35,834.7 314.38,838.98 315.3,841.6 C316.22,844.22 317.73,845.15 319.4,847.3 C321.07,849.45 323.63,852.12 325.3,854.5 C326.97,856.88 328.33,859.22 329.4,861.6 C330.47,863.98 331.13,866.88 331.7,868.8 C332.27,870.72 332.8,871.43 332.8,873.1 C332.8,874.77 332.47,876.65 331.7,878.8 C330.93,880.95 329.65,883.62 328.2,886 C326.75,888.38 324.83,890.72 323,893.1 C321.17,895.48 318.68,898.27 317.2,900.3 C315.72,902.33 314.87,903.75 314.1,905.3 C313.33,906.85 312.85,908.88 312.6,909.6 L312.6,909.6 C312.35,908.88 311.87,906.85 311.1,905.3 C310.33,903.75 309.48,902.33 308,900.3 C306.52,898.27 304.03,895.48 302.2,893.1 C300.37,890.72 298.45,888.38 297,886 C295.55,883.62 294.27,880.95 293.5,878.8 C292.73,876.65 292.4,874.77 292.4,873.1 C292.4,871.43 292.93,870.72 293.5,868.8 C294.07,866.88 294.73,863.98 295.8,861.6 C296.87,859.22 298.23,856.88 299.9,854.5 C301.57,852.12 304.13,849.45 305.8,847.3 C307.47,845.15 308.98,844.22 309.9,841.6 C310.82,838.98 310.85,834.7 311.3,831.6 C311.75,828.5 312.38,824.43 312.6,823 Z" fill="#d1d8d2" stroke="#555" stroke-width="0.6"/><line x1="294.57" y1="866.4" x2="330.63" y2="866.4" stroke="#858585" stroke-width="0.45"/><line x1="293.03" y1="874.8" x2="332.17" y2="874.8" stroke="#666" stroke-width="0.55" stroke-dasharray="1.5 0.9"/><line x1="296.04" y1="883.4" x2="329.16" y2="883.4" stroke="#858585" stroke-width="0.45"/><path d="M361.7,844.2 C362.05,845.43 362.97,849.65 363.8,851.6 C364.63,853.55 365.15,854.23 366.7,855.9 C368.25,857.57 371.32,859.45 373.1,861.6 C374.88,863.75 376.13,866.4 377.4,868.8 C378.67,871.2 380.03,874.33 380.7,876 C381.37,877.67 382.07,877.38 381.4,878.8 C380.73,880.22 378.67,882.35 376.7,884.5 C374.73,886.65 371.62,889.55 369.6,891.7 C367.58,893.85 365.92,895.73 364.6,897.4 C363.28,899.07 362.18,900.98 361.7,901.7 L361.7,901.7 C361.22,900.98 360.12,899.07 358.8,897.4 C357.48,895.73 355.82,893.85 353.8,891.7 C351.78,889.55 348.67,886.65 346.7,884.5 C344.73,882.35 342.67,880.22 342,878.8 C341.33,877.38 342.03,877.67 342.7,876 C343.37,874.33 344.73,871.2 346,868.8 C347.27,866.4 348.52,863.75 350.3,861.6 C352.08,859.45 355.15,857.57 356.7,855.9 C358.25,854.23 358.77,853.55 359.6,851.6 C360.43,849.65 361.35,845.43 361.7,844.2 Z" fill="#a6efc0" stroke="#555" stroke-width="0.6"/><line x1="347.14" y1="867.4" x2="376.26" y2="867.4" stroke="#858585" stroke-width="0.45"/><line x1="342.95" y1="876.2" x2="380.45" y2="876.2" stroke="#666" stroke-width="0.55" stroke-dasharray="1.5 0.9"/><line x1="343.45" y1="880.2" x2="379.95" y2="880.2" stroke="#858585" stroke-width="0.45"/><line x1="312.6" y1="916.7" x2="312.6" y2="918.7" stroke="#aaa" stroke-width="0.6"/><text x="312.6" y="924.9" font-size="7.3" text-anchor="middle">clinical</text><text x="312.6" y="932.3" font-size="7.3" text-anchor="middle">setting</text><line x1="361.7" y1="916.7" x2="361.7" y2="918.7" stroke="#aaa" stroke-width="0.6"/><text x="361.7" y="924.9" font-size="7.3" text-anchor="middle">gait-optimized</text><text x="361.7" y="932.3" font-size="7.3" text-anchor="middle">setting</text><text x="336.4" y="825.4" font-size="7.2" text-anchor="middle">p = 6.30e-01</text><text x="268" y="865" font-size="7.2" text-anchor="middle" transform="rotate(-90 268 865)">step time (s)</text><rect x="418.7" y="813.2" width="98.7" height="103.1" fill="#fff" stroke="#bbb" stroke-width="1"/><line x1="416.5" y1="835.6" x2="418.7" y2="835.6" stroke="#aaa" stroke-width="0.6"/><text x="415.8" y="838.05" font-size="6.9" text-anchor="end">0.7</text><line x1="416.5" y1="869.2" x2="418.7" y2="869.2" stroke="#aaa" stroke-width="0.6"/><text x="415.8" y="871.65" font-size="6.9" text-anchor="end">0.6</text><line x1="416.5" y1="902.6" x2="418.7" y2="902.6" stroke="#aaa" stroke-width="0.6"/><text x="415.8" y="905.05" font-size="6.9" text-anchor="end">0.5</text><path d="M443.6,820.9 C443.82,822.45 444.33,827.22 444.9,830.2 C445.47,833.18 445.93,836.18 447,838.8 C448.07,841.42 449.67,843.52 451.3,845.9 C452.93,848.28 455.13,850.72 456.8,853.1 C458.47,855.48 460.17,857.95 461.3,860.2 C462.43,862.45 463.6,864.45 463.6,866.6 C463.6,868.75 462.9,870.83 461.3,873.1 C459.7,875.37 456.3,877.82 454,880.2 C451.7,882.58 448.97,885.25 447.5,887.4 C446.03,889.55 445.65,890.48 445.2,893.1 C444.75,895.72 445.07,899.77 444.8,903.1 C444.53,906.43 443.8,911.43 443.6,913.1 L443.6,913.1 C443.4,911.43 442.67,906.43 442.4,903.1 C442.13,899.77 442.45,895.72 442,893.1 C441.55,890.48 441.17,889.55 439.7,887.4 C438.23,885.25 435.5,882.58 433.2,880.2 C430.9,877.82 427.5,875.37 425.9,873.1 C424.3,870.83 423.6,868.75 423.6,866.6 C423.6,864.45 424.77,862.45 425.9,860.2 C427.03,857.95 428.73,855.48 430.4,853.1 C432.07,850.72 434.27,848.28 435.9,845.9 C437.53,843.52 439.13,841.42 440.2,838.8 C441.27,836.18 441.73,833.18 442.3,830.2 C442.87,827.22 443.38,822.45 443.6,820.9 Z" fill="#d1d8d2" stroke="#555" stroke-width="0.6"/><line x1="426.09" y1="860.5" x2="461.11" y2="860.5" stroke="#858585" stroke-width="0.45"/><line x1="424.18" y1="867.4" x2="463.02" y2="867.4" stroke="#666" stroke-width="0.55" stroke-dasharray="1.5 0.9"/><line x1="426.2" y1="873.1" x2="461" y2="873.1" stroke="#858585" stroke-width="0.45"/><path d="M493,824.2 C493.3,825.43 493.73,829.17 494.8,831.6 C495.87,834.03 497.92,836.65 499.4,838.8 C500.88,840.95 502.77,842.37 503.7,844.5 C504.63,846.63 503.98,849.22 505,851.6 C506.02,853.98 508.5,856.77 509.8,858.8 C511.1,860.83 512.92,861.9 512.8,863.8 C512.68,865.7 510.97,868.18 509.1,870.2 C507.23,872.22 503.8,874.23 501.6,875.9 C499.4,877.57 497.33,878.52 495.9,880.2 C494.47,881.88 493.48,885.03 493,886 L493,886 C492.52,885.03 491.53,881.88 490.1,880.2 C488.67,878.52 486.6,877.57 484.4,875.9 C482.2,874.23 478.77,872.22 476.9,870.2 C475.03,868.18 473.32,865.7 473.2,863.8 C473.08,861.9 474.9,860.83 476.2,858.8 C477.5,856.77 479.98,853.98 481,851.6 C482.02,849.22 481.37,846.63 482.3,844.5 C483.23,842.37 485.12,840.95 486.6,838.8 C488.08,836.65 490.13,834.03 491.2,831.6 C492.27,829.17 492.7,825.43 493,824.2 Z" fill="#a6efc0" stroke="#555" stroke-width="0.6"/><line x1="481.48" y1="850.6" x2="504.52" y2="850.6" stroke="#858585" stroke-width="0.45"/><line x1="476.08" y1="859.5" x2="509.92" y2="859.5" stroke="#666" stroke-width="0.55" stroke-dasharray="1.5 0.9"/><line x1="475" y1="866.4" x2="511" y2="866.4" stroke="#858585" stroke-width="0.45"/><line x1="443.6" y1="916.3" x2="443.6" y2="918.3" stroke="#aaa" stroke-width="0.6"/><text x="443.6" y="924.5" font-size="7.3" text-anchor="middle">clinical</text><text x="443.6" y="931.9" font-size="7.3" text-anchor="middle">setting</text><line x1="493" y1="916.3" x2="493" y2="918.3" stroke="#aaa" stroke-width="0.6"/><text x="493" y="924.5" font-size="7.3" text-anchor="middle">gait-optimized</text><text x="493" y="931.9" font-size="7.3" text-anchor="middle">setting</text><text x="468.1" y="824.8" font-size="7.2" text-anchor="middle">p = 6.65e-03</text><text x="403" y="865" font-size="7.2" text-anchor="middle" transform="rotate(-90 403 865)">step length (m)</text><path d="M531.5,679.8 C537.31,679.8 539.8,682.8 539.8,689.8 L539.8,793.6 C539.8,799.6 544.12,802.6 547,803.6 C544.12,804.6 539.8,807.6 539.8,813.6 L539.8,918.1 C539.8,925.1 537.31,928.1 531.5,928.1 Z" fill="#c0c0c0"/><rect x="589.7" y="810.6" width="17.8" height="38.1" fill="#d0d8d2" stroke="#555" stroke-width="0.6"/><rect x="642.5" y="772.8" width="18" height="75.9" fill="#a0fbc2" stroke="#555" stroke-width="0.6"/><rect x="580.6" y="754.1" width="88.8" height="94.6" fill="none" stroke="#444" stroke-width="0.8"/><line x1="578.4" y1="754.1" x2="580.6" y2="754.1" stroke="#444" stroke-width="0.6"/><text x="576.4" y="756.3" font-size="6.4" text-anchor="end">1.03</text><line x1="578.4" y1="772.8" x2="580.6" y2="772.8" stroke="#444" stroke-width="0.6"/><text x="576.4" y="775" font-size="6.4" text-anchor="end">1.02</text><line x1="578.4" y1="791.7" x2="580.6" y2="791.7" stroke="#444" stroke-width="0.6"/><text x="576.4" y="793.9" font-size="6.4" text-anchor="end">1.01</text><line x1="578.4" y1="810.6" x2="580.6" y2="810.6" stroke="#444" stroke-width="0.6"/><text x="576.4" y="812.8" font-size="6.4" text-anchor="end">1.00</text><line x1="578.4" y1="829.5" x2="580.6" y2="829.5" stroke="#444" stroke-width="0.6"/><text x="576.4" y="831.7" font-size="6.4" text-anchor="end">0.99</text><line x1="578.4" y1="848.7" x2="580.6" y2="848.7" stroke="#444" stroke-width="0.6"/><text x="576.4" y="850.9" font-size="6.4" text-anchor="end">0.98</text><line x1="598.6" y1="848.7" x2="598.6" y2="850.7" stroke="#444" stroke-width="0.6"/><text x="598.6" y="858.5" font-size="6.5" text-anchor="middle">clinical</text><text x="598.6" y="866" font-size="6.5" text-anchor="middle">setting</text><line x1="651.5" y1="848.7" x2="651.5" y2="850.7" stroke="#444" stroke-width="0.6"/><text x="651.5" y="858.5" font-size="6.5" text-anchor="middle">gait-optimized</text><text x="651.5" y="866" font-size="6.5" text-anchor="middle">setting</text><text x="560" y="802" font-size="6.6" text-anchor="middle" transform="rotate(-90 560 802)">Normalized WPI</text><text x="106" y="977.6" font-size="10.6" font-weight="bold">(A) Model progression</text><text x="342.7" y="979" font-size="10.8" text-anchor="middle">Subject 3</text><text x="9.9" y="1152.5" font-size="10.6" font-weight="bold">(B) Final data-driven model</text><text x="259.1" y="1152.6" font-size="10.6" font-weight="bold">(C) Comparison between clinical setting and gait-optimized setting</text><rect x="105.2" y="983" width="167.8" height="152.9" fill="#f4f4e6"/><text x="189.1" y="994.7" font-size="9.6" text-anchor="middle">Visit 1</text><text x="184.05" y="1006.1" font-size="8" text-anchor="middle">Projected WPI</text><g clip-path="url(#c296)"><g filter="url(#f297)"><rect x="138.4" y="997.26" width="91.3" height="8.89" fill="url(#l298)"/><rect x="138.4" y="1005.55" width="91.3" height="8.89" fill="url(#l299)"/><rect x="138.4" y="1013.85" width="91.3" height="8.89" fill="url(#l300)"/><rect x="138.4" y="1022.14" width="91.3" height="8.89" fill="url(#l301)"/><rect x="138.4" y="1030.43" width="91.3" height="8.89" fill="url(#l302)"/><rect x="138.4" y="1038.72" width="91.3" height="8.89" fill="url(#l303)"/><rect x="138.4" y="1047.01" width="91.3" height="8.89" fill="url(#l304)"/><rect x="138.4" y="1055.3" width="91.3" height="8.89" fill="url(#l305)"/><rect x="138.4" y="1063.6" width="91.3" height="8.89" fill="url(#l306)"/><rect x="138.4" y="1071.89" width="91.3" height="8.89" fill="url(#l307)"/><rect x="138.4" y="1080.18" width="91.3" height="8.89" fill="url(#l308)"/><rect x="138.4" y="1088.47" width="91.3" height="8.89" fill="url(#l309)"/><rect x="138.4" y="1096.76" width="91.3" height="8.89" fill="url(#l310)"/><rect x="138.4" y="1105.05" width="91.3" height="8.89" fill="url(#l311)"/><rect x="138.4" y="1113.35" width="91.3" height="8.89" fill="url(#l312)"/></g></g><rect x="139.4" y="1010" width="89.3" height="99.5" fill="none" stroke="#333" stroke-width="0.8"/><line x1="137.1" y1="1022.3" x2="139.4" y2="1022.3" stroke="#333" stroke-width="0.6"/><text x="135.6" y="1024.6" font-size="6.6" text-anchor="end">4.75</text><line x1="137.1" y1="1037.1" x2="139.4" y2="1037.1" stroke="#333" stroke-width="0.6"/><text x="135.6" y="1039.4" font-size="6.6" text-anchor="end">4.50</text><line x1="137.1" y1="1052.4" x2="139.4" y2="1052.4" stroke="#333" stroke-width="0.6"/><text x="135.6" y="1054.7" font-size="6.6" text-anchor="end">4.25</text><line x1="137.1" y1="1067.7" x2="139.4" y2="1067.7" stroke="#333" stroke-width="0.6"/><text x="135.6" y="1070" font-size="6.6" text-anchor="end">4.00</text><line x1="137.1" y1="1083" x2="139.4" y2="1083" stroke="#333" stroke-width="0.6"/><text x="135.6" y="1085.3" font-size="6.6" text-anchor="end">3.75</text><line x1="137.1" y1="1098.4" x2="139.4" y2="1098.4" stroke="#333" stroke-width="0.6"/><text x="135.6" y="1100.7" font-size="6.6" text-anchor="end">3.50</text><line x1="168.7" y1="1109.5" x2="168.7" y2="1111.8" stroke="#333" stroke-width="0.6"/><text x="168.7" y="1119.7" font-size="6.6" text-anchor="middle">100</text><line x1="203" y1="1109.5" x2="203" y2="1111.8" stroke="#333" stroke-width="0.6"/><text x="203" y="1119.7" font-size="6.6" text-anchor="middle">150</text><text x="184.05" y="1128.4" font-size="6.6" text-anchor="middle">Frequency (Hz)</text><text x="117.7" y="1059.75" font-size="6.6" text-anchor="middle" transform="rotate(-90 117.7 1059.75)">Amplitude (mA)</text><rect x="234.3" y="1010" width="5.3" height="99.5" fill="url(#cb313)" stroke="#333" stroke-width="0.6"/><line x1="239.6" y1="1020.5" x2="241.8" y2="1020.5" stroke="#333" stroke-width="0.6"/><text x="243.5" y="1022.81" font-size="6.6">High</text><line x1="239.6" y1="1060.4" x2="241.8" y2="1060.4" stroke="#333" stroke-width="0.6"/><text x="243.5" y="1062.71" font-size="6.6">Medium</text><line x1="239.6" y1="1099.6" x2="241.8" y2="1099.6" stroke="#333" stroke-width="0.6"/><text x="243.5" y="1101.91" font-size="6.6">Low</text><rect x="273" y="983" width="166.2" height="152.9" fill="#e8f7f6"/><text x="356.1" y="994.7" font-size="9.6" text-anchor="middle">Visit 2</text><text x="348.85" y="1006.1" font-size="8" text-anchor="middle">Projected WPI</text><g clip-path="url(#c314)"><g filter="url(#f315)"><rect x="303.1" y="1001.41" width="91.5" height="6.13" fill="url(#l316)"/><rect x="303.1" y="1006.94" width="91.5" height="6.13" fill="url(#l317)"/><rect x="303.1" y="1012.46" width="91.5" height="6.13" fill="url(#l318)"/><rect x="303.1" y="1017.99" width="91.5" height="6.13" fill="url(#l319)"/><rect x="303.1" y="1023.52" width="91.5" height="6.13" fill="url(#l320)"/><rect x="303.1" y="1029.05" width="91.5" height="6.13" fill="url(#l321)"/><rect x="303.1" y="1034.58" width="91.5" height="6.13" fill="url(#l322)"/><rect x="303.1" y="1040.1" width="91.5" height="6.13" fill="url(#l323)"/><rect x="303.1" y="1045.63" width="91.5" height="6.13" fill="url(#l324)"/><rect x="303.1" y="1051.16" width="91.5" height="6.13" fill="url(#l325)"/><rect x="303.1" y="1056.69" width="91.5" height="6.13" fill="url(#l326)"/><rect x="303.1" y="1062.21" width="91.5" height="6.13" fill="url(#l327)"/><rect x="303.1" y="1067.74" width="91.5" height="6.13" fill="url(#l328)"/><rect x="303.1" y="1073.27" width="91.5" height="6.13" fill="url(#l329)"/><rect x="303.1" y="1078.8" width="91.5" height="6.13" fill="url(#l330)"/><rect x="303.1" y="1084.33" width="91.5" height="6.13" fill="url(#l331)"/><rect x="303.1" y="1089.85" width="91.5" height="6.13" fill="url(#l332)"/><rect x="303.1" y="1095.38" width="91.5" height="6.13" fill="url(#l333)"/><rect x="303.1" y="1100.91" width="91.5" height="6.13" fill="url(#l334)"/><rect x="303.1" y="1106.44" width="91.5" height="6.13" fill="url(#l335)"/><rect x="303.1" y="1111.96" width="91.5" height="6.13" fill="url(#l336)"/></g></g><rect x="304.1" y="1010" width="89.5" height="99.5" fill="none" stroke="#333" stroke-width="0.8"/><line x1="301.8" y1="1019.3" x2="304.1" y2="1019.3" stroke="#333" stroke-width="0.6"/><text x="300.3" y="1021.6" font-size="6.6" text-anchor="end">5.0</text><line x1="301.8" y1="1045.6" x2="304.1" y2="1045.6" stroke="#333" stroke-width="0.6"/><text x="300.3" y="1047.9" font-size="6.6" text-anchor="end">4.5</text><line x1="301.8" y1="1073.2" x2="304.1" y2="1073.2" stroke="#333" stroke-width="0.6"/><text x="300.3" y="1075.5" font-size="6.6" text-anchor="end">4.0</text><line x1="301.8" y1="1100.2" x2="304.1" y2="1100.2" stroke="#333" stroke-width="0.6"/><text x="300.3" y="1102.5" font-size="6.6" text-anchor="end">3.5</text><line x1="333.4" y1="1109.5" x2="333.4" y2="1111.8" stroke="#333" stroke-width="0.6"/><text x="333.4" y="1119.7" font-size="6.6" text-anchor="middle">100</text><line x1="367.4" y1="1109.5" x2="367.4" y2="1111.8" stroke="#333" stroke-width="0.6"/><text x="367.4" y="1119.7" font-size="6.6" text-anchor="middle">150</text><text x="348.85" y="1128.4" font-size="6.6" text-anchor="middle">Frequency (Hz)</text><text x="285.1" y="1059.75" font-size="6.6" text-anchor="middle" transform="rotate(-90 285.1 1059.75)">Amplitude (mA)</text><rect x="399.2" y="1010" width="5.3" height="99.5" fill="url(#cb337)" stroke="#333" stroke-width="0.6"/><line x1="404.5" y1="1020.5" x2="406.7" y2="1020.5" stroke="#333" stroke-width="0.6"/><text x="408.4" y="1022.81" font-size="6.6">High</text><line x1="404.5" y1="1060.4" x2="406.7" y2="1060.4" stroke="#333" stroke-width="0.6"/><text x="408.4" y="1062.71" font-size="6.6">Medium</text><line x1="404.5" y1="1099.6" x2="406.7" y2="1099.6" stroke="#333" stroke-width="0.6"/><text x="408.4" y="1101.91" font-size="6.6">Low</text><rect x="439.2" y="983" width="167.3" height="152.9" fill="#c0c0c0"/><text x="522.85" y="994.7" font-size="9.6" text-anchor="middle">Visit 3</text><text x="516" y="1006.1" font-size="8" text-anchor="middle">Projected WPI</text><g clip-path="url(#c338)"><g filter="url(#f339)"><rect x="468.7" y="1001.41" width="94.6" height="6.13" fill="url(#l340)"/><rect x="468.7" y="1006.94" width="94.6" height="6.13" fill="url(#l341)"/><rect x="468.7" y="1012.46" width="94.6" height="6.13" fill="url(#l342)"/><rect x="468.7" y="1017.99" width="94.6" height="6.13" fill="url(#l343)"/><rect x="468.7" y="1023.52" width="94.6" height="6.13" fill="url(#l344)"/><rect x="468.7" y="1029.05" width="94.6" height="6.13" fill="url(#l345)"/><rect x="468.7" y="1034.58" width="94.6" height="6.13" fill="url(#l346)"/><rect x="468.7" y="1040.1" width="94.6" height="6.13" fill="url(#l347)"/><rect x="468.7" y="1045.63" width="94.6" height="6.13" fill="url(#l348)"/><rect x="468.7" y="1051.16" width="94.6" height="6.13" fill="url(#l349)"/><rect x="468.7" y="1056.69" width="94.6" height="6.13" fill="url(#l350)"/><rect x="468.7" y="1062.21" width="94.6" height="6.13" fill="url(#l351)"/><rect x="468.7" y="1067.74" width="94.6" height="6.13" fill="url(#l352)"/><rect x="468.7" y="1073.27" width="94.6" height="6.13" fill="url(#l353)"/><rect x="468.7" y="1078.8" width="94.6" height="6.13" fill="url(#l354)"/><rect x="468.7" y="1084.33" width="94.6" height="6.13" fill="url(#l355)"/><rect x="468.7" y="1089.85" width="94.6" height="6.13" fill="url(#l356)"/><rect x="468.7" y="1095.38" width="94.6" height="6.13" fill="url(#l357)"/><rect x="468.7" y="1100.91" width="94.6" height="6.13" fill="url(#l358)"/><rect x="468.7" y="1106.44" width="94.6" height="6.13" fill="url(#l359)"/><rect x="468.7" y="1111.96" width="94.6" height="6.13" fill="url(#l360)"/></g></g><rect x="469.7" y="1010" width="92.6" height="99.5" fill="none" stroke="#333" stroke-width="0.8"/><line x1="467.4" y1="1016.8" x2="469.7" y2="1016.8" stroke="#333" stroke-width="0.6"/><text x="465.9" y="1019.1" font-size="6.6" text-anchor="end">5.0</text><line x1="467.4" y1="1038.2" x2="469.7" y2="1038.2" stroke="#333" stroke-width="0.6"/><text x="465.9" y="1040.5" font-size="6.6" text-anchor="end">4.5</text><line x1="467.4" y1="1059.5" x2="469.7" y2="1059.5" stroke="#333" stroke-width="0.6"/><text x="465.9" y="1061.8" font-size="6.6" text-anchor="end">4.0</text><line x1="467.4" y1="1081.3" x2="469.7" y2="1081.3" stroke="#333" stroke-width="0.6"/><text x="465.9" y="1083.6" font-size="6.6" text-anchor="end">3.5</text><line x1="467.4" y1="1102.3" x2="469.7" y2="1102.3" stroke="#333" stroke-width="0.6"/><text x="465.9" y="1104.6" font-size="6.6" text-anchor="end">3.0</text><line x1="497.1" y1="1109.5" x2="497.1" y2="1111.8" stroke="#333" stroke-width="0.6"/><text x="497.1" y="1119.7" font-size="6.6" text-anchor="middle">100</text><line x1="530" y1="1109.5" x2="530" y2="1111.8" stroke="#333" stroke-width="0.6"/><text x="530" y="1119.7" font-size="6.6" text-anchor="middle">150</text><line x1="561.7" y1="1109.5" x2="561.7" y2="1111.8" stroke="#333" stroke-width="0.6"/><text x="561.7" y="1119.7" font-size="6.6" text-anchor="middle">200</text><text x="516" y="1128.4" font-size="6.6" text-anchor="middle">Frequency (Hz)</text><text x="451.4" y="1059.75" font-size="6.6" text-anchor="middle" transform="rotate(-90 451.4 1059.75)">Amplitude (mA)</text><rect x="567.9" y="1010" width="5.3" height="99.5" fill="url(#cb361)" stroke="#333" stroke-width="0.6"/><line x1="573.2" y1="1020.5" x2="575.4" y2="1020.5" stroke="#333" stroke-width="0.6"/><text x="577.1" y="1022.81" font-size="6.6">High</text><line x1="573.2" y1="1060.4" x2="575.4" y2="1060.4" stroke="#333" stroke-width="0.6"/><text x="577.1" y="1062.71" font-size="6.6">Medium</text><line x1="573.2" y1="1099.6" x2="575.4" y2="1099.6" stroke="#333" stroke-width="0.6"/><text x="577.1" y="1101.91" font-size="6.6">Low</text><rect x="3.6" y="1158.6" width="239.1" height="265.9" rx="9.5" fill="none" stroke="#777" stroke-width="1"/><rect x="256" y="1158.2" width="425" height="265.6" rx="9.5" fill="none" stroke="#777" stroke-width="1"/><g clip-path="url(#c362)"><g filter="url(#f363)"><rect x="40.2" y="1157.13" width="114.9" height="7.11" fill="url(#l364)"/><rect x="40.2" y="1163.64" width="114.9" height="7.11" fill="url(#l365)"/><rect x="40.2" y="1170.16" width="114.9" height="7.11" fill="url(#l366)"/><rect x="40.2" y="1176.67" width="114.9" height="7.11" fill="url(#l367)"/><rect x="40.2" y="1183.18" width="114.9" height="7.11" fill="url(#l368)"/><rect x="40.2" y="1189.69" width="114.9" height="7.11" fill="url(#l369)"/><rect x="40.2" y="1196.21" width="114.9" height="7.11" fill="url(#l370)"/><rect x="40.2" y="1202.72" width="114.9" height="7.11" fill="url(#l371)"/><rect x="40.2" y="1209.23" width="114.9" height="7.11" fill="url(#l372)"/><rect x="40.2" y="1215.74" width="114.9" height="7.11" fill="url(#l373)"/><rect x="40.2" y="1222.26" width="114.9" height="7.11" fill="url(#l374)"/></g></g><g clip-path="url(#c375)"><g filter="url(#f376)"><rect x="40.2" y="1179.3" width="58.2" height="8.67" fill="url(#l377)"/><rect x="40.2" y="1187.37" width="58.2" height="8.67" fill="url(#l378)"/><rect x="40.2" y="1195.43" width="58.2" height="8.67" fill="url(#l379)"/><rect x="40.2" y="1203.51" width="58.2" height="8.67" fill="url(#l380)"/><rect x="40.2" y="1211.58" width="58.2" height="8.67" fill="url(#l381)"/><rect x="40.2" y="1219.64" width="58.2" height="8.67" fill="url(#l382)"/><rect x="40.2" y="1227.72" width="58.2" height="8.67" fill="url(#l383)"/><rect x="40.2" y="1235.79" width="58.2" height="8.67" fill="url(#l384)"/><rect x="40.2" y="1243.86" width="58.2" height="8.67" fill="url(#l385)"/><rect x="40.2" y="1251.92" width="58.2" height="8.67" fill="url(#l386)"/><rect x="40.2" y="1260" width="58.2" height="8.67" fill="url(#l387)"/><rect x="40.2" y="1268.07" width="58.2" height="8.67" fill="url(#l388)"/><rect x="40.2" y="1276.13" width="58.2" height="8.67" fill="url(#l389)"/></g></g><g clip-path="url(#c390)"><g filter="url(#f391)"><rect x="96.4" y="1179.3" width="58.7" height="8.67" fill="url(#l392)"/><rect x="96.4" y="1187.37" width="58.7" height="8.67" fill="url(#l393)"/><rect x="96.4" y="1195.43" width="58.7" height="8.67" fill="url(#l394)"/><rect x="96.4" y="1203.51" width="58.7" height="8.67" fill="url(#l395)"/><rect x="96.4" y="1211.58" width="58.7" height="8.67" fill="url(#l396)"/><rect x="96.4" y="1219.64" width="58.7" height="8.67" fill="url(#l397)"/><rect x="96.4" y="1227.72" width="58.7" height="8.67" fill="url(#l398)"/><rect x="96.4" y="1235.79" width="58.7" height="8.67" fill="url(#l399)"/><rect x="96.4" y="1243.86" width="58.7" height="8.67" fill="url(#l400)"/><rect x="96.4" y="1251.92" width="58.7" height="8.67" fill="url(#l401)"/><rect x="96.4" y="1260" width="58.7" height="8.67" fill="url(#l402)"/><rect x="96.4" y="1268.07" width="58.7" height="8.67" fill="url(#l403)"/><rect x="96.4" y="1276.13" width="58.7" height="8.67" fill="url(#l404)"/></g></g><polygon points="41.2,1191.7 97.4,1167.2 154.1,1191.7 97.4,1219.3" fill="none" stroke="#555" stroke-width="0.7"/><polyline points="97.4,1219.3 97.4,1272.4" fill="none" stroke="#555" stroke-width="0.7"/><g clip-path="url(#c405)"><g filter="url(#f406)"><rect x="42.9" y="1288.55" width="58.6" height="16.7" fill="url(#l407)"/><rect x="42.9" y="1304.65" width="58.6" height="16.7" fill="url(#l408)"/><rect x="42.9" y="1320.75" width="58.6" height="16.7" fill="url(#l409)"/><rect x="42.9" y="1336.85" width="58.6" height="16.7" fill="url(#l410)"/><rect x="42.9" y="1352.95" width="58.6" height="16.7" fill="url(#l411)"/><rect x="42.9" y="1369.05" width="58.6" height="16.7" fill="url(#l412)"/><rect x="42.9" y="1385.15" width="58.6" height="16.7" fill="url(#l413)"/><rect x="42.9" y="1401.25" width="58.6" height="16.7" fill="url(#l414)"/></g></g><g clip-path="url(#c415)"><g filter="url(#f416)"><rect x="99.5" y="1288.37" width="58.2" height="16.82" fill="url(#l417)"/><rect x="99.5" y="1304.59" width="58.2" height="16.82" fill="url(#l418)"/><rect x="99.5" y="1320.81" width="58.2" height="16.82" fill="url(#l419)"/><rect x="99.5" y="1337.03" width="58.2" height="16.82" fill="url(#l420)"/><rect x="99.5" y="1353.25" width="58.2" height="16.82" fill="url(#l421)"/><rect x="99.5" y="1369.47" width="58.2" height="16.82" fill="url(#l422)"/><rect x="99.5" y="1385.69" width="58.2" height="16.82" fill="url(#l423)"/><rect x="99.5" y="1401.91" width="58.2" height="16.82" fill="url(#l424)"/></g></g><g clip-path="url(#c425)"><g filter="url(#f426)"><rect x="42.9" y="1355.24" width="114.8" height="7.24" fill="url(#l427)"/><rect x="42.9" y="1361.88" width="114.8" height="7.24" fill="url(#l428)"/><rect x="42.9" y="1368.52" width="114.8" height="7.24" fill="url(#l429)"/><rect x="42.9" y="1375.16" width="114.8" height="7.24" fill="url(#l430)"/><rect x="42.9" y="1381.79" width="114.8" height="7.24" fill="url(#l431)"/><rect x="42.9" y="1388.43" width="114.8" height="7.24" fill="url(#l432)"/><rect x="42.9" y="1395.07" width="114.8" height="7.24" fill="url(#l433)"/><rect x="42.9" y="1401.71" width="114.8" height="7.24" fill="url(#l434)"/><rect x="42.9" y="1408.34" width="114.8" height="7.24" fill="url(#l435)"/><rect x="42.9" y="1414.98" width="114.8" height="7.24" fill="url(#l436)"/><rect x="42.9" y="1421.62" width="114.8" height="7.24" fill="url(#l437)"/></g></g><line x1="100.5" y1="1365.5" x2="100.5" y2="1313" stroke="#444" stroke-width="0.6" stroke-dasharray="2 1.3"/><line x1="100.5" y1="1365.5" x2="43.9" y2="1393.5" stroke="#444" stroke-width="0.6" stroke-dasharray="2 1.3"/><line x1="100.5" y1="1365.5" x2="156.7" y2="1394.1" stroke="#444" stroke-width="0.6" stroke-dasharray="2 1.3"/><polyline points="36.3,1247.4 97.4,1280.9 159.5,1245 162.1,1187.6" fill="none" stroke="#bbb" stroke-width="0.6"/><polyline points="36.2,1397.7 38.5,1339.8 100.5,1304.8 161.2,1340.9" fill="none" stroke="#bbb" stroke-width="0.6"/><text x="46.7" y="1264.5" font-size="7.1" text-anchor="middle">4.5</text><text x="60.2" y="1272.2" font-size="7.1" text-anchor="middle">4.0</text><text x="74.8" y="1281" font-size="7.1" text-anchor="middle">3.5</text><text x="89.4" y="1289.4" font-size="7.1" text-anchor="middle">3.0</text><text x="154" y="1261.3" font-size="7.1" text-anchor="middle">75</text><text x="143.1" y="1268.6" font-size="7.1" text-anchor="middle">100</text><text x="133.2" y="1272.9" font-size="7.1" text-anchor="middle">125</text><text x="124.1" y="1279.1" font-size="7.1" text-anchor="middle">150</text><text x="112.4" y="1286.5" font-size="7.1" text-anchor="middle">175</text><text x="83.2" y="1306.5" font-size="7.1" text-anchor="middle">75</text><text x="72.3" y="1312.4" font-size="7.1" text-anchor="middle">100</text><text x="61.3" y="1318.6" font-size="7.1" text-anchor="middle">125</text><text x="49.3" y="1324" font-size="7.1" text-anchor="middle">150</text><text x="38.3" y="1330.2" font-size="7.1" text-anchor="middle">175</text><text x="122.3" y="1308.7" font-size="7.1" text-anchor="middle">4.5</text><text x="136.9" y="1317.5" font-size="7.1" text-anchor="middle">4.0</text><text x="149.6" y="1325.9" font-size="7.1" text-anchor="middle">3.5</text><text x="164.2" y="1333.2" font-size="7.1" text-anchor="middle">3.0</text><text x="54.7" y="1278.3" font-size="6.9" text-anchor="middle" transform="rotate(28 54.7 1278.3)">Amplitude (mA)</text><text x="139.5" y="1279.5" font-size="6.9" text-anchor="middle" transform="rotate(-30 139.5 1279.5)">Frequency (Hz)</text><text x="54.7" y="1313" font-size="6.9" text-anchor="middle" transform="rotate(-30 54.7 1313)">Frequency (Hz)</text><text x="142.3" y="1307.5" font-size="6.9" text-anchor="middle" transform="rotate(30 142.3 1307.5)">Amplitude (mA)</text><text x="165.8" y="1197" font-size="7.1">80</text><text x="165.13" y="1209.8" font-size="7.1">75</text><text x="164.51" y="1221.8" font-size="7.1">70</text><text x="163.82" y="1235" font-size="7.1">65</text><text x="163.18" y="1247.4" font-size="7.1">60</text><text x="25.7" y="1347.8" font-size="7.1" text-anchor="middle">80</text><text x="25.2" y="1359.4" font-size="7.1" text-anchor="middle">75</text><text x="24.65" y="1372.2" font-size="7.1" text-anchor="middle">70</text><text x="24.1" y="1385" font-size="7.1" text-anchor="middle">65</text><text x="23.55" y="1397.8" font-size="7.1" text-anchor="middle">60</text><text x="181.1" y="1217.5" font-size="6.9" text-anchor="middle" transform="rotate(-90 181.1 1217.5)">Pulse width (<tspan font-style="italic">μ</tspan>s)</text><text x="16.9" y="1369" font-size="6.9" text-anchor="middle" transform="rotate(-90 16.9 1369)">Pulse width (<tspan font-style="italic">μ</tspan>s)</text><rect x="198.9" y="1179.9" width="6.2" height="98.6" fill="url(#cb438)"/><line x1="205.1" y1="1180.4" x2="206.3" y2="1180.4" stroke="#333" stroke-width="0.6"/><text x="206.9" y="1182.78" font-size="6.8">High</text><line x1="205.1" y1="1229.2" x2="206.3" y2="1229.2" stroke="#333" stroke-width="0.6"/><text x="206.9" y="1231.58" font-size="6.8">Medium</text><line x1="205.1" y1="1278.5" x2="206.3" y2="1278.5" stroke="#333" stroke-width="0.6"/><text x="206.9" y="1280.88" font-size="6.8">Low</text><rect x="198.9" y="1314.2" width="6.2" height="98.6" fill="url(#cb439)"/><line x1="205.1" y1="1314.7" x2="206.3" y2="1314.7" stroke="#333" stroke-width="0.6"/><text x="206.9" y="1317.08" font-size="6.8">High</text><line x1="205.1" y1="1363.5" x2="206.3" y2="1363.5" stroke="#333" stroke-width="0.6"/><text x="206.9" y="1365.88" font-size="6.8">Medium</text><line x1="205.1" y1="1412.8" x2="206.3" y2="1412.8" stroke="#333" stroke-width="0.6"/><text x="206.9" y="1415.18" font-size="6.8">Low</text><rect x="286.9" y="1170.4" width="98.7" height="101.7" fill="#fff" stroke="#bbb" stroke-width="1"/><line x1="284.7" y1="1193.3" x2="286.9" y2="1193.3" stroke="#aaa" stroke-width="0.6"/><text x="284" y="1195.75" font-size="6.9" text-anchor="end">1.2</text><line x1="284.7" y1="1220.6" x2="286.9" y2="1220.6" stroke="#aaa" stroke-width="0.6"/><text x="284" y="1223.05" font-size="6.9" text-anchor="end">1.0</text><line x1="284.7" y1="1248.3" x2="286.9" y2="1248.3" stroke="#aaa" stroke-width="0.6"/><text x="284" y="1250.75" font-size="6.9" text-anchor="end">0.8</text><path d="M311.6,1180.7 C312.13,1181.53 313.25,1183.9 314.8,1185.7 C316.35,1187.5 319.05,1189.58 320.9,1191.5 C322.75,1193.42 324.47,1195.3 325.9,1197.2 C327.33,1199.1 328.6,1200.75 329.5,1202.9 C330.4,1205.05 331.25,1207.95 331.3,1210.1 C331.35,1212.25 330.88,1213.9 329.8,1215.8 C328.72,1217.7 326.7,1219.6 324.8,1221.5 C322.9,1223.4 320.07,1225.3 318.4,1227.2 C316.73,1229.1 315.73,1230.75 314.8,1232.9 C313.87,1235.05 313.17,1236.28 312.8,1240.1 C312.43,1243.92 312.8,1250.8 312.6,1255.8 C312.4,1260.8 311.77,1267.72 311.6,1270.1 L311.6,1270.1 C311.43,1267.72 310.8,1260.8 310.6,1255.8 C310.4,1250.8 310.77,1243.92 310.4,1240.1 C310.03,1236.28 309.33,1235.05 308.4,1232.9 C307.47,1230.75 306.47,1229.1 304.8,1227.2 C303.13,1225.3 300.3,1223.4 298.4,1221.5 C296.5,1219.6 294.48,1217.7 293.4,1215.8 C292.32,1213.9 291.85,1212.25 291.9,1210.1 C291.95,1207.95 292.8,1205.05 293.7,1202.9 C294.6,1200.75 295.87,1199.1 297.3,1197.2 C298.73,1195.3 300.45,1193.42 302.3,1191.5 C304.15,1189.58 306.85,1187.5 308.4,1185.7 C309.95,1183.9 311.07,1181.53 311.6,1180.7 Z" fill="#d1d8d2" stroke="#555" stroke-width="0.6"/><line x1="295.07" y1="1201.2" x2="328.13" y2="1201.2" stroke="#858585" stroke-width="0.45"/><line x1="292.25" y1="1210.3" x2="330.95" y2="1210.3" stroke="#666" stroke-width="0.55" stroke-dasharray="1.5 0.9"/><line x1="294.05" y1="1216.2" x2="329.15" y2="1216.2" stroke="#858585" stroke-width="0.45"/><path d="M360.7,1178.6 C361.42,1179.78 363.22,1183.55 365,1185.7 C366.78,1187.85 369.5,1189.58 371.4,1191.5 C373.3,1193.42 374.88,1195.07 376.4,1197.2 C377.92,1199.33 380.25,1201.92 380.5,1204.3 C380.75,1206.68 379.47,1209.12 377.9,1211.5 C376.33,1213.88 373.25,1216.22 371.1,1218.6 C368.95,1220.98 366.43,1223.42 365,1225.8 C363.57,1228.18 362.98,1229.08 362.5,1232.9 C362.02,1236.72 362.4,1242.97 362.1,1248.7 C361.8,1254.43 360.93,1264.2 360.7,1267.3 L360.7,1267.3 C360.47,1264.2 359.6,1254.43 359.3,1248.7 C359,1242.97 359.38,1236.72 358.9,1232.9 C358.42,1229.08 357.83,1228.18 356.4,1225.8 C354.97,1223.42 352.45,1220.98 350.3,1218.6 C348.15,1216.22 345.07,1213.88 343.5,1211.5 C341.93,1209.12 340.65,1206.68 340.9,1204.3 C341.15,1201.92 343.48,1199.33 345,1197.2 C346.52,1195.07 348.1,1193.42 350,1191.5 C351.9,1189.58 354.62,1187.85 356.4,1185.7 C358.18,1183.55 359.98,1179.78 360.7,1178.6 Z" fill="#a6efc0" stroke="#555" stroke-width="0.6"/><line x1="342.82" y1="1201.5" x2="378.58" y2="1201.5" stroke="#858585" stroke-width="0.45"/><line x1="342.36" y1="1207.5" x2="379.04" y2="1207.5" stroke="#666" stroke-width="0.55" stroke-dasharray="1.5 0.9"/><line x1="346.48" y1="1214.3" x2="374.92" y2="1214.3" stroke="#858585" stroke-width="0.45"/><line x1="311.6" y1="1272.1" x2="311.6" y2="1274.1" stroke="#aaa" stroke-width="0.6"/><text x="311.6" y="1280.3" font-size="7.3" text-anchor="middle">clinical</text><text x="311.6" y="1287.7" font-size="7.3" text-anchor="middle">setting</text><line x1="360.7" y1="1272.1" x2="360.7" y2="1274.1" stroke="#aaa" stroke-width="0.6"/><text x="360.7" y="1280.3" font-size="7.3" text-anchor="middle">gait-optimized</text><text x="360.7" y="1287.7" font-size="7.3" text-anchor="middle">setting</text><text x="335.7" y="1181.9" font-size="7.2" text-anchor="middle">p = 3.78e-01</text><text x="270.5" y="1221" font-size="7.2" text-anchor="middle" transform="rotate(-90 270.5 1221)">stride velocity (m/s)</text><rect x="420.6" y="1170.9" width="99.1" height="101.5" fill="#fff" stroke="#bbb" stroke-width="1"/><line x1="418.4" y1="1174.7" x2="420.6" y2="1174.7" stroke="#aaa" stroke-width="0.6"/><text x="417.7" y="1177.15" font-size="6.9" text-anchor="end">1.6</text><line x1="418.4" y1="1202.2" x2="420.6" y2="1202.2" stroke="#aaa" stroke-width="0.6"/><text x="417.7" y="1204.65" font-size="6.9" text-anchor="end">1.4</text><line x1="418.4" y1="1229.7" x2="420.6" y2="1229.7" stroke="#aaa" stroke-width="0.6"/><text x="417.7" y="1232.15" font-size="6.9" text-anchor="end">1.2</text><line x1="418.4" y1="1257.6" x2="420.6" y2="1257.6" stroke="#aaa" stroke-width="0.6"/><text x="417.7" y="1260.05" font-size="6.9" text-anchor="end">1.0</text><path d="M445.6,1183.2 C445.9,1184.82 446.5,1190.1 447.4,1192.9 C448.3,1195.7 449.57,1197.62 451,1200 C452.43,1202.38 454.1,1204.82 456,1207.2 C457.9,1209.58 460.85,1212.03 462.4,1214.3 C463.95,1216.57 465.3,1218.65 465.3,1220.8 C465.3,1222.95 464.07,1225.18 462.4,1227.2 C460.73,1229.22 457.57,1230.98 455.3,1232.9 C453.03,1234.82 450.15,1236.78 448.8,1238.7 C447.45,1240.62 447.53,1241.55 447.2,1244.4 C446.87,1247.25 447.07,1251.87 446.8,1255.8 C446.53,1259.73 445.8,1265.97 445.6,1268 L445.6,1268 C445.4,1265.97 444.67,1259.73 444.4,1255.8 C444.13,1251.87 444.33,1247.25 444,1244.4 C443.67,1241.55 443.75,1240.62 442.4,1238.7 C441.05,1236.78 438.17,1234.82 435.9,1232.9 C433.63,1230.98 430.47,1229.22 428.8,1227.2 C427.13,1225.18 425.9,1222.95 425.9,1220.8 C425.9,1218.65 427.25,1216.57 428.8,1214.3 C430.35,1212.03 433.3,1209.58 435.2,1207.2 C437.1,1204.82 438.77,1202.38 440.2,1200 C441.63,1197.62 442.9,1195.7 443.8,1192.9 C444.7,1190.1 445.3,1184.82 445.6,1183.2 Z" fill="#d1d8d2" stroke="#555" stroke-width="0.6"/><line x1="428.25" y1="1216.2" x2="462.95" y2="1216.2" stroke="#858585" stroke-width="0.45"/><line x1="426.52" y1="1221.5" x2="464.68" y2="1221.5" stroke="#666" stroke-width="0.55" stroke-dasharray="1.5 0.9"/><line x1="429.47" y1="1227.5" x2="461.73" y2="1227.5" stroke="#858585" stroke-width="0.45"/><path d="M495.1,1183.2 C495.82,1184.33 497.55,1187.9 499.4,1190 C501.25,1192.1 504.23,1193.88 506.2,1195.8 C508.17,1197.72 509.75,1199.37 511.2,1201.5 C512.65,1203.63 514.97,1206.47 514.9,1208.6 C514.83,1210.73 512.67,1212.15 510.8,1214.3 C508.93,1216.45 505.48,1218.87 503.7,1221.5 C501.92,1224.13 501.05,1227.23 500.1,1230.1 C499.15,1232.97 498.57,1235.6 498,1238.7 C497.43,1241.8 497.18,1244.17 496.7,1248.7 C496.22,1253.23 495.37,1263.03 495.1,1265.9 L495.1,1265.9 C494.83,1263.03 493.98,1253.23 493.5,1248.7 C493.02,1244.17 492.77,1241.8 492.2,1238.7 C491.63,1235.6 491.05,1232.97 490.1,1230.1 C489.15,1227.23 488.28,1224.13 486.5,1221.5 C484.72,1218.87 481.27,1216.45 479.4,1214.3 C477.53,1212.15 475.37,1210.73 475.3,1208.6 C475.23,1206.47 477.55,1203.63 479,1201.5 C480.45,1199.37 482.03,1197.72 484,1195.8 C485.97,1193.88 488.95,1192.1 490.8,1190 C492.65,1187.9 494.38,1184.33 495.1,1183.2 Z" fill="#a6efc0" stroke="#555" stroke-width="0.6"/><line x1="477.48" y1="1205" x2="512.72" y2="1205" stroke="#858585" stroke-width="0.45"/><line x1="476.97" y1="1210.5" x2="513.23" y2="1210.5" stroke="#666" stroke-width="0.55" stroke-dasharray="1.5 0.9"/><line x1="482.56" y1="1217.2" x2="507.64" y2="1217.2" stroke="#858585" stroke-width="0.45"/><line x1="445.6" y1="1272.4" x2="445.6" y2="1274.4" stroke="#aaa" stroke-width="0.6"/><text x="445.6" y="1280.6" font-size="7.3" text-anchor="middle">clinical</text><text x="445.6" y="1288" font-size="7.3" text-anchor="middle">setting</text><line x1="495.1" y1="1272.4" x2="495.1" y2="1274.4" stroke="#aaa" stroke-width="0.6"/><text x="495.1" y="1280.6" font-size="7.3" text-anchor="middle">gait-optimized</text><text x="495.1" y="1288" font-size="7.3" text-anchor="middle">setting</text><text x="470.5" y="1183.2" font-size="7.2" text-anchor="middle">p = 4.60e-08</text><text x="404.8" y="1221" font-size="7.2" text-anchor="middle" transform="rotate(-90 404.8 1221)">arm swing amplitude (m)</text><rect x="288.5" y="1298.4" width="98.5" height="101.9" fill="#fff" stroke="#bbb" stroke-width="1"/><line x1="286.3" y1="1314.6" x2="288.5" y2="1314.6" stroke="#aaa" stroke-width="0.6"/><text x="285.6" y="1317.05" font-size="6.9" text-anchor="end">0.525</text><line x1="286.3" y1="1333.9" x2="288.5" y2="1333.9" stroke="#aaa" stroke-width="0.6"/><text x="285.6" y="1336.35" font-size="6.9" text-anchor="end">0.500</text><line x1="286.3" y1="1353.4" x2="288.5" y2="1353.4" stroke="#aaa" stroke-width="0.6"/><text x="285.6" y="1355.85" font-size="6.9" text-anchor="end">0.475</text><line x1="286.3" y1="1372.7" x2="288.5" y2="1372.7" stroke="#aaa" stroke-width="0.6"/><text x="285.6" y="1375.15" font-size="6.9" text-anchor="end">0.450</text><line x1="286.3" y1="1392.4" x2="288.5" y2="1392.4" stroke="#aaa" stroke-width="0.6"/><text x="285.6" y="1394.85" font-size="6.9" text-anchor="end">0.425</text><path d="M313.3,1310.2 C313.65,1311.75 314.5,1316.77 315.4,1319.5 C316.3,1322.23 317.43,1324.47 318.7,1326.6 C319.97,1328.73 321.33,1330.15 323,1332.3 C324.67,1334.45 327.07,1337.12 328.7,1339.5 C330.33,1341.88 332.05,1344.93 332.8,1346.6 C333.55,1348.27 333.7,1348.07 333.2,1349.5 C332.7,1350.93 331.45,1353.05 329.8,1355.2 C328.15,1357.35 325.33,1360.02 323.3,1362.4 C321.27,1364.78 319,1367.35 317.6,1369.5 C316.2,1371.65 315.62,1373.38 314.9,1375.3 C314.18,1377.22 313.57,1380.05 313.3,1381 L313.3,1381 C313.03,1380.05 312.42,1377.22 311.7,1375.3 C310.98,1373.38 310.4,1371.65 309,1369.5 C307.6,1367.35 305.33,1364.78 303.3,1362.4 C301.27,1360.02 298.45,1357.35 296.8,1355.2 C295.15,1353.05 293.9,1350.93 293.4,1349.5 C292.9,1348.07 293.05,1348.27 293.8,1346.6 C294.55,1344.93 296.27,1341.88 297.9,1339.5 C299.53,1337.12 301.93,1334.45 303.6,1332.3 C305.27,1330.15 306.63,1328.73 307.9,1326.6 C309.17,1324.47 310.3,1322.23 311.2,1319.5 C312.1,1316.77 312.95,1311.75 313.3,1310.2 Z" fill="#d1d8d2" stroke="#555" stroke-width="0.6"/><line x1="297.22" y1="1341.2" x2="329.38" y2="1341.2" stroke="#858585" stroke-width="0.45"/><line x1="293.76" y1="1349.1" x2="332.84" y2="1349.1" stroke="#666" stroke-width="0.55" stroke-dasharray="1.5 0.9"/><line x1="298" y1="1356.2" x2="328.6" y2="1356.2" stroke="#858585" stroke-width="0.45"/><path d="M362.7,1324.5 C363.42,1325.57 365.38,1328.63 367,1330.9 C368.62,1333.17 370.67,1335.72 372.4,1338.1 C374.13,1340.48 375.98,1342.82 377.4,1345.2 C378.82,1347.58 380.05,1350.48 380.9,1352.4 C381.75,1354.32 383.08,1355.03 382.5,1356.7 C381.92,1358.37 379.57,1360.27 377.4,1362.4 C375.23,1364.53 371.6,1367.12 369.5,1369.5 C367.4,1371.88 365.73,1374.32 364.8,1376.7 C363.87,1379.08 364.25,1381.18 363.9,1383.8 C363.55,1386.42 362.9,1390.97 362.7,1392.4 L362.7,1392.4 C362.5,1390.97 361.85,1386.42 361.5,1383.8 C361.15,1381.18 361.53,1379.08 360.6,1376.7 C359.67,1374.32 358,1371.88 355.9,1369.5 C353.8,1367.12 350.17,1364.53 348,1362.4 C345.83,1360.27 343.48,1358.37 342.9,1356.7 C342.32,1355.03 343.65,1354.32 344.5,1352.4 C345.35,1350.48 346.58,1347.58 348,1345.2 C349.42,1342.82 351.27,1340.48 353,1338.1 C354.73,1335.72 356.78,1333.17 358.4,1330.9 C360.02,1328.63 361.98,1325.57 362.7,1324.5 Z" fill="#a6efc0" stroke="#555" stroke-width="0.6"/><line x1="347.72" y1="1346.4" x2="377.68" y2="1346.4" stroke="#858585" stroke-width="0.45"/><line x1="344.43" y1="1353.4" x2="380.97" y2="1353.4" stroke="#666" stroke-width="0.55" stroke-dasharray="1.5 0.9"/><line x1="345.08" y1="1358.8" x2="380.32" y2="1358.8" stroke="#858585" stroke-width="0.45"/><line x1="313.3" y1="1400.3" x2="313.3" y2="1402.3" stroke="#aaa" stroke-width="0.6"/><text x="313.3" y="1408.5" font-size="7.3" text-anchor="middle">clinical</text><text x="313.3" y="1415.9" font-size="7.3" text-anchor="middle">setting</text><line x1="362.7" y1="1400.3" x2="362.7" y2="1402.3" stroke="#aaa" stroke-width="0.6"/><text x="362.7" y="1408.5" font-size="7.3" text-anchor="middle">gait-optimized</text><text x="362.7" y="1415.9" font-size="7.3" text-anchor="middle">setting</text><text x="337.5" y="1310.6" font-size="7.2" text-anchor="middle">p = 1.60e-03</text><text x="265.2" y="1350" font-size="7.2" text-anchor="middle" transform="rotate(-90 265.2 1350)">step time (s)</text><rect x="421.6" y="1301.8" width="98.9" height="102.4" fill="#fff" stroke="#bbb" stroke-width="1"/><line x1="419.4" y1="1318.5" x2="421.6" y2="1318.5" stroke="#aaa" stroke-width="0.6"/><text x="418.7" y="1320.95" font-size="6.9" text-anchor="end">0.6</text><line x1="419.4" y1="1348.1" x2="421.6" y2="1348.1" stroke="#aaa" stroke-width="0.6"/><text x="418.7" y="1350.55" font-size="6.9" text-anchor="end">0.5</text><line x1="419.4" y1="1377.6" x2="421.6" y2="1377.6" stroke="#aaa" stroke-width="0.6"/><text x="418.7" y="1380.05" font-size="6.9" text-anchor="end">0.4</text><path d="M446,1315.3 C446.77,1316.02 448.63,1318.17 450.6,1319.6 C452.57,1321.03 455.53,1322.23 457.8,1323.9 C460.07,1325.57 462.85,1327.93 464.2,1329.6 C465.55,1331.27 465.83,1332.23 465.9,1333.9 C465.97,1335.57 465.88,1337.7 464.6,1339.6 C463.32,1341.5 460.7,1343.38 458.2,1345.3 C455.7,1347.22 451.28,1348.95 449.6,1351.1 C447.92,1353.25 448.48,1355.82 448.1,1358.2 C447.72,1360.58 447.65,1363.02 447.3,1365.4 C446.95,1367.78 446.22,1371.32 446,1372.5 L446,1372.5 C445.78,1371.32 445.05,1367.78 444.7,1365.4 C444.35,1363.02 444.28,1360.58 443.9,1358.2 C443.52,1355.82 444.08,1353.25 442.4,1351.1 C440.72,1348.95 436.3,1347.22 433.8,1345.3 C431.3,1343.38 428.68,1341.5 427.4,1339.6 C426.12,1337.7 426.03,1335.57 426.1,1333.9 C426.17,1332.23 426.45,1331.27 427.8,1329.6 C429.15,1327.93 431.93,1325.57 434.2,1323.9 C436.47,1322.23 439.43,1321.03 441.4,1319.6 C443.37,1318.17 445.23,1316.02 446,1315.3 Z" fill="#d1d8d2" stroke="#555" stroke-width="0.6"/><line x1="427.63" y1="1330.8" x2="464.37" y2="1330.8" stroke="#858585" stroke-width="0.45"/><line x1="426.95" y1="1336.3" x2="465.05" y2="1336.3" stroke="#666" stroke-width="0.55" stroke-dasharray="1.5 0.9"/><line x1="430.96" y1="1342.5" x2="461.04" y2="1342.5" stroke="#858585" stroke-width="0.45"/><path d="M495.7,1318.2 C496.42,1319.15 497.97,1322 500,1323.9 C502.03,1325.8 505.63,1327.7 507.9,1329.6 C510.17,1331.5 512.3,1333.63 513.6,1335.3 C514.9,1336.97 515.93,1337.93 515.7,1339.6 C515.47,1341.27 513.98,1343.38 512.2,1345.3 C510.42,1347.22 507.27,1348.95 505,1351.1 C502.73,1353.25 499.88,1355.82 498.6,1358.2 C497.32,1360.58 497.58,1361.82 497.3,1365.4 C497.02,1368.98 497.17,1374.22 496.9,1379.7 C496.63,1385.18 495.9,1395.2 495.7,1398.3 L495.7,1398.3 C495.5,1395.2 494.77,1385.18 494.5,1379.7 C494.23,1374.22 494.38,1368.98 494.1,1365.4 C493.82,1361.82 494.08,1360.58 492.8,1358.2 C491.52,1355.82 488.67,1353.25 486.4,1351.1 C484.13,1348.95 480.98,1347.22 479.2,1345.3 C477.42,1343.38 475.93,1341.27 475.7,1339.6 C475.47,1337.93 476.5,1336.97 477.8,1335.3 C479.1,1333.63 481.23,1331.5 483.5,1329.6 C485.77,1327.7 489.37,1325.8 491.4,1323.9 C493.43,1322 494.98,1319.15 495.7,1318.2 Z" fill="#a6efc0" stroke="#555" stroke-width="0.6"/><line x1="477.51" y1="1336.5" x2="513.89" y2="1336.5" stroke="#858585" stroke-width="0.45"/><line x1="477.17" y1="1341.5" x2="514.23" y2="1341.5" stroke="#666" stroke-width="0.55" stroke-dasharray="1.5 0.9"/><line x1="481.86" y1="1347.2" x2="509.54" y2="1347.2" stroke="#858585" stroke-width="0.45"/><line x1="446" y1="1404.2" x2="446" y2="1406.2" stroke="#aaa" stroke-width="0.6"/><text x="446" y="1412.4" font-size="7.3" text-anchor="middle">clinical</text><text x="446" y="1419.8" font-size="7.3" text-anchor="middle">setting</text><line x1="495.7" y1="1404.2" x2="495.7" y2="1406.2" stroke="#aaa" stroke-width="0.6"/><text x="495.7" y="1412.4" font-size="7.3" text-anchor="middle">gait-optimized</text><text x="495.7" y="1419.8" font-size="7.3" text-anchor="middle">setting</text><text x="470.7" y="1315.5" font-size="7.2" text-anchor="middle">p = 1.59e-05</text><text x="406.2" y="1354" font-size="7.2" text-anchor="middle" transform="rotate(-90 406.2 1354)">step length (m)</text><path d="M533.6,1163.3 C539.41,1163.3 541.9,1166.3 541.9,1173.3 L541.9,1276 C541.9,1282 546.22,1285 549.1,1286 C546.22,1287 541.9,1290 541.9,1296 L541.9,1400.5 C541.9,1407.5 539.41,1410.5 533.6,1410.5 Z" fill="#c0c0c0"/><rect x="592.3" y="1297.2" width="18.4" height="31" fill="#d0d8d2" stroke="#555" stroke-width="0.6"/><rect x="645.3" y="1246.5" width="17.5" height="81.7" fill="#a0fbc2" stroke="#555" stroke-width="0.6"/><rect x="583.4" y="1234.6" width="88.3" height="93.6" fill="none" stroke="#444" stroke-width="0.8"/><line x1="581.2" y1="1234.6" x2="583.4" y2="1234.6" stroke="#444" stroke-width="0.6"/><text x="579.2" y="1236.8" font-size="6.4" text-anchor="end">1.10</text><line x1="581.2" y1="1250.4" x2="583.4" y2="1250.4" stroke="#444" stroke-width="0.6"/><text x="579.2" y="1252.6" font-size="6.4" text-anchor="end">1.08</text><line x1="581.2" y1="1265.9" x2="583.4" y2="1265.9" stroke="#444" stroke-width="0.6"/><text x="579.2" y="1268.1" font-size="6.4" text-anchor="end">1.05</text><line x1="581.2" y1="1281.5" x2="583.4" y2="1281.5" stroke="#444" stroke-width="0.6"/><text x="579.2" y="1283.7" font-size="6.4" text-anchor="end">1.03</text><line x1="581.2" y1="1297.2" x2="583.4" y2="1297.2" stroke="#444" stroke-width="0.6"/><text x="579.2" y="1299.4" font-size="6.4" text-anchor="end">1.00</text><line x1="581.2" y1="1312.8" x2="583.4" y2="1312.8" stroke="#444" stroke-width="0.6"/><text x="579.2" y="1315" font-size="6.4" text-anchor="end">0.98</text><line x1="581.2" y1="1328.2" x2="583.4" y2="1328.2" stroke="#444" stroke-width="0.6"/><text x="579.2" y="1330.4" font-size="6.4" text-anchor="end">0.95</text><line x1="601.5" y1="1328.2" x2="601.5" y2="1330.2" stroke="#444" stroke-width="0.6"/><text x="601.5" y="1338" font-size="6.5" text-anchor="middle">clinical</text><text x="601.5" y="1345.5" font-size="6.5" text-anchor="middle">setting</text><line x1="654.05" y1="1328.2" x2="654.05" y2="1330.2" stroke="#444" stroke-width="0.6"/><text x="654.05" y="1338" font-size="6.5" text-anchor="middle">gait-optimized</text><text x="654.05" y="1345.5" font-size="6.5" text-anchor="middle">setting</text><text x="562.3" y="1280.8" font-size="6.6" text-anchor="middle" transform="rotate(-90 562.3 1280.8)">Normalized WPI</text>
</svg></body></html>
